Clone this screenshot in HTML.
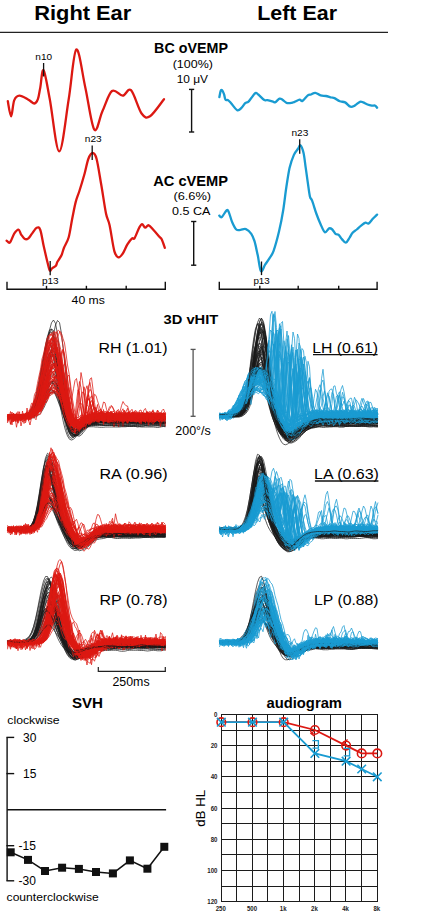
<!DOCTYPE html>
<html><head><meta charset="utf-8"><style>
html,body{margin:0;padding:0;background:#fff;}
body{width:422px;height:913px;overflow:hidden;}
svg{display:block;font-family:"Liberation Sans", sans-serif;}
</style></head><body>
<svg width="422" height="913" viewBox="0 0 422 913">
<rect width="422" height="913" fill="#fff"/>
<text transform="translate(34.2 20.3) scale(1.056 1)" font-size="20.7" font-weight="bold">Right Ear</text>
<text transform="translate(257.2 19.9) scale(1.046 1)" font-size="20.5" font-weight="bold">Left Ear</text>
<line x1="0" y1="32.3" x2="388" y2="32.3" stroke="#222" stroke-width="1.3"/>
<path d="M7.8 101.1C8.3 103.6 10 116.4 11.1 116.3C12.2 116.2 12.8 103.8 14.2 100.4C15.6 97 17 95.8 19.4 95.7C21.8 95.6 25.9 98.4 28.4 99.7C30.9 101 32.8 103.6 34.4 103.5C36 103.4 36.9 101.9 37.9 99.2C38.9 96.5 39.3 92.2 40.3 87.4C41.2 82.6 42 68.3 43.6 70.3C45.2 72.3 47.2 85.7 49.8 99.2C52.4 112.7 56.1 151.4 59.2 151.4C62.4 151.4 65.9 116.2 68.7 99.2C71.5 82.2 73.5 51.5 76.3 49.5C79.1 47.5 82.3 74.1 85.3 87.4C88.3 100.8 91.4 125.7 94.3 129.6C97.2 133.5 99.5 117.4 102.5 111C105.5 104.6 108.6 93.5 112 91C115.4 88.5 119.5 95.8 122.7 95.7C125.9 95.6 127.8 87.2 131 90.2C134.2 93.2 138.4 109.2 141.6 113.5C144.8 117.8 146.3 118.7 150 116.3C153.7 113.9 161.7 102 164 99.2" fill="none" stroke="#dc1812" stroke-width="2.3" stroke-linejoin="round" stroke-linecap="round"/>
<path d="M219.4 97.1C219.6 96.1 220.2 92.3 220.6 91.1C221 89.9 221.4 89.6 222 90.1C222.6 90.6 223.4 92.5 224 94.1C224.6 95.7 224.8 98.7 225.5 99.7C226.2 100.7 227.2 99.5 228.1 100.1C229 100.7 229.6 101.5 231.1 103.2C232.6 104.9 235.5 109.4 237.2 110.2C238.9 111 239.9 109.4 241.2 108.2C242.5 107 244 104.3 245.2 103.2C246.4 102.1 247.2 102.7 248.2 101.8C249.2 100.9 250.1 99.5 251.3 98.1C252.5 96.6 254.1 93.7 255.3 93.1C256.5 92.5 256.8 93.3 258.3 94.5C259.8 95.7 262.8 99.2 264.3 100.1C265.8 101 265.9 99.8 267.4 100.1C268.9 100.4 272.1 101.4 273.4 101.8C274.7 102.2 274.4 102.7 275.4 102.2C276.4 101.7 278.3 99.1 279.5 98.7C280.7 98.3 281.3 99 282.5 99.7C283.7 100.4 285 102.3 286.5 102.8C288 103.3 290.1 103 291.5 102.8C292.9 102.6 293.2 102.3 294.6 101.8C296 101.3 298.3 99.8 299.6 99.7C300.9 99.6 301.1 101.6 302.5 100.9C303.9 100.2 306.4 96.5 307.8 95.4C309.2 94.3 309.8 94.9 311 94.5C312.2 94.1 313.7 92.6 315.3 92.8C316.9 93 318.8 94.9 320.6 95.4C322.4 95.9 324.1 95.7 325.9 96C327.7 96.3 329.9 97.2 331.3 97.5C332.7 97.8 333.1 97.5 334.5 98.1C335.9 98.7 338 100.6 339.8 101.3C341.6 102 343.3 101.5 345.1 102.4C346.9 103.3 348.8 106.2 350.4 106.7C352 107.2 353.1 106.4 354.7 105.6C356.3 104.8 358.6 102.3 360 101.8C361.4 101.3 361.9 102 363.2 102.4C364.4 102.9 366.1 104 367.5 104.5C368.9 105 370.6 105.4 371.8 105.6C373.1 105.8 374.1 105.2 375 105.6C375.9 105.9 376.8 107.3 377.1 107.7" fill="none" stroke="#199bd1" stroke-width="2.3" stroke-linejoin="round" stroke-linecap="round"/>
<path d="M6.6 240.7C7.2 241 8.7 243.6 10 242.4C11.3 241.2 12.8 235.7 14.2 233.6C15.6 231.5 17.3 229.4 18.5 229.6C19.7 229.8 20.2 233.2 21.3 234.8C22.4 236.4 23.7 238.4 24.9 239C26.1 239.6 27.2 239.2 28.4 238.3C29.6 237.4 30.6 235.4 32 233.6C33.4 231.8 35.3 228.3 36.7 227.7C38.1 227.1 39.1 226.8 40.3 230C41.5 233.2 42.6 241.3 43.8 246.6C45 251.9 46.4 258 47.4 262C48.4 266 49 269.5 49.8 270.5C50.6 271.5 51.3 268.9 52.3 268.1C53.3 267.3 55.1 266.7 55.9 265.7C56.7 264.7 56.7 263.3 57.3 262.1C57.9 260.9 58.8 259.8 59.5 258.6C60.2 257.4 60.9 256.8 61.6 255C62.4 253.2 62.8 250.8 64 247.8C65.2 244.8 67.3 242.1 68.7 237.2C70.1 232.3 71.1 224.1 72.3 218.2C73.5 212.3 74.6 206.1 75.8 201.6C77 197.1 77.9 195.7 79.4 191C80.9 186.3 83.2 178.5 84.7 173.2C86.2 167.9 87 162.4 88.3 159C89.6 155.6 91.3 153 92.7 153C94.1 153 95.2 153.7 96.6 159C98 164.3 99.7 175.9 101.3 185C102.9 194.1 104.6 206.8 106 213.5C107.4 220.2 108.2 219 109.6 225.3C111 231.6 112.9 246.1 114.4 251.4C115.9 256.7 117 256.9 118.4 257.3C119.8 257.7 121.2 255.9 122.7 253.7C124.2 251.5 125.8 246.9 127.4 244.3C129 241.7 130.9 239.3 132.1 238.3C133.3 237.3 133.3 240.1 134.5 238.3C135.7 236.5 137.9 230.1 139.2 227.7C140.5 225.3 141.1 224.1 142.1 224.1C143.1 224.1 144.1 227.5 145.2 227.7C146.3 227.9 147.3 224.9 148.7 225.3C150.1 225.7 151.7 228.1 153.5 230C155.3 231.9 158 235.1 159.4 236.7C160.8 238.3 160.9 237.7 161.8 239.5C162.7 241.3 164.3 246.4 164.8 247.8" fill="none" stroke="#dc1812" stroke-width="2.3" stroke-linejoin="round" stroke-linecap="round"/>
<path d="M219.3 215.6C219.7 215.8 220.6 218 221.8 217.1C223 216.2 225.5 211.1 226.7 210.3C227.9 209.5 228 210.5 228.9 212.4C229.8 214.3 230.9 219.2 232.1 222C233.3 224.8 234.9 228.2 236.3 229.5C237.7 230.8 239 230 240.6 229.9C242.2 229.8 244.1 228.4 245.9 229.1C247.7 229.8 249.9 231.8 251.3 233.8C252.7 235.8 253.4 237.6 254.5 241.2C255.6 244.8 256.6 250.1 257.7 255.1C258.8 260.1 259.7 269.5 260.9 271.1C262.1 272.7 263.7 266.8 265.1 264.7C266.5 262.6 268 260.6 269.4 258.3C270.8 256 272 255.2 273.6 250.8C275.2 246.4 277.4 238.3 279 231.6C280.6 224.8 282 217.8 283.2 210.3C284.4 202.8 285.3 193.9 286.4 186.8C287.5 179.7 288.4 173 289.6 167.7C290.9 162.4 292.5 158.1 293.9 154.9C295.3 151.7 297.1 150.1 298.2 148.5C299.3 146.9 299.6 144.6 300.5 145.3C301.4 146 302.6 149 303.5 152.7C304.4 156.4 305 162.7 305.7 167.7C306.4 172.7 307.1 177.8 307.8 182.6C308.5 187.4 309.2 193.4 309.9 196.4C310.6 199.4 311 197.8 312.1 200.7C313.2 203.5 314.9 209.6 316.3 213.5C317.7 217.4 319.2 221.1 320.6 224.2C322 227.3 323.5 231.6 324.9 232.3C326.3 233 327.9 228.9 329.1 228.4C330.3 227.9 331.2 228.6 332.3 229.5C333.4 230.4 334.4 232.9 335.5 233.8C336.6 234.7 337.6 233.9 338.7 234.8C339.8 235.7 340.7 237.8 341.9 239.1C343.1 240.4 344.6 242.9 345.8 242.7C347.1 242.5 348.3 239.7 349.4 238C350.5 236.3 351.4 234.1 352.6 232.7C353.8 231.3 355.4 230.7 356.8 229.5C358.2 228.3 359.7 226.8 361.1 225.7C362.5 224.6 364.1 223.1 365.4 222.7C366.6 222.3 367.4 224.2 368.6 223.5C369.8 222.8 371.4 220.3 372.8 218.8C374.2 217.3 376.4 215.3 377.1 214.6" fill="none" stroke="#199bd1" stroke-width="2.3" stroke-linejoin="round" stroke-linecap="round"/>
<text transform="translate(154.1 53) scale(1.036 1)" font-size="13.8" font-weight="bold">BC oVEMP</text>
<text transform="translate(172.7 67.6) scale(1.075 1)" font-size="11.6">(100%)</text>
<text transform="translate(176.7 82.6) scale(1.027 1)" font-size="11.6">10 μV</text>
<text transform="translate(153.2 185.7) scale(1.061 1)" font-size="13.8" font-weight="bold">AC cVEMP</text>
<text transform="translate(173.4 199.9) scale(1.105 1)" font-size="11.6">(6.6%)</text>
<text transform="translate(172.1 215.3) scale(1.080 1)" font-size="11.6">0.5 CA</text>
<line x1="191.6" y1="89.4" x2="191.6" y2="132" stroke="#111" stroke-width="1.4"/>
<line x1="189" y1="89.4" x2="194.2" y2="89.4" stroke="#111" stroke-width="1.4"/>
<line x1="189" y1="132" x2="194.2" y2="132" stroke="#111" stroke-width="1.4"/>
<line x1="193.7" y1="221.5" x2="193.7" y2="265.2" stroke="#111" stroke-width="1.4"/>
<line x1="191.1" y1="221.5" x2="196.3" y2="221.5" stroke="#111" stroke-width="1.4"/>
<line x1="191.1" y1="265.2" x2="196.3" y2="265.2" stroke="#111" stroke-width="1.4"/>
<text transform="translate(35.3 59.5) scale(1.047 1)" font-size="9.6">n10</text>
<line x1="43.6" y1="63" x2="43.6" y2="76.5" stroke="#111" stroke-width="1.3"/>
<text transform="translate(84.8 141.5) scale(1.057 1)" font-size="9.6">n23</text>
<line x1="92.2" y1="145.4" x2="92.2" y2="160" stroke="#111" stroke-width="1.3"/>
<text transform="translate(291.4 135.9) scale(1.057 1)" font-size="9.6">n23</text>
<line x1="299.7" y1="139.2" x2="299.7" y2="153.8" stroke="#111" stroke-width="1.3"/>
<text transform="translate(41.9 284.1) scale(1.047 1)" font-size="9.6">p13</text>
<line x1="50.2" y1="261" x2="50.2" y2="275.3" stroke="#111" stroke-width="1.3"/>
<text transform="translate(253.4 284.3) scale(1.020 1)" font-size="9.6">p13</text>
<line x1="261.5" y1="261.5" x2="261.5" y2="275.1" stroke="#111" stroke-width="1.3"/>
<line x1="7" y1="289.2" x2="165.3" y2="289.2" stroke="#111" stroke-width="1.4"/>
<line x1="7" y1="281.8" x2="7" y2="289.9" stroke="#111" stroke-width="1.4"/>
<line x1="165.3" y1="281.8" x2="165.3" y2="289.9" stroke="#111" stroke-width="1.4"/>
<line x1="46.5" y1="285.8" x2="46.5" y2="289.9" stroke="#111" stroke-width="1.4"/>
<line x1="86.4" y1="285.8" x2="86.4" y2="289.9" stroke="#111" stroke-width="1.4"/>
<line x1="126.2" y1="285.8" x2="126.2" y2="289.9" stroke="#111" stroke-width="1.4"/>
<line x1="219.3" y1="289.2" x2="377.1" y2="289.2" stroke="#111" stroke-width="1.4"/>
<line x1="219.3" y1="281.8" x2="219.3" y2="289.9" stroke="#111" stroke-width="1.4"/>
<line x1="377.1" y1="281.8" x2="377.1" y2="289.9" stroke="#111" stroke-width="1.4"/>
<line x1="259.8" y1="285.8" x2="259.8" y2="289.9" stroke="#111" stroke-width="1.4"/>
<line x1="298.2" y1="285.8" x2="298.2" y2="289.9" stroke="#111" stroke-width="1.4"/>
<line x1="338.7" y1="285.8" x2="338.7" y2="289.9" stroke="#111" stroke-width="1.4"/>
<text transform="translate(71.6 304) scale(1.053 1)" font-size="11.6">40 ms</text>
<text transform="translate(163.6 324.1) scale(1.130 1)" font-size="13" font-weight="bold">3D vHIT</text>
<line x1="193.1" y1="349.4" x2="193.1" y2="416.3" stroke="#555" stroke-width="1.3"/>
<line x1="190.6" y1="349.4" x2="195.6" y2="349.4" stroke="#555" stroke-width="1.3"/>
<line x1="190.6" y1="416.3" x2="195.6" y2="416.3" stroke="#555" stroke-width="1.3"/>
<text transform="translate(175.3 434.7) scale(1.039 1)" font-size="12">200°/s</text>
<g transform="scale(.25)" fill="none" stroke-linejoin="round">
<g stroke="#1a1a1a" stroke-width="2.8">
<path d="M30 1665l8 0 8 0 8-1 8 0 8-1 8 0 8-1 8-2 8 0 8-1 8-1 8-5 8-7 8-12 8-16 8-22 8-28 8-34 8-36 8-36 8-32 8-23 8-13 8 2 8 20 8 35 8 46 8 52 8 54 8 49 8 42 8 30 8 16 8 4 8-2 8-8 8-11 8-12 8-9 8-7 8-6 8-4 8-2 8-1 8 1 8 0 8 0 8 0 8-1 8-1 8 0 8 0 8 2 8 1 8 1 8-1 8-1 8-2 8 0 8 2 8 1 8 0 8-1 8-1 8 0 8 0 8 1 8-1 8 0 8-1 8 0 8 1 8 1 8 1 8-1 8 0 8 0 8 1 8 1"/>
<path d="M30 1666l8 1 8-1 8-1 8 0 8-1 8-1 8 0 8-1 8 0 8-1 8-1 8-3 8-4 8-5 8-8 8-10 8-12 8-13 8-15 8-16 8-13 8-8 8-3 8 4 8 10 8 15 8 19 8 21 8 24 8 24 8 23 8 19 8 14 8 4 8-2 8-4 8-6 8-5 8-4 8-4 8-3 8-3 8-2 8-2 8-1 8-1 8 1 8 0 8 1 8-1 8 0 8 1 8 0 8 1 8-1 8 0 8 0 8 0 8 1 8 1 8 1 8 0 8 1 8 0 8 0 8 0 8-1 8-2 8-1 8-1 8 0 8 0 8 1 8 2 8 0 8 0 8-1 8 0 8-1"/>
<path d="M30 1662l8 0 8 0 8 1 8 0 8-1 8-1 8-1 8 1 8 0 8 0 8-1 8-2 8-3 8-5 8-8 8-12 8-15 8-20 8-24 8-27 8-23 8-17 8-8 8 5 8 19 8 29 8 35 8 34 8 32 8 26 8 22 8 14 8 6 8 0 8-3 8-4 8-6 8-5 8-5 8-3 8-2 8-2 8-2 8-1 8 0 8 1 8 2 8 1 8 1 8-1 8-2 8-2 8-1 8 2 8 2 8 2 8 0 8-1 8-1 8-1 8 0 8 0 8-1 8 0 8 1 8 0 8 1 8-1 8 0 8 0 8 0 8 0 8 1 8 1 8 0 8 0 8 0 8-1 8-1"/>
<path d="M30 1666l8-1 8 0 8 0 8 0 8 1 8 1 8 0 8 1 8-1 8-2 8-4 8-5 8-9 8-14 8-18 8-25 8-28 8-31 8-31 8-27 8-19 8-7 8 6 8 21 8 32 8 39 8 42 8 42 8 40 8 34 8 26 8 15 8 4 8-4 8-8 8-12 8-10 8-8 8-7 8-4 8-3 8-2 8-1 8 0 8 0 8 0 8 0 8-1 8-1 8 0 8 1 8 0 8 0 8-1 8-1 8 1 8 0 8 1 8 0 8 0 8 0 8-1 8 0 8-1 8 0 8 1 8 1 8 0 8 0 8-1 8 0 8 0 8 1 8 0 8-1 8 0 8 1 8 1 8 2"/>
<path d="M30 1670l8 0 8 0 8 0 8-1 8-2 8-1 8 0 8 2 8 2 8 1 8 1 8 0 8-1 8-3 8-5 8-6 8-10 8-13 8-17 8-22 8-25 8-25 8-21 8-16 8-9 8 2 8 16 8 27 8 34 8 35 8 35 8 31 8 25 8 16 8 8 8 0 8-5 8-8 8-8 8-7 8-6 8-4 8-3 8-1 8 0 8 0 8 0 8 0 8 0 8 0 8 1 8 1 8 1 8 0 8 1 8 1 8 1 8 0 8-1 8 0 8-1 8-1 8 0 8-1 8-1 8-1 8 0 8 1 8 0 8 1 8 0 8 0 8 0 8 0 8 0 8-1 8 0 8 0 8 0"/>
<path d="M30 1667l8-2 8-2 8-1 8 0 8-1 8 0 8 0 8 0 8 0 8 1 8-1 8-2 8-6 8-9 8-12 8-16 8-19 8-21 8-20 8-16 8-11 8-3 8 7 8 17 8 25 8 28 8 30 8 28 8 26 8 23 8 19 8 10 8 1 8-4 8-7 8-10 8-9 8-7 8-5 8-3 8-1 8-1 8-1 8-1 8-1 8-1 8-1 8 0 8 0 8 0 8 1 8 2 8 0 8 0 8-1 8 0 8-1 8-2 8 0 8 1 8 0 8 1 8 0 8 0 8 0 8 0 8 0 8 1 8 0 8 1 8 1 8 1 8 0 8 0 8-1 8-2 8-1 8 0 8 0"/>
<path d="M30 1667l8 0 8 1 8-1 8 0 8-2 8-1 8 0 8 0 8 0 8-1 8-4 8-8 8-11 8-16 8-22 8-28 8-35 8-39 8-39 8-31 8-18 8-2 8 17 8 35 8 48 8 53 8 52 8 47 8 40 8 30 8 17 8 4 8-4 8-10 8-13 8-12 8-10 8-7 8-6 8-4 8-3 8 0 8 1 8 2 8 0 8-1 8 0 8 0 8 0 8 0 8-1 8 0 8 0 8 0 8 0 8 0 8 0 8 1 8 0 8 1 8 0 8-1 8-1 8 0 8 0 8 0 8 0 8 1 8 0 8 1 8-1 8 0 8 0 8-1 8-1 8-1 8-1 8 0 8 0"/>
<path d="M30 1664l8 0 8-1 8-1 8-1 8 0 8 1 8 1 8 0 8-1 8-3 8-5 8-8 8-13 8-19 8-26 8-35 8-44 8-49 8-49 8-45 8-34 8-16 8 6 8 31 8 52 8 63 8 66 8 62 8 52 8 41 8 30 8 18 8 7 8-1 8-6 8-7 8-8 8-5 8-4 8-5 8-4 8-4 8-2 8-1 8 0 8 1 8 2 8 1 8 0 8 0 8 0 8 1 8 0 8 0 8 1 8 0 8 0 8 0 8 1 8 1 8 0 8 0 8-1 8-1 8-1 8 0 8-1 8 0 8 1 8 1 8 1 8 0 8-1 8 0 8 0 8 0 8 0 8 1 8 1"/>
<path d="M30 1669l8-1 8-2 8-1 8 1 8 0 8 1 8 0 8 0 8-1 8-1 8-2 8-5 8-8 8-12 8-18 8-24 8-32 8-37 8-38 8-34 8-24 8-12 8 3 8 20 8 35 8 45 8 51 8 50 8 47 8 38 8 26 8 13 8 2 8-5 8-9 8-12 8-10 8-9 8-5 8-4 8-2 8-1 8 0 8-1 8 0 8-1 8 0 8-2 8-2 8 0 8 1 8 1 8 0 8 0 8 1 8 0 8 0 8 0 8 1 8 0 8-1 8-1 8 0 8 0 8 0 8 1 8 0 8-1 8-2 8 0 8 0 8 0 8 0 8 0 8 1 8 1 8 1 8 0 8 1"/>
<path d="M30 1663l8 0 8 1 8 0 8 0 8 0 8 1 8 0 8-1 8-1 8-1 8-2 8-4 8-5 8-8 8-9 8-13 8-17 8-19 8-20 8-18 8-13 8-9 8-1 8 11 8 22 8 30 8 30 8 29 8 25 8 22 8 18 8 13 8 6 8-1 8-4 8-9 8-10 8-10 8-8 8-6 8-4 8-1 8-1 8 0 8-1 8-1 8 0 8 1 8 0 8 1 8 0 8 0 8 0 8 0 8 0 8-1 8 0 8-1 8-1 8-1 8 0 8 2 8 1 8 1 8-1 8-2 8 0 8 0 8 1 8 1 8 1 8 0 8-1 8-2 8 0 8 0 8 0 8 0 8 0"/>
<path d="M30 1662l8 1 8 1 8 1 8 1 8 1 8 1 8 0 8-1 8-1 8-1 8-4 8-5 8-7 8-11 8-16 8-19 8-24 8-27 8-26 8-22 8-15 8-3 8 11 8 27 8 34 8 37 8 34 8 30 8 24 8 19 8 14 8 7 8 0 8-4 8-7 8-7 8-7 8-7 8-6 8-5 8-4 8-2 8-1 8-1 8 1 8 1 8 1 8-2 8-2 8-1 8 0 8 1 8 1 8 1 8 1 8 0 8 0 8 1 8 1 8 0 8-1 8-1 8 0 8 0 8 0 8 0 8 0 8-1 8 0 8 0 8 0 8 0 8-1 8 1 8 0 8 2 8 1 8 0 8-1"/>
<path d="M30 1667l8 1 8-1 8-1 8 0 8-1 8 0 8-1 8-1 8 0 8 1 8 0 8-1 8-5 8-8 8-14 8-19 8-23 8-26 8-30 8-30 8-26 8-20 8-10 8 3 8 19 8 31 8 40 8 45 8 45 8 40 8 33 8 22 8 9 8 0 8-7 8-11 8-11 8-11 8-9 8-6 8-3 8-2 8-1 8 0 8-1 8-2 8 0 8 1 8 1 8 2 8 1 8 0 8-1 8 0 8 0 8 1 8 0 8 1 8 1 8 0 8 1 8 0 8 0 8-1 8-1 8 0 8-1 8 1 8 0 8-1 8-1 8 0 8 0 8 0 8-1 8 0 8-1 8 1 8 0"/>
<path d="M30 1667l8 0 8-1 8-1 8 0 8 1 8 1 8 0 8 0 8-1 8-1 8-2 8-3 8-3 8-5 8-7 8-10 8-12 8-12 8-11 8-11 8-10 8-7 8-4 8 4 8 13 8 19 8 23 8 22 8 22 8 19 8 13 8 7 8 1 8-4 8-6 8-7 8-6 8-6 8-5 8-2 8-2 8 0 8-1 8 0 8 1 8 1 8 1 8 0 8-1 8 0 8 0 8-1 8 0 8 0 8 1 8 0 8 0 8 0 8 0 8 1 8 0 8 1 8 0 8 0 8-1 8 0 8-1 8 0 8-1 8 0 8 1 8 2 8 0 8-1 8-1 8-1 8 0 8 0 8 0"/>
<path d="M30 1670l8 1 8-1 8 0 8-1 8 0 8 0 8 0 8-1 8-1 8-2 8-2 8-2 8-3 8-4 8-7 8-8 8-11 8-14 8-15 8-13 8-11 8-7 8-3 8 3 8 10 8 16 8 20 8 23 8 24 8 24 8 23 8 16 8 7 8 0 8-4 8-7 8-7 8-6 8-5 8-4 8-3 8-2 8-2 8-1 8 0 8 0 8 0 8-1 8-1 8-1 8 0 8 1 8 2 8 1 8 0 8 0 8 0 8-1 8 0 8 1 8 0 8-1 8 0 8 0 8-1 8 0 8 1 8 0 8 0 8 1 8 0 8 0 8 0 8 0 8 0 8 0 8-1 8 0 8 0"/>
<path d="M30 1666l8-1 8 1 8 1 8 1 8 0 8 0 8-1 8-2 8-2 8-4 8-7 8-11 8-18 8-25 8-33 8-42 8-48 8-49 8-44 8-34 8-19 8 0 8 28 8 51 8 63 8 64 8 59 8 49 8 39 8 28 8 18 8 6 8-1 8-7 8-8 8-8 8-7 8-4 8-2 8-1 8-1 8-2 8-2 8-2 8-1 8 0 8 0 8-1 8 1 8 1 8 1 8 0 8-2 8-1 8-1 8-1 8 1 8 1 8 1 8 1 8 1 8 0 8 0 8 0 8-1 8 1 8 0 8 0 8 0 8 1 8 0 8 0 8 0 8 0 8 0 8-1 8 0 8 0 8-1"/>
<path d="M30 1662l8 0 8 0 8 1 8 0 8 1 8-1 8 0 8-1 8-1 8-2 8-4 8-8 8-11 8-15 8-21 8-24 8-29 8-34 8-34 8-33 8-28 8-21 8-10 8 5 8 26 8 44 8 53 8 55 8 51 8 42 8 31 8 18 8 8 8 0 8-5 8-8 8-8 8-7 8-5 8-3 8-3 8-3 8-2 8-2 8 0 8 2 8 2 8 2 8 1 8 0 8 0 8 0 8 0 8-1 8-3 8-2 8-1 8 2 8 2 8 2 8-1 8 0 8 0 8 0 8 0 8-1 8-1 8-1 8-1 8 0 8 0 8 1 8 1 8 0 8-1 8-1 8 0 8 0 8 1"/>
<path d="M30 1668l8 0 8 1 8 0 8-1 8 0 8 0 8 0 8-1 8-1 8-1 8-1 8-2 8-5 8-9 8-12 8-15 8-16 8-18 8-18 8-16 8-12 8-7 8 0 8 10 8 19 8 24 8 28 8 27 8 25 8 22 8 16 8 10 8 4 8-1 8-4 8-5 8-5 8-4 8-3 8-2 8-2 8 0 8 0 8 0 8-2 8-1 8-1 8 0 8 0 8 0 8 0 8 1 8 1 8 0 8 0 8 1 8 0 8 0 8 0 8 0 8-1 8-1 8 0 8 0 8 2 8 2 8 2 8-1 8-2 8-2 8-1 8 0 8 0 8 0 8 0 8 1 8 1 8 0 8 0"/>
<path d="M30 1663l8 0 8 1 8 1 8 0 8 0 8 0 8 0 8 0 8 0 8 0 8-1 8-2 8-4 8-6 8-9 8-14 8-20 8-25 8-30 8-31 8-30 8-21 8-10 8 5 8 19 8 31 8 38 8 42 8 41 8 37 8 28 8 17 8 7 8 0 8-6 8-9 8-10 8-8 8-7 8-4 8-3 8-1 8-1 8 0 8 0 8 0 8-1 8 0 8-1 8 0 8-1 8-1 8 0 8-1 8 0 8 1 8 1 8 1 8 0 8-1 8-1 8 0 8 0 8 1 8 1 8 1 8 0 8 0 8 0 8 0 8 0 8 0 8 1 8 1 8 0 8-1 8-1 8 0 8 0"/>
<path d="M30 1666l8 0 8 1 8 0 8 0 8 0 8-1 8-1 8-1 8-1 8 0 8-2 8-4 8-5 8-10 8-14 8-19 8-23 8-25 8-26 8-25 8-21 8-13 8-2 8 12 8 24 8 30 8 34 8 34 8 32 8 28 8 22 8 16 8 8 8 2 8-1 8-3 8-3 8-4 8-3 8-1 8-2 8-1 8 0 8-1 8 0 8-1 8 0 8 0 8 0 8 0 8 0 8 0 8 1 8 0 8 0 8 1 8 1 8 2 8 0 8-1 8-2 8-2 8 0 8 0 8 0 8 0 8 0 8 0 8 0 8 0 8 0 8 1 8 0 8 0 8 0 8 0 8 0 8-1 8-1"/>
<path d="M30 1669l8 0 8-1 8-1 8-2 8-2 8 1 8 1 8 1 8-1 8 0 8-2 8-2 8-3 8-7 8-8 8-11 8-13 8-15 8-15 8-13 8-10 8-5 8 2 8 12 8 18 8 22 8 21 8 19 8 18 8 16 8 16 8 11 8 4 8-1 8-5 8-7 8-7 8-6 8-6 8-5 8-3 8-1 8 0 8 1 8 0 8 0 8 1 8 0 8 1 8 0 8 0 8 0 8 0 8 0 8-1 8-1 8-1 8 1 8 0 8 0 8 1 8 0 8 0 8 0 8-1 8 1 8 0 8 0 8 0 8 0 8-1 8-1 8 0 8-1 8-1 8 1 8 2 8 2 8 1"/>
<path d="M30 1667l8-2 8-1 8 1 8 1 8 1 8 0 8-1 8-2 8-3 8-6 8-7 8-10 8-15 8-20 8-27 8-31 8-35 8-35 8-34 8-29 8-20 8-8 8 8 8 28 8 43 8 53 8 53 8 48 8 42 8 34 8 23 8 11 8 1 8-3 8-6 8-6 8-7 8-6 8-5 8-2 8-2 8-1 8 0 8 0 8-1 8 1 8 0 8 1 8 1 8 0 8 1 8 0 8 0 8-2 8-1 8-1 8-1 8 0 8 0 8 1 8 1 8 2 8 0 8 0 8 0 8 0 8 0 8-1 8 0 8-1 8-1 8 0 8-1 8 0 8 1 8 1 8 1 8 1 8-1"/>
<path d="M30 1667l8 0 8 0 8 0 8 1 8 1 8 0 8 0 8-1 8-2 8-3 8-5 8-8 8-11 8-15 8-20 8-23 8-27 8-30 8-31 8-30 8-24 8-14 8-4 8 13 8 32 8 45 8 52 8 52 8 47 8 37 8 25 8 11 8 2 8-5 8-7 8-7 8-7 8-5 8-3 8-2 8-2 8-1 8-1 8 1 8 0 8 0 8 0 8-1 8-1 8 0 8 1 8 1 8 0 8 0 8-1 8 0 8 0 8 0 8 0 8 1 8 1 8 1 8 0 8-1 8-2 8 0 8 0 8 1 8 0 8 0 8-1 8 0 8-1 8 1 8 0 8 1 8-1 8-1 8-1"/>
<path d="M30 1667l8 0 8 1 8-1 8-1 8-1 8 0 8 1 8-1 8-2 8-6 8-10 8-14 8-19 8-27 8-34 8-40 8-43 8-41 8-34 8-21 8-5 8 20 8 42 8 56 8 60 8 56 8 48 8 40 8 31 8 22 8 13 8 3 8-3 8-8 8-10 8-11 8-10 8-6 8-4 8-3 8-1 8-1 8-1 8-1 8-1 8 0 8 1 8 1 8 0 8-1 8-1 8 0 8 1 8 0 8 1 8 1 8 0 8 0 8 0 8-1 8 0 8 0 8 0 8 0 8 1 8 1 8 0 8 0 8-2 8-1 8-1 8-1 8 0 8 1 8 1 8 0 8 0 8 0 8-1"/>
<path d="M30 1669l8 1 8 1 8 0 8-1 8-1 8-1 8 0 8-1 8-2 8-1 8 0 8-1 8-2 8-4 8-7 8-12 8-19 8-30 8-40 8-49 8-55 8-56 8-51 8-38 8-18 8 8 8 45 8 71 8 81 8 77 8 64 8 49 8 35 8 22 8 10 8 0 8-5 8-10 8-10 8-9 8-8 8-5 8-2 8-1 8-1 8-1 8 0 8 0 8 0 8-1 8 0 8-1 8 1 8 0 8 0 8 0 8-1 8-1 8-1 8 1 8 2 8 1 8 0 8 0 8 0 8 0 8 0 8 0 8 1 8 0 8 0 8 0 8 0 8-1 8 0 8 0 8 1 8 0 8-1"/>
<path d="M30 1660l8-1 8-1 8 0 8 0 8 1 8 1 8 1 8 0 8-1 8-2 8-2 8-4 8-6 8-8 8-13 8-18 8-24 8-28 8-31 8-34 8-31 8-26 8-17 8-6 8 9 8 23 8 35 8 41 8 45 8 45 8 42 8 36 8 29 8 19 8 7 8-2 8-8 8-11 8-10 8-9 8-7 8-5 8-4 8-2 8-1 8 1 8 0 8-1 8-2 8 0 8 0 8 1 8 0 8 0 8 0 8 0 8-1 8 0 8 0 8 0 8 0 8 0 8 2 8 1 8 0 8-1 8-1 8 0 8-1 8 0 8 0 8 0 8-1 8 0 8 0 8-1 8 1 8 0 8-1"/>
<path d="M30 1665l8 1 8 1 8 0 8-1 8-2 8-1 8 0 8-1 8-1 8-1 8-4 8-6 8-12 8-19 8-25 8-30 8-33 8-35 8-35 8-29 8-21 8-10 8 4 8 21 8 35 8 45 8 49 8 49 8 45 8 38 8 28 8 18 8 6 8 0 8-6 8-10 8-10 8-8 8-6 8-4 8-4 8-2 8-1 8-1 8 1 8 0 8 0 8-1 8-1 8 0 8 1 8 1 8 1 8 1 8 0 8 0 8 0 8-1 8 0 8 0 8 0 8 1 8 1 8 0 8 0 8-1 8 0 8-1 8-2 8-1 8 0 8 1 8 1 8 0 8 1 8 2 8 1 8 0 8-1"/>
</g>
<g stroke="#dc1812" stroke-width="3">
<path d="M30 1668l6-10 6 39 6-18 6-25 6 31 6-2 6-26 6 19 6 8 6-23 6 4 6 9 6-13 6-1 6 8 6-7 6-6 6 2 6-6 6-10 6-3 6-10 6-21 6-17 6-17 6-28 6-24 6-14 6-17 6-16 6-4 6 0 6-1 6 11 6 15 6 11 6 22 6 28 6 18 6 17 6 21 6 3 6-25 6-35 6-33 6-8 6 37 6 56 6 35 6 19 6 11 6-1 6-7 6 0 6-3 6-7 6 1 6 1 6-6 6 1 6 5 6-5 6-3 6 7 6 0 6-5 6 1 6 1 6-3 6 5 6 6 6-7 6-5 6 4 6-2 6-3 6 7 6 2 6-6 6 3 6 4 6-6 6-2 6 5 6-2 6-2 6 5 6-1 6-5 6 5 6 4 6-6 6 1 6 3 6-5 6-1 6 5 6-2 6-1 6 6 6 0 6-5 6 1 6 3 8-8"/>
<path d="M30 1666l6 0 6-3 6 1 6 3 6-2 6-1 6 2 6 1 6-3 6-1 6 1 6-2 6-3 6 0 6-3 6-10 6-7 6-7 6-12 6-16 6-16 6-24 6-34 6-32 6-31 6-35 6-32 6-23 6-17 6-14 6 0 6 10 6 16 6 22 6 32 6 35 6 34 6 36 6 38 6 32 6 27 6 27 6 23 6 13 6 8 6-1 6-22 6-42 6-42 6-24 6 4 6 30 6 38 6 23 6 8 6 2 6-2 6-5 6 2 6 4 6-7 6-5 6 14 6 7 6-18 6-7 6 21 6 1 6-27 6 0 6 28 6 1 6-25 6 4 6 22 6-5 6-19 6 5 6 12 6-4 6-7 6 4 6 6 6 0 6-1 6-1 6 0 6 1 6 0 6-2 6 0 6 3 6-1 6-3 6 1 6 2 6-2 6-1 6 2 6-1 6-2 6 2 6 1 6-4 8 1"/>
</g>
<g stroke="#1a1a1a" stroke-width="2.8">
<path d="M30 1667l8 0 8 0 8 0 8 0 8 0 8 0 8 0 8 1 8 0 8-2 8-3 8-6 8-11 8-17 8-25 8-34 8-44 8-52 8-55 8-53 8-45 8-30 8-11 8 14 8 42 8 63 8 72 8 71 8 64 8 51 8 37 8 23 8 10 8 3 8-2 8-5 8-5 8-4 8-4 8-2 8-1 8 0 8 0 8 1 8 0 8 1 8 0 8 0 8-1 8 0 8 0 8 0 8 0 8 0 8 0 8 0 8-1 8 0 8 0 8-1 8 0 8 0 8-1 8 1 8 1 8 0 8 1 8 0 8 0 8 0 8 0 8 0 8 0 8 1 8 1 8-1 8-2 8-1 8 1"/>
</g>
<g stroke="#dc1812" stroke-width="3">
<path d="M30 1665l6 4 6-2 6-3 6 3 6 1 6 0 6 5 6-1 6-5 6 0 6-2 6-1 6 2 6-5 6-10 6-3 6-9 6-17 6-17 6-27 6-35 6-34 6-37 6-38 6-27 6-23 6-20 6-2 6 9 6 15 6 28 6 33 6 37 6 44 6 40 6 33 6 35 6 28 6 19 6 17 6 10 6 3 6 2 6-2 6-9 6-4 6-4 6-7 6-3 6-2 6-7 6-1 6-1 6-4 6 2 6 1 6-5 6 1 6 4 6-2 6 1 6 2 6-4 6-1 6 4 6 0 6 2 6 1 6-2 6 1 6 1 6-4 6-2 6 2 6-3 6-2 6 9 6-9 6-1 6 13 6-18 6 11 6 8 6-20 6 22 6 0 6-14 6 11 6-7 6-4 6 5 6-1 6-1 6 2 6 5 6-2 6-2 6 2 6-1 6-1 6 1 6-2 6 1 6 1 8-6"/>
<path d="M30 1667l6 2 6-3 6-1 6 4 6 2 6-2 6-2 6 1 6-1 6-2 6 0 6-2 6-5 6-2 6 0 6-4 6-7 6-10 6-10 6-14 6-19 6-20 6-22 6-28 6-27 6-25 6-24 6-21 6-16 6-10 6-8 6 1 6 9 6 15 6 21 6 27 6 33 6 32 6 29 6 29 6 30 6 24 6 20 6 16 6 10 6 5 6 3 6 1 6-4 6-5 6-4 6-3 6-3 6-2 6 1 6 1 6-1 6 0 6 0 6-3 6-1 6 3 6 1 6-1 6-1 6 1 6 0 6-2 6 0 6 2 6-1 6-2 6 1 6 2 6 0 6-4 6 1 6 8 6-5 6-9 6 14 6-3 6-20 6 25 6 7 6-33 6 22 6 17 6-35 6 6 6 21 6-15 6 0 6 9 6-6 6-1 6 3 6-1 6 0 6-1 6-3 6 0 6 1 6-1 8 0"/>
<path d="M30 1661l6 8 6-8 6 4 6 2 6-9 6 9 6-4 6-2 6 7 6-8 6 7 6 2 6-8 6 3 6-7 6-4 6 4 6-7 6-8 6-5 6-13 6-21 6-13 6-29 6-32 6-10 6-43 6-26 6-4 6-43 6 7 6 4 6-25 6 48 6 6 6 4 6 65 6-7 6 34 6 58 6-9 6 53 6 26 6-9 6 48 6-9 6-5 6 26 6-29 6 5 6 4 6-26 6 10 6-12 6-14 6 9 6-14 6 6 6 4 6-9 6 10 6-5 6 0 6 5 6-10 6 5 6-2 6-4 6 9 6-8 6 3 6 3 6-8 6 7 6-4 6 1 6 6 6-9 6 7 6-1 6-7 6 7 6-6 6 4 6 5 6-8 6 9 6-3 6-4 6 6 6-7 6 6 6 0 6-8 6 9 6-6 6 0 6 5 6-7 6 9 6-3 6-8 6 7 6-6 8 8"/>
<path d="M30 1675l6-2 6-7 6 5 6 5 6-5 6-1 6 8 6 0 6-7 6 1 6 5 6-6 6-4 6 4 6-5 6-9 6-2 6-5 6-21 6-24 6-19 6-30 6-39 6-32 6-31 6-39 6-30 6-15 6-11 6-5 6 15 6 23 6 19 6 30 6 43 6 35 6 29 6 39 6 37 6 26 6 27 6 29 6 15 6 4 6 8 6 3 6-9 6-8 6-6 6-25 6-39 6-36 6-26 6-7 6 25 6 43 6 23 6 5 6 8 6 1 6-8 6 5 6 1 6-8 6 10 6-1 6-5 6 15 6-19 6 4 6 29 6-37 6 5 6 32 6-42 6 9 6 31 6-31 6 5 6 16 6-14 6 2 6 3 6-3 6-2 6-4 6 5 6 4 6-7 6 0 6 6 6-4 6-3 6 7 6 1 6-7 6 2 6 7 6-5 6-6 6 5 6 0 6-6 6 3 8 4"/>
<path d="M30 1667l6 0 6-4 6 3 6 3 6-7 6 4 6 18 6-5 6-19 6 13 6 21 6-17 6-21 6 24 6 20 6-29 6-22 6 23 6 7 6-32 6-15 6 14 6-5 6-29 6-17 6-3 6-17 6-29 6-15 6-6 6-12 6-11 6 3 6 8 6 2 6 9 6 25 6 21 6 11 6 20 6 28 6 17 6 7 6 14 6 16 6 2 6 0 6 6 6 0 6-11 6-5 6 3 6-5 6-12 6-10 6-17 6-32 6-25 6 5 6 21 6 19 6 18 6 15 6 2 6-5 6 4 6 8 6-2 6-4 6 4 6 2 6-7 6-2 6 8 6 1 6-4 6 2 6 6 6-5 6-5 6 5 6 3 6-6 6-2 6 5 6 0 6-6 6 4 6 7 6-4 6-5 6 3 6 3 6-7 6-3 6 8 6 3 6-5 6 0 6 4 6-4 6-6 6 5 6 4 8-9"/>
<path d="M30 1665l6-2 6 1 6 0 6-3 6 1 6 3 6 0 6-4 6 2 6 0 6 1 6 4 6-4 6-5 6 9 6-5 6-16 6 8 6 1 6-30 6-9 6-1 6-39 6-39 6-17 6-33 6-44 6-24 6-19 6-21 6-7 6 6 6 13 6 15 6 24 6 33 6 28 6 32 6 40 6 28 6 21 6 35 6 20 6 3 6 24 6 16 6-17 6 10 6 15 6-29 6-4 6 23 6-23 6-20 6 22 6-11 6-23 6 20 6 6 6-19 6 9 6 9 6-14 6 0 6 8 6-7 6-3 6 9 6-1 6-5 6 3 6 3 6-7 6 0 6 9 6-2 6-6 6 10 6 1 6-17 6 6 6 11 6-14 6-2 6 13 6-8 6-7 6 16 6-3 6-12 6 11 6 5 6-11 6 4 6 5 6-7 6 0 6 5 6-6 6-3 6 5 6 2 6-2 6 3 8 3"/>
<path d="M30 1659l6 22 6-7 6-16 6 29 6-18 6-3 6 24 6-26 6 4 6 12 6-17 6 10 6 1 6-9 6 3 6-7 6-3 6-2 6-9 6-8 6-7 6-13 6-13 6-12 6-11 6-11 6-8 6-7 6-7 6-3 6 4 6 7 6 8 6 12 6 14 6 16 6 19 6 18 6 15 6 12 6 12 6 8 6 3 6 1 6 0 6-4 6-3 6-3 6-4 6-3 6-2 6-3 6-3 6 1 6 0 6-3 6-3 6 2 6 2 6 1 6 1 6 1 6-1 6-3 6 0 6 0 6 0 6 0 6-1 6-2 6 1 6 3 6 2 6 0 6-1 6 1 6-2 6-1 6 2 6-6 6 3 6 3 6-4 6 3 6-4 6 8 6-6 6-4 6 24 6-32 6 8 6 29 6-46 6 22 6 18 6-32 6 14 6 3 6-3 6-2 6 5 6 10 6-12 6 2 8-3"/>
<path d="M30 1663l6-1 6 6 6-1 6 1 6 2 6-6 6 0 6 4 6-4 6 0 6 5 6-5 6-2 6 6 6-1 6-6 6 2 6-5 6-7 6 1 6-6 6-13 6-7 6-8 6-14 6-7 6-8 6-14 6-4 6-2 6-9 6-5 6-5 6-28 6-48 6-49 6-24 6 34 6 78 6 71 6 50 6 32 6 11 6 7 6 12 6 1 6-6 6 1 6-2 6-6 6-2 6-3 6-9 6-2 6 0 6-4 6 2 6-1 6-7 6 2 6 4 6-5 6 0 6 5 6-4 6 0 6 4 6-4 6-1 6 8 6-4 6-6 6 5 6-1 6-2 6 4 6 0 6-4 6 2 6-1 6-4 6 5 6 1 6-7 6 2 6 4 6-3 6 3 6 6 6-4 6-2 6 0 6-5 6 1 6 5 6-2 6 1 6 6 6-2 6-2 6 5 6-2 6-4 6 4 8-4"/>
<path d="M30 1662l6 0 6-5 6 6 6 3 6-6 6 2 6 5 6-3 6-1 6 5 6-6 6-7 6 3 6-2 6-6 6 3 6 0 6-10 6-8 6-9 6-19 6-22 6-22 6-28 6-36 6-36 6-28 6-34 6-37 6-16 6-5 6-15 6 1 6 32 6 26 6 22 6 52 6 50 6 21 6 33 6 49 6 20 6 9 6 29 6 13 6-11 6 7 6 11 6-11 6-8 6 7 6-6 6-12 6 3 6 0 6-8 6 3 6 5 6-6 6 2 6 5 6-6 6-2 6 6 6-3 6-4 6 3 6-2 6-4 6 4 6 1 6-5 6 3 6 2 6-5 6 3 6 7 6-6 6-1 6 7 6-4 6-3 6 5 6-3 6-3 6 7 6-1 6-8 6 2 6 3 6-5 6 2 6 2 6-4 6 3 6 5 6-5 6-3 6 6 6-2 6-4 6 4 6-1 6-5 8 7"/>
<path d="M30 1660l6 2 6 2 6-1 6 1 6 4 6-1 6-3 6 1 6 1 6-4 6-1 6 4 6 1 6-6 6-1 6 1 6-2 6-6 6-4 6-4 6-8 6-11 6-10 6-10 6-13 6-11 6-8 6-12 6-14 6-7 6-2 6-3 6 3 6 13 6 14 6 12 6 17 6 21 6 17 6 9 6 12 6 14 6 11 6 8 6 12 6 8 6 0 6 0 6 0 6-3 6-8 6-6 6-3 6-6 6-6 6 0 6 3 6-1 6-3 6 1 6 0 6-3 6-1 6 1 6-2 6-1 6 2 6 6 6 0 6-9 6 9 6 1 6-17 6 14 6 5 6-15 6 8 6 2 6-5 6 2 6 0 6 2 6 2 6-1 6 0 6 2 6-2 6-1 6 3 6 1 6-5 6-2 6 4 6 0 6-4 6-1 6 4 6-2 6-3 6 1 6 3 6 1 6-2 6 1 8 1"/>
<path d="M30 1663l6-1 6-1 6 0 6 7 6 3 6-2 6 2 6 2 6-2 6-6 6 6 6 9 6-16 6-6 6 20 6-5 6-16 6 7 6 0 6-19 6-15 6-10 6-20 6-30 6-27 6-29 6-41 6-37 6-32 6-27 6-17 6-8 6 5 6 21 6 26 6 34 6 40 6 40 6 42 6 34 6 28 6 25 6 16 6 15 6 12 6 2 6 1 6-3 6-3 6 0 6-3 6-3 6-2 6-5 6 1 6 0 6-2 6 0 6-2 6-2 6 2 6-2 6 2 6 1 6-2 6 2 6-1 6 1 6 4 6-2 6-2 6 0 6-2 6 0 6 1 6-1 6 0 6-1 6 1 6 3 6-4 6 0 6 2 6-1 6 2 6-2 6-1 6 3 6 0 6 1 6-1 6-4 6 3 6 0 6-1 6 0 6-2 6 2 6 1 6-3 6 4 6 0 6-3 6 2 8 0"/>
</g>
<g stroke="#1a1a1a" stroke-width="2.8">
<path d="M30 1666l8 1 8 0 8 1 8 0 8 0 8 0 8 0 8-2 8-2 8-3 8-4 8-7 8-14 8-21 8-31 8-41 8-50 8-54 8-52 8-42 8-25 8-3 8 22 8 46 8 62 8 67 8 66 8 57 8 47 8 32 8 20 8 6 8 0 8-3 8-7 8-7 8-8 8-6 8-4 8-3 8-1 8-1 8 0 8 0 8 0 8 0 8-1 8 0 8 0 8 1 8 0 8 0 8 1 8 0 8 0 8 1 8 0 8 0 8 0 8 0 8 0 8 1 8 0 8 1 8 1 8-1 8-1 8-1 8-1 8 0 8 0 8 0 8 0 8 0 8 0 8 1 8 0 8 0 8-1"/>
</g>
<g stroke="#dc1812" stroke-width="3">
<path d="M30 1671l6-3 6-3 6 4 6 2 6-3 6 0 6 2 6-2 6-2 6 3 6 1 6-5 6 0 6 7 6 0 6-5 6-2 6-2 6-8 6-6 6-1 6-6 6-14 6-12 6-9 6-16 6-18 6-10 6-9 6-11 6-8 6-1 6 1 6 3 6 12 6 16 6 12 6 15 6 25 6 19 6 14 6 17 6 16 6 6 6 1 6 3 6 1 6-3 6-5 6-4 6-5 6-4 6 2 6 0 6-8 6-5 6 4 6 3 6-3 6-1 6 5 6 1 6-10 6 5 6 7 6-16 6 5 6 8 6-17 6 15 6 8 6-23 6 21 6-3 6-25 6 35 6-11 6-28 6 37 6-12 6-22 6 33 6-13 6-14 6 23 6-11 6-4 6 12 6-10 6 4 6 6 6-7 6 5 6 4 6-8 6-2 6 6 6-1 6-3 6 1 6 1 6-2 6 0 6 3 8-1"/>
<path d="M30 1677l6-10 6 2 6 9 6-8 6 5 6 4 6-12 6 6 6 6 6-8 6 9 6 0 6-14 6 12 6 1 6-18 6 9 6-3 6-23 6 4 6-10 6-32 6 2 6-11 6-40 6 1 6-16 6-42 6 15 6-5 6-27 6 32 6 11 6-12 6 42 6 23 6-4 6 43 6 33 6-10 6 30 6 33 6-16 6 23 6 21 6-31 6 14 6 11 6-32 6 11 6 2 6-31 6 16 6 1 6-22 6 22 6-18 6-23 6-5 6-29 6 37 6 17 6-3 6 25 6-20 6 11 6 3 6-16 6 17 6-11 6 0 6 7 6-12 6 10 6 1 6-5 6 12 6-7 6-1 6 6 6-10 6 5 6-1 6-6 6 9 6-6 6 0 6 3 6-10 6 7 6 1 6-5 6 10 6-6 6 2 6 8 6-9 6 6 6-2 6-8 6 8 6-7 6 1 6 4 8-9"/>
<path d="M30 1672l6 5 6-1 6-7 6-2 6 3 6 0 6-3 6 1 6 7 6 0 6-5 6 2 6 5 6-1 6-5 6-2 6-2 6-6 6-10 6-4 6-5 6-16 6-22 6-18 6-18 6-28 6-28 6-18 6-14 6-15 6-10 6 3 6 9 6 7 6 3 6 0 6-10 6-13 6 13 6 50 6 60 6 47 6 35 6 24 6 9 6-3 6 0 6 5 6-2 6-9 6-3 6 1 6-5 6-6 6 1 6 5 6-3 6-7 6-1 6 4 6 0 6-4 6 2 6 4 6-2 6-4 6 3 6 4 6-2 6-1 6 3 6 3 6-4 6-4 6 1 6 3 6-1 6-2 6 1 6 0 6-4 6 0 6 5 6 2 6-4 6-3 6 4 6 6 6-2 6-6 6 5 6 8 6-11 6-9 6 17 6 4 6-26 6 2 6 28 6-11 6-25 6 23 6 17 6-26 8 3"/>
</g>
<g stroke="#1a1a1a" stroke-width="2.8">
<path d="M30 1663l8 1 8 1 8 1 8-1 8-1 8-2 8-1 8-1 8-1 8-2 8-1 8-4 8-6 8-9 8-12 8-13 8-14 8-16 8-13 8-9 8-3 8 1 8 7 8 15 8 19 8 22 8 22 8 23 8 20 8 17 8 10 8 4 8-2 8-5 8-7 8-7 8-6 8-5 8-3 8-2 8-3 8-2 8-2 8-1 8 0 8 1 8 1 8 1 8-1 8-2 8-2 8 0 8 1 8 3 8 1 8-1 8-1 8 0 8 0 8 1 8 0 8 0 8-1 8 0 8 0 8 0 8-1 8 0 8 0 8 1 8 0 8-1 8 0 8-1 8 1 8 1 8 1 8 0 8 0"/>
</g>
<g stroke="#dc1812" stroke-width="3">
<path d="M30 1667l6-4 6 1 6 4 6-1 6-2 6 4 6 4 6-4 6-6 6-1 6 3 6-2 6-6 6 0 6 3 6-6 6-11 6-7 6-7 6-16 6-21 6-16 6-21 6-28 6-25 6-18 6-19 6-24 6-14 6-3 6 0 6-2 6 5 6 11 6-2 6-23 6-17 6 20 6 53 6 67 6 65 6 49 6 24 6 7 6 7 6 7 6-4 6-7 6-1 6 1 6-5 6-7 6 3 6 1 6-5 6-6 6 6 6 6 6-7 6 0 6 0 6 4 6-3 6-10 6 13 6-9 6-11 6-1 6-8 6 23 6-8 6 3 6 17 6-16 6 12 6-10 6 4 6 10 6-20 6 13 6-3 6-3 6 5 6-6 6 10 6-7 6-7 6 5 6 3 6 1 6-5 6 2 6 6 6-4 6-2 6 2 6 0 6-4 6-3 6 7 6 3 6-4 6-3 6 5 8 2"/>
</g>
<g stroke="#1a1a1a" stroke-width="2.8">
<path d="M30 1668l8-1 8-1 8 0 8 1 8 1 8 0 8-1 8 0 8 0 8 1 8 0 8-1 8-4 8-5 8-9 8-13 8-16 8-19 8-21 8-20 8-18 8-13 8-6 8 5 8 16 8 24 8 29 8 29 8 29 8 28 8 25 8 20 8 12 8 3 8-2 8-6 8-8 8-8 8-7 8-7 8-5 8-3 8-2 8 0 8-1 8-2 8-1 8-1 8 1 8 1 8 1 8 0 8 0 8 0 8 1 8 1 8 1 8 0 8 0 8-1 8-1 8 0 8-1 8 0 8 1 8 1 8 0 8 0 8 0 8 0 8 0 8 0 8 0 8 1 8 0 8 0 8 0 8 0 8 0"/>
</g>
<g stroke="#dc1812" stroke-width="3">
<path d="M30 1666l6 5 6 2 6-4 6 6 6-6 6 2 6 3 6-3 6 7 6-7 6-2 6 0 6-10 6 5 6-7 6-7 6-4 6-17 6-7 6-18 6-23 6-20 6-34 6-25 6-32 6-37 6-26 6-32 6-13 6-18 6-19 6 13 6 19 6 23 6 28 6 49 6 64 6 24 6 31 6 55 6 31 6 13 6 6 6 28 6 17 6-16 6 3 6 4 6-7 6-6 6-9 6 6 6-5 6-7 6 6 6-8 6 1 6-1 6-5 6 7 6-9 6-1 6 3 6-4 6 9 6-5 6 0 6 4 6-6 6 7 6-3 6 0 6 6 6-8 6 3 6-3 6-3 6 6 6-5 6 5 6-3 6-5 6 8 6-6 6 6 6 4 6-5 6 5 6-8 6 2 6 3 6-7 6 6 6-3 6 2 6 4 6-7 6 5 6-5 6 0 6 7 6-6 6 4 6-5 8-1"/>
<path d="M30 1667l6 5 6-6 6 2 6 6 6-6 6 3 6 6 6-12 6 0 6 23 6-7 6-28 6 9 6 19 6-17 6-14 6 6 6-9 6-15 6-7 6-17 6-21 6-14 6-23 6-32 6-16 6-12 6-22 6-10 6 0 6-6 6 5 6 25 6 18 6 19 6 32 6 26 6 22 6 34 6 26 6 11 6 20 6 16 6-3 6 1 6 7 6-8 6-12 6-1 6-8 6-14 6 0 6-1 6-11 6 1 6 4 6-9 6-2 6 10 6-3 6-2 6 9 6-3 6-8 6 5 6 1 6-10 6 3 6 9 6-4 6 1 6 4 6-8 6-5 6 10 6 0 6-6 6 5 6 1 6-9 6 3 6 4 6-7 6 1 6 7 6-5 6 0 6 10 6-3 6-9 6 5 6 1 6-8 6 4 6 4 6-10 6-1 6 11 6-3 6-1 6 9 6-3 6-7 6 7 8-4"/>
<path d="M30 1666l6 4 6-1 6-2 6 3 6-3 6 0 6 6 6-1 6-1 6 3 6-4 6-3 6 4 6-3 6-7 6 0 6-4 6-6 6-1 6-11 6-17 6-12 6-18 6-24 6-22 6-30 6-34 6-25 6-25 6-24 6-11 6-7 6-2 6 12 6 14 6 18 6 32 6 33 6 29 6 36 6 32 6 25 6 30 6 23 6 12 6 15 6 10 6 0 6 3 6-4 6-12 6-3 6-4 6-8 6-2 6-5 6-10 6 0 6 1 6-6 6 1 6 3 6-2 6 1 6 0 6-5 6 1 6 4 6-4 6 0 6 4 6-2 6 1 6 2 6-5 6 1 6 4 6-2 6 1 6 4 6-5 6-1 6 4 6-3 6-1 6 5 6-1 6-1 6 1 6-6 6-4 6 3 6 0 6 1 6 4 6-3 6-1 6 6 6-3 6-1 6 5 6-3 6-2 6 5 8-5"/>
<path d="M30 1665l6-6 6 7 6 7 6-7 6-7 6 6 6-1 6-5 6 6 6 6 6-6 6-2 6 2 6-8 6-6 6 4 6-2 6-13 6-4 6-2 6-14 6-12 6-3 6-11 6-16 6-6 6-4 6-11 6 0 6 6 6 0 6 3 6 16 6 12 6 4 6 13 6 17 6 7 6 11 6 18 6 8 6 0 6 7 6 5 6-6 6-2 6 4 6-6 6-6 6 3 6 0 6-7 6 2 6 4 6-5 6-1 6 7 6-1 6-8 6 4 6 6 6-4 6 1 6 4 6-6 6-3 6 6 6-1 6-7 6 3 6 5 6-6 6 0 6 10 6-2 6-7 6 3 6 2 6-6 6 0 6 4 6-3 6-2 6 7 6 1 6-9 6 2 6 6 6-6 6-1 6 7 6 0 6-5 6 5 6 2 6-7 6 1 6 8 6-4 6-6 6 5 6 0 6-6 6 1 8 2"/>
<path d="M30 1667l6-5 6 0 6 1 6-3 6 2 6 2 6-1 6 2 6 0 6-1 6 2 6-2 6-4 6 3 6 0 6-2 6 0 6-3 6-2 6-1 6-9 6-11 6-10 6-19 6-26 6-29 6-36 6-36 6-34 6-39 6-36 6-25 6-19 6-5 6 8 6 20 6 35 6 41 6 42 6 46 6 42 6 35 6 34 6 25 6 15 6 19 6 11 6 2 6 4 6-4 6-24 6-36 6-32 6-11 6 16 6 27 6 21 6 2 6-8 6 8 6 4 6-17 6 4 6 22 6-10 6-15 6 16 6 7 6-19 6 1 6 14 6-8 6-16 6 4 6 1 6-24 6-17 6 10 6 7 6 1 6 20 6 14 6-5 6 0 6 4 6-1 6 2 6 1 6-1 6 0 6-3 6-2 6 2 6-2 6-1 6 5 6 0 6-1 6 1 6-3 6 0 6 3 6-3 6-1 8 4"/>
<path d="M30 1685l6-25 6 10 6 18 6-30 6 25 6-16 6-1 6 5 6-11 6 4 6 0 6 3 6-3 6-6 6-4 6-5 6-4 6-10 6-11 6-15 6-22 6-21 6-29 6-28 6-26 6-26 6-21 6-15 6-4 6 3 6 5 6 17 6 22 6 26 6 32 6 29 6 30 6 28 6 22 6 24 6 15 6 13 6 13 6-7 6 12 6-29 6-42 6-68 6-72 6 33 6 51 6 63 6 22 6-1 6 4 6-7 6 2 6 1 6-2 6 1 6-3 6 0 6 5 6-2 6 0 6 0 6 1 6 2 6-3 6 1 6-1 6-1 6 1 6-3 6 3 6 2 6-1 6 0 6-4 6 2 6 3 6-1 6 1 6-3 6 1 6 1 6-1 6 2 6-1 6-1 6 1 6-3 6 0 6-3 6 1 6 3 6-1 6 3 6-2 6-1 6 2 6-4 6 1 6 3 8 3"/>
<path d="M30 1670l6-1 6 2 6-2 6 5 6-1 6-5 6 5 6-2 6-2 6 1 6-6 6-2 6-2 6-11 6-7 6-11 6-15 6-15 6-25 6-25 6-25 6-36 6-30 6-30 6-34 6-23 6-19 6-15 6-6 6-2 6 16 6 28 6 30 6 41 6 43 6 42 6 47 6 35 6 33 6 33 6 19 6 18 6 12 6-1 6 0 6-3 6-8 6-4 6-7 6-4 6-3 6-11 6-16 6-33 6-43 6-12 6 24 6 37 6 27 6 3 6 0 6 3 6-3 6 5 6 2 6-5 6 1 6-2 6-1 6 6 6-3 6-1 6 2 6-5 6 4 6 2 6-3 6 6 6-3 6-4 6 7 6-8 6 0 6 2 6-9 6 19 6-7 6-15 6 25 6-6 6-5 6-4 6-8 6 35 6-28 6-24 6 48 6-11 6-21 6-1 6 11 6 31 6-42 6-12 8 53"/>
<path d="M30 1660l6 8 6-4 6-1 6 7 6-5 6-7 6 5 6 3 6-5 6 4 6 1 6-12 6-2 6 3 6-8 6-8 6-3 6-16 6-22 6-16 6-25 6-35 6-28 6-32 6-40 6-29 6-20 6-24 6-12 6 4 6 4 6 16 6 37 6 39 6 37 6 45 6 43 6 28 6 30 6 29 6 16 6 14 6 16 6-2 6-13 6-30 6-67 6-57 6 23 6 64 6 38 6 16 6 8 6-6 6-2 6 7 6-1 6-6 6 2 6-1 6-6 6 6 6 5 6-6 6 2 6 5 6-8 6-3 6 8 6-2 6-4 6 6 6-2 6-7 6 6 6 2 6-8 6 1 6 7 6-5 6-1 6 6 6-4 6-3 6 8 6 0 6-8 6 7 6 8 6-7 6-1 6 5 6-7 6-3 6 7 6-1 6-5 6 6 6 1 6-5 6 3 6 0 6-6 6 5 8 7"/>
<path d="M30 1682l6-24 6 39 6-16 6-20 6 24 6-14 6-8 6 13 6-8 6 0 6 2 6-7 6 5 6 2 6-8 6 1 6 3 6-9 6-10 6-7 6-15 6-21 6-17 6-20 6-28 6-26 6-16 6-16 6-13 6 0 6 8 6 7 6 17 6 28 6 25 6 21 6 27 6 28 6 19 6 17 6 19 6 8 6-1 6 6 6 7 6-3 6-3 6-1 6-8 6-10 6-2 6 0 6-7 6-3 6 3 6-2 6-5 6 4 6 4 6-4 6-5 6-7 6-22 6-25 6 3 6 26 6 18 6 8 6 6 6-2 6-6 6 4 6 7 6-2 6-4 6 2 6-1 6-3 6 3 6 1 6-5 6-2 6 6 6 0 6-5 6 0 6 2 6-2 6 3 6 7 6-1 6-4 6 1 6 2 6-4 6-4 6 5 6 1 6-4 6 2 6 4 6-2 6-1 6 2 8-3"/>
<path d="M30 1662l6 7 6-8 6 0 6 8 6-7 6-5 6 9 6-4 6-4 6 10 6-1 6-7 6 6 6 1 6-11 6 3 6 5 6-12 6-4 6 4 6-11 6-5 6 1 6-14 6-13 6 0 6-12 6-16 6-1 6-7 6-12 6 4 6 7 6-3 6 14 6 20 6-3 6-18 6-33 6-45 6-4 6 55 6 61 6 44 6 33 6 7 6-10 6 1 6 0 6-11 6 1 6 3 6-9 6 1 6 4 6-11 6-4 6 10 6-3 6-3 6 9 6-6 6-2 6 6 6-9 6 5 6 3 6-11 6 13 6-3 6-10 6 10 6 0 6-4 6-1 6 6 6-4 6-9 6 14 6 2 6-16 6 10 6 6 6-18 6 8 6 13 6-19 6 0 6 18 6-12 6-9 6 16 6-1 6-11 6 8 6 5 6-7 6 1 6 8 6-4 6-7 6 8 6 2 6-10 8 5"/>
<path d="M30 1692l6-25 6 10 6 23 6-36 6 5 6 40 6-34 6-8 6 37 6-26 6-12 6 25 6-19 6-7 6 13 6-16 6-7 6-1 6-27 6-19 6-14 6-36 6-37 6-25 6-34 6-36 6-22 6-13 6-16 6-5 6 14 6 18 6 14 6 27 6 41 6 37 6 29 6 35 6 37 6 22 6 14 6 21 6 14 6 0 6 2 6 6 6-4 6-10 6 0 6 2 6-8 6-9 6-7 6-21 6-31 6-11 6 18 6 21 6 16 6 16 6 10 6-2 6-3 6 5 6 1 6-5 6 0 6 7 6-3 6-6 6 4 6 3 6-8 6-4 6 7 6 2 6-6 6 3 6 6 6-4 6-4 6 6 6 3 6-7 6-3 6 9 6 1 6-8 6 1 6 5 6-5 6-1 6 9 6 3 6-9 6-2 6 7 6-1 6-7 6 5 6 5 6-6 6-4 6 7 8-1"/>
<path d="M30 1689l6-15 6-28 6 21 6 20 6-19 6-12 6 13 6 8 6-9 6-11 6 1 6 9 6-6 6-11 6 5 6-4 6-20 6-13 6-13 6-28 6-26 6-27 6-39 6-36 6-28 6-32 6-18 6-4 6-13 6 6 6 32 6 14 6 18 6 54 6 30 6 15 6 60 6 36 6-4 6 40 6 36 6-19 6 11 6 25 6-23 6-11 6 14 6-13 6-11 6 8 6-6 6-6 6 7 6-5 6-6 6 4 6-1 6 0 6 7 6 0 6-3 6 3 6-2 6-5 6 3 6-1 6-3 6 7 6 0 6-5 6 5 6 1 6-9 6 2 6 3 6-7 6 2 6 4 6-4 6 0 6 4 6-3 6 1 6 7 6-2 6-3 6 4 6-4 6-3 6 5 6-2 6-4 6 6 6-1 6-5 6 6 6 1 6-6 6 4 6 3 6-7 6 2 6 4 6-2 8 5"/>
<path d="M30 1656l6 8 6-1 6-6 6 3 6 4 6-5 6-1 6 6 6 0 6-8 6 0 6 2 6-8 6-7 6-3 6-10 6-18 6-11 6-10 6-22 6-21 6-16 6-21 6-21 6-10 6-6 6-12 6-4 6 15 6 17 6 15 6 23 6 20 6-4 6-22 6-26 6-15 6 18 6 57 6 63 6 36 6 16 6 11 6-2 6-9 6-2 6 2 6-6 6-5 6 3 6-3 6-10 6-1 6 5 6-4 6-4 6 6 6 0 6-8 6 2 6 5 6-4 6-1 6 2 6-2 6 1 6 0 6 3 6 5 6-9 6 0 6 14 6-17 6-5 6 23 6-16 6-10 6 27 6-15 6-14 6 25 6-14 6-7 6 22 6-17 6 2 6 23 6-25 6-2 6 22 6-23 6-5 6 21 6-7 6-2 6 5 6-8 6 7 6 4 6-14 6 9 6 11 6-18 6-6 8 21"/>
<path d="M30 1674l6-1 6-4 6 5 6 5 6-6 6-5 6 4 6 2 6-4 6 0 6 6 6-1 6-9 6-3 6 7 6-1 6-10 6-2 6 1 6-8 6-11 6-3 6-2 6-14 6-16 6-5 6-6 6-14 6-11 6 3 6 0 6-6 6 1 6 11 6 10 6 5 6 15 6 21 6 13 6 7 6 17 6 17 6 4 6-2 6 6 6 5 6-6 6-6 6 4 6 3 6-8 6-4 6 4 6-1 6-8 6 1 6 8 6 0 6-6 6 0 6 5 6-4 6-5 6 7 6 4 6-11 6 3 6 10 6-8 6-5 6 10 6-1 6-4 6 2 6-1 6 2 6 1 6-7 6-2 6 6 6-3 6-5 6 4 6 5 6-6 6-5 6 8 6 6 6-5 6-5 6 7 6 4 6-9 6-4 6 7 6 3 6-5 6 2 6 7 6-4 6-9 6 1 6 9 6-1 8-6"/>
<path d="M30 1665l6-1 6 4 6-2 6-5 6 1 6 3 6 0 6 2 6 5 6-2 6-5 6 0 6-2 6-5 6-4 6-5 6-12 6-12 6-10 6-18 6-26 6-22 6-24 6-31 6-27 6-19 6-19 6-14 6 1 6 7 6 12 6 23 6 30 6 28 6 29 6 33 6 29 6 24 6 24 6 20 6 10 6 8 6 7 6-3 6-5 6-1 6-4 6-7 6-2 6-2 6-6 6-4 6 2 6-3 6-4 6 4 6 4 6-5 6-2 6 3 6-1 6-2 6 3 6 0 6-1 6 3 6 3 6-3 6-3 6 1 6-1 6-2 6 2 6 0 6-6 6 1 6 3 6-2 6-1 6 4 6-1 6-3 6 1 6 0 6-2 6 3 6 4 6-1 6-2 6 4 6 1 6-4 6-1 6 1 6-4 6-1 6 8 6 1 6-3 6 0 6 1 6-3 6 1 6 5 8-4"/>
<path d="M30 1668l6 2 6 0 6-2 6 0 6 0 6-4 6-3 6 1 6 1 6 0 6 2 6 4 6 1 6-2 6-3 6-3 6-4 6 0 6 1 6-4 6-8 6-6 6-8 6-11 6-14 6-11 6-9 6-13 6-8 6-6 6-1 6 5 6-3 6 12 6 8 6 0 6 17 6-7 6-3 6-13 6-26 6 38 6 17 6 43 6 48 6-13 6 32 6-18 6-10 6 21 6-40 6 26 6-17 6-15 6 36 6-51 6 25 6 15 6-47 6 21 6-14 6-12 6 16 6 2 6 13 6-2 6 0 6 4 6-4 6 2 6 0 6 0 6 0 6-2 6 1 6 0 6-1 6 1 6 3 6 1 6-4 6-1 6 5 6 1 6-3 6-1 6 2 6-1 6-2 6 2 6 2 6-1 6-1 6 2 6 1 6-2 6-3 6 1 6 2 6-1 6-1 6 0 6-1 6-1 8 1"/>
<path d="M30 1664l6-5 6 17 6-28 6 34 6-18 6-13 6 42 6-46 6 36 6-19 6-10 6 28 6-50 6 31 6-27 6-23 6 5 6-40 6-11 6-34 6-29 6-27 6-41 6-20 6-28 6-28 6-15 6-6 6-1 6 8 6 21 6 22 6 26 6 35 6 33 6 29 6 34 6 36 6 28 6 24 6 25 6 13 6 3 6 6 6 5 6-3 6-2 6-1 6-6 6-6 6 3 6 1 6-5 6 0 6 1 6-13 6-20 6-6 6 7 6 12 6 14 6 7 6-3 6-1 6 1 6-5 6-3 6 2 6 7 6-6 6 1 6 4 6-5 6 5 6-5 6 5 6-3 6-5 6 18 6-20 6 7 6 2 6-9 6 16 6-18 6 19 6-9 6-9 6 22 6-23 6 14 6-4 6-4 6 9 6-13 6 16 6-10 6-4 6 11 6-7 6 2 6-2 6 2 6-3 8 0"/>
<path d="M30 1670l6 2 6 4 6-8 6-3 6 10 6 1 6-7 6 3 6 5 6-8 6-3 6 6 6-2 6-10 6 1 6 1 6-12 6-9 6-1 6-12 6-18 6-7 6-8 6-19 6-12 6-5 6-13 6-11 6 4 6 4 6 0 6 10 6 17 6 9 6 10 6 24 6 20 6 11 6 18 6 20 6 5 6 2 6 7 6-3 6-10 6 0 6 1 6-11 6-4 6 5 6-5 6-11 6 4 6 6 6-6 6-1 6 6 6-5 6-5 6 8 6 2 6-8 6 3 6 8 6-6 6-7 6 7 6 3 6-7 6 3 6 7 6-5 6-4 6 7 6-1 6-10 6 2 6 7 6-5 6-4 6 9 6 5 6-11 6-3 6 17 6 0 6-19 6 7 6 18 6-16 6-14 6 21 6 5 6-20 6 3 6 9 6-8 6-1 6 5 6-7 6-3 6 7 6-2 6-3 8 10"/>
<path d="M30 1675l6-3 6-3 6 9 6-8 6 4 6 4 6-10 6 9 6-5 6-7 6 8 6-7 6 4 6 5 6-11 6 6 6-6 6-8 6 6 6-15 6-5 6-1 6-17 6-3 6-15 6-19 6-4 6-18 6-7 6 0 6-13 6 7 6 4 6 1 6 22 6 8 6 17 6 25 6 7 6 22 6 15 6 7 6 20 6-1 6 2 6 8 6-11 6 5 6-3 6-13 6 4 6-10 6-6 6 6 6-12 6 2 6-2 6-10 6 10 6-6 6-3 6 10 6-7 6 4 6 1 6-10 6 8 6-5 6-2 6 9 6-9 6 4 6 3 6-11 6 9 6-2 6-4 6 7 6-10 6 5 6 6 6-11 6 8 6 0 6-3 6 10 6-9 6 1 6 5 6-9 6 8 6-1 6-4 6 9 6-9 6 2 6 6 6-11 6 8 6 0 6-6 6 10 6-6 6 1 8 2"/>
<path d="M30 1664l6-3 6 6 6 4 6-5 6-2 6 6 6 3 6-7 6-2 6 5 6 0 6-7 6 1 6 5 6-2 6-6 6 3 6 3 6-6 6-10 6-1 6-3 6-13 6-16 6-9 6-13 6-21 6-17 6-9 6-11 6-16 6-11 6 2 6 5 6 0 6 11 6 24 6 20 6 12 6 20 6 26 6 17 6 12 6 19 6 16 6 3 6-2 6 5 6 2 6-9 6-9 6 1 6-1 6-8 6-4 6 3 6-1 6-8 6-3 6 5 6 2 6-6 6-2 6 5 6 0 6-6 6 2 6 7 6-2 6-7 6 4 6 7 6-3 6-5 6 4 6 0 6-5 6 0 6 3 6-2 6 1 6 3 6 0 6 3 6 0 6-13 6 2 6 19 6-12 6-18 6 26 6 8 6-38 6 11 6 34 6-31 6-20 6 40 6-4 6-33 6 22 6 18 6-25 6 1 8 20"/>
<path d="M30 1671l6-2 6-6 6 5 6-9 6 3 6 3 6-5 6 9 6-4 6-6 6 13 6-12 6 1 6 16 6-21 6 1 6 16 6-23 6-1 6 14 6-20 6-14 6-3 6-14 6-16 6-5 6-4 6-14 6-2 6 6 6-7 6 7 6 5 6-2 6 17 6 7 6 7 6 19 6 3 6 14 6 18 6 6 6 18 6 2 6-10 6-12 6-35 6-21 6 0 6 8 6 29 6 16 6 3 6 10 6-7 6 0 6 6 6-8 6 6 6-1 6-11 6 10 6-1 6-1 6 5 6-9 6 5 6 3 6-9 6 7 6-1 6-1 6 9 6-9 6 0 6 2 6-8 6 9 6-6 6-1 6 16 6-22 6 15 6 9 6-41 6 41 6-11 6-27 6 49 6-33 6-4 6 26 6-29 6 12 6 6 6-11 6 11 6-7 6-1 6 8 6-7 6 4 6 3 6-6 8 9"/>
<path d="M30 1666l6 1 6 3 6-4 6 1 6-2 6-2 6 4 6-2 6-2 6 3 6-2 6 1 6 2 6-3 6 0 6-3 6-10 6-3 6-7 6-9 6-8 6-18 6-17 6-14 6-21 6-19 6-20 6-22 6-13 6-12 6-11 6 2 6 5 6 14 6 22 6 21 6 26 6 31 6 24 6 26 6 21 6 14 6 17 6 9 6 5 6 6 6-3 6-5 6-1 6-9 6-8 6-16 6-42 6-54 6-46 6-5 6 46 6 53 6 35 6 21 6 2 6 0 6 3 6-1 6 3 6 0 6-4 6 4 6 2 6-3 6 0 6-5 6-2 6 6 6-2 6 2 6 2 6-6 6 2 6 2 6-3 6 2 6-1 6-1 6 4 6-2 6 0 6 2 6-3 6 1 6 2 6-7 6 2 6 2 6-1 6 4 6 0 6-3 6 3 6-3 6 0 6 4 6-3 6 2 8 0"/>
<path d="M30 1674l6-10 6 7 6 15 6-16 6-3 6 19 6-8 6-7 6 4 6-3 6 1 6-1 6-4 6-5 6-11 6-6 6-11 6-15 6-15 6-25 6-27 6-31 6-36 6-27 6-31 6-27 6-21 6-19 6-7 6 1 6 13 6 26 6 30 6 39 6 39 6 35 6 41 6 31 6 29 6 25 6 16 6 16 6 6 6 1 6 4 6-5 6-3 6-6 6-8 6-1 6-11 6-21 6-45 6-61 6-15 6 38 6 53 6 34 6 6 6 3 6 1 6-2 6 3 6-4 6 1 6 2 6-1 6 5 6 0 6 0 6 2 6-5 6 0 6 0 6 0 6 4 6-2 6 1 6-1 6-6 6 3 6 0 6-2 6 2 6-1 6 4 6 1 6-4 6-2 6-4 6 5 6 3 6-5 6 1 6-1 6 0 6 3 6-2 6 2 6 0 6-2 6 3 6-2 6 2 8 2"/>
<path d="M30 1674l6-8 6 4 6 3 6-7 6 4 6-3 6-5 6 12 6-3 6-7 6 8 6-5 6-2 6 7 6-7 6-1 6 3 6-13 6-4 6-6 6-18 6-10 6-20 6-34 6-25 6-38 6-39 6-25 6-33 6-22 6-2 6-6 6 16 6 33 6 29 6 43 6 41 6 28 6 40 6 30 6 15 6 25 6 10 6 2 6 13 6 0 6-2 6 5 6-11 6-6 6 1 6-10 6-2 6 1 6-7 6 5 6 1 6-9 6 4 6-3 6-5 6 9 6-2 6 0 6 7 6-8 6 0 6 8 6-10 6 6 6 4 6-16 6 13 6 7 6-21 6 16 6 5 6-24 6 23 6 2 6-31 6 28 6 5 6-33 6 30 6 5 6-35 6 27 6 6 6-29 6 23 6 5 6-23 6 19 6 4 6-19 6 9 6 3 6-9 6 4 6 3 6-3 6-3 6 4 8 0"/>
<path d="M30 1666l6 0 6 1 6-1 6 1 6 2 6 2 6 0 6-2 6 0 6 1 6-1 6 0 6-1 6-3 6-1 6 1 6-2 6-7 6-6 6-5 6-10 6-16 6-20 6-22 6-23 6-23 6-23 6-20 6-17 6-9 6-2 6 4 6 13 6 24 6 28 6 26 6 27 6 28 6 26 6 19 6 16 6 14 6 12 6 7 6 5 6 1 6-2 6-5 6-11 6-28 6-51 6-53 6-17 6 31 6 49 6 32 6 13 6 4 6 1 6 2 6-1 6-2 6 1 6 2 6-1 6-2 6 2 6 0 6-1 6 0 6 1 6 0 6 2 6 0 6-1 6-2 6 2 6 1 6-1 6-1 6 0 6 0 6-2 6-1 6 2 6 1 6-1 6 1 6 3 6 1 6-2 6 0 6 0 6-2 6-1 6 2 6 1 6-1 6-1 6-2 6-1 6 0 6 0 6 2 8 0"/>
<path d="M30 1664l6 4 6 2 6-3 6 2 6 1 6-2 6 2 6-2 6-6 6 0 6 2 6-7 6-1 6 0 6-9 6-10 6-7 6-17 6-18 6-17 6-25 6-28 6-27 6-32 6-29 6-21 6-21 6-18 6-4 6 2 6 6 6 18 6 24 6 27 6 37 6 37 6 32 6 37 6 32 6 25 6 24 6 18 6 4 6-4 6-25 6-60 6-48 6 14 6 54 6 44 6 19 6-1 6-5 6 1 6-2 6-3 6 4 6 0 6-3 6 3 6 0 6-4 6 3 6 2 6-4 6 3 6 2 6-2 6 1 6 1 6-4 6-2 6 1 6-1 6 3 6 3 6-4 6-1 6 3 6-4 6-3 6 4 6-1 6-2 6 4 6 2 6-1 6 2 6-2 6-3 6 5 6-1 6-6 6 2 6 4 6 0 6 3 6-1 6-5 6 1 6 4 6-3 6-1 6 1 8-6"/>
<path d="M30 1661l6-5 6 5 6 7 6-15 6 24 6 3 6-34 6 37 6-1 6-38 6 40 6-9 6-28 6 36 6-19 6-18 6 16 6-26 6-5 6 1 6-33 6-8 6-8 6-34 6-16 6-10 6-24 6-16 6-4 6-6 6-9 6 7 6 23 6 18 6 17 6 31 6 29 6 19 6 22 6 28 6 18 6 9 6 15 6 12 6-2 6 1 6 4 6-6 6-11 6 0 6-1 6-12 6-7 6 3 6-2 6-9 6 0 6 4 6-3 6-2 6 6 6 0 6-7 6 2 6 5 6-5 6-3 6 6 6 0 6-10 6 0 6 9 6 0 6-4 6 4 6 2 6-8 6-2 6 7 6 2 6-3 6 4 6 2 6-5 6-1 6 5 6-4 6-8 6 5 6 5 6-4 6 1 6 6 6-5 6-7 6 5 6 8 6-4 6-4 6 5 6 0 6-9 6 1 6 7 8-6"/>
<path d="M30 1666l6 1 6 4 6-1 6 0 6 1 6-4 6-4 6 2 6 6 6-1 6-2 6 2 6-1 6-6 6 0 6 2 6-5 6-3 6 1 6-6 6-12 6-8 6-11 6-23 6-25 6-23 6-26 6-31 6-28 6-23 6-23 6-13 6 0 6 6 6 13 6 24 6 33 6 31 6 32 6 36 6 34 6 23 6 20 6 26 6 11 6-6 6 15 6 4 6-28 6 12 6 16 6-38 6 9 6 20 6-30 6 2 6 5 6 0 6-7 6-14 6 36 6-22 6-22 6 51 6-30 6-15 6 39 6-26 6-6 6 15 6-10 6 5 6 3 6-6 6 2 6-3 6-3 6 3 6 0 6-3 6 3 6 5 6-1 6-3 6 4 6 2 6-2 6 1 6 2 6-3 6-3 6 3 6 1 6-2 6 2 6 3 6-2 6-4 6 2 6 0 6-3 6 2 6 5 6-1 8-4"/>
<path d="M30 1662l6-6 6 16 6 2 6-20 6 4 6 16 6-5 6-10 6 0 6 9 6-2 6-14 6-1 6 2 6-10 6-8 6-10 6-15 6-15 6-21 6-21 6-19 6-25 6-17 6-15 6-17 6-7 6-7 6-5 6 9 6 10 6 16 6 22 6 19 6 26 6 27 6 22 6 28 6 24 6 18 6 17 6 10 6 9 6 5 6-2 6 0 6-4 6-9 6-1 6-6 6-8 6-2 6-7 6-5 6-1 6-3 6 3 6 2 6-3 6 1 6-4 6-2 6 3 6-4 6 2 6 4 6-2 6 2 6-1 6-3 6 5 6-2 6 1 6 3 6-6 6-2 6 0 6-3 6 5 6 0 6-2 6 3 6-3 6 0 6 3 6-3 6 0 6 2 6-2 6 5 6-1 6-2 6 3 6-3 6-1 6 3 6-3 6 2 6 0 6-3 6 4 6-2 6-2 6 4 8-3"/>
<path d="M30 1671l6-3 6 4 6 1 6-2 6 4 6-2 6-6 6 2 6-2 6-2 6 5 6-1 6-1 6 0 6-6 6-1 6 3 6-6 6-5 6-7 6-14 6-9 6-11 6-18 6-14 6-17 6-20 6-10 6-10 6-6 6 3 6 1 6 5 6 16 6 10 6 15 6 26 6 20 6 18 6 17 6 10 6 12 6 12 6 3 6 1 6 0 6-3 6-5 6-7 6 1 6-2 6-9 6 5 6 0 6-16 6 10 6 10 6-20 6 9 6 15 6-24 6 3 6 19 6-20 6 1 6 22 6-16 6-8 6 17 6-7 6-7 6 11 6-5 6-6 6 7 6-2 6-2 6 2 6 0 6 1 6-3 6 1 6 5 6-2 6-1 6 4 6-2 6 0 6 0 6-4 6 1 6 3 6-2 6 4 6 0 6-6 6 2 6 0 6-2 6 6 6-2 6-3 6 5 6-3 8-1"/>
<path d="M30 1659l6 2 6 1 6 0 6 1 6-1 6-2 6 0 6 0 6-2 6-1 6 1 6 1 6 0 6-1 6-2 6-3 6-4 6-3 6-5 6-6 6-6 6-8 6-10 6-11 6-11 6-11 6-10 6-7 6-4 6-2 6-3 6 0 6 3 6 5 6 9 6 12 6 15 6 15 6 15 6 16 6 16 6 13 6 11 6 9 6 8 6 5 6 3 6 1 6-5 6-13 6-23 6-30 6-29 6-12 6 10 6 24 6 23 6 12 6 3 6 1 6 5 6 3 6 0 6-1 6-4 6 0 6 0 6-3 6 8 6-9 6 1 6 14 6-27 6 22 6 0 6-28 6 39 6-23 6-2 6 27 6-26 6 11 6 0 6-11 6 8 6-2 6 2 6 2 6-2 6 0 6-2 6-1 6 0 6-1 6-1 6 1 6 0 6-1 6 1 6 2 6 1 6-3 6-1 6 1 8 2"/>
<path d="M30 1664l6 5 6 0 6 0 6 9 6-7 6 1 6 0 6-6 6 5 6-6 6 1 6 3 6-7 6 6 6-5 6-4 6-5 6-17 6-5 6-14 6-17 6-11 6-25 6-17 6-22 6-28 6-16 6-22 6-10 6-7 6-5 6 4 6-2 6 22 6 19 6 10 6 45 6 17 6 9 6 52 6 18 6 3 6 36 6 18 6-12 6 10 6 22 6-20 6-7 6 21 6-18 6-10 6 12 6-7 6-13 6-1 6 20 6-9 6-20 6 28 6 0 6-25 6 17 6 10 6-12 6-6 6 8 6 4 6-12 6 7 6 3 6-8 6 8 6-4 6-1 6 4 6-5 6 5 6-4 6-1 6 5 6-8 6 5 6-1 6-3 6 7 6-4 6 3 6-1 6-8 6 5 6-4 6 5 6 3 6-6 6 7 6-5 6 0 6 5 6-6 6 4 6-3 6-3 6 7 8-3"/>
<path d="M30 1681l6-19 6 12 6 5 6-15 6 9 6 4 6-17 6 6 6 11 6-9 6 0 6 9 6-5 6-6 6 6 6-1 6-13 6-5 6 2 6-5 6-14 6-11 6-10 6-20 6-25 6-18 6-16 6-24 6-19 6-5 6-2 6-4 6 6 6 19 6 19 6 15 6 24 6 30 6 20 6 16 6 22 6 21 6 6 6 3 6 9 6 7 6-3 6-4 6 0 6-6 6-11 6-3 6 5 6-6 6-10 6 2 6 7 6-4 6-7 6 4 6 5 6-6 6-6 6 4 6 3 6-4 6 2 6 10 6 0 6-9 6-1 6 7 6-2 6-7 6 3 6 4 6-4 6-3 6 7 6 3 6-8 6-3 6 7 6 3 6-7 6-1 6 5 6 0 6-6 6 3 6 5 6-5 6-4 6 4 6 3 6-5 6 0 6 8 6-2 6-9 6-1 6 8 6 0 6-5 8 6"/>
<path d="M30 1660l6 9 6 3 6-8 6 1 6 7 6-4 6-3 6 6 6 0 6-7 6 3 6 1 6-9 6 0 6 9 6-3 6-8 6 4 6-6 6-17 6-9 6-8 6-22 6-23 6-17 6-27 6-30 6-15 6-9 6-15 6-1 6 14 6 13 6 18 6 33 6 28 6 20 6 31 6 29 6 14 6 15 6 20 6 7 6-1 6 7 6 1 6-13 6-5 6 2 6-8 6-8 6 2 6-2 6-8 6 2 6 4 6-9 6 0 6 9 6-2 6-4 6 7 6 0 6-9 6 3 6 8 6-7 6-4 6 6 6-2 6-7 6 7 6 5 6-11 6-7 6 0 6-12 6-8 6 15 6 11 6-2 6 7 6 7 6-6 6-4 6 6 6 0 6-7 6 4 6 3 6-7 6 0 6 7 6-4 6-3 6 9 6 1 6-8 6 3 6 7 6-6 6-2 6 6 6-4 8-5"/>
<path d="M30 1660l6 3 6 0 6-4 6 1 6 4 6-2 6 2 6 4 6-5 6-3 6 5 6 0 6-5 6 4 6 3 6-6 6-3 6-1 6-10 6-7 6-4 6-12 6-15 6-12 6-17 6-23 6-15 6-13 6-15 6-6 6 2 6-3 6 3 6 13 6 12 6 11 6 21 6 21 6 14 6 18 6 20 6 12 6 12 6 13 6 3 6 0 6 2 6-2 6-5 6 2 6-1 6-9 6-4 6-1 6-4 6-2 6 5 6-2 6-4 6 4 6 1 6-6 6 1 6 3 6-3 6 0 6-3 6-14 6-12 6 3 6 10 6 10 6 8 6 0 6-3 6 4 6 2 6-6 6-1 6 5 6-2 6-3 6 2 6-1 6-4 6 4 6 2 6-1 6 2 6 2 6-6 6 0 6 7 6-2 6-4 6 1 6 0 6-3 6 2 6 3 6-4 6 1 6 3 6-4 8 1"/>
<path d="M30 1667l6-8 6 5 6 5 6-7 6-1 6 7 6-2 6-5 6 6 6 3 6-10 6-4 6 8 6-5 6-14 6-5 6-6 6-22 6-21 6-15 6-25 6-35 6-28 6-26 6-30 6-27 6-17 6-8 6 2 6 11 6 18 6 29 6 34 6 27 6 30 6 41 6 30 6 14 6 25 6 31 6 12 6 1 6 12 6 11 6-6 6-8 6 2 6-1 6-10 6-5 6 3 6-6 6-12 6 2 6 9 6-3 6-6 6 5 6 3 6-9 6-1 6 8 6-2 6-7 6 5 6 4 6-7 6 1 6 8 6-4 6-6 6 7 6 6 6-8 6-2 6 8 6-2 6-7 6 3 6 2 6-7 6 3 6 8 6-4 6-7 6 5 6 4 6-6 6 1 6 10 6-5 6-9 6 5 6 7 6-6 6-1 6 7 6-3 6-7 6 6 6 5 6-8 6-2 6 6 8-6"/>
<path d="M30 1667l6 2 6-1 6-3 6 4 6 0 6-3 6 3 6-1 6-1 6 4 6-3 6-2 6 4 6-2 6-1 6 3 6-7 6-6 6-2 6-10 6-10 6-8 6-17 6-19 6-18 6-23 6-18 6-16 6-19 6-9 6-3 6-5 6 4 6 9 6 8 6 21 6 24 6 19 6 24 6 22 6 18 6 21 6 15 6 6 6 10 6 5 6-1 6 1 6-5 6-5 6 2 6-3 6-3 6 0 6-5 6-2 6 4 6 0 6 0 6 5 6-2 6-2 6 2 6-3 6-1 6-6 6-19 6-15 6-6 6 4 6 19 6 16 6 4 6 6 6 2 6-6 6 1 6 2 6-2 6 4 6 2 6-3 6 1 6-1 6-3 6 5 6-1 6-2 6 3 6 0 6-2 6 1 6-5 6-3 6 3 6-1 6 1 6 5 6-3 6-2 6 2 6-3 6 0 6 4 8-4"/>
<path d="M30 1661l6-3 6 11 6-7 6-1 6 7 6-8 6 3 6 5 6-9 6 7 6 2 6-9 6 8 6-3 6-11 6 7 6-7 6-11 6 2 6-14 6-12 6-7 6-28 6-17 6-13 6-25 6-9 6-8 6-15 6 9 6 8 6-1 6 2 6-25 6-14 6 48 6 56 6 43 6 39 6 11 6 11 6 15 6-4 6 3 6 6 6-11 6-1 6-4 6-13 6 8 6-2 6-11 6 7 6-5 6-4 6 10 6-9 6-5 6 9 6-8 6 0 6 8 6-6 6 2 6-2 6-6 6 13 6-5 6-10 6 21 6-3 6-20 6 14 6 11 6-16 6-10 6 12 6 18 6-17 6-18 6 30 6 8 6-37 6 9 6 25 6-17 6-12 6 8 6 6 6-1 6-9 6 8 6 13 6-14 6-1 6 11 6-12 6-1 6 6 6-8 6 4 6 3 6-9 6 9 8-4"/>
<path d="M30 1669l6 0 6-6 6 8 6 1 6-6 6 9 6 1 6-10 6 5 6 0 6-6 6 9 6 2 6-10 6 4 6 1 6-11 6 4 6 0 6-9 6 4 6-2 6-18 6-10 6-17 6-31 6-22 6-27 6-44 6-35 6-36 6-42 6-23 6-13 6-14 6 9 6 20 6 18 6 41 6 47 6 32 6 44 6 51 6 33 6 32 6 31 6 17 6 13 6 0 6-6 6 12 6-5 6-32 6 0 6 15 6-21 6-17 6 13 6 2 6-13 6-5 6 6 6 11 6-7 6-15 6 12 6 9 6-13 6 2 6 15 6-8 6-5 6 7 6-6 6-2 6 6 6-5 6 1 6 6 6-9 6-2 6 7 6-5 6-1 6 8 6-5 6 0 6 6 6-8 6-1 6 8 6-6 6-2 6 9 6-4 6-1 6 7 6-7 6-3 6 9 6-3 6-3 6 7 6-8 8-2"/>
<path d="M30 1665l6-2 6 4 6 2 6-2 6-2 6 1 6 1 6-3 6-1 6 4 6 1 6-5 6-4 6-1 6-4 6-10 6-5 6-5 6-10 6-12 6-10 6-10 6-17 6-19 6-13 6-9 6-10 6-8 6-1 6 4 6 6 6 13 6 20 6 21 6 19 6 23 6 26 6 19 6 12 6 13 6 12 6 1 6-5 6-1 6-1 6-7 6-11 6-1 6-1 6-8 6-3 6-9 6 6 6-18 6-13 6-2 6-23 6 33 6-11 6 34 6 4 6-20 6 36 6-45 6 37 6-27 6 7 6 23 6-34 6 32 6-24 6 16 6-6 6-12 6 16 6-10 6 6 6-4 6 2 6 2 6-5 6 3 6 0 6-2 6-2 6 6 6 4 6-4 6-5 6 1 6 2 6-3 6-2 6 5 6 2 6-4 6-1 6 5 6 1 6-4 6 0 6 2 6-3 6-5 8 3"/>
<path d="M30 1659l6 3 6 0 6-2 6 1 6 4 6 1 6-2 6 0 6 2 6-2 6-1 6 3 6 1 6-5 6-5 6-3 6-2 6-4 6-3 6-5 6-12 6-16 6-12 6-10 6-13 6-15 6-13 6-9 6-10 6-7 6-1 6 2 6 6 6 11 6 16 6 20 6 19 6 18 6 18 6 13 6 10 6 11 6 12 6 8 6 3 6 5 6 5 6-3 6-12 6-2 6 12 6-7 6-28 6 4 6 22 6-12 6-18 6 10 6 8 6-9 6-5 6 4 6 2 6-2 6 1 6 3 6 0 6-3 6-2 6 3 6-2 6-3 6 3 6-1 6-1 6 4 6-2 6 6 6 2 6-9 6 10 6-3 6-10 6 13 6-9 6-1 6 8 6-14 6 8 6 4 6-12 6 9 6 1 6-5 6 4 6 1 6 1 6 0 6-1 6 4 6-1 6-5 6 0 6 3 8 1"/>
<path d="M30 1671l6-1 6 2 6 0 6-3 6 1 6 0 6-1 6 0 6-1 6-2 6 4 6 3 6-3 6-2 6-1 6-4 6 1 6 1 6-5 6-5 6-5 6-12 6-14 6-13 6-18 6-18 6-16 6-17 6-14 6-10 6-10 6-2 6 8 6 7 6 10 6 16 6 16 6 17 6 24 6 22 6 19 6 18 6 14 6 9 6 8 6 5 6 1 6 2 6-3 6-12 6-13 6-23 6-38 6-38 6-18 6 10 6 33 6 32 6 13 6 1 6-4 6-4 6 6 6 13 6 7 6 3 6 4 6-1 6-1 6 2 6 0 6-2 6 1 6 0 6 1 6 3 6-1 6-4 6 1 6 1 6 0 6 1 6 2 6 0 6 1 6 0 6-2 6 2 6 0 6-4 6 2 6 2 6-2 6 0 6 0 6-2 6 1 6 1 6-2 6 1 6 1 6-2 6 0 6 1 8-3"/>
<path d="M30 1671l6-4 6 4 6 3 6-2 6 0 6 2 6-2 6-7 6 1 6 5 6 0 6-4 6 3 6 5 6-5 6-7 6-1 6-4 6-16 6-15 6-11 6-23 6-35 6-32 6-30 6-36 6-37 6-29 6-20 6-16 6-3 6 15 6 26 6 29 6 36 6 45 6 40 6 34 6 35 6 32 6 21 6 10 6 10 6 14 6 9 6-13 6-15 6 8 6-9 6-73 6-62 6 26 6 45 6 10 6 26 6 34 6-14 6-22 6 17 6 12 6-14 6-2 6 11 6-1 6-6 6 3 6 2 6-6 6 1 6 8 6-1 6-6 6 0 6 3 6-4 6-3 6 7 6 2 6-7 6-2 6 7 6 2 6-6 6-1 6 5 6 0 6-4 6 1 6 4 6-5 6-4 6 4 6 4 6-5 6-3 6 6 6 3 6-3 6 0 6 6 6-2 6-9 6-1 6 5 8-4"/>
</g></g>
<g transform="scale(.25)" fill="none" stroke-linejoin="round">
<g stroke="#1a1a1a" stroke-width="2.8">
<path d="M30 2115l8 0 8 0 8-1 8 0 8 1 8 1 8 1 8 0 8 1 8-1 8-3 8-4 8-7 8-11 8-18 8-25 8-32 8-34 8-30 8-19 8-4 8 8 8 18 8 26 8 30 8 29 8 27 8 23 8 21 8 19 8 16 8 12 8 7 8 2 8-1 8-2 8-3 8-4 8-4 8-2 8-2 8-1 8-2 8-3 8-4 8-2 8-1 8 1 8 1 8 2 8 1 8 0 8-1 8-1 8-1 8 0 8-1 8-1 8 0 8 0 8 1 8 1 8 1 8 0 8 1 8-1 8 0 8-1 8 0 8 0 8 1 8 1 8-1 8 0 8 0 8 0 8 0 8 0 8-2"/>
<path d="M30 2115l8-1 8-1 8 0 8 0 8 0 8 1 8 1 8 1 8 0 8 1 8 0 8-1 8-2 8-3 8-9 8-17 8-27 8-36 8-41 8-38 8-25 8-4 8 13 8 26 8 34 8 34 8 32 8 26 8 22 8 18 8 15 8 13 8 11 8 7 8 4 8 0 8-1 8-3 8-2 8-2 8-3 8-4 8-5 8-3 8-2 8-1 8-1 8-2 8-1 8 0 8 0 8 1 8 1 8 1 8 0 8-1 8 0 8 0 8 1 8 1 8 0 8-1 8-1 8 0 8 1 8 0 8 0 8 0 8 0 8-1 8 0 8 0 8 0 8-1 8-1 8 0 8 0 8 1 8 1"/>
<path d="M30 2115l8 0 8 1 8 2 8 0 8-1 8 0 8-1 8 1 8 1 8 0 8-2 8-2 8-4 8-10 8-20 8-31 8-44 8-49 8-46 8-31 8-6 8 11 8 25 8 32 8 38 8 37 8 33 8 29 8 25 8 22 8 19 8 16 8 12 8 7 8 2 8-1 8-2 8-3 8-4 8-5 8-5 8-5 8-4 8-3 8-2 8-1 8-1 8-1 8-1 8-1 8 1 8 1 8 1 8 1 8-1 8 0 8 1 8 0 8 0 8 0 8 0 8-1 8-1 8 0 8-1 8-1 8 0 8 0 8 0 8 1 8 0 8 0 8 0 8 0 8 1 8 2 8 0 8 0 8-1"/>
<path d="M30 2118l8-1 8 0 8 1 8 2 8 0 8 1 8 1 8-1 8-1 8-3 8-4 8-9 8-16 8-24 8-34 8-42 8-47 8-43 8-33 8-15 8 5 8 21 8 32 8 39 8 40 8 37 8 34 8 29 8 26 8 23 8 20 8 16 8 13 8 7 8 2 8-1 8-3 8-4 8-7 8-7 8-8 8-7 8-6 8-4 8-1 8-2 8-2 8-2 8-1 8-1 8 1 8 0 8 0 8-1 8-1 8 0 8-1 8 1 8 1 8 1 8 1 8 0 8 1 8 0 8 0 8-1 8-2 8-2 8-1 8-1 8 1 8 2 8 1 8 0 8-1 8-1 8 0 8 1 8-1"/>
<path d="M30 2118l8-1 8 0 8-1 8 1 8 1 8 2 8 0 8 0 8-2 8-1 8 0 8-2 8-5 8-11 8-17 8-26 8-36 8-42 8-42 8-31 8-13 8 8 8 24 8 35 8 40 8 38 8 32 8 25 8 18 8 15 8 13 8 13 8 13 8 11 8 10 8 6 8 1 8-2 8-4 8-5 8-6 8-5 8-6 8-5 8-3 8-2 8-1 8-1 8-2 8-3 8 0 8 1 8 2 8 2 8 0 8 0 8-1 8 0 8 0 8 0 8 1 8-1 8 0 8-1 8 0 8 0 8-1 8-1 8-1 8 0 8-1 8-1 8-1 8 0 8 0 8 1 8 1 8 0 8 0"/>
<path d="M30 2115l8 1 8 0 8-1 8 0 8 1 8 2 8 0 8 0 8 0 8-1 8-2 8-3 8-7 8-13 8-23 8-36 8-47 8-53 8-48 8-32 8-7 8 15 8 33 8 43 8 47 8 43 8 35 8 29 8 23 8 21 8 18 8 16 8 11 8 7 8 1 8-3 8-6 8-6 8-5 8-5 8-5 8-6 8-7 8-5 8-3 8-3 8-1 8-2 8-1 8 0 8 1 8 0 8-1 8 0 8 0 8 0 8 0 8 1 8 0 8 0 8-1 8 0 8 1 8 0 8 0 8 0 8-1 8 0 8 0 8 0 8-1 8 0 8 0 8 0 8 0 8 0 8 0 8 0 8 1"/>
<path d="M30 2120l8 0 8-1 8-1 8 0 8 0 8 0 8 0 8-1 8 0 8 0 8-1 8-2 8-3 8-6 8-10 8-17 8-25 8-28 8-25 8-14 8 1 8 11 8 18 8 23 8 24 8 24 8 21 8 20 8 17 8 14 8 12 8 8 8 5 8-1 8-2 8-4 8-5 8-5 8-5 8-4 8-3 8-4 8-2 8-2 8-1 8-1 8-1 8 0 8-1 8 0 8 0 8 1 8 0 8 0 8 1 8 1 8 0 8-1 8-1 8-1 8 1 8 1 8 0 8 0 8-1 8 0 8 0 8 1 8-1 8-1 8-1 8 0 8 0 8-1 8 0 8 0 8 1 8 1 8 0"/>
<path d="M30 2109l8 0 8 1 8 0 8 0 8 0 8 0 8 1 8-1 8 0 8-2 8-2 8-4 8-8 8-13 8-23 8-31 8-38 8-40 8-33 8-21 8-3 8 13 8 26 8 35 8 37 8 36 8 32 8 25 8 20 8 17 8 16 8 13 8 8 8 3 8-2 8-3 8-5 8-5 8-6 8-6 8-5 8-6 8-5 8-3 8-3 8-1 8-2 8-3 8-1 8-1 8-1 8 1 8 2 8 1 8 1 8 0 8-1 8-1 8-1 8 0 8 0 8 1 8 1 8 0 8 0 8 0 8-1 8 1 8 0 8 1 8 1 8 0 8-1 8-1 8 0 8 0 8-1 8 0 8-1"/>
<path d="M30 2112l8 0 8 2 8 2 8 1 8 1 8 0 8-1 8 0 8-1 8 0 8-1 8-4 8-9 8-14 8-22 8-29 8-37 8-38 8-34 8-23 8-6 8 13 8 28 8 38 8 39 8 35 8 29 8 22 8 16 8 14 8 14 8 13 8 12 8 9 8 3 8-2 8-3 8-4 8-6 8-6 8-6 8-5 8-5 8-4 8-4 8-3 8-2 8-1 8-2 8-1 8-1 8 0 8 0 8 1 8 0 8 0 8-1 8-1 8-1 8 0 8 1 8 1 8 1 8 1 8 1 8-1 8-1 8-1 8-1 8-1 8-1 8 0 8 1 8 0 8 0 8 1 8 1 8 1 8 0"/>
<path d="M30 2120l8 0 8 0 8 1 8 0 8-1 8-1 8 0 8 1 8 1 8-1 8-2 8-3 8-4 8-8 8-12 8-17 8-21 8-19 8-13 8-5 8 5 8 12 8 15 8 17 8 17 8 16 8 15 8 14 8 13 8 11 8 8 8 5 8 1 8-1 8-2 8-2 8-4 8-3 8-4 8-5 8-3 8-3 8-1 8-1 8 0 8-1 8 0 8-1 8-1 8-1 8 0 8 1 8 0 8 1 8-1 8-1 8 0 8 1 8 1 8 0 8-1 8-1 8 0 8 1 8 2 8 1 8 0 8-1 8-2 8-1 8-2 8 0 8 1 8 1 8 0 8 1 8 1 8 1 8 1"/>
<path d="M30 2118l8 0 8 0 8 0 8 0 8 0 8-1 8-2 8-1 8-1 8 0 8 0 8-2 8-4 8-9 8-14 8-19 8-24 8-22 8-16 8-5 8 3 8 9 8 15 8 18 8 19 8 19 8 20 8 19 8 18 8 16 8 14 8 10 8 4 8 0 8-3 8-4 8-6 8-7 8-8 8-8 8-7 8-5 8-5 8-3 8-1 8-2 8-1 8 0 8 1 8 1 8 1 8 0 8 0 8 0 8 0 8 0 8 0 8 0 8-1 8-1 8-1 8-1 8 0 8 0 8 0 8 0 8 0 8 0 8 1 8 0 8 0 8 1 8 0 8 0 8 0 8 0 8 0 8 0 8-1"/>
<path d="M30 2113l8 0 8 0 8 1 8-1 8 0 8 0 8 1 8 1 8 2 8 0 8-1 8-3 8-4 8-7 8-13 8-21 8-31 8-38 8-38 8-30 8-12 8 7 8 23 8 34 8 37 8 34 8 28 8 20 8 15 8 13 8 12 8 11 8 11 8 7 8 2 8-1 8-3 8-5 8-7 8-6 8-5 8-4 8-2 8-3 8-3 8-3 8-2 8 0 8 0 8 0 8-1 8 0 8 0 8 0 8-1 8 0 8 0 8-1 8 0 8-1 8 0 8 0 8 1 8 1 8-1 8 0 8 0 8-1 8-1 8-1 8 0 8 1 8 1 8 2 8 1 8 0 8-1 8-2 8-1"/>
<path d="M30 2110l8 1 8 0 8 1 8 1 8 0 8-1 8 1 8 0 8 1 8-1 8-3 8-3 8-6 8-9 8-17 8-28 8-39 8-48 8-47 8-37 8-17 8 7 8 24 8 38 8 45 8 44 8 38 8 31 8 24 8 20 8 16 8 12 8 7 8 3 8-1 8-2 8-3 8-3 8-2 8-2 8-2 8-1 8-1 8 0 8-1 8-1 8 0 8-1 8 0 8 0 8 0 8 1 8 0 8 0 8-1 8 0 8 0 8 0 8 0 8 0 8 0 8-1 8 0 8 1 8 1 8 0 8-1 8 0 8-1 8 0 8 0 8 1 8 0 8 0 8 0 8 0 8 0 8 0 8-1"/>
<path d="M30 2118l8-2 8-1 8 0 8 0 8 0 8 0 8 0 8 0 8 1 8-1 8-1 8-2 8-4 8-8 8-13 8-18 8-21 8-20 8-15 8-7 8 3 8 12 8 18 8 21 8 20 8 17 8 14 8 13 8 12 8 10 8 11 8 9 8 7 8 2 8-1 8-3 8-4 8-4 8-5 8-5 8-5 8-5 8-4 8-4 8-4 8-3 8-1 8-1 8 1 8 0 8 0 8-1 8 0 8 0 8 0 8-1 8 0 8 0 8 0 8-1 8-1 8 0 8 1 8 2 8 2 8 1 8 1 8 0 8-1 8-1 8-1 8-1 8 0 8 1 8 0 8 0 8-1 8 0 8 0"/>
<path d="M30 2118l8-1 8 0 8-1 8 1 8 0 8 0 8 0 8 0 8-1 8-2 8-4 8-8 8-14 8-20 8-26 8-29 8-30 8-26 8-16 8-4 8 9 8 17 8 25 8 27 8 27 8 24 8 20 8 18 8 15 8 14 8 13 8 13 8 11 8 8 8 3 8-1 8-3 8-5 8-5 8-6 8-6 8-5 8-3 8-4 8-3 8-3 8-2 8-1 8 0 8 0 8 1 8 0 8 1 8-1 8-1 8-1 8 0 8 0 8-1 8 0 8 1 8 0 8 1 8 0 8 1 8-1 8 0 8 0 8 1 8 0 8-1 8-1 8-1 8-1 8 1 8 0 8 1 8 0 8 0"/>
</g>
<g stroke="#dc1812" stroke-width="3">
<path d="M30 2110l6 3 6 1 6-2 6 3 6 2 6-3 6-6 6 7 6 5 6-16 6 12 6 6 6-22 6 14 6 4 6-17 6 11 6-5 6-14 6 0 6-15 6-20 6-23 6-39 6-35 6-32 6-37 6-24 6-9 6-6 6 9 6 20 6 19 6 29 6 34 6 26 6 28 6 30 6 18 6 13 6 17 6 12 6 6 6 12 6 14 6 5 6 8 6 18 6 1 6 1 6 17 6-13 6-12 6 19 6-17 6-22 6 17 6-24 6-30 6 21 6-10 6-16 6 29 6-6 6-16 6 21 6-7 6-11 6 15 6-7 6-10 6 10 6-5 6-5 6 6 6-5 6 1 6 4 6-6 6 3 6 2 6-5 6 6 6 3 6-8 6 2 6 2 6-5 6 3 6 1 6-6 6 5 6 3 6-7 6 2 6 6 6-3 6 2 6 3 6-6 6 2 6 5 6-5 6 2 8 2"/>
<path d="M30 2120l6-1 6 1 6 0 6 1 6 2 6-4 6-2 6 1 6-3 6-1 6 0 6 0 6 1 6 0 6-3 6-2 6-3 6-8 6-9 6-11 6-14 6-14 6-17 6-19 6-15 6-11 6-6 6 5 6 5 6 6 6 11 6 10 6 11 6 16 6 14 6 15 6 16 6 13 6 11 6 13 6 13 6 13 6 13 6 7 6 6 6 7 6-1 6-3 6-2 6-6 6-5 6-3 6-7 6-6 6-5 6-6 6-2 6-3 6-5 6-1 6-1 6-4 6 1 6-1 6-5 6 2 6 3 6-3 6 0 6 0 6 0 6 4 6-1 6-2 6 0 6-1 6-1 6 1 6-2 6-1 6 2 6-1 6 0 6 3 6 0 6 1 6 0 6-3 6 0 6 2 6-3 6 2 6 2 6-3 6-1 6 1 6-1 6 1 6 2 6 0 6 2 6-2 6-3 6 1 8 0"/>
<path d="M30 2113l6 10 6-13 6 14 6-8 6-8 6 25 6-30 6 21 6-12 6-6 6 29 6-41 6 39 6-19 6-9 6 31 6-45 6 36 6-32 6-8 6 19 6-52 6 19 6-33 6-14 6 1 6-32 6 20 6-17 6 4 6 17 6 2 6 23 6 8 6 19 6 14 6 8 6 19 6 7 6 7 6 9 6 11 6 11 6 8 6 11 6 8 6 1 6 0 6 1 6-4 6-7 6-5 6-3 6-5 6-3 6-3 6-4 6-7 6-4 6-1 6-3 6-4 6-2 6-2 6-4 6 0 6 1 6 0 6-1 6 2 6-1 6-3 6 0 6 5 6 1 6-3 6 1 6 4 6-1 6-3 6 1 6 1 6-1 6 0 6 2 6-1 6-1 6 2 6-1 6-5 6 0 6 4 6 1 6 0 6 2 6-1 6-2 6 0 6 3 6-2 6-4 6 0 6 1 6-1 8 0"/>
<path d="M30 2109l6 8 6 9 6-10 6-2 6 12 6-2 6-13 6 6 6 8 6-12 6 1 6 14 6-11 6-7 6 13 6-4 6-9 6 4 6-8 6-16 6-13 6-19 6-24 6-29 6-31 6-23 6-21 6-13 6 4 6 4 6 8 6 17 6 16 6 21 6 26 6 20 6 21 6 21 6 13 6 18 6 17 6 7 6 10 6 7 6 1 6 7 6 4 6 1 6 3 6-5 6-5 6 0 6-5 6-2 6-1 6-8 6-10 6-14 6-16 6 1 6 9 6 6 6 9 6 3 6-2 6 2 6-3 6-2 6 5 6-3 6-1 6 4 6-4 6-1 6 4 6-2 6 3 6 3 6-4 6 1 6-1 6-4 6 2 6 0 6-2 6 4 6-3 6-1 6 2 6-3 6 1 6 6 6-3 6 1 6 1 6-7 6 2 6 3 6-5 6 1 6 0 6-2 6 6 6 0 8-2"/>
</g>
<g stroke="#1a1a1a" stroke-width="2.8">
<path d="M30 2116l8 0 8 0 8-1 8-1 8 1 8 1 8 2 8 2 8 0 8-2 8-6 8-10 8-16 8-25 8-35 8-46 8-51 8-51 8-38 8-18 8 6 8 26 8 41 8 49 8 49 8 44 8 35 8 28 8 23 8 19 8 17 8 14 8 10 8 6 8 0 8-2 8-5 8-7 8-6 8-6 8-4 8-5 8-5 8-3 8-4 8-2 8-1 8-1 8-1 8-1 8-1 8 0 8 0 8 1 8 1 8 0 8 1 8 2 8 0 8-1 8-1 8-2 8 0 8-1 8 0 8 0 8-1 8 0 8 0 8 1 8 1 8 1 8 1 8 0 8 1 8 0 8-1 8-1 8-1"/>
</g>
<g stroke="#dc1812" stroke-width="3">
<path d="M30 2121l6-1 6-1 6-2 6 0 6 2 6 0 6-1 6 0 6 2 6 1 6-1 6 0 6 2 6 0 6 0 6-1 6-3 6-2 6-2 6-4 6-5 6-5 6-6 6-10 6-12 6-13 6-9 6-7 6-8 6-6 6 1 6 5 6 5 6 6 6 8 6 8 6 8 6 9 6 11 6 9 6 8 6 5 6 2 6-3 6-1 6 10 6 16 6 10 6 3 6 2 6 1 6-2 6-3 6-1 6 0 6-3 6-5 6-4 6-5 6-2 6-2 6-3 6-3 6-5 6-2 6-2 6-1 6 0 6 2 6 1 6 1 6 0 6-2 6-1 6-1 6-1 6-2 6 1 6 2 6 1 6 0 6-1 6 0 6 1 6 1 6 1 6-1 6-1 6 0 6 2 6 3 6 1 6-3 6-3 6 0 6 1 6 0 6-1 6 0 6-1 6 1 6-1 6-2 6 1 8 1"/>
</g>
<g stroke="#1a1a1a" stroke-width="2.8">
<path d="M30 2121l8 0 8-1 8-1 8-1 8 0 8 1 8 1 8 0 8 0 8-3 8-6 8-10 8-15 8-22 8-30 8-36 8-38 8-32 8-20 8-4 8 9 8 20 8 28 8 32 8 33 8 29 8 26 8 23 8 21 8 20 8 18 8 15 8 12 8 6 8 0 8-3 8-4 8-4 8-4 8-5 8-5 8-6 8-5 8-5 8-3 8-3 8-1 8 0 8 1 8 0 8 0 8-1 8-1 8 0 8 0 8 1 8 1 8 0 8 0 8 0 8 0 8 1 8-2 8-1 8-1 8-1 8 1 8 1 8 1 8 1 8 1 8 1 8 0 8-1 8-1 8-1 8-1 8 1 8 0"/>
</g>
<g stroke="#dc1812" stroke-width="3">
<path d="M30 2119l6-11 6 7 6 11 6-11 6-10 6 12 6 8 6-12 6-11 6 17 6 16 6-23 6-16 6 28 6 9 6-34 6-5 6 31 6-7 6-32 6 3 6 12 6-27 6-26 6-3 6-15 6-28 6-5 6 5 6-8 6 1 6 17 6 6 6 8 6 20 6 11 6 8 6 16 6 6 6 7 6 15 6 4 6 6 6 14 6 4 6 6 6 10 6 1 6 2 6 8 6-4 6 0 6 4 6-7 6-2 6 2 6-12 6-4 6 2 6-8 6-3 6 1 6-10 6 0 6 5 6-7 6-1 6 3 6-7 6 4 6 4 6-5 6 2 6 2 6-7 6 3 6 3 6-5 6 4 6 1 6-5 6 6 6 3 6-5 6 4 6-1 6-6 6 4 6 0 6-7 6 6 6 2 6-5 6 6 6 1 6-6 6 5 6 0 6-5 6 6 6-1 6-5 6 5 6-2 8-1"/>
<path d="M30 2116l6 8 6-3 6 1 6 5 6-7 6 3 6-1 6-7 6 5 6-4 6-1 6 6 6-3 6 4 6-1 6-7 6 5 6-9 6-7 6-2 6-20 6-16 6-24 6-35 6-26 6-36 6-32 6-20 6-23 6 1 6 10 6 6 6 24 6 21 6 24 6 31 6 20 6 28 6 25 6 13 6 24 6 12 6 10 6 18 6 6 6 13 6 11 6 0 6 12 6 1 6-1 6 5 6-8 6-2 6-5 6-10 6 8 6-10 6-12 6 5 6-13 6-3 6 9 6-19 6 1 6 11 6-15 6 2 6 14 6-14 6-6 6 16 6-11 6-11 6 22 6-6 6-15 6 28 6-8 6-21 6 26 6-7 6-15 6 23 6-12 6-11 6 17 6-7 6-3 6 6 6-5 6 3 6 0 6-1 6 2 6-4 6 6 6-2 6-5 6 7 6-3 6 1 6 6 6-6 8 4"/>
<path d="M30 2114l6-1 6-2 6 4 6-2 6-2 6 2 6-2 6-1 6 2 6 4 6-7 6 5 6-1 6-7 6 15 6-15 6 12 6-4 6-1 6 1 6-18 6 11 6-27 6-7 6-16 6-29 6-10 6-15 6-8 6 1 6 9 6 9 6 13 6 16 6 10 6 13 6 15 6 6 6 6 6 9 6 4 6 5 6 11 6 5 6 2 6 8 6 3 6 1 6 4 6-3 6-5 6 4 6-1 6-8 6 0 6-3 6-7 6-1 6-1 6-7 6-2 6-1 6-6 6-1 6 2 6-3 6-1 6 1 6-4 6 1 6 3 6-2 6 2 6 4 6-2 6 2 6 2 6-6 6-2 6 3 6-4 6-1 6 3 6-2 6-4 6 3 6 0 6-1 6 2 6-1 6 3 6 1 6-7 6 6 6 6 6-13 6 3 6 14 6-16 6-6 6 21 6-5 6-17 6 19 8-4"/>
</g>
<g stroke="#1a1a1a" stroke-width="2.8">
<path d="M30 2115l8 1 8 1 8 1 8 0 8-1 8-2 8-1 8 0 8-1 8-1 8-2 8-3 8-7 8-14 8-23 8-32 8-41 8-46 8-43 8-30 8-10 8 9 8 23 8 34 8 39 8 39 8 36 8 32 8 28 8 24 8 19 8 17 8 12 8 7 8 3 8-2 8-3 8-6 8-5 8-4 8-5 8-5 8-5 8-4 8-2 8 0 8 0 8 0 8 0 8-1 8 1 8 0 8 0 8-1 8-1 8-2 8 0 8 0 8 2 8 0 8 0 8 0 8 0 8 0 8 0 8 0 8 0 8-1 8 1 8 0 8-1 8 1 8 0 8-1 8 0 8 0 8 1 8 1 8 0"/>
</g>
<g stroke="#dc1812" stroke-width="3">
<path d="M30 2121l6-4 6 10 6-7 6 6 6-1 6-9 6 10 6-9 6 3 6 4 6-6 6 11 6-8 6 2 6 3 6-12 6 8 6-8 6-2 6 0 6-19 6-3 6-19 6-17 6-10 6-27 6-6 6-11 6-3 6 12 6-3 6 14 6 7 6 8 6 24 6 4 6 19 6 9 6 3 6 20 6 4 6 15 6 7 6 2 6 19 6 0 6 11 6 8 6-5 6 12 6-5 6 1 6 0 6-14 6 4 6-10 6-5 6-1 6-17 6 3 6-9 6-4 6 4 6-12 6 4 6-5 6-4 6 9 6-10 6 6 6-1 6-4 6 9 6-10 6 6 6 1 6-6 6 11 6-7 6 4 6-1 6-7 6 12 6-6 6 3 6 2 6-8 6 7 6-8 6 0 6 6 6-8 6 8 6-7 6-3 6 6 6-7 6 10 6-2 6-3 6 7 6-10 6 8 6-2 8 1"/>
</g>
<g stroke="#1a1a1a" stroke-width="2.8">
<path d="M30 2114l8 0 8 0 8 0 8 1 8 0 8-1 8 0 8-1 8 0 8-1 8-5 8-9 8-16 8-27 8-39 8-49 8-51 8-44 8-28 8-7 8 12 8 26 8 36 8 41 8 43 8 38 8 31 8 27 8 23 8 20 8 18 8 16 8 12 8 8 8 2 8-1 8-5 8-6 8-8 8-8 8-7 8-7 8-5 8-3 8-3 8-1 8-2 8-1 8 0 8 0 8 0 8 0 8 0 8-1 8 0 8 0 8 0 8 0 8-2 8-1 8 0 8-1 8 1 8 1 8 1 8 2 8 1 8 1 8-1 8-1 8 0 8 1 8-1 8-2 8-1 8 0 8 0 8 0 8-1"/>
</g>
<g stroke="#dc1812" stroke-width="3">
<path d="M30 2120l6 3 6 5 6-6 6-3 6 4 6-2 6-2 6 4 6 0 6-4 6 4 6 3 6-5 6 0 6 1 6-6 6-3 6-1 6-9 6-13 6-10 6-16 6-24 6-20 6-22 6-25 6-15 6-3 6-2 6 4 6 13 6 13 6 14 6 20 6 18 6 18 6 23 6 20 6 9 6 11 6 16 6 10 6 10 6 13 6 5 6-3 6 2 6 0 6-3 6 1 6-1 6-9 6-5 6 1 6-7 6-7 6-1 6-4 6-5 6 0 6-2 6-7 6 1 6 3 6-5 6-3 6 2 6-2 6-2 6 4 6 0 6-3 6 3 6 1 6-3 6 3 6 3 6-5 6-3 6 4 6-2 6-1 6 5 6-1 6-6 6 3 6 2 6-4 6 1 6 4 6-2 6-1 6 4 6-2 6-3 6 3 6-3 6-4 6 4 6 5 6-3 6 0 6 4 6-4 8-2"/>
</g>
<g stroke="#1a1a1a" stroke-width="2.8">
<path d="M30 2117l8 0 8 1 8 1 8 1 8 0 8 0 8-1 8-1 8-1 8-1 8-2 8-5 8-10 8-16 8-22 8-29 8-30 8-24 8-12 8 2 8 12 8 19 8 22 8 23 8 23 8 22 8 21 8 20 8 17 8 13 8 11 8 6 8 2 8-1 8-3 8-3 8-4 8-3 8-2 8-4 8-4 8-5 8-4 8-2 8 0 8 0 8 0 8 0 8 0 8-1 8 0 8-1 8 1 8 1 8 0 8 0 8-1 8 0 8-1 8 1 8-1 8-1 8-1 8 0 8 0 8 0 8 1 8-1 8-1 8-1 8 0 8 2 8 3 8 1 8 1 8 0 8-1 8 1 8-1"/>
<path d="M30 2121l8-1 8-2 8-1 8-2 8-1 8-1 8 1 8 2 8 0 8 0 8 0 8-2 8-3 8-4 8-7 8-10 8-14 8-17 8-17 8-12 8-4 8 2 8 8 8 12 8 14 8 16 8 15 8 14 8 14 8 14 8 13 8 12 8 10 8 5 8 0 8-2 8-5 8-5 8-6 8-4 8-4 8-2 8-2 8-2 8-2 8-1 8-2 8 0 8-1 8 1 8 0 8 1 8 0 8-1 8-1 8-1 8 0 8 0 8 0 8 0 8 1 8 0 8 1 8 0 8 0 8-1 8-1 8-1 8-1 8-1 8 0 8 0 8 1 8 1 8 0 8 1 8 0 8 1 8 1"/>
</g>
<g stroke="#dc1812" stroke-width="3">
<path d="M30 2112l6 4 6 3 6-8 6 4 6-1 6-5 6 10 6-1 6-4 6 7 6-5 6-3 6 6 6-5 6 2 6 4 6-10 6 0 6 2 6-13 6-4 6-12 6-25 6-16 6-32 6-41 6-29 6-38 6-35 6-14 6-15 6 1 6 12 6 7 6 23 6 31 6 22 6 31 6 26 6 17 6 30 6 20 6 15 6 25 6 12 6 10 6 19 6 4 6 7 6 12 6-5 6 1 6 1 6-10 6 1 6 0 6-9 6 3 6-7 6-12 6 3 6-4 6-2 6 8 6-7 6-4 6 4 6-9 6 0 6 7 6-7 6 2 6 7 6-9 6 2 6 8 6-10 6-2 6 10 6-10 6 0 6 13 6-14 6-3 6 17 6-15 6 0 6 17 6-17 6 3 6 16 6-17 6 1 6 13 6-11 6 0 6 6 6-6 6-1 6 3 6-4 6-2 6 5 6 1 8-4"/>
<path d="M30 2110l6 2 6 0 6 0 6-1 6-1 6 2 6 2 6 0 6-2 6 1 6 0 6-2 6-3 6-1 6 0 6-5 6-11 6-14 6-19 6-24 6-32 6-34 6-36 6-32 6-24 6-13 6-1 6 6 6 9 6 14 6 21 6 25 6 26 6 25 6 24 6 24 6 23 6 21 6 19 6 17 6 14 6 12 6 7 6 3 6 1 6 0 6-3 6-3 6-1 6-6 6-3 6-3 6-4 6-2 6-10 6 1 6-7 6 0 6 8 6-14 6 16 6-19 6 7 6 9 6-24 6 32 6-30 6 17 6-3 6-26 6 14 6-44 6 29 6 14 6 5 6 16 6-18 6 12 6-6 6 0 6 6 6-6 6 1 6-4 6 0 6 3 6 2 6 1 6 0 6 0 6 1 6 0 6-1 6 0 6 0 6-1 6 0 6 2 6 2 6 0 6-3 6 0 6 2 6 0 8-2"/>
<path d="M30 2116l6 7 6 3 6-8 6 4 6 0 6-6 6 6 6-2 6-3 6 9 6-4 6-5 6 9 6-4 6-4 6 6 6-5 6-1 6 3 6-12 6-6 6-5 6-24 6-19 6-18 6-31 6-16 6-7 6-10 6 6 6 9 6 5 6 23 6 21 6 12 6 24 6 14 6 8 6 20 6 8 6 6 6 21 6 8 6 3 6 13 6 0 6 0 6 6 6-8 6-5 6 0 6-13 6-4 6-2 6-13 6-3 6-2 6-12 6 3 6 2 6-11 6 0 6-2 6-7 6 8 6 1 6-6 6 4 6-5 6-5 6 6 6-4 6 3 6 4 6-13 6 13 6 9 6-26 6 16 6 20 6-41 6 6 6 40 6-36 6-9 6 41 6-19 6-19 6 25 6-6 6-13 6 9 6 0 6-2 6 3 6 0 6 5 6-2 6-5 6 6 6-3 6-2 6 7 6-6 8 0"/>
</g>
<g stroke="#1a1a1a" stroke-width="2.8">
<path d="M30 2116l8-1 8 0 8-1 8 1 8 0 8 1 8 0 8 0 8 0 8-2 8-3 8-7 8-12 8-20 8-28 8-38 8-44 8-39 8-26 8-5 8 10 8 21 8 30 8 33 8 34 8 32 8 29 8 27 8 24 8 22 8 19 8 13 8 7 8 1 8-3 8-4 8-4 8-6 8-6 8-7 8-6 8-6 8-4 8-3 8 0 8 0 8 0 8-1 8-1 8-2 8-1 8 0 8 0 8 0 8 0 8 0 8 0 8 0 8 1 8 1 8 0 8 1 8 1 8 0 8 0 8-1 8-2 8-1 8-1 8 0 8 0 8 1 8 0 8-1 8-1 8 0 8 1 8 1 8 1"/>
<path d="M30 2117l8 0 8 0 8-1 8 1 8 0 8 0 8 0 8 0 8-1 8-1 8-1 8-4 8-7 8-14 8-23 8-33 8-44 8-49 8-48 8-34 8-12 8 9 8 25 8 37 8 43 8 43 8 37 8 31 8 25 8 21 8 19 8 16 8 14 8 10 8 5 8 1 8-1 8-1 8-3 8-4 8-4 8-6 8-6 8-6 8-4 8-3 8 0 8 0 8-1 8 0 8 0 8 0 8-1 8 0 8-1 8 1 8-1 8-1 8-1 8-1 8 0 8 1 8 1 8 0 8 0 8 0 8 1 8 1 8 0 8 0 8 0 8 0 8 0 8 1 8 0 8 0 8-1 8-1 8 0"/>
</g>
<g stroke="#dc1812" stroke-width="3">
<path d="M30 2123l6-1 6 1 6 0 6 2 6 3 6-6 6-2 6 4 6-10 6 1 6 13 6-13 6 3 6 15 6-23 6 8 6 16 6-35 6 18 6 12 6-49 6 12 6-7 6-60 6 11 6-17 6-49 6 26 6-1 6-21 6 32 6 0 6-2 6 32 6 5 6 7 6 27 6 9 6 13 6 19 6 7 6 11 6 13 6 8 6 7 6 6 6 3 6 0 6 0 6 0 6-4 6-4 6-5 6-5 6-4 6-4 6-2 6-1 6-4 6-4 6-2 6-1 6-2 6-2 6-2 6 0 6-2 6 0 6 3 6 1 6 0 6-1 6 0 6 1 6-1 6 1 6 2 6-1 6-2 6-4 6-3 6 1 6 3 6 2 6 1 6-2 6-1 6 0 6-1 6 1 6 0 6-1 6-2 6 0 6 3 6 1 6-1 6 0 6 0 6-1 6 2 6 2 6 1 6 0 8-1"/>
<path d="M30 2101l6 22 6-17 6-1 6 14 6-11 6-2 6 0 6-2 6 3 6-1 6-6 6 3 6 5 6-2 6 1 6-10 6 12 6-4 6-28 6 2 6-21 6-19 6-57 6-31 6-10 6-83 6-21 6-16 6-4 6-4 6-4 6 56 6 8 6 25 6 46 6 28 6 30 6 22 6 36 6 18 6 12 6 23 6 14 6 8 6 11 6 11 6 3 6 1 6 8 6-1 6-10 6-3 6 3 6-7 6-10 6-3 6-5 6-23 6-32 6-20 6 2 6 17 6 22 6 16 6 0 6-8 6 0 6 7 6-2 6-4 6 5 6 2 6-6 6-1 6 8 6-2 6-7 6 3 6 4 6-5 6-7 6 7 6 6 6-7 6-5 6 5 6 2 6-5 6 2 6 6 6-3 6-6 6 3 6 6 6-3 6-5 6 5 6 1 6-6 6 1 6 9 6-1 6-7 6 2 8 5"/>
</g>
<g stroke="#1a1a1a" stroke-width="2.8">
<path d="M30 2115l8 1 8-1 8-1 8-2 8 0 8 0 8 0 8 0 8 0 8-1 8-4 8-8 8-16 8-25 8-37 8-47 8-53 8-51 8-39 8-18 8 7 8 29 8 46 8 52 8 51 8 44 8 35 8 26 8 21 8 17 8 14 8 11 8 7 8 3 8 0 8-3 8-4 8-7 8-6 8-7 8-5 8-5 8-5 8-4 8-2 8-2 8-1 8 0 8 1 8 2 8 1 8 1 8 1 8 0 8-1 8 0 8 1 8 1 8-1 8-2 8-1 8-1 8 0 8 0 8 1 8 1 8 1 8-1 8-2 8-1 8 0 8 1 8 1 8 1 8 1 8-1 8 0 8 0 8 0"/>
</g>
<g stroke="#dc1812" stroke-width="3">
<path d="M30 2111l6 1 6 3 6-4 6-4 6 6 6 3 6-4 6-1 6 3 6 1 6-3 6-3 6 3 6-3 6-6 6 8 6 2 6-11 6 7 6 3 6-20 6-5 6-1 6-34 6-29 6-15 6-43 6-36 6-4 6-14 6-12 6 20 6 15 6 4 6 26 6 31 6 14 6 24 6 30 6 14 6 16 6 27 6 16 6 9 6 16 6 11 6 0 6 1 6 3 6-5 6-6 6-1 6-7 6-11 6-3 6-4 6-11 6-6 6 0 6-8 6-6 6 3 6 0 6-4 6 2 6 2 6-6 6-2 6 3 6-3 6-2 6 5 6-2 6-5 6 2 6 3 6-5 6-1 6 4 6-2 6-2 6 5 6 0 6-3 6 2 6 2 6-4 6 2 6 5 6-4 6-4 6 4 6 2 6-4 6 3 6 4 6-4 6-1 6 5 6-2 6-4 6 3 6 1 6-4 8 3"/>
<path d="M30 2113l6 12 6-14 6-6 6 14 6-1 6-12 6 5 6 8 6-5 6-5 6 2 6 0 6-2 6-1 6 2 6 2 6-4 6-4 6-3 6-12 6-17 6-13 6-19 6-30 6-30 6-27 6-27 6-15 6-4 6-2 6 10 6 24 6 24 6 23 6 26 6 22 6 19 6 20 6 18 6 9 6 5 6-2 6-13 6-6 6 15 6 26 6 27 6 23 6 7 6-3 6 1 6 0 6-5 6-3 6-5 6-11 6-7 6-5 6-8 6-4 6-3 6-7 6-4 6 1 6-2 6-5 6-2 6-3 6-2 6 3 6 1 6-4 6 2 6 4 6-2 6 0 6 3 6-1 6-2 6 3 6-1 6-2 6 2 6 1 6-2 6 1 6-1 6-5 6 1 6 4 6-4 6 0 6 5 6-2 6-1 6 4 6 0 6-3 6 3 6 0 6-5 6 1 6 1 6-2 8 4"/>
<path d="M30 2121l6-5 6-4 6 4 6 2 6-4 6-1 6 8 6-6 6-4 6 6 6-5 6 7 6-7 6 12 6 6 6-25 6 16 6-11 6-14 6-11 6-25 6-15 6-41 6-33 6-24 6-38 6-30 6-13 6-1 6-3 6 8 6 19 6 18 6 15 6 26 6 29 6 20 6 22 6 32 6 24 6 10 6 7 6 15 6 21 6 21 6 19 6 10 6-2 6 0 6 4 6-6 6-9 6-1 6-2 6-11 6-7 6 1 6-6 6-14 6-3 6 4 6-5 6-7 6 4 6 3 6-6 6 0 6 9 6-1 6-9 6 1 6 4 6-5 6-4 6 5 6 0 6-6 6 4 6 8 6-4 6-5 6 5 6 2 6-6 6 1 6 7 6-4 6-8 6 2 6 4 6-6 6-1 6 8 6 3 6-7 6 1 6 6 6-4 6-6 6 5 6 4 6-6 6-1 6 4 8-5"/>
</g>
<g stroke="#1a1a1a" stroke-width="2.8">
<path d="M30 2116l8 0 8 1 8 1 8 1 8 0 8 1 8 0 8-1 8-2 8-2 8-4 8-5 8-11 8-15 8-20 8-23 8-22 8-18 8-11 8 0 8 8 8 15 8 21 8 22 8 23 8 21 8 18 8 17 8 15 8 14 8 11 8 8 8 2 8-1 8-3 8-4 8-5 8-4 8-4 8-4 8-4 8-4 8-3 8-2 8-2 8-2 8-1 8 0 8 1 8 0 8 0 8 0 8 0 8-1 8 0 8 1 8 0 8 1 8 1 8 0 8 1 8-1 8 0 8 0 8 0 8 0 8 1 8-1 8 0 8 0 8 0 8 1 8 0 8 0 8-1 8 0 8-1 8-1 8 0"/>
</g>
<g stroke="#dc1812" stroke-width="3">
<path d="M30 2117l6-2 6-2 6-1 6 0 6 0 6 2 6 2 6-6 6 0 6 11 6 0 6-12 6 3 6 17 6-5 6-20 6 5 6 16 6-12 6-24 6 1 6 4 6-27 6-40 6-24 6-24 6-39 6-32 6-10 6-1 6-2 6 5 6 13 6 18 6 20 6 24 6 23 6 23 6 23 6 23 6 24 6 22 6 18 6 12 6-1 6-14 6-17 6-3 6 17 6 25 6 16 6 5 6-1 6-2 6-5 6-6 6-7 6-5 6-4 6-6 6-4 6-1 6-2 6-1 6 1 6 1 6-1 6-1 6 0 6 0 6 0 6 1 6 2 6-1 6-1 6 0 6 1 6 0 6-2 6-1 6-1 6-2 6 1 6 1 6 0 6 1 6 1 6 1 6 0 6-1 6-1 6-1 6 0 6 1 6-1 6 1 6 1 6 0 6 0 6-2 6-1 6 2 6 2 6-2 8-4"/>
<path d="M30 2121l6-4 6-1 6 4 6-1 6-6 6 3 6 6 6-2 6-3 6 2 6 0 6-5 6-1 6 4 6-1 6-4 6 0 6-6 6-14 6-14 6-17 6-33 6-40 6-37 6-38 6-43 6-29 6-11 6-2 6 4 6 18 6 22 6 19 6 25 6 32 6 27 6 23 6 27 6 28 6 20 6 21 6 25 6 18 6 10 6 14 6 13 6 3 6 1 6 6 6 2 6-7 6-6 6-2 6-7 6-8 6-1 6-2 6-9 6-4 6 2 6-5 6-10 6 0 6 4 6-4 6-3 6 3 6-1 6-3 6 2 6 2 6-5 6-2 6 6 6 4 6-4 6 0 6 3 6-3 6-3 6 5 6 4 6-4 6-2 6 4 6-1 6-3 6 3 6 1 6-4 6 0 6 6 6-4 6-6 6 3 6 4 6-5 6-2 6 6 6 0 6-5 6 3 6 4 6-3 8-1"/>
</g>
<g stroke="#1a1a1a" stroke-width="2.8">
<path d="M30 2117l8-1 8-1 8 0 8 0 8-1 8 0 8 1 8 0 8-1 8-1 8-5 8-8 8-12 8-18 8-22 8-25 8-24 8-19 8-9 8 4 8 14 8 22 8 27 8 27 8 23 8 19 8 17 8 16 8 15 8 13 8 11 8 7 8 1 8-3 8-4 8-4 8-5 8-4 8-5 8-4 8-4 8-5 8-4 8-2 8-1 8 1 8 1 8 1 8 0 8 1 8 1 8-1 8-1 8-1 8-1 8 0 8 1 8 1 8 0 8-1 8-1 8 1 8 0 8 0 8 1 8 1 8 1 8 1 8 0 8-1 8-1 8-2 8-1 8 1 8 1 8 1 8 0 8 0 8 0"/>
<path d="M30 2116l8 0 8 0 8 1 8 0 8-1 8 0 8-1 8 1 8 1 8 0 8-1 8-3 8-6 8-13 8-22 8-35 8-50 8-60 8-58 8-40 8-9 8 17 8 36 8 49 8 51 8 47 8 37 8 29 8 22 8 19 8 16 8 17 8 16 8 14 8 9 8 4 8-2 8-3 8-4 8-5 8-7 8-9 8-9 8-7 8-5 8-3 8-1 8-1 8 0 8 0 8 0 8 0 8-1 8-1 8 1 8 1 8 0 8-1 8-1 8 0 8 1 8 2 8 0 8 0 8 0 8 0 8 0 8 0 8 0 8 0 8 0 8 0 8-1 8 0 8 1 8 0 8 0 8 0 8 0"/>
</g>
<g stroke="#dc1812" stroke-width="3">
<path d="M30 2112l6 5 6 2 6-6 6 0 6 6 6-4 6-4 6 6 6 2 6-4 6 2 6 2 6-7 6-3 6 7 6-1 6-8 6-1 6-5 6-20 6-20 6-16 6-26 6-31 6-17 6-10 6-10 6 3 6 14 6 6 6 8 6 23 6 18 6 10 6 19 6 22 6 13 6 13 6 19 6 13 6 4 6 11 6 12 6-1 6-1 6 6 6-3 6-5 6 3 6 0 6-12 6-5 6 4 6-4 6-6 6 2 6-2 6-8 6-1 6 6 6-2 6-11 6 10 6-2 6-21 6 17 6-13 6-24 6 3 6-16 6 42 6 11 6-31 6 38 6 8 6-20 6-4 6 2 6 20 6-6 6-21 6 8 6 16 6-5 6-15 6 4 6 15 6-4 6-12 6 6 6 10 6-7 6-7 6 4 6 2 6-5 6 3 6 4 6-4 6-1 6 7 6-2 6-7 6 5 8 3"/>
<path d="M30 2118l6 6 6-9 6 9 6-4 6 0 6 4 6-9 6 10 6-6 6-5 6 4 6-7 6 12 6-4 6-6 6 4 6-16 6 0 6-14 6-21 6-15 6-37 6-25 6-34 6-38 6-18 6-27 6-5 6 1 6 0 6 24 6 15 6 31 6 31 6 20 6 40 6 18 6 19 6 28 6 22 6 24 6 0 6 22 6 26 6-18 6-1 6 10 6 3 6-11 6-13 6 16 6-13 6-19 6 5 6-9 6-1 6-7 6-4 6 7 6-13 6 6 6 1 6-6 6 7 6-9 6 5 6 2 6-7 6 8 6-10 6 3 6 4 6-7 6 9 6-9 6 0 6 6 6-6 6 9 6-8 6 0 6 7 6-7 6 9 6-7 6-3 6 6 6-9 6 11 6-1 6-5 6 8 6-7 6 8 6-3 6-7 6 7 6-9 6 7 6 2 6-6 6 9 6-9 6 3 8-3"/>
<path d="M30 2121l6-3 6 2 6 1 6-2 6 3 6 2 6-5 6 0 6 2 6-2 6 0 6 4 6-2 6-4 6 3 6 0 6-3 6 0 6-6 6-10 6-9 6-14 6-21 6-17 6-14 6-16 6-5 6 2 6 1 6 7 6 14 6 12 6 13 6 15 6 12 6 14 6 18 6 10 6 6 6 10 6 7 6 3 6 6 6 5 6-1 6 0 6 0 6-6 6-3 6 0 6-5 6-7 6-2 6-2 6-4 6-1 6-6 6-5 6 1 6 2 6-3 6-2 6-1 6 0 6 4 6 1 6-3 6 2 6 3 6-3 6-1 6 1 6-5 6-2 6 3 6 0 6 2 6 3 6-2 6-2 6 2 6-1 6-4 6-1 6 1 6 0 6 2 6 0 6-3 6 2 6 2 6-2 6 2 6 3 6-3 6 0 6 3 6-3 6-4 6 1 6 0 6-1 6 3 6-1 8-3"/>
<path d="M30 2114l6 2 6 4 6-4 6-6 6 6 6 5 6-8 6-3 6 9 6 3 6-7 6 0 6 4 6-3 6-5 6 2 6 1 6-11 6-10 6-3 6-12 6-26 6-20 6-14 6-25 6-26 6-10 6-2 6-4 6 3 6 18 6 15 6 7 6 15 6 24 6 15 6 8 6 18 6 22 6 11 6 8 6 18 6 15 6 3 6 7 6 14 6 2 6-7 6 1 6 4 6-8 6-8 6 4 6 0 6-11 6-7 6 3 6-2 6-7 6-2 6 2 6-8 6-8 6 6 6 6 6-4 6-3 6 2 6-2 6-7 6 5 6 8 6-2 6-8 6 4 6 5 6-5 6-4 6 5 6 1 6-6 6 1 6 8 6-2 6-8 6 4 6 7 6-5 6-4 6 6 6 2 6-7 6-1 6 6 6-1 6-6 6 2 6 5 6-5 6-5 6 8 6 4 6-8 6-1 8 10"/>
<path d="M30 2118l6-3 6 2 6 6 6-2 6 1 6 3 6-5 6 0 6 2 6-3 6 1 6 1 6-2 6 4 6 0 6-4 6 0 6-5 6-9 6-6 6-17 6-24 6-25 6-38 6-42 6-38 6-41 6-36 6-20 6-10 6 6 6 18 6 19 6 27 6 32 6 29 6 32 6 31 6 24 6 30 6 24 6 14 6 18 6 15 6 12 6 14 6 5 6 1 6 9 6 3 6-1 6 1 6-4 6-6 6-2 6-9 6-6 6-1 6-5 6-3 6-1 6-6 6-5 6-3 6-5 6 0 6 2 6-5 6 0 6 2 6-2 6 4 6 2 6-3 6 2 6-2 6-4 6 2 6-1 6 0 6 4 6-3 6-3 6 3 6-2 6-2 6 5 6-5 6 0 6 4 6-9 6 11 6-1 6-10 6 18 6-12 6 2 6 13 6-22 6 13 6 1 6-11 6 14 6-4 8 0"/>
<path d="M30 2122l6-6 6 24 6-21 6-10 6 31 6-17 6-11 6 29 6-14 6-11 6 15 6-6 6-3 6 3 6-5 6 2 6-7 6-3 6 0 6-12 6-2 6-13 6-28 6-19 6-36 6-43 6-31 6-44 6-33 6-16 6-19 6 8 6 12 6 7 6 28 6 22 6 22 6 36 6 19 6 24 6 31 6 19 6 31 6 24 6 8 6 22 6 9 6 6 6 16 6-1 6 3 6 6 6-9 6 5 6-1 6-13 6 3 6-5 6-6 6 6 6-11 6-3 6 1 6-12 6 4 6-1 6-6 6 3 6-10 6 9 6 4 6-31 6 25 6 22 6-42 6 11 6 23 6-21 6 2 6 6 6-4 6 5 6-5 6 4 6 4 6-9 6 7 6 0 6-5 6 8 6-8 6-3 6 8 6-7 6 3 6 4 6-9 6 5 6-2 6-5 6 10 6-4 6-3 6 5 8-9"/>
<path d="M30 2121l6-6 6 5 6 2 6-10 6 7 6 1 6-11 6 7 6 0 6-5 6 11 6-2 6-7 6 7 6-7 6-4 6 6 6-10 6-5 6 0 6-20 6-16 6-14 6-32 6-21 6-20 6-28 6-11 6-10 6-8 6 14 6 11 6 11 6 28 6 18 6 18 6 31 6 14 6 11 6 22 6 8 6 12 6 16 6 1 6 13 6 17 6 0 6 10 6 8 6-8 6 5 6 1 6-10 6 1 6-8 6-15 6 2 6-10 6-13 6 3 6-9 6-6 6 6 6-11 6-5 6 6 6-8 6 3 6 6 6-11 6 3 6 6 6-7 6 7 6 2 6-8 6 8 6-2 6-11 6 6 6-1 6-4 6 9 6-5 6-5 6 8 6-6 6-1 6 8 6-7 6-1 6 7 6-8 6 3 6 3 6-10 6 8 6 6 6-6 6 9 6 0 6-9 6 8 6-4 8-5"/>
<path d="M30 2120l6-4 6-6 6 3 6 2 6-2 6 4 6 3 6-5 6-2 6 6 6-1 6-6 6 4 6 2 6-6 6 2 6 3 6-13 6-3 6 0 6-27 6-10 6 1 6-46 6-26 6 3 6-47 6-31 6 12 6-15 6-9 6 20 6 18 6 23 6 27 6 21 6 28 6 24 6 11 6 15 6 17 6 9 6 8 6 14 6 5 6-1 6 8 6 6 6-6 6-3 6 3 6-5 6-8 6 2 6-1 6-11 6-4 6 3 6-7 6-6 6 5 6 1 6-5 6 0 6 1 6-9 6-7 6-2 6-9 6-2 6 13 6 9 6-3 6 1 6 5 6-4 6-3 6 8 6 0 6-7 6 3 6 4 6-4 6-3 6 4 6-3 6-5 6 4 6 3 6-5 6 2 6 8 6-4 6-6 6 5 6 0 6-7 6 3 6 5 6-4 6-3 6 6 6 0 6-5 8 8"/>
<path d="M30 2120l6 3 6-6 6-1 6 7 6-1 6-6 6 4 6 1 6-3 6-1 6-3 6 3 6 3 6-10 6 4 6 12 6-21 6-7 6 17 6-31 6-28 6 1 6-47 6-49 6-19 6-56 6-38 6 2 6-33 6 2 6 47 6-2 6 22 6 68 6 13 6 19 6 59 6 13 6 5 6 35 6 10 6 1 6 16 6 5 6 7 6 12 6 0 6 7 6 10 6-7 6-3 6 6 6-7 6-17 6-12 6-15 6-17 6-2 6 16 6 13 6-2 6-3 6 5 6-2 6-8 6 0 6 4 6-4 6-5 6 5 6 3 6-6 6-3 6 7 6 3 6-4 6 1 6 5 6-5 6-6 6 5 6 6 6-5 6-5 6 4 6 0 6-7 6 1 6 6 6-3 6-4 6 7 6 4 6-5 6-4 6 5 6 1 6-7 6 0 6 8 6 0 6-5 6 2 6 2 8-10"/>
<path d="M30 2113l6-1 6 0 6-1 6 0 6 4 6-1 6-1 6-1 6-1 6 2 6-2 6-1 6 2 6 1 6 1 6-2 6-2 6 1 6-5 6-6 6-10 6-16 6-20 6-28 6-31 6-31 6-28 6-20 6-9 6 1 6 10 6 13 6 20 6 25 6 24 6 24 6 22 6 24 6 24 6 16 6 12 6 4 6-9 6-11 6 0 6 22 6 31 6 18 6 7 6 1 6-4 6-4 6-5 6-4 6-4 6-8 6-3 6-4 6-6 6-2 6-4 6-2 6-2 6-3 6-1 6-1 6-1 6 0 6-1 6 0 6 0 6-1 6 2 6 0 6 2 6 3 6-2 6 0 6 1 6-2 6 1 6-2 6-2 6 0 6 1 6 4 6 3 6-1 6-1 6-3 6 0 6 2 6-1 6 1 6 0 6 0 6 1 6-3 6 1 6 0 6-1 6 1 6-4 6 0 8 3"/>
<path d="M30 2110l6 23 6-9 6-16 6 15 6 7 6-19 6 0 6 15 6-5 6-7 6 6 6 2 6-6 6-1 6 2 6 1 6-2 6-3 6-4 6-1 6-7 6-18 6-18 6-14 6-25 6-33 6-25 6-17 6-20 6-14 6 4 6 10 6 8 6 16 6 28 6 24 6 17 6 23 6 27 6 20 6 14 6 16 6 17 6 10 6 6 6 10 6 6 6-3 6 1 6 6 6-2 6-8 6-6 6-2 6-8 6-11 6 0 6 1 6-5 6-4 6 3 6 1 6-4 6-4 6 0 6 2 6-4 6-3 6 7 6 2 6-12 6 4 6 9 6-11 6-1 6 13 6-7 6-5 6 5 6-2 6 4 6 1 6-9 6 11 6 0 6-18 6 15 6 6 6-26 6 14 6 16 6-28 6 5 6 24 6-22 6-7 6 26 6-7 6-15 6 18 6 0 6-21 6 8 6 15 8-17"/>
<path d="M30 2115l6 0 6 3 6-2 6 2 6 2 6-6 6-1 6 4 6-1 6 0 6 1 6-4 6 2 6 5 6-3 6 1 6 1 6-6 6-2 6 1 6-3 6 0 6-3 6-13 6-11 6-7 6-14 6-10 6-8 6-11 6-3 6 4 6 3 6 10 6 12 6 8 6 11 6 12 6 6 6 9 6 10 6 1 6 7 6 9 6 4 6 7 6 6 6 1 6 3 6 3 6-3 6 2 6 3 6-7 6-2 6 1 6-6 6-2 6 0 6-6 6-1 6-1 6-9 6-3 6 1 6-1 6 2 6 2 6-4 6 2 6 1 6-6 6 0 6 4 6-4 6 0 6 3 6-4 6 0 6 2 6-2 6 2 6 3 6-5 6 2 6 4 6-2 6 0 6 1 6-4 6 1 6 3 6-2 6 1 6 2 6-5 6 2 6 2 6-4 6 1 6 3 6-4 6 1 6 3 8-3"/>
<path d="M30 2123l6-8 6-5 6 7 6 1 6-9 6 3 6 9 6-4 6-5 6 7 6 2 6-7 6 2 6 7 6-6 6-7 6 3 6-4 6-15 6-6 6-3 6-21 6-31 6-21 6-27 6-42 6-31 6-15 6-18 6-13 6 7 6 10 6 4 6 14 6 29 6 22 6 17 6 30 6 30 6 15 6 17 6 30 6 17 6 8 6 19 6 20 6 6 6 5 6 10 6-1 6-10 6-1 6 3 6-11 6-11 6 1 6-2 6-11 6-4 6 3 6-9 6-9 6 7 6 4 6-8 6-2 6 6 6-4 6-8 6 4 6 2 6-8 6 0 6 9 6-3 6-8 6 6 6 5 6-6 6-1 6 7 6-2 6-8 6 3 6 3 6-5 6 0 6 8 6-1 6-7 6 2 6 6 6-5 6-3 6 7 6-1 6-8 6 6 6 8 6-8 6-7 6 8 6 1 6-8 8 6"/>
<path d="M30 2121l6-9 6 8 6-2 6-5 6 16 6-17 6 9 6 12 6-29 6 28 6-6 6-22 6 33 6-25 6 6 6 16 6-38 6 27 6-21 6-26 6 21 6-66 6-14 6-20 6-85 6-1 6-56 6-45 6 23 6-35 6 30 6 22 6-2 6 60 6 3 6 33 6 52 6 3 6 48 6 23 6 6 6 35 6 10 6 16 6 19 6 8 6 15 6 5 6 6 6 1 6-6 6 5 6-1 6-13 6-6 6-4 6-7 6-4 6-2 6-8 6-6 6 0 6-5 6-4 6 2 6-1 6-4 6 3 6 0 6-6 6-1 6 4 6-1 6-2 6 4 6-1 6-2 6 2 6-2 6-5 6 3 6 4 6-1 6 4 6 3 6-3 6-2 6-1 6-4 6 0 6 6 6 0 6-4 6 3 6 1 6-3 6 4 6 3 6-3 6 2 6 3 6-6 6-2 6 3 8-4"/>
<path d="M30 2110l6 6 6 0 6-3 6 2 6-7 6 2 6 3 6-3 6 6 6-3 6-4 6 4 6-5 6 1 6 1 6-8 6 0 6-8 6-14 6-6 6-22 6-18 6-19 6-32 6-20 6-20 6-17 6 0 6-3 6 8 6 18 6 13 6 25 6 22 6 17 6 26 6 17 6 18 6 20 6 7 6 8 6-3 6-8 6 15 6 19 6 24 6 22 6-1 6 0 6-4 6-10 6 2 6-8 6-8 6 1 6-9 6-3 6-3 6-11 6 2 6-4 6-4 6 3 6-8 6 0 6 3 6-5 6 6 6-2 6-5 6 5 6-3 6 2 6 4 6-5 6 4 6-4 6-3 6 6 6-5 6-1 6 4 6-6 6 2 6-1 6-3 6 8 6-4 6 0 6 4 6-4 6 4 6 0 6-4 6 8 6-4 6-1 6 3 6-7 6 5 6 2 6-6 6 6 6-1 8 3"/>
<path d="M30 2112l6 5 6 2 6-9 6 3 6 9 6-5 6-8 6 7 6 3 6-8 6 1 6 8 6-3 6-7 6 4 6 1 6-12 6-6 6-2 6-15 6-25 6-17 6-24 6-41 6-39 6-30 6-38 6-33 6-8 6 8 6 3 6 10 6 24 6 19 6 15 6 31 6 32 6 20 6 20 6 23 6 5 6-5 6 11 6 26 6 27 6 32 6 39 6 20 6 4 6 9 6 7 6-7 6-5 6 3 6-5 6-15 6-5 6 1 6-12 6-12 6 1 6-2 6-12 6-2 6 4 6-6 6-6 6 6 6 2 6-7 6 3 6 7 6-6 6-6 6 5 6 2 6-8 6 0 6 8 6-3 6-5 6 6 6 2 6-10 6-1 6 8 6-2 6-5 6 7 6 6 6-8 6-2 6 8 6-1 6-7 6 6 6 3 6-9 6-1 6 8 6-2 6-9 6 6 6 4 8-11"/>
<path d="M30 2129l6-24 6 15 6 17 6-32 6 11 6 23 6-29 6 5 6 22 6-24 6 0 6 19 6-17 6-7 6 15 6-8 6-8 6 5 6-6 6-18 6-16 6-17 6-20 6-26 6-30 6-24 6-18 6-16 6-4 6 7 6 10 6 16 6 23 6 22 6 18 6 19 6 25 6 18 6 12 6 15 6 20 6 15 6 11 6 13 6 12 6 7 6 4 6 4 6 2 6-6 6-5 6 1 6-3 6-11 6-8 6-4 6-6 6-6 6 2 6-1 6-8 6-6 6 2 6-3 6-6 6 0 6 4 6 1 6-8 6 5 6 3 6-1 6 2 6-8 6 11 6-13 6 2 6 14 6-16 6 18 6-20 6 13 6 3 6-20 6 27 6-21 6 9 6-4 6-6 6 18 6-19 6 12 6 0 6-4 6 4 6-4 6 7 6-4 6-1 6 4 6-2 6-3 6-2 6 4 8-3"/>
<path d="M30 2116l6-1 6 3 6 1 6-3 6-2 6 2 6 1 6-2 6-2 6 3 6 3 6 0 6-1 6-1 6-2 6-2 6 0 6-2 6-6 6-7 6-9 6-15 6-22 6-23 6-24 6-28 6-25 6-19 6-16 6-8 6 4 6 12 6 15 6 20 6 26 6 26 6 24 6 21 6 18 6 15 6 12 6 11 6 11 6 6 6 4 6 5 6-1 6-5 6-1 6 9 6 10 6 10 6 6 6 1 6-4 6-2 6-3 6-3 6-3 6-4 6-3 6-4 6-4 6 0 6 2 6-2 6 0 6 1 6-4 6-2 6 2 6 0 6-2 6 1 6 2 6-2 6-3 6-1 6 1 6 0 6 2 6 4 6-1 6-4 6 0 6 2 6 0 6-2 6 2 6 1 6-1 6 2 6 2 6-2 6-2 6-1 6 0 6-2 6-1 6 2 6 0 6 0 6 1 6 2 8-1"/>
<path d="M30 2111l6-4 6 3 6 2 6-4 6 3 6 3 6-4 6-4 6 4 6 0 6-5 6 3 6 3 6-5 6-1 6 5 6-4 6-9 6-4 6-5 6-15 6-15 6-11 6-17 6-19 6-10 6-7 6-7 6 1 6 9 6 5 6 8 6 17 6 13 6 6 6 12 6 19 6 11 6 8 6 15 6 12 6 4 6 6 6 10 6 0 6-1 6 4 6 0 6-7 6-3 6 2 6-8 6-9 6 0 6-2 6-7 6 2 6 2 6-8 6-4 6 4 6-2 6-7 6 2 6 4 6-2 6-1 6 3 6-1 6-3 6 6 6 3 6-7 6-3 6 5 6 0 6-3 6 4 6 4 6-7 6-1 6 4 6-1 6-3 6 4 6 1 6-6 6-1 6 4 6-2 6-5 6 4 6 4 6-4 6 0 6 4 6-3 6-4 6 3 6 2 6-3 6 3 6 6 6-3 8-2"/>
<path d="M30 2132l6-11 6-3 6 15 6-14 6 8 6 2 6-6 6 8 6-10 6 5 6 4 6-12 6 0 6 1 6-2 6-1 6-5 6-12 6-10 6-13 6-31 6-37 6-28 6-29 6-33 6-26 6-19 6-8 6 6 6 10 6 8 6 15 6 23 6 22 6 17 6 23 6 28 6 21 6 16 6 20 6 20 6 13 6 12 6 18 6 14 6 4 6 0 6 5 6 4 6-6 6-7 6 0 6-1 6-8 6-6 6 0 6-5 6-10 6 0 6 3 6-3 6-2 6 0 6-4 6 0 6-3 6-5 6 10 6 0 6-16 6 12 6 10 6-21 6 8 6 18 6-22 6 4 6 15 6-22 6 5 6 17 6-20 6 5 6 18 6-19 6 1 6 17 6-15 6-5 6 17 6-6 6-9 6 4 6 1 6 0 6-1 6-2 6 3 6 2 6-6 6 1 6 6 6 0 6-4 8 3"/>
<path d="M30 2115l6-4 6 3 6 3 6-9 6 6 6 14 6-18 6-3 6 24 6-21 6-11 6 33 6-15 6-20 6 28 6-4 6-22 6 13 6 1 6-15 6 0 6-5 6-18 6-15 6-21 6-34 6-27 6-23 6-28 6-17 6-5 6-2 6 5 6 14 6 9 6 15 6 23 6 17 6 17 6 25 6 22 6 18 6 23 6 16 6 11 6 19 6 13 6 4 6 7 6 4 6 0 6 2 6 4 6-8 6-6 6 6 6-15 6 4 6-2 6-14 6 9 6-16 6 11 6-6 6-12 6 25 6-33 6 23 6 1 6-22 6 35 6-32 6 8 6 2 6-14 6 23 6-16 6 12 6-3 6-9 6 16 6-10 6 2 6 5 6-6 6 1 6 1 6-1 6-2 6 3 6 0 6-4 6 3 6-1 6-5 6 4 6 5 6-2 6 1 6 0 6-6 6 0 6 4 6-3 8 2"/>
<path d="M30 2119l6-6 6 4 6 4 6-5 6-2 6 6 6 1 6-7 6 1 6 8 6-1 6-10 6 1 6 8 6-3 6-8 6 3 6 3 6-7 6-6 6 3 6-2 6-18 6-19 6-12 6-20 6-35 6-29 6-11 6-10 6-8 6 6 6 19 6 14 6 8 6 20 6 26 6 15 6 13 6 22 6 20 6 4 6 4 6 14 6 11 6 2 6 7 6 16 6 8 6-6 6 1 6 8 6-2 6-9 6 1 6 6 6-7 6-13 6-4 6-1 6-9 6-7 6 5 6 1 6-10 6-5 6 5 6-1 6-9 6 0 6 11 6 2 6-8 6-1 6 9 6 1 6-9 6-1 6 5 6-1 6-10 6-3 6 12 6 5 6-14 6-5 6 17 6 5 6-18 6-3 6 18 6 1 6-18 6 0 6 13 6-2 6-9 6 5 6 6 6-4 6-3 6 4 6-3 6-5 8 10"/>
<path d="M30 2114l6-1 6 0 6 2 6 3 6 1 6 0 6-2 6-2 6-1 6-1 6 0 6 0 6 1 6 0 6 0 6 1 6 0 6-1 6-4 6-5 6-6 6-10 6-14 6-21 6-28 6-32 6-32 6-30 6-21 6-7 6 3 6 5 6 10 6 14 6 16 6 16 6 20 6 22 6 20 6 17 6 17 6 16 6 14 6 13 6 12 6 5 6-6 6-14 6-13 6 3 6 23 6 26 6 16 6 7 6-3 6-1 6-7 6-4 6 0 6-11 6 7 6-7 6-3 6 3 6-18 6 14 6-11 6-2 6 12 6-20 6 16 6-11 6-1 6 17 6-17 6 16 6-7 6-3 6 8 6-15 6 9 6-4 6-3 6 6 6-3 6 6 6-3 6 0 6 4 6-1 6 1 6-1 6-2 6 0 6 0 6 0 6 0 6 1 6-1 6-1 6 1 6 2 6-1 6-2 8-1"/>
</g>
<g stroke="#1a1a1a" stroke-width="2.8">
<path d="M30 2116l8 1 8 0 8 0 8 0 8-1 8 0 8-1 8 0 8 0 8 0 8-2 8-5 8-10 8-18 8-29 8-41 8-51 8-50 8-37 8-11 8 13 8 30 8 41 8 44 8 42 8 35 8 29 8 24 8 21 8 20 8 17 8 14 8 9 8 2 8-2 8-4 8-6 8-9 8-9 8-8 8-6 8-4 8-5 8-5 8-5 8-4 8-2 8-1 8 0 8 1 8 2 8 1 8-1 8-1 8-1 8 1 8 0 8 1 8-1 8-1 8 0 8 2 8 1 8 1 8 0 8 0 8-1 8-1 8 0 8 1 8-1 8-1 8-1 8-1 8 1 8 1 8 1 8 1 8-1"/>
</g>
<g stroke="#dc1812" stroke-width="3">
<path d="M30 2116l6 2 6-1 6 0 6 2 6-2 6-2 6 1 6-2 6-2 6 4 6 2 6-3 6 1 6 1 6-1 6-1 6-1 6-4 6-3 6-2 6-9 6-14 6-17 6-27 6-36 6-38 6-40 6-37 6-21 6-8 6 1 6 9 6 17 6 18 6 27 6 31 6 27 6 24 6 23 6 18 6 16 6 21 6 20 6 15 6 15 6 12 6 10 6 9 6 8 6 3 6 4 6 2 6-5 6-4 6-3 6-8 6-8 6-3 6-6 6-8 6-4 6-7 6-8 6-1 6 0 6-3 6-1 6 1 6-3 6-2 6 1 6-3 6-1 6 4 6-1 6-3 6 1 6 0 6-1 6 2 6 0 6-2 6 1 6 2 6 1 6 1 6-1 6-3 6-1 6 0 6-2 6 0 6 4 6 0 6-1 6 1 6 1 6-2 6 1 6-1 6-5 6 1 6 4 6-1 8 1"/>
<path d="M30 2111l6 3 6-1 6-4 6 0 6 2 6 2 6-2 6 4 6 4 6-8 6 5 6 4 6-6 6-4 6-2 6 0 6-4 6-3 6-4 6-17 6-17 6-15 6-25 6-26 6-23 6-30 6-18 6-7 6-5 6 7 6 17 6 14 6 24 6 25 6 17 6 24 6 23 6 12 6 16 6 15 6 7 6 13 6 12 6 6 6 11 6 8 6 1 6 7 6 0 6-9 6 0 6-4 6-8 6 1 6-5 6-11 6-3 6-6 6-7 6 1 6-4 6-6 6 3 6-3 6-3 6 3 6-5 6-3 6 6 6-4 6-2 6 5 6-3 6 0 6 4 6-4 6 0 6 7 6-3 6-1 6 3 6-5 6 0 6 1 6-6 6 1 6 5 6-4 6 0 6 2 6-4 6 5 6 4 6-4 6 3 6 3 6-4 6 3 6 1 6-6 6 4 6 1 6-6 6 2 8-2"/>
<path d="M30 2114l6-3 6-2 6 4 6-3 6 1 6 3 6-6 6 3 6 3 6-3 6 4 6-1 6-5 6 2 6-2 6-3 6 6 6-3 6-5 6-5 6-17 6-17 6-23 6-37 6-35 6-38 6-43 6-27 6-17 6-6 6 12 6 14 6 19 6 28 6 24 6 28 6 32 6 26 6 28 6 25 6 16 6 20 6 19 6 15 6 22 6 12 6 6 6 9 6 0 6-2 6 1 6-9 6-6 6-4 6-13 6-7 6-4 6-9 6-2 6-5 6-7 6 1 6-6 6-5 6 2 6-2 6 0 6 1 6-7 6 1 6 4 6-5 6 1 6 1 6-4 6 3 6 2 6 1 6 5 6-5 6-2 6 6 6-6 6-4 6 7 6 0 6-4 6-2 6 6 6 7 6-13 6-4 6 21 6-3 6-22 6 9 6 16 6-12 6-16 6 13 6 16 6-16 6-17 6 24 8 0"/>
<path d="M30 2120l6-1 6 6 6 1 6-7 6 5 6 6 6-12 6 1 6 11 6-10 6-4 6 10 6-5 6-4 6 8 6 0 6-4 6-2 6-7 6-10 6-9 6-11 6-18 6-23 6-24 6-25 6-25 6-22 6-14 6-7 6-1 6 6 6 12 6 15 6 18 6 25 6 26 6 21 6 18 6 19 6 22 6 19 6 17 6 18 6 16 6 11 6 6 6 3 6 2 6-4 6-6 6-6 6-5 6-8 6-8 6-4 6-3 6-5 6-7 6-2 6-2 6-6 6-4 6 1 6 1 6-3 6-2 6 1 6-1 6-3 6 0 6 6 6 3 6-4 6-2 6 2 6 0 6-2 6 1 6 2 6 1 6-4 6-2 6-1 6 0 6-1 6 0 6 1 6 0 6 0 6 4 6 1 6-3 6 0 6 2 6-1 6-2 6-1 6 3 6 1 6 0 6-1 6 1 6 2 8-2"/>
</g>
<g stroke="#1a1a1a" stroke-width="2.8">
<path d="M30 2113l8 1 8 2 8 2 8 1 8 0 8 0 8-1 8 0 8 0 8-1 8-1 8-2 8-5 8-6 8-11 8-15 8-19 8-20 8-17 8-9 8 1 8 6 8 12 8 14 8 17 8 19 8 19 8 19 8 18 8 17 8 14 8 10 8 5 8 1 8-3 8-5 8-5 8-5 8-6 8-5 8-4 8-2 8-3 8-2 8-1 8-2 8-1 8-2 8-2 8-1 8 0 8 1 8 0 8-1 8-1 8 0 8 1 8 0 8 1 8 1 8 0 8 0 8-1 8 0 8-1 8 0 8 0 8 1 8 0 8-1 8 0 8-1 8-1 8 0 8 1 8 1 8 1 8 0 8-1"/>
</g>
<g stroke="#dc1812" stroke-width="3">
<path d="M30 2117l6-2 6 4 6 4 6-3 6-6 6 1 6 3 6-1 6-2 6 3 6 1 6-4 6-5 6 2 6 1 6-3 6 1 6 4 6-1 6-5 6-3 6-1 6-8 6-14 6-13 6-14 6-17 6-15 6-5 6 2 6 1 6 2 6 9 6 9 6 7 6 10 6 13 6 11 6 11 6 11 6 10 6 6 6 7 6 13 6 11 6 4 6 2 6 2 6 1 6-6 6-7 6 5 6-6 6-3 6-2 6-13 6 17 6-26 6 4 6 13 6-34 6 38 6-33 6 5 6 16 6-35 6 41 6-30 6 4 6 25 6-24 6 4 6-2 6 18 6-8 6-22 6 20 6 13 6-21 6-11 6 24 6 11 6-24 6-7 6 19 6 2 6-15 6 0 6 10 6 0 6-7 6 1 6 5 6 0 6-3 6-2 6 1 6 1 6-1 6-2 6 4 6 4 6-3 6-4 8 3"/>
</g>
<g stroke="#1a1a1a" stroke-width="2.8">
<path d="M30 2118l8 1 8 0 8 1 8 0 8 0 8 1 8-1 8-2 8-1 8-1 8-4 8-7 8-13 8-23 8-36 8-47 8-51 8-45 8-25 8 0 8 21 8 38 8 47 8 47 8 41 8 34 8 27 8 21 8 18 8 16 8 12 8 7 8 0 8-2 8-4 8-5 8-6 8-8 8-7 8-5 8-3 8-2 8-1 8 0 8-1 8-2 8-1 8-1 8 0 8 1 8 0 8-1 8-1 8-1 8 0 8 0 8 1 8 0 8-1 8-1 8 0 8 1 8 1 8 0 8-1 8 0 8 1 8 1 8 1 8-1 8-1 8-1 8 0 8 1 8 1 8 0 8 0 8-1 8 0"/>
</g>
<g stroke="#dc1812" stroke-width="3">
<path d="M30 2116l6 1 6 0 6-1 6 4 6 1 6 0 6-1 6-4 6-3 6-1 6 2 6 3 6 2 6-1 6-1 6-2 6-5 6-9 6-13 6-15 6-19 6-26 6-29 6-34 6-48 6-35 6-25 6-34 6 2 6 7 6-3 6 28 6 24 6 19 6 32 6 27 6 25 6 27 6 23 6 21 6 21 6 16 6 9 6-2 6-14 6-8 6 18 6 35 6 25 6 10 6 0 6-2 6-3 6-6 6-6 6-5 6-3 6-6 6-5 6-5 6-6 6-7 6-1 6 0 6 0 6-2 6 0 6-2 6-1 6-2 6-2 6-1 6 3 6 2 6-2 6-3 6 1 6 0 6-1 6-2 6 1 6 2 6 2 6 0 6-2 6-2 6 2 6 2 6 1 6 1 6 1 6 0 6-1 6 1 6 0 6-1 6-2 6-1 6 1 6 0 6-1 6-1 6-1 6 0 8 2"/>
<path d="M30 2120l6 0 6 0 6-1 6 0 6-1 6 0 6 0 6-1 6-1 6 0 6 4 6 0 6-7 6 6 6 5 6-16 6 12 6 11 6-29 6 6 6 12 6-31 6-10 6-7 6-32 6-27 6-25 6-28 6-19 6-6 6 1 6 5 6 9 6 13 6 17 6 18 6 20 6 21 6 19 6 16 6 12 6 10 6 12 6 13 6 9 6 9 6 8 6 7 6 6 6 5 6 4 6 2 6 1 6-2 6-5 6-7 6-5 6-5 6-6 6-3 6-3 6-5 6-6 6-2 6 0 6 0 6 0 6-2 6-1 6-1 6-3 6-4 6-2 6 2 6 2 6 1 6 1 6 0 6-1 6 2 6 1 6-1 6-2 6-1 6 0 6 0 6 2 6 1 6-1 6-1 6-1 6-1 6 0 6-1 6-1 6 1 6 3 6-1 6-2 6 0 6 1 6 1 6 0 6 0 8 1"/>
<path d="M30 2116l6 2 6-5 6-1 6 6 6 2 6-7 6-2 6 7 6 2 6-6 6 1 6 6 6-3 6-8 6 1 6 1 6-4 6-7 6-11 6-6 6-11 6-41 6-34 6-18 6-57 6-57 6-13 6-31 6-31 6 22 6 10 6 4 6 51 6 31 6 13 6 57 6 34 6 4 6 47 6 36 6-6 6 22 6 32 6 6 6 7 6 10 6 2 6 4 6-2 6-7 6 2 6-2 6-13 6-8 6 0 6-6 6-13 6-4 6 3 6-2 6-9 6-4 6 0 6-4 6-6 6 3 6 5 6-2 6-6 6 2 6 6 6-2 6-5 6 1 6 5 6 0 6-4 6 1 6 3 6-6 6-5 6 7 6 8 6-4 6-5 6 4 6 2 6-6 6-3 6 4 6 2 6-7 6-2 6 9 6 3 6-7 6-1 6 6 6 1 6-7 6-1 6 4 6 0 6-4 8 4"/>
<path d="M30 2115l6-11 6 26 6-1 6-27 6 18 6 17 6-28 6 0 6 28 6-18 6-18 6 27 6 0 6-26 6 14 6 14 6-23 6-5 6 10 6-16 6-17 6-4 6-21 6-26 6-13 6-19 6-21 6-3 6 2 6-2 6 10 6 13 6 4 6 10 6 22 6 13 6 6 6 18 6 15 6 5 6 9 6 17 6 7 6 2 6 12 6 12 6-5 6-15 6-14 6-15 6 0 6 23 6 25 6 4 6-3 6 3 6-2 6-10 6-2 6 3 6-8 6-9 6 4 6 4 6-7 6-2 6 5 6-4 6-7 6 6 6 6 6-7 6-4 6 7 6 1 6-9 6 2 6 7 6-4 6-6 6 4 6 2 6-7 6 1 6 7 6-3 6-5 6 7 6 4 6-7 6-2 6 10 6 1 6-9 6 1 6 3 6-7 6-1 6 9 6 1 6-7 6 1 6 8 6-2 8-5"/>
<path d="M30 2119l6-3 6-2 6 2 6 0 6-4 6-1 6 6 6 3 6-3 6-1 6 4 6 2 6-4 6-1 6 4 6 0 6-8 6-6 6-2 6-9 6-19 6-24 6-25 6-32 6-40 6-39 6-32 6-28 6-18 6 2 6 13 6 16 6 18 6 25 6 31 6 27 6 25 6 28 6 28 6 23 6 16 6 16 6 19 6 17 6 9 6 9 6 11 6 6 6 0 6 2 6 2 6-2 6-5 6-5 6-6 6-7 6-7 6-3 6-2 6-7 6-8 6-3 6 0 6-5 6-5 6 0 6 2 6-4 6-4 6 2 6 4 6-1 6-4 6 1 6 2 6-3 6-2 6 5 6 4 6-3 6-3 6 2 6 4 6-1 6-5 6 2 6 3 6-2 6-2 6 4 6 4 6-5 6-6 6 2 6 4 6-1 6-2 6 0 6 0 6-1 6-2 6 1 6 3 6 0 8-1"/>
<path d="M30 2118l6-1 6 1 6 3 6-5 6 2 6 10 6-8 6-11 6 9 6 6 6-7 6-3 6 1 6 1 6 1 6-2 6-1 6-2 6-9 6-10 6-13 6-22 6-24 6-28 6-39 6-40 6-36 6-36 6-22 6-7 6 0 6 8 6 14 6 15 6 24 6 26 6 25 6 29 6 26 6 21 6 24 6 21 6 17 6 21 6 16 6 12 6 15 6 14 6 10 6 9 6 2 6 0 6 4 6-2 6-4 6-2 6-6 6-6 6-4 6-7 6-7 6-2 6-5 6-3 6-3 6-7 6-1 6 5 6-2 6 0 6 2 6-6 6 4 6-5 6-4 6 13 6-9 6 5 6 10 6-24 6 16 6-3 6-25 6 36 6-18 6-11 6 37 6-36 6 11 6 20 6-36 6 26 6 1 6-21 6 24 6-12 6-4 6 14 6-12 6 5 6 4 6-9 6 4 6-1 8-2"/>
<path d="M30 2123l6 1 6-4 6 4 6 0 6-4 6 5 6-1 6-4 6 6 6-1 6-2 6 4 6-4 6-2 6 5 6-4 6 1 6 3 6-8 6-1 6-3 6-13 6-8 6-14 6-20 6-7 6-10 6-12 6 3 6 2 6 3 6 13 6 7 6 6 6 14 6 8 6 9 6 14 6 4 6 10 6 12 6 2 6 9 6 8 6 0 6 10 6 8 6-2 6 4 6 1 6-3 6 3 6-6 6-6 6 0 6-8 6-5 6 1 6-9 6-5 6 2 6-7 6-1 6 1 6-6 6 2 6 2 6-5 6 2 6 0 6-4 6 4 6-1 6-3 6 2 6-5 6-2 6 5 6-3 6 0 6 1 6-4 6 7 6 5 6-14 6 3 6 15 6-7 6-12 6 11 6 15 6-12 6-22 6 17 6 21 6-30 6-14 6 36 6 3 6-30 6 5 6 21 6-4 6-14 8 5"/>
<path d="M30 2116l6-1 6-1 6-2 6 1 6 5 6 0 6-5 6-1 6 2 6-1 6-2 6-2 6 1 6 3 6 1 6-1 6-3 6-3 6-9 6-15 6-19 6-23 6-28 6-35 6-36 6-35 6-30 6-19 6-8 6 1 6 10 6 16 6 21 6 24 6 26 6 26 6 27 6 29 6 26 6 22 6 18 6 17 6 13 6 13 6 14 6 11 6 5 6 3 6 3 6-2 6-3 6-3 6-5 6-5 6-3 6-5 6-5 6-5 6-6 6-11 6-13 6-6 6 2 6 9 6 9 6 2 6-2 6 2 6 0 6-1 6-1 6 0 6-1 6-1 6 1 6-1 6-4 6-2 6 1 6 1 6 4 6 2 6-3 6-2 6 2 6 2 6-1 6 1 6 1 6-1 6-1 6 3 6 1 6 0 6-1 6-2 6-2 6 1 6 2 6 1 6 0 6-2 6-3 6 0 8 2"/>
<path d="M30 2121l6 0 6 10 6-6 6-12 6 10 6 10 6-14 6-7 6 20 6 2 6-22 6 2 6 17 6-9 6-14 6 12 6 7 6-20 6-10 6 5 6-12 6-24 6-17 6-15 6-24 6-20 6-6 6-2 6-2 6 5 6 11 6 8 6 8 6 12 6 16 6 16 6 11 6 12 6 14 6 10 6 9 6 13 6 11 6 6 6 5 6 6 6 5 6 0 6-2 6 0 6-2 6-6 6-4 6-1 6-4 6-5 6-2 6-2 6-3 6-1 6 1 6-4 6-2 6 3 6 1 6-5 6-4 6 0 6 1 6-2 6 2 6 4 6 0 6-2 6 0 6 2 6-2 6-1 6 1 6 2 6-1 6 0 6 2 6 1 6-1 6 0 6 0 6-3 6-3 6 2 6 3 6-1 6-1 6 4 6 2 6-4 6-4 6 2 6 1 6-1 6 2 6 2 6-2 6-3 8 2"/>
<path d="M30 2120l6-2 6 1 6 3 6-1 6-2 6 3 6 0 6-4 6 2 6 3 6-3 6-1 6 4 6-2 6-4 6 2 6 0 6-4 6 0 6-2 6-10 6-9 6-7 6-17 6-17 6-12 6-20 6 1 6-15 6 8 6 15 6-26 6 45 6-6 6 3 6 37 6-10 6 23 6 10 6 7 6 10 6 7 6 15 6 6 6 4 6 8 6 3 6-4 6 0 6 0 6-6 6-4 6-1 6-7 6-7 6-1 6-2 6-7 6-3 6 0 6-4 6-2 6-1 6-4 6-1 6 4 6 1 6-3 6 2 6 3 6-3 6-1 6 2 6-2 6-2 6 4 6 1 6-4 6 0 6 0 6-4 6 0 6 5 6-2 6-2 6 4 6 1 6-1 6 3 6 0 6-5 6 3 6 7 6-1 6-4 6 1 6-2 6-3 6 2 6 2 6-1 6 0 6 2 6-2 8 0"/>
<path d="M30 2113l6 1 6-7 6 2 6 5 6-6 6-5 6 8 6 5 6-6 6-2 6 8 6-2 6-8 6 2 6 5 6-6 6-5 6 3 6-8 6-21 6-17 6-17 6-34 6-39 6-29 6-28 6-32 6-19 6 1 6 6 6 5 6 20 6 28 6 19 6 22 6 34 6 27 6 15 6 17 6 25 6 13 6 6 6 17 6 18 6 6 6 7 6 14 6 6 6-6 6-1 6 4 6-8 6-13 6 1 6 0 6-12 6-6 6 4 6-6 6-13 6-3 6 4 6-7 6-7 6 4 6 2 6-6 6 0 6 6 6-1 6-6 6 2 6 6 6-6 6-5 6 8 6 2 6-9 6-1 6 7 6 0 6-4 6 6 6 6 6-8 6-4 6 5 6-1 6-8 6 5 6 7 6-5 6-7 6 5 6 3 6-6 6 1 6 9 6-2 6-11 6 2 6 6 6-5 6-5 8 8"/>
<path d="M30 2119l6-2 6-2 6 10 6-7 6-9 6 16 6-8 6-7 6 22 6-15 6-6 6 26 6-24 6-4 6 29 6-29 6-11 6 19 6-36 6-25 6-3 6-50 6-47 6-27 6-47 6-34 6-4 6-7 6 7 6 33 6 25 6 26 6 42 6 29 6 21 6 34 6 25 6 13 6 14 6 11 6 7 6 10 6 10 6 10 6 11 6 7 6 4 6 4 6 0 6-2 6-1 6-2 6-8 6-9 6-4 6-4 6-8 6-9 6-3 6-2 6-6 6-4 6 0 6-1 6-4 6-2 6-1 6-3 6 1 6 3 6 1 6-4 6-5 6 0 6 2 6 1 6 0 6 3 6 1 6-2 6 0 6 0 6-1 6-2 6-1 6 1 6 0 6 0 6 1 6 1 6 0 6 1 6 1 6-1 6-3 6-1 6 3 6 0 6-2 6-1 6 2 6 0 6 1 6 0 8 0"/>
</g></g>
<g transform="scale(.25)" fill="none" stroke-linejoin="round">
<g stroke="#1a1a1a" stroke-width="2.8">
<path d="M30 2568l8 0 8 1 8 0 8 0 8 0 8 0 8-1 8-1 8 0 8-1 8-2 8-4 8-7 8-13 8-19 8-27 8-31 8-33 8-28 8-19 8-5 8 9 8 21 8 30 8 34 8 33 8 29 8 24 8 20 8 15 8 12 8 8 8 4 8 1 8-2 8-4 8-5 8-5 8-6 8-6 8-6 8-4 8-2 8 0 8 1 8 1 8 0 8-1 8 0 8 1 8-1 8 0 8-1 8 0 8 1 8 1 8 0 8 0 8 0 8 0 8-1 8 1 8 0 8 0 8-1 8 0 8-1 8 1 8-1 8 1 8 0 8 1 8-1 8 0 8 0 8 0 8-1 8-1 8 0"/>
<path d="M30 2567l8 1 8 0 8-1 8 0 8 0 8-1 8 0 8 1 8-1 8-1 8-2 8-2 8-3 8-6 8-9 8-12 8-15 8-18 8-18 8-15 8-9 8-1 8 7 8 13 8 16 8 18 8 18 8 17 8 15 8 13 8 13 8 13 8 11 8 8 8 5 8 0 8-1 8-3 8-5 8-5 8-6 8-5 8-4 8-4 8-3 8-4 8-2 8-2 8-1 8-1 8-1 8 0 8 0 8 2 8 2 8 0 8 0 8 0 8 0 8 0 8 1 8 0 8 0 8-1 8-1 8 0 8 0 8 1 8-1 8-1 8 0 8 1 8 1 8 0 8 0 8 0 8 0 8 0 8-1"/>
<path d="M30 2564l8 0 8 1 8 0 8 0 8-1 8 0 8-1 8-2 8-4 8-5 8-9 8-14 8-23 8-31 8-38 8-42 8-40 8-31 8-18 8 0 8 17 8 30 8 39 8 41 8 40 8 35 8 30 8 25 8 22 8 19 8 16 8 11 8 7 8 1 8-2 8-4 8-6 8-6 8-7 8-7 8-7 8-6 8-4 8-2 8-1 8 0 8-1 8 0 8-1 8-1 8-2 8-1 8 0 8 1 8 1 8 1 8-1 8-1 8 0 8 0 8 0 8 0 8 1 8 1 8 1 8 1 8-1 8-1 8 0 8 0 8-1 8-1 8-1 8-1 8 0 8 0 8-1 8 0 8 1"/>
<path d="M30 2570l8 2 8 0 8-1 8-1 8 0 8 0 8-1 8-1 8-1 8-2 8-4 8-7 8-11 8-16 8-21 8-23 8-22 8-17 8-7 8 4 8 16 8 23 8 26 8 24 8 21 8 16 8 14 8 10 8 8 8 6 8 3 8 0 8 0 8-2 8-3 8-3 8-4 8-4 8-3 8-4 8-3 8-3 8-2 8 0 8 0 8 0 8-1 8-1 8-1 8 0 8 1 8 1 8 1 8 0 8 0 8-1 8-1 8-1 8 0 8-1 8 0 8 1 8 0 8 1 8 0 8 0 8 0 8 1 8 0 8 1 8 1 8 0 8-1 8-1 8-1 8-1 8 0 8 0 8 0"/>
<path d="M30 2565l8-1 8-1 8 0 8 1 8 2 8 1 8 1 8-1 8-1 8-1 8-4 8-7 8-13 8-20 8-27 8-34 8-38 8-36 8-28 8-12 8 4 8 19 8 31 8 36 8 37 8 35 8 30 8 26 8 22 8 19 8 14 8 9 8 4 8 0 8-1 8-3 8-5 8-7 8-7 8-5 8-5 8-3 8-3 8-2 8-1 8-1 8-1 8-1 8-2 8-1 8 0 8 0 8 1 8 1 8 2 8 1 8 1 8 1 8-1 8-2 8-1 8 0 8 0 8 0 8-1 8 0 8 1 8 0 8-1 8-1 8-2 8-1 8 1 8 2 8 2 8 0 8 0 8 0 8 0"/>
<path d="M30 2568l8 0 8-2 8-1 8 0 8 0 8 1 8-1 8 0 8 0 8-1 8-4 8-7 8-13 8-18 8-27 8-33 8-37 8-37 8-32 8-20 8-5 8 16 8 34 8 44 8 47 8 42 8 34 8 27 8 21 8 16 8 13 8 7 8 2 8-2 8-4 8-7 8-7 8-6 8-7 8-6 8-5 8-5 8-2 8-2 8-1 8-2 8-1 8-1 8 1 8 0 8 0 8 1 8 0 8-1 8 0 8 0 8 1 8-1 8 0 8-1 8 0 8-1 8 0 8-1 8 0 8 0 8 0 8 0 8 1 8 2 8 1 8 0 8-1 8 0 8 1 8-1 8 0 8-1 8 0"/>
<path d="M30 2570l8 0 8 0 8 0 8 0 8 0 8-2 8-2 8-1 8-2 8-1 8-4 8-8 8-14 8-21 8-30 8-38 8-43 8-40 8-31 8-17 8 2 8 23 8 39 8 49 8 50 8 44 8 36 8 27 8 20 8 15 8 10 8 5 8 0 8-2 8-2 8-4 8-6 8-7 8-6 8-6 8-4 8-3 8-3 8-2 8-2 8-1 8 0 8 0 8 0 8 0 8-2 8-1 8 0 8 0 8 0 8 1 8-1 8 0 8 0 8 0 8 1 8 0 8 0 8 1 8 1 8 1 8 1 8-1 8-2 8-1 8 0 8-1 8-1 8 1 8 1 8 1 8 1 8 0 8-1"/>
<path d="M30 2567l8 1 8 1 8 0 8 1 8 0 8 1 8-1 8-2 8-2 8-3 8-4 8-6 8-13 8-20 8-29 8-37 8-39 8-34 8-23 8-7 8 10 8 24 8 35 8 38 8 37 8 31 8 25 8 19 8 16 8 13 8 10 8 6 8 1 8-2 8-3 8-4 8-3 8-4 8-3 8-3 8-2 8-1 8-1 8-2 8-2 8-1 8 0 8 0 8-1 8-1 8 0 8 0 8 1 8 0 8 1 8 1 8 1 8 0 8 0 8 0 8 0 8 0 8 0 8 0 8-1 8-1 8-1 8-1 8 0 8 0 8 2 8 1 8 0 8-1 8-1 8 0 8 1 8 1 8 1"/>
<path d="M30 2567l8 0 8 0 8 0 8 0 8 1 8 1 8 0 8 0 8-1 8-2 8-2 8-5 8-5 8-7 8-9 8-14 8-18 8-25 8-26 8-25 8-17 8-6 8 7 8 16 8 23 8 26 8 26 8 24 8 21 8 19 8 16 8 14 8 11 8 9 8 5 8 1 8-1 8-3 8-4 8-5 8-5 8-3 8-3 8-1 8-1 8 0 8-1 8-1 8-2 8-1 8-1 8 0 8-1 8-1 8-1 8 1 8 0 8-1 8 0 8 1 8 1 8 1 8-1 8-1 8-1 8 0 8 0 8 0 8 1 8 0 8 0 8-1 8 0 8 0 8 0 8 1 8 1 8 0 8-1"/>
<path d="M30 2568l8 0 8 0 8 0 8 0 8-2 8-1 8 0 8 0 8 1 8-1 8-4 8-5 8-9 8-13 8-19 8-26 8-33 8-35 8-32 8-25 8-14 8 1 8 19 8 34 8 42 8 41 8 37 8 31 8 26 8 21 8 16 8 12 8 6 8 1 8-3 8-4 8-5 8-5 8-6 8-7 8-6 8-5 8-3 8-2 8-1 8-1 8-2 8-1 8-1 8-1 8 1 8 0 8-1 8-1 8 0 8 0 8 0 8 1 8 0 8 2 8 1 8 0 8-1 8 0 8 0 8 1 8 1 8 0 8-2 8-2 8-1 8 0 8 0 8 0 8 0 8 1 8 0 8 0 8 0"/>
<path d="M30 2574l8-1 8-1 8-1 8-1 8-1 8 0 8 0 8-1 8 0 8-1 8-1 8-4 8-6 8-11 8-15 8-19 8-20 8-15 8-8 8 0 8 6 8 9 8 13 8 17 8 20 8 19 8 17 8 15 8 14 8 12 8 9 8 5 8 1 8-2 8-3 8-3 8-4 8-3 8-4 8-4 8-4 8-4 8-3 8-1 8-1 8 0 8-1 8 0 8 0 8 1 8 1 8-1 8-1 8-2 8-1 8 0 8-1 8-1 8 0 8 1 8 2 8 2 8 1 8 1 8 0 8-1 8 0 8 0 8 0 8 0 8-1 8-1 8-1 8 0 8 1 8 0 8-1 8 1 8 0"/>
<path d="M30 2566l8 0 8 1 8 0 8 0 8 0 8 0 8 0 8 0 8 0 8-1 8-2 8-5 8-7 8-13 8-19 8-28 8-36 8-40 8-39 8-30 8-14 8 3 8 20 8 31 8 38 8 38 8 36 8 32 8 28 8 23 8 19 8 15 8 11 8 6 8 0 8-4 8-5 8-7 8-7 8-8 8-7 8-6 8-3 8-3 8-3 8-1 8-1 8-1 8 0 8 0 8-2 8-2 8-1 8 0 8 1 8 1 8 0 8-1 8-2 8-1 8 1 8 1 8 1 8 0 8 0 8 0 8 1 8 0 8 0 8-1 8-2 8-2 8 0 8 1 8 2 8 2 8 1 8 1 8-1"/>
<path d="M30 2572l8 0 8 0 8 0 8-1 8 0 8 0 8 1 8 0 8-2 8-3 8-5 8-7 8-12 8-18 8-26 8-33 8-39 8-41 8-35 8-23 8-5 8 12 8 27 8 37 8 40 8 39 8 35 8 28 8 23 8 18 8 14 8 11 8 8 8 3 8 0 8 0 8-2 8-4 8-4 8-4 8-5 8-4 8-2 8-1 8-1 8-1 8-2 8-2 8-1 8 1 8 1 8 1 8 0 8 1 8 0 8-2 8-1 8-1 8 0 8 0 8 1 8 1 8 1 8 0 8-1 8-1 8-1 8-1 8 1 8 0 8 0 8 1 8 0 8 0 8 1 8 1 8 0 8 1 8-1"/>
<path d="M30 2570l8 0 8 0 8-1 8 1 8 0 8 1 8 0 8 0 8 0 8-1 8-2 8-6 8-8 8-12 8-16 8-20 8-22 8-23 8-18 8-11 8-1 8 8 8 15 8 20 8 23 8 23 8 24 8 21 8 19 8 16 8 12 8 8 8 2 8-1 8-3 8-5 8-5 8-5 8-5 8-5 8-4 8-3 8-1 8-1 8 0 8-2 8-2 8-1 8-1 8 0 8 1 8 0 8 0 8 0 8 0 8 0 8-1 8 0 8-1 8 0 8 1 8 0 8 0 8-1 8 0 8 0 8 0 8-1 8-1 8-1 8 0 8 1 8 1 8 1 8 1 8 0 8 0 8 1 8 1"/>
<path d="M30 2567l8 0 8 2 8 1 8 1 8-1 8-1 8 0 8 0 8 0 8 0 8-2 8-4 8-7 8-9 8-11 8-16 8-19 8-19 8-17 8-11 8-4 8 4 8 12 8 17 8 21 8 22 8 22 8 19 8 16 8 14 8 13 8 10 8 6 8 1 8-2 8-3 8-5 8-6 8-5 8-5 8-4 8-2 8-3 8-3 8-3 8-2 8-1 8 0 8 0 8-1 8-1 8 0 8 0 8 1 8 0 8 0 8 0 8 0 8 1 8 0 8-1 8 1 8 0 8 1 8-1 8-1 8-2 8 0 8 0 8 1 8 1 8 1 8 0 8 0 8 0 8 0 8-1 8 0 8 0"/>
<path d="M30 2572l8 1 8 0 8 0 8-1 8-1 8-2 8-1 8 1 8 1 8 0 8-3 8-4 8-8 8-11 8-15 8-21 8-25 8-26 8-20 8-10 8-1 8 12 8 20 8 26 8 25 8 23 8 17 8 14 8 11 8 10 8 9 8 8 8 8 8 5 8 2 8 0 8-1 8-1 8-3 8-3 8-4 8-3 8-3 8-1 8 1 8 0 8-1 8-1 8-1 8 0 8 0 8 0 8-1 8 0 8 1 8 0 8 1 8 0 8-2 8-1 8-1 8 0 8 0 8 0 8 0 8 1 8 1 8 0 8 0 8 1 8 2 8 0 8 0 8 0 8 0 8 0 8 0 8-1 8-1"/>
<path d="M30 2569l8 0 8 0 8 0 8-2 8-1 8-1 8-1 8-1 8-3 8-5 8-9 8-15 8-22 8-29 8-35 8-37 8-38 8-31 8-21 8-6 8 16 8 36 8 48 8 49 8 42 8 31 8 23 8 18 8 15 8 15 8 14 8 12 8 8 8 1 8-3 8-3 8-5 8-6 8-7 8-7 8-4 8-3 8-3 8-3 8-2 8-2 8 0 8-1 8-1 8 0 8-2 8 0 8 1 8 1 8 1 8-1 8 0 8 0 8-1 8 1 8 1 8 0 8 1 8-1 8-1 8 0 8-1 8 0 8 0 8 1 8-1 8 0 8 0 8 1 8 1 8 0 8 0 8-1 8 0"/>
<path d="M30 2569l8 1 8 0 8 0 8 0 8 0 8 0 8 0 8-1 8-1 8-1 8-2 8-1 8-3 8-4 8-8 8-12 8-15 8-18 8-18 8-14 8-8 8 2 8 10 8 17 8 20 8 18 8 17 8 14 8 11 8 10 8 9 8 8 8 7 8 6 8 3 8-1 8-1 8-3 8-3 8-4 8-3 8-4 8-3 8-2 8-2 8-2 8-1 8 0 8 0 8 0 8 0 8 1 8 0 8 0 8-1 8 0 8 0 8-1 8 1 8 0 8 0 8-1 8 0 8-1 8 1 8 0 8 1 8-1 8 0 8 0 8 0 8 1 8 1 8 0 8 0 8 0 8 1 8 1 8 1"/>
<path d="M30 2564l8 0 8 1 8 0 8 0 8 1 8 0 8-1 8-1 8-1 8-1 8 0 8-2 8-5 8-11 8-16 8-22 8-29 8-31 8-31 8-25 8-15 8-2 8 13 8 25 8 33 8 34 8 34 8 29 8 25 8 21 8 17 8 12 8 9 8 3 8 1 8-2 8-3 8-5 8-4 8-4 8-5 8-4 8-4 8-2 8-1 8-1 8 0 8 0 8 0 8 1 8 2 8 0 8-2 8-2 8-2 8-1 8-1 8 0 8 1 8 1 8 0 8 0 8-1 8 0 8 1 8 1 8 0 8-1 8-1 8 0 8 1 8 2 8 0 8-1 8-1 8 0 8-1 8 0 8 0"/>
<path d="M30 2567l8 0 8 1 8 0 8 1 8 0 8 0 8-2 8-2 8-3 8-5 8-8 8-12 8-18 8-24 8-31 8-36 8-37 8-33 8-24 8-8 8 7 8 22 8 33 8 38 8 38 8 33 8 29 8 23 8 19 8 16 8 13 8 12 8 8 8 5 8 0 8-2 8-2 8-3 8-2 8-2 8-3 8-2 8-2 8-2 8-2 8-2 8-1 8 0 8 0 8 0 8 0 8 0 8-1 8 1 8 0 8 0 8 1 8 0 8 0 8 0 8 0 8-1 8-2 8 0 8 1 8 1 8 0 8-1 8 0 8-1 8 0 8 0 8 0 8 1 8 1 8 1 8 0 8-1 8-2"/>
<path d="M30 2563l8 1 8 0 8 1 8-1 8 0 8-1 8 1 8 0 8 0 8-1 8-4 8-7 8-12 8-18 8-23 8-28 8-32 8-30 8-24 8-13 8 0 8 18 8 31 8 38 8 38 8 32 8 27 8 22 8 17 8 13 8 10 8 8 8 5 8 0 8-2 8-5 8-7 8-8 8-8 8-7 8-6 8-4 8-4 8-4 8-2 8-1 8 1 8 0 8 1 8 0 8 1 8 0 8 0 8-1 8 0 8 0 8 0 8 0 8-1 8 1 8 1 8 0 8-1 8-1 8-1 8-2 8-2 8 0 8 1 8 2 8 2 8 1 8 0 8-1 8-1 8 0 8 0 8-1 8 0"/>
</g>
<g stroke="#dc1812" stroke-width="3">
<path d="M30 2567l6 1 6 0 6-3 6 3 6 2 6-1 6 3 6-1 6-3 6 3 6-2 6-1 6 4 6-3 6-1 6 2 6-4 6 0 6 0 6-4 6 1 6-2 6-6 6-5 6-14 6-21 6-21 6-31 6-31 6-28 6-28 6-14 6-1 6 7 6 23 6 30 6 29 6 34 6 25 6 20 6 20 6 12 6 10 6 10 6 3 6 3 6 2 6-7 6-6 6-7 6-4 6 10 6 10 6 4 6 5 6-4 6-7 6 0 6-4 6-2 6 1 6-5 6 2 6 0 6-7 6 0 6 0 6-3 6 3 6-1 6-4 6 2 6 0 6-6 6 10 6-3 6-11 6 21 6-17 6 0 6 22 6-25 6 11 6 4 6-14 6 11 6-3 6-3 6 5 6-3 6 1 6 3 6-3 6 0 6 1 6-4 6 2 6 1 6-3 6 3 6-1 6-1 6 4 6-2 8 1"/>
<path d="M30 2569l6-3 6 4 6 4 6-4 6 2 6 3 6-6 6-5 6 12 6 8 6-18 6-3 6 26 6-9 6-28 6 19 6 25 6-21 6-15 6 23 6 7 6-27 6-5 6 12 6-19 6-31 6-16 6-29 6-47 6-44 6-36 6-29 6-19 6 1 6 24 6 34 6 40 6 41 6 33 6 30 6 27 6 17 6 16 6 10 6 6 6 7 6 7 6 7 6 8 6 7 6 7 6 4 6 0 6 0 6-1 6-4 6-2 6-4 6-5 6-3 6-6 6-3 6-4 6-6 6-2 6-2 6-3 6 0 6-2 6-1 6 0 6-2 6-1 6 0 6 0 6 0 6 1 6 2 6-4 6 3 6 0 6-6 6 12 6-6 6-4 6 13 6-19 6 8 6 9 6-26 6 27 6-5 6-19 6 32 6-26 6-1 6 26 6-30 6 18 6 5 6-24 6 22 6-8 6-6 8 12"/>
<path d="M30 2566l6 1 6 4 6-4 6-2 6 5 6-1 6-3 6 4 6 0 6-3 6 3 6 2 6-3 6-1 6 2 6-3 6 0 6 5 6-3 6-5 6 2 6-2 6-7 6-2 6-5 6-13 6-11 6-10 6-17 6-16 6-11 6-13 6-10 6 3 6 5 6 3 6 14 6 22 6 13 6 8 6 17 6 23 6 8 6-3 6 8 6 24 6 2 6-21 6 19 6 15 6-3 6-9 6-15 6 38 6-42 6-37 6 25 6-45 6 16 6 6 6-2 6 33 6-9 6 12 6 1 6-7 6 8 6-5 6-1 6 4 6-5 6-2 6 6 6 1 6-4 6 2 6 2 6-5 6-1 6 4 6-3 6-2 6 3 6 0 6-2 6 3 6 0 6-5 6 2 6 2 6-3 6 1 6 5 6-3 6-2 6 4 6-1 6-2 6 3 6 1 6-3 6 3 6 3 6-4 8 0"/>
<path d="M30 2570l6 2 6-1 6-3 6 0 6 2 6 0 6-2 6 0 6 3 6 0 6-1 6 0 6 2 6-2 6-2 6 0 6 2 6 0 6 1 6 0 6 1 6-1 6-1 6-1 6-5 6-7 6-6 6-7 6-11 6-11 6-9 6-9 6-6 6 0 6 7 6 6 6 8 6 12 6 11 6 8 6 8 6 9 6 8 6 5 6 4 6 7 6 9 6 5 6 4 6 6 6 4 6-3 6-7 6-11 6-11 6-4 6 5 6 6 6 0 6-3 6-1 6-2 6-5 6-5 6 0 6 0 6-2 6 0 6 1 6 0 6-1 6-1 6 0 6-3 6 0 6 1 6 2 6-1 6-1 6 1 6-1 6-2 6 1 6 2 6 0 6-2 6 1 6 3 6 0 6-1 6 0 6 0 6-1 6-1 6 2 6 0 6-2 6-1 6 3 6 1 6-2 6-2 6 1 6 2 8-1"/>
<path d="M30 2575l6 0 6 0 6 3 6-2 6-1 6 0 6-2 6 3 6-1 6-1 6 4 6-1 6-1 6 2 6-1 6 2 6 0 6-2 6 1 6-2 6-3 6 1 6-3 6-2 6-5 6-12 6-11 6-12 6-16 6-15 6-16 6-13 6-4 6-3 6 4 6 9 6 10 6 16 6 15 6 14 6 15 6 5 6-2 6 8 6 17 6 23 6 18 6 8 6 7 6 3 6-2 6-2 6-6 6-3 6-1 6-5 6-3 6-3 6-8 6-4 6-5 6-3 6-1 6-4 6-3 6 1 6-3 6 1 6 0 6-2 6 2 6-1 6-1 6 2 6-2 6-1 6 3 6 0 6 0 6-2 6-2 6 2 6-2 6-1 6 2 6 0 6 1 6 0 6-5 6 2 6 1 6 1 6 3 6 0 6-1 6 2 6-3 6 1 6 2 6-3 6 0 6 0 6 0 6 3 8-4"/>
<path d="M30 2572l6-6 6 2 6 1 6-7 6 5 6 4 6-6 6 3 6 4 6-6 6 4 6 4 6-9 6 0 6 8 6-5 6-2 6 3 6-6 6-4 6 0 6-14 6-17 6-10 6-25 6-34 6-28 6-37 6-40 6-24 6-21 6-16 6 10 6 21 6 25 6 44 6 42 6 32 6 38 6 27 6 11 6 15 6 15 6 3 6 11 6 13 6 4 6 11 6 13 6 1 6 4 6 6 6-7 6-4 6 1 6-15 6-18 6-15 6-26 6-17 6 6 6 9 6 10 6 17 6 3 6-4 6 5 6-3 6-9 6 4 6 3 6-5 6 5 6 2 6-7 6 3 6 3 6-7 6 2 6 5 6-7 6 1 6 5 6-5 6 1 6 5 6-6 6-2 6 6 6-2 6-2 6 6 6-4 6-3 6 7 6-1 6-4 6 6 6-3 6-5 6 6 6 0 6-6 6 4 8-2"/>
<path d="M30 2590l6-17 6-12 6 26 6 2 6-30 6 17 6 27 6-28 6-14 6 29 6-3 6-24 6 7 6 12 6-10 6-6 6 4 6 3 6 0 6-4 6-4 6-3 6-7 6-12 6-15 6-17 6-26 6-32 6-27 6-23 6-19 6-10 6 6 6 18 6 19 6 24 6 31 6 30 6 17 6-1 6-19 6-17 6 21 6 51 6 40 6 16 6 7 6 8 6 7 6-2 6-4 6-2 6-3 6-8 6-6 6-2 6-5 6-8 6-3 6-1 6-6 6-7 6-1 6 3 6-3 6-5 6 0 6 0 6-3 6 0 6 4 6 2 6-4 6-1 6 4 6 1 6-2 6 1 6 3 6-1 6-4 6-1 6 0 6-3 6 0 6 4 6 1 6-4 6 0 6 5 6-1 6-3 6 1 6 3 6-1 6-2 6 2 6 2 6-4 6-2 6 3 6 2 6-3 6-2 8 4"/>
<path d="M30 2568l6 2 6 6 6-4 6-4 6 7 6 4 6-8 6-2 6 7 6 2 6-7 6 0 6 6 6-3 6-9 6 3 6 7 6-3 6-5 6 6 6 5 6-10 6-7 6 3 6-1 6-16 6-15 6-11 6-24 6-33 6-21 6-14 6-18 6-11 6 10 6 19 6 14 6 20 6 31 6 26 6 12 6 15 6 21 6 10 6 2 6 3 6 21 6 0 6 1 6 19 6-7 6 22 6-31 6 16 6 8 6-32 6 25 6-30 6 20 6-24 6-29 6-6 6-35 6 17 6 18 6 21 6 2 6-11 6 6 6 3 6-4 6-3 6 7 6 3 6-9 6-2 6 7 6 0 6-7 6 2 6 7 6-4 6-8 6 4 6 8 6-5 6-4 6 6 6 4 6-7 6-3 6 8 6 1 6-8 6 1 6 10 6-2 6-9 6 2 6 7 6-5 6-7 6 6 6 7 8-10"/>
<path d="M30 2597l6-35 6 24 6-1 6-27 6 32 6-21 6 4 6 2 6-7 6 7 6-7 6 0 6 3 6-1 6 0 6 2 6 1 6-5 6 0 6 2 6-1 6-6 6-5 6-5 6-13 6-17 6-20 6-24 6-29 6-28 6-18 6-13 6-8 6 4 6 17 6 24 6 26 6 29 6 29 6 23 6 15 6 15 6 15 6 8 6 6 6 10 6 10 6 3 6 1 6 5 6 0 6-3 6-2 6-3 6-5 6-7 6-6 6-6 6-13 6-26 6-17 6-1 6 1 6 19 6 23 6-8 6 4 6 11 6-21 6 7 6 16 6-30 6 17 6 23 6-44 6 20 6 29 6-52 6 18 6 29 6-50 6 20 6 29 6-40 6 20 6 17 6-38 6 17 6 16 6-27 6 13 6 10 6-20 6 7 6 11 6-9 6 0 6 2 6-3 6 0 6 1 6 2 6 4 6-3 8-3"/>
<path d="M30 2572l6-3 6 0 6 7 6-5 6 6 6 5 6-15 6 11 6 11 6-25 6 10 6 26 6-32 6-2 6 36 6-26 6-18 6 40 6-7 6-30 6 20 6 8 6-21 6-2 6-1 6-19 6-26 6-23 6-24 6-43 6-45 6-31 6-36 6-24 6 9 6 9 6 19 6 42 6 35 6 31 6 43 6 25 6 19 6 28 6 12 6 12 6 21 6 8 6 8 6 14 6 6 6 6 6 2 6 5 6 6 6-15 6-3 6 9 6-21 6-8 6 10 6-16 6-14 6 9 6-9 6-15 6 9 6 2 6-10 6 6 6-1 6-10 6 6 6 0 6-8 6 8 6 0 6-6 6 7 6-4 6-4 6 11 6-3 6-6 6 9 6-2 6-4 6 9 6-5 6-5 6 7 6-6 6-2 6 7 6-7 6 1 6 9 6-9 6 0 6 8 6-7 6 1 6 5 6-10 8 6"/>
</g>
<g stroke="#1a1a1a" stroke-width="2.8">
<path d="M30 2566l8 1 8-1 8-1 8 0 8 2 8 1 8 0 8-1 8-3 8-3 8-5 8-7 8-11 8-16 8-20 8-22 8-21 8-16 8-9 8 0 8 9 8 16 8 22 8 25 8 24 8 21 8 19 8 17 8 17 8 13 8 9 8 4 8 0 8-2 8-4 8-5 8-5 8-5 8-6 8-4 8-4 8-3 8-3 8-2 8-2 8 0 8 1 8 1 8 1 8 0 8 0 8-2 8-2 8-1 8-1 8 1 8 1 8 0 8 0 8 0 8 0 8 0 8 0 8 0 8 0 8 1 8-1 8 0 8 0 8 1 8 1 8 1 8 0 8-1 8-1 8 0 8 1 8 0 8-1"/>
</g>
<g stroke="#dc1812" stroke-width="3">
<path d="M30 2567l6 2 6 3 6 0 6-6 6 8 6 5 6-18 6 14 6 9 6-25 6 13 6 13 6-22 6 2 6 18 6-10 6-11 6 17 6-5 6-16 6 14 6-6 6-16 6 1 6-15 6-19 6-21 6-23 6-20 6-21 6-8 6-6 6 1 6 18 6 14 6 23 6 25 6 19 6 22 6 12 6 13 6 11 6 8 6 14 6 4 6 8 6 3 6-2 6 5 6-11 6 4 6 3 6-15 6 12 6-15 6-8 6 17 6-28 6 9 6 5 6-29 6 30 6-15 6-13 6 33 6-32 6 11 6 17 6-34 6 28 6-5 6-20 6 29 6-19 6 0 6 16 6-20 6 9 6 6 6-12 6 10 6-2 6-7 6 8 6-5 6-3 6 7 6-5 6 0 6 4 6-6 6 6 6-1 6-5 6 4 6-4 6 3 6 4 6-3 6 4 6-6 6-1 6 3 6-5 8 3"/>
<path d="M30 2576l6-4 6-1 6 5 6-1 6-5 6 2 6 6 6-2 6-5 6 3 6 1 6-6 6-1 6 6 6 1 6-5 6 2 6 3 6-4 6-4 6 5 6 1 6-6 6-2 6 0 6-11 6-20 6-15 6-19 6-31 6-28 6-15 6-12 6-6 6 13 6 27 6 21 6 20 6 39 6 14 6-4 6 45 6 5 6-29 6 46 6 8 6-29 6 31 6 12 6-10 6 11 6-2 6-6 6 5 6-3 6-10 6-6 6-11 6-25 6-19 6 0 6 9 6 5 6 7 6 5 6-4 6-5 6 4 6 2 6-6 6 0 6 6 6-1 6-7 6 1 6 5 6-3 6-3 6 5 6 1 6-5 6 1 6 6 6-2 6-6 6 2 6 3 6-4 6 0 6 4 6 0 6-5 6 2 6 6 6-4 6-4 6 4 6 2 6-6 6-2 6 7 6 0 6-6 6 1 8 5"/>
</g>
<g stroke="#1a1a1a" stroke-width="2.8">
<path d="M30 2571l8 0 8-1 8 1 8 1 8 0 8 0 8-2 8-1 8-2 8-2 8-4 8-5 8-9 8-14 8-20 8-29 8-36 8-40 8-40 8-34 8-20 8-6 8 12 8 27 8 40 8 46 8 45 8 40 8 34 8 27 8 20 8 14 8 9 8 3 8 0 8-2 8-2 8-4 8-3 8-3 8-2 8-3 8-3 8-1 8-1 8 0 8 0 8 1 8 0 8 0 8 0 8-1 8 0 8 0 8 1 8 2 8 1 8 0 8-1 8-2 8-1 8 0 8 0 8 0 8 0 8 1 8 0 8 0 8 1 8 1 8-1 8-1 8-1 8 1 8 1 8 0 8 0 8-2 8-1"/>
</g>
<g stroke="#dc1812" stroke-width="3">
<path d="M30 2564l6 9 6-1 6-7 6 4 6 3 6-5 6 2 6 6 6-7 6-4 6 8 6-1 6-6 6 7 6 4 6-8 6 1 6 4 6-9 6-2 6 5 6-9 6-12 6-2 6-14 6-26 6-14 6-15 6-25 6-10 6 2 6-2 6 6 6 17 6 5 6-1 6 19 6 27 6 21 6 23 6 16 6 1 6 8 6 13 6 3 6 3 6 14 6 4 6-2 6 9 6 3 6-11 6-2 6 0 6-10 6-8 6 0 6-5 6-14 6 3 6 2 6-20 6 6 6 9 6-25 6 12 6 7 6-24 6 19 6-2 6-15 6 23 6-17 6-2 6 21 6-25 6 13 6 9 6-27 6 23 6 2 6-22 6 23 6-4 6-16 6 13 6-3 6-10 6 8 6 5 6-3 6-2 6 5 6 0 6-7 6 5 6 3 6-7 6 3 6 6 6-8 6-1 6 7 6-5 8-4"/>
<path d="M30 2580l6-5 6-18 6 20 6 1 6-21 6 15 6 9 6-19 6 5 6 8 6-13 6 1 6 8 6-2 6-1 6 3 6-1 6-5 6-2 6 2 6-6 6-13 6-8 6-15 6-33 6-31 6-28 6-43 6-40 6-21 6-18 6-11 6 15 6 27 6 23 6 34 6 41 6 29 6 26 6 31 6 20 6 11 6 17 6 14 6 4 6 9 6 13 6 3 6 4 6 11 6-2 6-8 6-1 6 0 6-6 6-15 6 17 6-21 6-9 6 24 6-33 6 15 6-12 6-4 6 6 6-17 6 15 6-7 6-4 6 8 6-2 6-7 6 3 6 3 6-5 6 1 6 6 6-6 6-4 6 8 6-1 6-6 6 5 6 4 6-7 6 0 6 5 6-5 6-3 6 7 6 1 6-6 6 3 6 3 6-5 6 2 6 8 6-4 6-3 6 7 6-2 6-8 6 3 6 2 8-9"/>
<path d="M30 2572l6-4 6 15 6 1 6-21 6 10 6 23 6-19 6-17 6 28 6 6 6-30 6 5 6 22 6-13 6-17 6 13 6 9 6-12 6-7 6 4 6 0 6-7 6-10 6-11 6-10 6-17 6-25 6-21 6-15 6-17 6-16 6-4 6 11 6 17 6 17 6 23 6 29 6 24 6 11 6 10 6 17 6 14 6 0 6-1 6 17 6 17 6-7 6-10 6 20 6 15 6-25 6-20 6 24 6 12 6-37 6-20 6 32 6 9 6-41 6-11 6 35 6 3 6-39 6-6 6 28 6 0 6-25 6 1 6 20 6-3 6-13 6 4 6 9 6-4 6-8 6 3 6 7 6-2 6-5 6 1 6 4 6-2 6-6 6 1 6 5 6-1 6-4 6 1 6 4 6-1 6-3 6 2 6 4 6-2 6-4 6 1 6 5 6 0 6-5 6 0 6 4 6-1 6-4 6 1 8 6"/>
<path d="M30 2572l6 0 6 1 6-1 6 0 6 0 6-1 6 0 6 1 6-1 6-1 6-1 6-1 6-1 6 0 6 2 6 1 6 1 6 1 6-1 6-1 6-1 6-2 6-7 6-13 6-18 6-26 6-34 6-43 6-48 6-44 6-36 6-21 6-3 6 12 6 25 6 31 6 34 6 38 6 38 6 34 6 30 6 26 6 23 6 18 6 14 6 9 6 7 6 4 6 2 6 1 6-2 6-2 6-3 6-5 6-4 6-3 6-3 6-4 6-4 6-4 6-4 6-3 6-2 6-2 6 0 6-1 6-2 6 0 6 1 6 2 6-1 6-1 6-1 6 0 6 0 6 0 6 0 6 0 6 1 6-1 6-2 6 1 6 0 6 1 6 1 6-1 6 4 6-5 6 0 6 4 6-10 6 13 6-5 6-11 6 24 6-25 6 16 6 8 6-37 6 45 6-28 6-2 6 41 6-57 8 55"/>
</g>
<g stroke="#1a1a1a" stroke-width="2.8">
<path d="M30 2563l8 2 8 1 8-1 8 0 8-1 8 0 8 0 8-1 8-1 8-2 8-2 8-5 8-8 8-13 8-18 8-25 8-31 8-37 8-39 8-32 8-20 8-3 8 14 8 28 8 37 8 40 8 39 8 33 8 29 8 23 8 20 8 17 8 13 8 9 8 4 8 0 8-2 8-4 8-6 8-8 8-8 8-7 8-5 8-4 8-2 8-3 8-1 8-1 8-1 8 0 8 0 8 0 8 0 8-1 8-1 8 0 8 0 8 0 8 0 8 1 8 0 8 0 8-1 8 0 8 0 8 0 8 0 8 0 8-1 8 0 8 1 8 1 8 1 8 0 8 1 8 1 8 1 8 0 8-2"/>
</g>
<g stroke="#dc1812" stroke-width="3">
<path d="M30 2567l6 6 6 0 6-6 6 1 6 3 6-1 6-1 6 4 6-1 6-4 6 2 6 3 6-2 6-2 6 2 6-1 6-4 6 1 6 3 6-2 6-1 6 2 6-4 6-10 6-8 6-9 6-18 6-22 6-21 6-27 6-28 6-19 6-11 6-5 6 6 6 20 6 24 6 24 6 30 6 28 6 18 6 13 6 15 6 9 6 3 6 5 6 7 6 2 6-2 6-8 6-15 6-9 6 11 6 19 6 7 6 2 6 1 6-3 6-6 6-2 6-1 6-6 6-4 6 1 6-2 6-6 6 0 6 2 6-3 6 0 6 2 6-1 6-2 6 3 6 2 6-5 6-2 6 3 6 0 6-4 6 5 6 4 6-4 6-1 6 3 6-1 6-3 6 2 6 3 6-4 6-1 6 3 6-3 6-3 6 4 6 3 6-4 6 0 6 5 6-2 6-3 6 2 6 2 6-3 8 1"/>
<path d="M30 2571l6 0 6 0 6 2 6-1 6-3 6 0 6 2 6 0 6 1 6 1 6 0 6-1 6 1 6-2 6-1 6 0 6 0 6-3 6 1 6 0 6-3 6-2 6-4 6-7 6-8 6-10 6-15 6-18 6-15 6-15 6-17 6-6 6 9 6 2 6-6 6 14 6 34 6 11 6-9 6 23 6 47 6-1 6-28 6 23 6 45 6-13 6-28 6 25 6 32 6-20 6-22 6 19 6 16 6-14 6-12 6 5 6 0 6-8 6-4 6 3 6 1 6-4 6-3 6-1 6-1 6-2 6 2 6 2 6-2 6-2 6 0 6-2 6-2 6 0 6 0 6 1 6 2 6 1 6-2 6 0 6 3 6 0 6-1 6 2 6 0 6-2 6 0 6 1 6 0 6 0 6-3 6-3 6-1 6 2 6 1 6 1 6 2 6-1 6 1 6 1 6-2 6-2 6 0 6 1 8-2"/>
</g>
<g stroke="#1a1a1a" stroke-width="2.8">
<path d="M30 2572l8-1 8-1 8 0 8 0 8 1 8 0 8 1 8 0 8 0 8-1 8-2 8-4 8-7 8-13 8-18 8-25 8-29 8-30 8-26 8-17 8-2 8 10 8 20 8 26 8 28 8 28 8 25 8 22 8 19 8 17 8 14 8 11 8 8 8 2 8-1 8-3 8-4 8-3 8-4 8-4 8-5 8-4 8-5 8-2 8-1 8-1 8-2 8-1 8-1 8 0 8 1 8 1 8 1 8 0 8 0 8 0 8 1 8 1 8 0 8-1 8 0 8-1 8 0 8-2 8 0 8 0 8 1 8 1 8 1 8 0 8-1 8-1 8-1 8-1 8 1 8 1 8 1 8 0 8-1"/>
</g>
<g stroke="#dc1812" stroke-width="3">
<path d="M30 2573l6-5 6 5 6 2 6-5 6 3 6 2 6-6 6 0 6 6 6-3 6-4 6 7 6 0 6-5 6 4 6 4 6-7 6 0 6 2 6-8 6-4 6 4 6-10 6-18 6-15 6-29 6-44 6-40 6-42 6-48 6-32 6-10 6-5 6 4 6 21 6 26 6 34 6 50 6 44 6 29 6 30 6 30 6 16 6 16 6 22 6 10 6 4 6 13 6 4 6-6 6 1 6 2 6-9 6-4 6 3 6-7 6-9 6 0 6-6 6-9 6 3 6-1 6-9 6-1 6 4 6-8 6-4 6 7 6-3 6-4 6 5 6 0 6-7 6 5 6 5 6-7 6-2 6 5 6-5 6-4 6 7 6 1 6-4 6 6 6 3 6-6 6 1 6 6 6-4 6-3 6 6 6-2 6-6 6 4 6 3 6-8 6-1 6 11 6-8 6-13 6 21 6 4 6-23 6 16 8 4"/>
<path d="M30 2567l6-5 6 6 6 3 6-6 6-2 6 7 6 2 6-7 6 0 6 8 6 2 6-9 6-3 6 7 6 2 6-6 6-2 6 7 6 2 6-9 6-1 6 6 6-3 6-13 6-9 6-2 6-15 6-28 6-25 6-17 6-24 6-30 6-17 6-3 6 0 6 0 6 12 6 29 6 33 6 11 6 16 6 52 6 20 6-24 6 26 6 49 6-13 6-20 6 37 6 15 6-32 6 1 6-18 6-15 6 9 6-19 6 39 6 12 6-14 6 18 6-28 6 16 6 1 6-28 6 16 6-5 6-5 6-2 6-5 6 10 6-1 6-6 6 4 6 3 6-4 6-8 6 2 6 7 6-1 6-8 6 3 6 8 6-2 6-7 6 4 6 6 6-4 6-7 6 4 6 7 6-3 6-8 6 3 6 8 6-2 6-7 6 3 6 6 6-4 6-6 6 3 6 5 6-5 6-5 8 7"/>
<path d="M30 2569l6-3 6-1 6-1 6-1 6 3 6 3 6 0 6 2 6-1 6-5 6 1 6 2 6-2 6 1 6 2 6-1 6-1 6 0 6-5 6-5 6-3 6-6 6-14 6-17 6-22 6-30 6-32 6-34 6-37 6-34 6-23 6-17 6-5 6 14 6 29 6 38 6 44 6 38 6 31 6 30 6 29 6 18 6 13 6 11 6 7 6 7 6 8 6 4 6 2 6 5 6 4 6 0 6 2 6-1 6-6 6-3 6 0 6-5 6-4 6-4 6-5 6-3 6 0 6-3 6-4 6 0 6-2 6-4 6 2 6 1 6-3 6 0 6 2 6-2 6 1 6 3 6-1 6-2 6 0 6-3 6-1 6 3 6-2 6-1 6 8 6-1 6-11 6 4 6 11 6-11 6-6 6 16 6-3 6-17 6 13 6 15 6-22 6-6 6 24 6-2 6-21 6 9 6 14 6-13 8-4"/>
<path d="M30 2566l6-2 6 1 6 0 6 2 6-2 6-1 6 2 6 1 6 0 6 1 6 1 6-1 6-2 6-1 6-1 6 1 6 1 6-2 6-1 6-1 6-3 6-4 6-4 6-10 6-18 6-24 6-30 6-34 6-38 6-35 6-29 6-18 6-7 6 7 6 21 6 30 6 38 6 43 6 39 6 30 6 26 6 21 6 17 6 13 6 10 6 8 6 7 6 6 6 1 6 0 6-1 6-5 6-4 6-3 6-4 6-4 6-7 6-8 6-7 6-3 6-4 6-3 6-1 6-1 6-1 6 0 6 1 6 0 6-1 6-2 6-2 6 0 6 1 6 0 6-1 6 2 6-1 6-3 6 3 6 1 6-4 6 5 6-2 6-6 6 13 6-5 6-7 6 16 6-16 6-1 6 21 6-24 6 4 6 18 6-28 6 18 6 12 6-30 6 24 6 1 6-22 6 25 6-8 6-13 8 20"/>
<path d="M30 2565l6 2 6 1 6-1 6 0 6 0 6 0 6 0 6 0 6-1 6 0 6 0 6 0 6 2 6 0 6-1 6 1 6 1 6 0 6 1 6-3 6-5 6-2 6-2 6-6 6-9 6-13 6-17 6-17 6-20 6-22 6-19 6-15 6-10 6 1 6 12 6 18 6 24 6 23 6 20 6 21 6 21 6 16 6 14 6 11 6 9 6 8 6 7 6 5 6 3 6 0 6-3 6-2 6-5 6-5 6-2 6-3 6-7 6-6 6-5 6-5 6-2 6-2 6-5 6-3 6-2 6-1 6 2 6-1 6-2 6 2 6 0 6-2 6 2 6 0 6-2 6 0 6 0 6-1 6 1 6 1 6-1 6 0 6-2 6 0 6 3 6 1 6-3 6 0 6-1 6 1 6 1 6 0 6 0 6 2 6 1 6-1 6 0 6-2 6-2 6 0 6 0 6-2 6 2 6 0 8-2"/>
<path d="M30 2567l6-1 6-1 6 1 6 1 6-1 6 1 6 2 6-1 6-2 6 0 6 4 6 1 6-2 6-2 6-2 6-1 6 0 6-1 6-1 6-2 6-6 6-11 6-14 6-18 6-21 6-29 6-34 6-34 6-33 6-30 6-22 6-9 6 7 6 18 6 28 6 35 6 38 6 35 6 30 6 25 6 19 6 16 6 12 6 9 6 7 6 5 6 5 6 6 6 5 6 2 6 1 6 1 6 0 6-2 6-3 6-3 6-5 6-6 6-4 6-2 6-3 6-3 6-4 6-1 6-1 6-2 6-1 6-2 6-2 6-2 6-1 6 1 6 3 6 0 6-2 6-1 6 1 6 1 6 0 6 0 6-2 6 0 6 0 6 1 6 1 6 1 6 0 6-2 6-2 6 1 6 1 6 0 6-1 6 0 6-1 6 2 6 1 6 0 6 0 6 1 6 0 6-2 6-2 6 0 8 1"/>
<path d="M30 2568l6 1 6 5 6-1 6-3 6 3 6 2 6-6 6-4 6 3 6 2 6-4 6 0 6 5 6 1 6-6 6 0 6 7 6 0 6-5 6-1 6 2 6-4 6-9 6-5 6-7 6-16 6-18 6-11 6-14 6-20 6-13 6 0 6 1 6 0 6 11 6 22 6 18 6 16 6 18 6 18 6 6 6 2 6 6 6 3 6-11 6-17 6-9 6-3 6 2 6 16 6 24 6 16 6 2 6-1 6 3 6-3 6-12 6 0 6 11 6-10 6-18 6 15 6 13 6-28 6-7 6 35 6-8 6-37 6 21 6 27 6-31 6-14 6 31 6 2 6-24 6 4 6 13 6-7 6-6 6 5 6 5 6-3 6-4 6 0 6 5 6-1 6-6 6-1 6 6 6 1 6-3 6 3 6 3 6-3 6-4 6 3 6 3 6-4 6-2 6 6 6 2 6-5 6-2 6 3 8-1"/>
<path d="M30 2574l6-1 6-5 6 1 6 2 6-1 6-2 6 4 6 1 6-5 6-3 6 5 6 2 6-3 6 1 6 3 6-3 6-3 6 3 6 3 6-4 6-3 6 0 6-4 6-9 6-4 6-5 6-17 6-21 6-17 6-18 6-19 6-7 6 6 6 7 6 10 6 20 6 25 6 14 6 11 6 19 6 10 6-3 6 11 6 10 6-7 6 7 6 18 6-5 6 3 6 16 6-9 6-5 6 17 6-12 6-13 6 18 6-11 6-20 6 16 6-4 6-26 6 11 6 7 6-21 6 3 6 10 6-13 6-5 6 10 6-3 6-6 6 4 6 4 6-2 6-2 6 2 6 0 6-3 6 0 6 4 6 0 6-5 6 1 6 4 6-5 6-5 6 4 6 4 6-2 6 0 6 3 6-2 6-3 6 4 6 5 6-5 6-4 6 3 6 3 6-4 6-1 6 2 6-2 6-3 8 6"/>
<path d="M30 2573l6-3 6-2 6 1 6-1 6-1 6 3 6 2 6-2 6-2 6 3 6 0 6-2 6 1 6 0 6-3 6 0 6 2 6-2 6-1 6 2 6 0 6-2 6-1 6-3 6-12 6-19 6-21 6-31 6-42 6-45 6-45 6-46 6-37 6-20 6-6 6 8 6 25 6 35 6 36 6 39 6 41 6 30 6 17 6 12 6 8 6 6 6 18 6 32 6 29 6 21 6 15 6 8 6 0 6 0 6 1 6-2 6-6 6-3 6-6 6-10 6-7 6-2 6-4 6-5 6-1 6-3 6-6 6 0 6 1 6-1 6-1 6 1 6 0 6-2 6 0 6-2 6 1 6 4 6-5 6-2 6 8 6-4 6-9 6 12 6 2 6-17 6 9 6 16 6-16 6-6 6 20 6-5 6-17 6 13 6 7 6-16 6 2 6 10 6-8 6-3 6 9 6-2 6-6 6 5 8-1"/>
</g>
<g stroke="#1a1a1a" stroke-width="2.8">
<path d="M30 2565l8 0 8 0 8 0 8 0 8 1 8 0 8 1 8-1 8 0 8-2 8-2 8-6 8-10 8-14 8-21 8-27 8-33 8-33 8-29 8-18 8-3 8 10 8 24 8 32 8 34 8 33 8 28 8 24 8 21 8 18 8 15 8 13 8 9 8 5 8-1 8-2 8-4 8-4 8-5 8-5 8-5 8-5 8-4 8-3 8-3 8-3 8-3 8-1 8 0 8 2 8 2 8 3 8 1 8-1 8-2 8-1 8 0 8 0 8 0 8-1 8-1 8 0 8 1 8 0 8 0 8-1 8-2 8-1 8-1 8 0 8 1 8 2 8 2 8 1 8 0 8-1 8-1 8-1 8 0"/>
</g>
<g stroke="#dc1812" stroke-width="3">
<path d="M30 2576l6-7 6-2 6 9 6-7 6-4 6 8 6-4 6-4 6 9 6-4 6-5 6 8 6-3 6-5 6 8 6-2 6-8 6 6 6-1 6-8 6 8 6-1 6-14 6-4 6-14 6-32 6-26 6-34 6-49 6-35 6-25 6-27 6 2 6 17 6 14 6 31 6 40 6 24 6 31 6 37 6 22 6 21 6 25 6 7 6 9 6 18 6 2 6 3 6 14 6-3 6-5 6 8 6-3 6-10 6 3 6-5 6-12 6 1 6-7 6-11 6 1 6-2 6-9 6 5 6 0 6-11 6 5 6 3 6-9 6 3 6 4 6-10 6 3 6 8 6-8 6 2 6 7 6-8 6 1 6 9 6-8 6-2 6 8 6-6 6-4 6 7 6-6 6-3 6 9 6-3 6-4 6 8 6-4 6-5 6 8 6-3 6-7 6 7 6 0 6-7 6 8 6 1 6-8 6 7 8-1"/>
<path d="M30 2571l6-2 6-3 6 5 6 5 6-4 6-4 6 3 6 2 6-5 6-2 6 5 6-1 6-6 6 0 6 6 6-1 6-5 6 2 6 6 6-2 6-4 6 4 6 1 6-8 6-4 6 0 6-10 6-25 6-25 6-26 6-45 6-49 6-32 6-35 6-20 6 17 6 12 6 38 6 67 6 16 6 42 6 69 6-12 6 13 6 56 6-20 6-2 6 38 6-8 6-3 6 13 6-6 6-1 6-1 6-10 6 1 6-2 6-11 6-10 6-12 6-26 6-25 6 4 6 22 6 10 6 0 6 6 6 3 6-6 6-4 6 6 6 3 6-6 6-1 6 6 6-1 6-6 6 1 6 6 6-2 6-4 6 4 6 3 6-5 6-2 6 4 6 1 6-4 6 0 6 4 6-2 6-4 6 4 6 6 6-3 6-5 6 5 6 5 6-7 6-5 6 6 6 2 6-7 6 0 8 7"/>
<path d="M30 2575l6-7 6 2 6 6 6-5 6 8 6-4 6-6 6 7 6-7 6 5 6 3 6-9 6 6 6-4 6-2 6 6 6-9 6 3 6-3 6-12 6 0 6-20 6-19 6-17 6-35 6-24 6-31 6-32 6-11 6-16 6 3 6 16 6 10 6 30 6 26 6 23 6 34 6 16 6 23 6 22 6 6 6 18 6 8 6 5 6 15 6-3 6 4 6 3 6-7 6 9 6-3 6-4 6 3 6-11 6 4 6-1 6-11 6 5 6-8 6-4 6 4 6-11 6 5 6 1 6-6 6 6 6-8 6 1 6 6 6-9 6 6 6-1 6-3 6 9 6-6 6 2 6 4 6-10 6 5 6-3 6-2 6 9 6-7 6 4 6 3 6-9 6 8 6-4 6-5 6 8 6-5 6 5 6 2 6-8 6 7 6-6 6-3 6 9 6-6 6 5 6 0 6-7 6 7 6-7 8 3"/>
<path d="M30 2581l6-9 6-9 6 22 6-9 6-22 6 34 6 3 6-34 6 27 6 13 6-34 6 8 6 16 6-22 6-2 6 18 6-7 6-11 6 10 6-2 6-9 6 5 6-3 6-10 6-9 6-16 6-16 6-20 6-26 6-23 6-29 6-18 6-10 6-7 6 10 6 18 6 23 6 32 6 25 6 24 6 19 6 13 6 18 6 11 6 8 6 8 6 0 6 5 6 3 6-1 6 4 6-3 6-4 6-11 6-29 6-18 6-8 6 5 6 36 6-4 6-1 6 25 6-31 6 15 6 7 6-23 6 19 6-6 6-7 6 5 6 2 6 5 6-11 6 1 6 18 6-9 6-15 6 12 6 15 6-17 6-18 6 26 6 9 6-31 6 2 6 24 6-7 6-17 6 8 6 14 6-11 6-9 6 13 6 0 6-8 6 2 6 2 6 3 6-2 6-2 6 4 6-2 6 0 6 0 8-3"/>
<path d="M30 2568l6 0 6 2 6-1 6-2 6 0 6 2 6-1 6-3 6-1 6 3 6 0 6-1 6 3 6 1 6-3 6-3 6 2 6 1 6-1 6 1 6 2 6-4 6-8 6-8 6-10 6-18 6-26 6-29 6-34 6-37 6-34 6-25 6-16 6-2 6 12 6 23 6 27 6 30 6 35 6 32 6 27 6 24 6 24 6 16 6 14 6 15 6 15 6 9 6 7 6 8 6 5 6-2 6-2 6-1 6-3 6-6 6-4 6-5 6-8 6-7 6-4 6-5 6-8 6-4 6-1 6-5 6-5 6 0 6 3 6 0 6-1 6 1 6 1 6-1 6-1 6 0 6-2 6-3 6 0 6 4 6 1 6 0 6 2 6 3 6-2 6-4 6 1 6 1 6-2 6-1 6 0 6-1 6-1 6 5 6 3 6-3 6-2 6 2 6 0 6-2 6 0 6 2 6-1 6-3 8 2"/>
<path d="M30 2563l6 14 6 20 6-20 6-16 6 24 6 9 6-24 6-4 6 15 6-1 6-10 6-1 6 2 6 0 6 0 6 0 6 0 6 1 6 1 6-1 6-2 6-3 6-3 6-2 6-2 6-7 6-9 6-12 6-15 6-14 6-14 6-14 6-10 6-5 6-3 6 4 6 9 6 11 6 14 6 16 6 14 6 12 6 12 6 8 6 6 6 11 6 10 6 7 6 7 6 7 6 7 6 7 6 7 6 3 6 0 6 0 6-2 6-5 6-5 6-5 6-2 6-4 6-5 6-1 6-1 6-9 6-1 6 5 6-14 6-6 6 15 6-7 6-16 6 23 6 7 6-30 6 10 6 23 6-25 6-8 6 27 6-9 6-21 6 16 6 8 6-14 6 5 6 10 6-8 6-3 6 6 6-2 6-5 6 1 6 1 6-2 6 2 6 2 6 0 6-1 6-1 6-1 6 1 6 3 8 0"/>
<path d="M30 2571l6 7 6 12 6-21 6-4 6 28 6-4 6-22 6 8 6 24 6-9 6-29 6 16 6 19 6-21 6-4 6 8 6-5 6-2 6-4 6 5 6 6 6-7 6 2 6-3 6-9 6-2 6-13 6-15 6-12 6-24 6-13 6-13 6-14 6 3 6 0 6 9 6 17 6 7 6 17 6 16 6 10 6 19 6 9 6 9 6 13 6 2 6 11 6 9 6 4 6 13 6 1 6-1 6 4 6-7 6-1 6-1 6-8 6-2 6-9 6-1 6-2 6-22 6 9 6 9 6-27 6 10 6 16 6-26 6-4 6 20 6-8 6-13 6 10 6 8 6-14 6 0 6 10 6-8 6 3 6 4 6-6 6 4 6-1 6-3 6 6 6-6 6 0 6 4 6-4 6 6 6 0 6-4 6 3 6-6 6 1 6 6 6-6 6 3 6-2 6-3 6 7 6-3 6-1 6 3 8-7"/>
<path d="M30 2568l6-4 6 0 6 3 6 0 6-3 6-1 6 3 6 0 6-3 6 1 6 3 6-2 6-2 6 2 6 3 6 0 6-3 6 1 6 2 6-2 6-2 6 0 6-1 6-9 6-8 6-5 6-8 6-16 6-15 6-8 6-7 6-6 6 2 6 10 6 11 6 9 6 12 6 14 6 10 6 8 6 11 6 10 6 4 6 0 6 4 6 5 6-2 6-7 6-3 6 0 6 0 6 4 6 9 6 5 6-1 6-4 6-4 6-3 6-3 6-9 6-3 6 5 6-7 6-7 6 12 6-5 6-13 6 16 6-1 6-19 6 19 6 0 6-25 6 24 6 3 6-33 6 29 6 14 6-39 6 21 6 21 6-40 6 11 6 25 6-29 6 3 6 18 6-20 6 3 6 16 6-15 6 0 6 15 6-10 6-4 6 10 6-1 6-3 6 2 6-1 6-2 6-1 6 0 6 3 8-1"/>
</g>
<g stroke="#1a1a1a" stroke-width="2.8">
<path d="M30 2569l8 0 8 1 8 0 8-1 8-1 8 0 8-1 8-1 8-1 8-2 8-4 8-10 8-15 8-24 8-30 8-34 8-31 8-23 8-11 8 4 8 15 8 25 8 29 8 31 8 28 8 25 8 19 8 17 8 14 8 11 8 9 8 4 8 0 8-1 8-2 8-3 8-3 8-4 8-3 8-2 8-2 8-2 8-1 8-1 8 0 8 1 8 1 8-1 8-1 8-1 8-1 8 0 8 1 8 1 8-1 8-2 8-1 8 1 8 1 8 0 8 1 8 0 8 0 8 0 8 0 8 0 8 0 8 0 8 1 8-1 8 0 8 0 8 0 8 0 8 0 8 0 8 0 8 0 8 1"/>
</g>
<g stroke="#dc1812" stroke-width="3">
<path d="M30 2566l6-1 6 1 6 2 6 0 6-1 6 0 6 1 6 1 6 0 6 0 6-1 6-1 6 0 6 0 6 1 6 0 6-2 6 1 6 2 6-2 6-3 6 0 6-1 6-3 6-7 6-15 6-21 6-26 6-33 6-40 6-39 6-34 6-24 6-9 6 7 6 22 6 33 6 39 6 38 6 34 6 29 6 23 6 15 6 9 6 9 6 8 6 6 6 6 6 5 6 6 6 4 6 2 6-1 6-1 6-1 6-2 6-4 6-4 6-5 6-3 6-3 6-2 6-2 6-2 6-2 6-3 6-3 6-2 6-1 6 0 6 2 6 0 6-2 6-1 6 2 6 0 6 0 6 1 6-2 6 0 6 0 6 1 6 0 6 0 6 0 6-1 6 1 6 1 6 0 6-2 6-1 6 0 6 0 6 3 6 0 6-2 6-1 6 1 6 0 6 1 6 1 6-1 6-2 6 0 8 0"/>
<path d="M30 2571l6 13 6-18 6-1 6 22 6-10 6-16 6 16 6 2 6-18 6 5 6 12 6-9 6-5 6 9 6 0 6-8 6 1 6 6 6-2 6-7 6 0 6 4 6-5 6-12 6-10 6-12 6-24 6-31 6-28 6-23 6-27 6-19 6 1 6 2 6 13 6 19 6 23 6 38 6 11 6 24 6 37 6 1 6 31 6 11 6 1 6 33 6-19 6 15 6 20 6-25 6 19 6-7 6-8 6 10 6-24 6 7 6 3 6-19 6 4 6-2 6-3 6-4 6-7 6 5 6-1 6-7 6 0 6 3 6-3 6-1 6 1 6 4 6 1 6-13 6 9 6 8 6-24 6 19 6 2 6-17 6 23 6-18 6-2 6 22 6-21 6 4 6 12 6-10 6-4 6 2 6 5 6 0 6-5 6 0 6 3 6-4 6-3 6 5 6 3 6-3 6-1 6 5 6 3 6-5 8-1"/>
<path d="M30 2573l6-2 6-3 6 2 6 3 6 0 6-1 6 1 6 1 6-3 6-3 6 2 6 1 6-1 6-1 6 3 6 2 6-3 6-3 6 3 6 1 6-4 6-4 6-4 6-8 6-16 6-17 6-19 6-26 6-31 6-29 6-22 6-13 6-3 6 9 6 17 6 20 6 22 6 31 6 33 6 19 6 13 6 22 6 14 6-4 6-2 6 3 6-27 6-26 6 34 6 46 6-3 6 4 6 33 6-3 6-30 6 1 6 12 6-15 6-12 6 5 6 0 6-8 6-2 6-1 6-3 6-1 6-1 6-2 6-1 6 1 6 0 6-2 6 0 6 2 6-1 6-4 6 2 6 5 6-1 6-2 6 1 6 2 6-2 6-3 6 1 6 2 6-2 6-1 6 3 6 4 6-2 6-1 6 1 6 1 6-3 6-3 6 0 6 2 6-1 6 0 6 3 6 1 6-3 6-1 8 3"/>
<path d="M30 2566l6 1 6 1 6 0 6 1 6-1 6-2 6-1 6 2 6 2 6 2 6 0 6-3 6-2 6 1 6 0 6 0 6 0 6-1 6 1 6 0 6 1 6-1 6-4 6-7 6-9 6-14 6-19 6-26 6-29 6-32 6-34 6-28 6-16 6-3 6 10 6 24 6 34 6 39 6 35 6 30 6 24 6 18 6 12 6 8 6 8 6 8 6 6 6 4 6 1 6 1 6 0 6-2 6-2 6-2 6-2 6-3 6-3 6-3 6-1 6-2 6-4 6-4 6-3 6-2 6 2 6 0 6-2 6-1 6-1 6 1 6 0 6-1 6 0 6-1 6 1 6 0 6 1 6 1 6 0 6-1 6-1 6 0 6 1 6 0 6 0 6 0 6-1 6-2 6-1 6 0 6 0 6-1 6 0 6 1 6 1 6 1 6 0 6 2 6 0 6-1 6-1 6 1 6-1 6 0 8 0"/>
<path d="M30 2567l6-3 6-3 6 8 6-3 6-7 6 5 6-2 6-6 6 6 6 3 6-5 6 3 6 1 6-6 6 3 6 2 6-7 6 4 6 6 6-7 6-3 6 2 6-9 6-7 6-3 6-19 6-22 6-19 6-30 6-34 6-23 6-28 6-25 6-4 6 4 6 16 6 39 6 40 6 31 6 35 6 28 6 14 6 18 6 16 6 2 6 8 6 14 6 4 6 7 6 11 6-3 6-3 6 7 6-2 6-11 6-2 6-1 6-11 6-12 6-11 6-27 6-26 6 8 6 21 6 3 6 10 6 19 6-15 6-13 6 24 6-3 6-27 6 22 6 12 6-31 6 9 6 24 6-26 6-6 6 30 6-11 6-19 6 20 6 3 6-18 6 8 6 9 6-15 6 1 6 15 6-6 6-9 6 8 6 1 6-9 6 4 6 4 6-7 6 1 6 4 6-5 6 3 6 9 6-5 8-1"/>
</g>
<g stroke="#1a1a1a" stroke-width="2.8">
<path d="M30 2572l8 1 8-1 8-1 8 0 8-1 8-1 8 0 8 1 8 0 8 1 8 0 8-2 8-3 8-8 8-13 8-19 8-23 8-27 8-26 8-22 8-12 8 2 8 12 8 21 8 25 8 26 8 24 8 21 8 17 8 15 8 13 8 13 8 9 8 6 8 2 8-1 8-4 8-5 8-6 8-6 8-5 8-4 8-3 8-2 8-2 8-2 8-3 8-1 8-1 8-1 8 1 8 0 8 0 8 0 8-1 8 0 8 0 8 1 8 0 8-1 8 0 8 2 8 1 8 0 8-1 8-1 8 1 8 1 8 2 8 0 8-1 8-1 8-1 8 0 8 0 8-1 8-1 8 0 8 1"/>
</g>
<g stroke="#dc1812" stroke-width="3">
<path d="M30 2581l6-2 6-22 6 10 6 21 6-15 6-16 6 13 6 7 6-11 6-3 6 5 6 1 6-4 6-1 6 2 6 2 6-1 6-1 6 0 6-2 6-4 6-6 6-9 6-13 6-23 6-32 6-36 6-40 6-39 6-33 6-20 6-5 6 8 6 18 6 28 6 33 6 36 6 36 6 33 6 30 6 25 6 19 6 14 6 12 6 9 6 5 6 2 6-1 6-1 6-3 6-2 6-2 6-4 6-4 6-4 6-5 6-7 6 0 6-2 6-10 6 8 6-3 6-17 6 23 6-9 6-17 6 25 6-12 6-7 6 14 6-5 6-2 6 2 6-1 6 2 6-2 6-1 6 4 6-5 6 6 6-3 6-3 6 16 6-27 6 20 6-9 6-19 6 42 6-46 6 30 6 0 6-31 6 50 6-40 6 19 6 7 6-25 6 24 6-18 6 6 6 5 6-9 6 7 6-1 8 3"/>
<path d="M30 2568l6-2 6-2 6 4 6-5 6 1 6 5 6-5 6 1 6 4 6-4 6 3 6 0 6-5 6 3 6-3 6-3 6 7 6-1 6 0 6 2 6-7 6-4 6-6 6-17 6-12 6-18 6-31 6-28 6-34 6-35 6-21 6-19 6-7 6 12 6 20 6 34 6 44 6 34 6 36 6 32 6 16 6 17 6 13 6 6 6 14 6 8 6 5 6 9 6 0 6 1 6-5 6-3 6 8 6-21 6-6 6 20 6-36 6-1 6 30 6-46 6 1 6 31 6-40 6 3 6 23 6-27 6 3 6 13 6-14 6 5 6 6 6-9 6 2 6 1 6-4 6 5 6 1 6-3 6 4 6-4 6-2 6 5 6-3 6-1 6 3 6-5 6 3 6 3 6-4 6 5 6 0 6-6 6 4 6-1 6-3 6 5 6-2 6-1 6 5 6-4 6 0 6 4 6-5 6 2 8 0"/>
<path d="M30 2574l6-4 6 1 6-1 6-3 6 6 6-4 6-1 6 4 6-6 6 3 6-1 6-2 6 4 6-4 6 3 6 2 6-4 6 5 6-3 6-3 6 0 6-12 6-7 6-11 6-19 6-13 6-23 6-20 6-16 6-21 6-4 6-2 6 5 6 16 6 8 6 18 6 20 6 16 6 23 6 11 6 11 6 15 6 5 6 12 6 7 6 5 6 15 6 1 6-2 6 6 6 1 6-3 6-11 6 10 6 3 6-32 6 6 6 23 6-29 6-16 6 25 6 0 6-31 6 4 6 26 6-20 6-17 6 21 6-2 6-9 6 6 6 1 6 2 6-3 6-1 6 2 6-7 6 2 6 1 6-3 6 6 6-2 6-1 6 3 6-6 6 5 6 0 6-4 6 6 6-5 6 2 6 2 6-6 6 6 6 0 6-2 6 7 6-5 6 0 6 0 6-5 6 4 6-6 6-1 8 4"/>
<path d="M30 2573l6-10 6 3 6 7 6-7 6 0 6 8 6-6 6-4 6 10 6-1 6-9 6 4 6 2 6-8 6 5 6 6 6-11 6 0 6 11 6-3 6-7 6 7 6-3 6-10 6 0 6-12 6-28 6-15 6-18 6-37 6-30 6-16 6-21 6-10 6 11 6 6 6 8 6 29 6 26 6 22 6 33 6 20 6 10 6 29 6 15 6-12 6 26 6 31 6-24 6-5 6 39 6-7 6-31 6 18 6 12 6-27 6-6 6 11 6-13 6-10 6 7 6-6 6-11 6 5 6-1 6-8 6 3 6 0 6-12 6 2 6 7 6-6 6 0 6 8 6-6 6-5 6 9 6-1 6-9 6 7 6 3 6-8 6 4 6 5 6-10 6 0 6 9 6-6 6-3 6 10 6-2 6-7 6 7 6 1 6-11 6 5 6 8 6-8 6 1 6 8 6-7 6-3 6 7 6-5 8-5"/>
<path d="M30 2566l6 5 6 1 6-5 6 3 6-3 6-2 6 6 6-5 6 1 6 5 6-7 6 1 6 3 6-4 6 6 6 1 6-4 6 4 6-3 6-3 6 5 6-6 6-1 6 1 6-12 6-9 6-9 6-21 6-14 6-19 6-25 6-9 6-7 6-2 6 11 6 9 6 18 6 24 6 12 6 19 6 18 6 4 6 15 6 9 6-5 6 14 6 11 6-7 6 13 6 16 6-14 6-2 6 24 6-15 6-24 6 31 6-2 6-47 6 29 6 21 6-56 6 9 6 34 6-43 6-3 6 31 6-23 6-8 6 18 6-7 6-11 6 7 6 3 6-13 6 13 6 1 6-7 6 17 6-17 6 5 6 11 6-25 6 25 6-11 6-15 6 27 6-27 6 12 6 12 6-27 6 23 6-8 6-9 6 20 6-18 6 5 6 7 6-12 6 11 6 0 6-8 6 8 6-3 6-2 8 4"/>
<path d="M30 2568l6-3 6 5 6 2 6-4 6-1 6 5 6 0 6-5 6 3 6 4 6-5 6-3 6 5 6 1 6-5 6 0 6 4 6-1 6-4 6 3 6 3 6-6 6-6 6 0 6-5 6-15 6-16 6-18 6-26 6-32 6-30 6-28 6-31 6-21 6-3 6 6 6 7 6 19 6 31 6 29 6 27 6 32 6 31 6 20 6 12 6 19 6 13 6 8 6 9 6 6 6 8 6-7 6-2 6 13 6-18 6 4 6 2 6-11 6 16 6-30 6 10 6 7 6-39 6 40 6-26 6-2 6 22 6-46 6 46 6-26 6-16 6 44 6-47 6 29 6-2 6-21 6 35 6-33 6 17 6 9 6-24 6 20 6-8 6 3 6 3 6-9 6 14 6-5 6-8 6 6 6-1 6-3 6-1 6 4 6 3 6-6 6 0 6 4 6 0 6-4 6 1 6 2 6-2 6-2 8 5"/>
<path d="M30 2571l6-1 6-1 6 0 6 0 6 1 6 2 6 0 6-1 6-1 6 0 6 3 6-1 6 0 6 0 6 0 6-1 6 0 6 0 6 1 6-1 6-4 6-4 6-6 6-12 6-20 6-27 6-35 6-40 6-43 6-42 6-35 6-20 6-1 6 13 6 22 6 30 6 35 6 37 6 36 6 33 6 27 6 24 6 22 6 16 6 18 6 11 6-1 6 14 6 8 6-18 6 12 6 11 6-33 6 11 6 18 6-41 6 7 6 24 6-36 6-1 6 22 6-22 6-3 6 13 6-12 6-4 6 8 6-3 6-1 6 3 6-2 6-2 6 0 6-1 6 1 6 2 6 0 6 0 6-1 6 0 6 1 6 1 6 0 6-3 6-1 6 2 6 0 6 0 6-1 6 0 6 0 6 0 6-1 6-1 6 0 6 1 6 2 6 2 6-1 6-2 6-1 6 1 6 0 6 0 8-1"/>
<path d="M30 2574l6-11 6 18 6 5 6-27 6 18 6 18 6-34 6 6 6 24 6-20 6-7 6 16 6-8 6-8 6 6 6 1 6-6 6-1 6 2 6-5 6-10 6-6 6-9 6-19 6-19 6-14 6-19 6-23 6-11 6-3 6-5 6 1 6 13 6 16 6 13 6 21 6 26 6 18 6 13 6 16 6 17 6 10 6 12 6 13 6 6 6 0 6 6 6 8 6-3 6-7 6 1 6-2 6-9 6-4 6 1 6-7 6-10 6-2 6 1 6-7 6-4 6 1 6-2 6-5 6 2 6 3 6-6 6-3 6 3 6 1 6-5 6 3 6 7 6-2 6-4 6 2 6 2 6-4 6 0 6 4 6-2 6-5 6 3 6 5 6-3 6-4 6 3 6 1 6-4 6 0 6 4 6-2 6-4 6 6 6 4 6-4 6-2 6 5 6 0 6-5 6 0 6 4 6-2 6-1 8 6"/>
<path d="M30 2565l6 2 6 1 6 1 6 2 6 1 6-1 6-2 6-1 6 0 6-2 6 0 6 3 6 2 6-1 6-1 6 0 6-3 6-5 6-5 6-10 6-15 6-15 6-17 6-23 6-25 6-24 6-23 6-19 6-10 6 1 6 13 6 23 6 33 6 34 6 28 6 23 6 16 6 9 6 2 6 0 6 4 6 9 6 13 6 12 6 5 6 0 6 0 6 0 6-3 6-5 6-4 6-4 6-5 6-1 6-1 6-3 6-1 6 0 6-2 6-1 6 0 6-1 6-2 6 0 6 1 6 0 6-4 6-1 6 0 6 0 6-1 6 1 6 1 6-1 6-1 6 1 6 2 6 3 6 2 6-1 6-4 6-2 6 2 6 1 6 0 6 1 6 0 6 0 6 0 6 2 6-1 6-3 6 0 6 1 6 1 6-1 6 0 6 1 6 0 6-1 6 1 6 1 6-1 6 0 8 1"/>
<path d="M30 2567l6 4 6 2 6-7 6 12 6-2 6-14 6 15 6-4 6-10 6 9 6-1 6-6 6 5 6 2 6-3 6-2 6 1 6-2 6-3 6 2 6 2 6-8 6-8 6-8 6-22 6-32 6-32 6-37 6-43 6-37 6-23 6-13 6-2 6 14 6 29 6 41 6 39 6 32 6 34 6 37 6 20 6 1 6 18 6 31 6 2 6-13 6 19 6 26 6-9 6-15 6 16 6 16 6-18 6-16 6 15 6 9 6-28 6-11 6 23 6-11 6-32 6 18 6 14 6-35 6 4 6 30 6-26 6-18 6 29 6-3 6-20 6 16 6 9 6-16 6 1 6 9 6-6 6-5 6 4 6-1 6-4 6 5 6 4 6-5 6 0 6 3 6-1 6 0 6 3 6 0 6-5 6 0 6 3 6-3 6-1 6 3 6 0 6-4 6 1 6 2 6-2 6 0 6 3 6-1 8-2"/>
<path d="M30 2566l6 2 6 9 6-5 6-9 6 9 6 9 6-15 6-4 6 17 6 1 6-14 6 2 6 6 6-3 6-5 6 3 6 0 6-4 6-3 6-4 6-10 6-10 6-13 6-17 6-23 6-26 6-28 6-27 6-22 6-15 6-6 6 4 6 21 6 29 6 29 6 38 6 21 6 30 6 26 6 5 6 31 6 1 6 8 6 23 6-18 6 24 6 0 6-9 6 18 6-23 6 6 6-3 6-19 6 12 6-9 6-13 6-1 6-17 6-31 6-9 6 19 6 4 6 3 6 21 6-8 6-16 6 17 6 3 6-19 6 13 6 10 6-21 6 6 6 17 6-14 6-6 6 13 6-7 6-10 6 10 6 1 6-8 6 6 6 1 6-6 6 3 6 3 6-3 6 0 6 4 6 0 6-2 6 0 6 1 6 1 6 0 6-2 6 0 6-1 6-1 6 1 6 0 6 1 6-1 8 0"/>
<path d="M30 2568l6-1 6-4 6 4 6 4 6-3 6-4 6 1 6 4 6-1 6-3 6 4 6 1 6-3 6 0 6 3 6-2 6-5 6 3 6 5 6-2 6-4 6 1 6-1 6-9 6-9 6-9 6-20 6-30 6-29 6-30 6-37 6-40 6-29 6-19 6-11 6 9 6 34 6 43 6 41 6 42 6 43 6 30 6 14 6 15 6 17 6 8 6 4 6 14 6 9 6-7 6 0 6 12 6-5 6-17 6 8 6 10 6-24 6-11 6 23 6-8 6-31 6 14 6 20 6-31 6-16 6 32 6-1 6-34 6 13 6 29 6-23 6-17 6 25 6 3 6-21 6 4 6 16 6-9 6-8 6 10 6 3 6-6 6 0 6 3 6 0 6-1 6 0 6-3 6 1 6 4 6-2 6-3 6 1 6 0 6-3 6 1 6 5 6-1 6-5 6 1 6 3 6-1 6-2 6 1 8-1"/>
<path d="M30 2577l6-3 6-7 6 5 6 0 6-5 6 6 6 2 6-5 6 4 6 2 6-6 6 2 6 2 6-5 6 1 6 5 6-5 6 1 6 6 6-5 6-3 6 3 6-6 6-6 6-3 6-16 6-20 6-17 6-34 6-41 6-37 6-44 6-42 6-27 6-22 6-12 6 18 6 35 6 44 6 61 6 53 6 37 6 36 6 24 6 10 6 12 6 8 6 0 6 10 6 12 6 5 6 9 6 12 6-1 6 2 6 7 6-5 6-6 6 1 6-8 6-9 6-1 6-8 6-8 6-2 6-8 6-4 6 3 6-9 6-5 6 10 6-9 6-10 6 15 6-8 6-18 6 24 6 3 6-29 6 21 6 18 6-35 6 7 6 31 6-26 6-10 6 28 6-13 6-17 6 20 6-2 6-14 6 13 6 3 6-9 6 5 6 2 6-6 6 4 6 0 6-3 6 7 6 0 6-5 8 5"/>
<path d="M30 2563l6 10 6-4 6-11 6 15 6 12 6-22 6-7 6 28 6 4 6-28 6-2 6 25 6-6 6-20 6 8 6 10 6-10 6-3 6 2 6-1 6-2 6-9 6-11 6-13 6-24 6-30 6-35 6-43 6-38 6-33 6-25 6-5 6 10 6 24 6 39 6 39 6 39 6 38 6 25 6 19 6 16 6 9 6 7 6 7 6 4 6 8 6 5 6 2 6 6 6 2 6 0 6 3 6-4 6-5 6-1 6-5 6-1 6-1 6-8 6-4 6 0 6-7 6-8 6 7 6 6 6-23 6 2 6 30 6-23 6-21 6 30 6 0 6-21 6 11 6 5 6-11 6 0 6 3 6-1 6 2 6-1 6-1 6 3 6-2 6 1 6 5 6 0 6 1 6 0 6-4 6 0 6 0 6 0 6 3 6-2 6-2 6 3 6 0 6 1 6 1 6-6 6-1 6 0 6-1 8 4"/>
<path d="M30 2566l6 6 6 2 6-5 6-1 6 5 6-2 6-7 6 1 6 9 6-2 6-8 6 6 6 13 6-7 6-16 6 9 6 17 6-8 6-15 6 8 6 11 6-12 6-14 6 5 6 3 6-17 6-23 6-14 6-16 6-25 6-27 6-18 6-13 6-6 6-2 6 9 6 26 6 30 6 17 6 15 6 24 6 3 6-30 6-10 6 19 6 9 6 17 6 49 6 23 6-15 6 14 6 28 6-17 6-16 6 21 6-4 6-27 6 11 6 15 6-24 6-10 6 17 6-11 6-18 6 10 6 5 6-19 6-3 6 14 6-5 6-12 6 5 6 9 6-3 6-5 6 2 6 2 6-3 6-3 6 3 6 4 6-1 6-3 6 1 6 3 6-1 6-3 6 1 6 5 6-2 6-4 6 1 6 1 6-3 6-3 6 4 6 3 6-2 6-3 6 2 6 2 6-2 6-2 6 3 8 2"/>
<path d="M30 2569l6 0 6 2 6-2 6-1 6 1 6-1 6 2 6-2 6-1 6 0 6 0 6 3 6 0 6 0 6 2 6 0 6 2 6 0 6-3 6 0 6-4 6-2 6-5 6-7 6-5 6-12 6-16 6-19 6-21 6-15 6-18 6-12 6-1 6 3 6 11 6 13 6 16 6 20 6 17 6 19 6 15 6 11 6 12 6 13 6 13 6 6 6 7 6 6 6-6 6 5 6 10 6-13 6-9 6 11 6-6 6-24 6 7 6 15 6-27 6-8 6 27 6-18 6-27 6 26 6 9 6-31 6 7 6 22 6-15 6-13 6 15 6 13 6-23 6-1 6 27 6-31 6 3 6 28 6-34 6 20 6 2 6-23 6 34 6-24 6-1 6 26 6-35 6 18 6 8 6-21 6 22 6-7 6-5 6 12 6-11 6 2 6 2 6-6 6 5 6-2 6-1 6 3 6-4 6 1 8 0"/>
</g>
<g stroke="#1a1a1a" stroke-width="2.8">
<path d="M30 2564l8 0 8 1 8 0 8 1 8 1 8 0 8 0 8 0 8 0 8-2 8-3 8-6 8-10 8-13 8-18 8-20 8-21 8-18 8-11 8-1 8 7 8 15 8 19 8 21 8 20 8 17 8 15 8 13 8 10 8 8 8 6 8 4 8 2 8 0 8 0 8-1 8-1 8-1 8-3 8-3 8-2 8-1 8-1 8 0 8-1 8 0 8 0 8 0 8 1 8-1 8-1 8-2 8 0 8 1 8 1 8 1 8 0 8 1 8 0 8-1 8 0 8 0 8 0 8 1 8 1 8 1 8-1 8-1 8-2 8 0 8 0 8 1 8 0 8-1 8 0 8 0 8 1 8 1 8 1"/>
<path d="M30 2566l8 0 8 1 8 1 8 2 8 0 8 0 8-1 8 0 8-1 8-1 8-1 8-1 8-3 8-5 8-8 8-9 8-12 8-11 8-10 8-6 8-1 8 7 8 11 8 12 8 12 8 10 8 10 8 9 8 9 8 9 8 9 8 7 8 4 8 1 8-1 8-1 8-3 8-3 8-3 8-2 8-2 8-2 8-2 8-3 8-1 8 0 8-1 8-2 8-2 8 0 8 1 8 1 8 1 8 0 8 1 8 0 8 0 8 0 8 0 8 0 8 0 8 0 8 0 8-1 8-3 8-2 8-1 8 1 8 1 8 2 8 0 8 0 8 0 8 0 8 1 8 2 8 0 8-1 8-1"/>
</g>
<g stroke="#dc1812" stroke-width="3">
<path d="M30 2566l6 0 6 4 6-1 6-6 6 2 6 5 6-3 6-3 6 5 6 1 6-5 6 1 6 6 6-2 6-5 6 3 6 3 6-4 6-2 6 5 6 0 6-6 6-2 6-2 6-13 6-18 6-19 6-28 6-42 6-42 6-36 6-36 6-28 6-6 6 9 6 12 6 25 6 40 6 41 6 36 6 40 6 38 6 22 6 16 6 24 6 19 6 5 6 5 6 9 6 1 6-4 6 1 6-2 6-11 6-8 6-1 6-7 6-13 6-4 6 1 6-9 6-7 6 2 6 0 6-7 6-1 6 5 6-5 6-5 6 2 6 1 6 3 6-2 6-5 6 7 6-4 6-11 6 19 6 2 6-23 6 21 6 8 6-33 6 18 6 17 6-32 6 15 6 16 6-27 6 14 6 10 6-24 6 13 6 7 6-21 6 12 6 8 6-16 6 10 6 10 6-14 6 2 6 8 6-7 8-3"/>
<path d="M30 2579l6-14 6 1 6 15 6-13 6-8 6 21 6-4 6-17 6 14 6 5 6-15 6 4 6 8 6-7 6-1 6 4 6-3 6-2 6 1 6 1 6 1 6-5 6-6 6 1 6-6 6-17 6-18 6-22 6-38 6-42 6-35 6-35 6-30 6-8 6 11 6 23 6 37 6 49 6 40 6 30 6 31 6 25 6 11 6 9 6 12 6 4 6 0 6 9 6 6 6-6 6-4 6 4 6-3 6-6 6 0 6-2 6-10 6-4 6 1 6-6 6-8 6 2 6 0 6-7 6 0 6 5 6-3 6-6 6 3 6 1 6-5 6 0 6 5 6-3 6-3 6 5 6 1 6-5 6 0 6 5 6-1 6-2 6 5 6-1 6-6 6 2 6 6 6-5 6-3 6 6 6-1 6-8 6 4 6 5 6-5 6 1 6 15 6-11 6-22 6 29 6 13 6-48 6 8 6 47 8-40"/>
<path d="M30 2579l6-10 6 6 6 5 6-14 6 16 6-7 6-3 6 21 6-23 6 10 6 9 6-25 6 27 6-6 6-15 6 23 6-19 6 2 6 10 6-16 6 5 6-4 6-13 6-6 6-14 6-17 6-26 6-27 6-30 6-38 6-28 6-32 6-25 6-4 6-3 6 11 6 29 6 24 6 38 6 40 6 25 6 33 6 28 6 13 6 20 6 11 6 8 6 11 6 14 6 15 6-11 6 14 6 29 6-37 6 2 6 34 6-39 6-12 6 22 6-21 6-14 6 8 6-11 6-9 6 5 6-10 6-5 6 4 6-9 6 1 6 5 6-8 6 3 6 3 6-6 6 6 6-1 6-5 6 9 6-3 6-3 6 4 6-7 6 0 6 6 6-6 6 4 6 3 6-6 6 5 6 1 6-6 6 9 6-3 6-5 6 7 6-4 6-3 6 5 6-5 6 1 6 4 6-9 6 5 8-1"/>
<path d="M30 2565l6-5 6 2 6 2 6-4 6 2 6 4 6-3 6 0 6 5 6-4 6-3 6 4 6 1 6-3 6 2 6 0 6-5 6-1 6 3 6-5 6-6 6-4 6-12 6-17 6-15 6-22 6-29 6-25 6-22 6-24 6-14 6-2 6 3 6 14 6 27 6 31 6 30 6 33 6 27 6 17 6 17 6 15 6 6 6 7 6 12 6 5 6 2 6 8 6 4 6-3 6-1 6-3 6-7 6-3 6-2 6-11 6-15 6-13 6-16 6-9 6 9 6 12 6 2 6 2 6 3 6-5 6-3 6 3 6 0 6-3 6 2 6 1 6-4 6 1 6 3 6-2 6 0 6 4 6-2 6-3 6 3 6 1 6-4 6 2 6 0 6-4 6-1 6 4 6-2 6-2 6 5 6 1 6-4 6 1 6 2 6 0 6 3 6 1 6-4 6-2 6 2 6-3 6-2 6 4 8 1"/>
</g></g>
<g transform="scale(.25)" fill="none" stroke-linejoin="round">
<g stroke="#1a1a1a" stroke-width="2.8">
<path d="M878 1664l8 0 8-1 8 1 8 1 8 1 8 0 8-1 8 1 8-1 8-2 8-5 8-10 8-18 8-27 8-41 8-52 8-62 8-66 8-58 8-39 8-12 8 22 8 54 8 71 8 75 8 66 8 52 8 38 8 27 8 20 8 15 8 12 8 8 8 4 8 1 8-1 8-2 8-3 8-4 8-5 8-6 8-6 8-4 8-4 8-2 8-2 8-2 8-1 8-2 8-1 8 0 8 0 8 1 8 0 8 0 8 0 8 0 8-1 8 1 8 1 8 0 8 1 8 0 8 0 8 0 8 0 8 0 8-1 8 0 8 0 8 1 8 1 8 0 8-1 8 0 8-1 8-1 8 0 10 0"/>
<path d="M878 1662l8 0 8 0 8 0 8 2 8 1 8 0 8 0 8 0 8-1 8-2 8-3 8-4 8-8 8-13 8-18 8-24 8-29 8-30 8-27 8-19 8-8 8 8 8 24 8 35 8 37 8 34 8 25 8 18 8 14 8 12 8 14 8 15 8 15 8 14 8 10 8 5 8-1 8-5 8-7 8-8 8-8 8-7 8-8 8-8 8-8 8-6 8-6 8-4 8-2 8-2 8 0 8 0 8 0 8-2 8-1 8 0 8 1 8-1 8 0 8 0 8 1 8 0 8 0 8-1 8-1 8 0 8 1 8 0 8-1 8-1 8-1 8 0 8 0 8 0 8 2 8 1 8 1 8 1 10 0"/>
<path d="M878 1666l8 0 8 0 8 1 8 0 8 0 8 0 8 1 8 1 8 0 8-1 8-3 8-5 8-9 8-14 8-23 8-30 8-37 8-38 8-34 8-21 8-4 8 15 8 30 8 40 8 43 8 42 8 36 8 30 8 24 8 19 8 15 8 12 8 6 8 0 8-4 8-6 8-7 8-8 8-9 8-8 8-7 8-6 8-6 8-4 8-4 8-3 8-1 8-1 8-1 8-1 8 0 8-1 8 0 8 0 8-1 8 0 8-1 8-1 8 0 8 1 8 1 8 0 8 1 8-1 8-1 8 0 8 0 8 1 8 1 8 0 8 1 8 1 8-1 8-1 8-1 8-1 8 0 8 0 10-1"/>
<path d="M878 1666l8-2 8 0 8 1 8 1 8-1 8-2 8-1 8-1 8-2 8-4 8-6 8-10 8-13 8-18 8-22 8-26 8-28 8-27 8-22 8-13 8 0 8 14 8 27 8 34 8 35 8 31 8 26 8 19 8 15 8 13 8 11 8 11 8 9 8 7 8 4 8 1 8-1 8-3 8-4 8-6 8-6 8-5 8-5 8-4 8-1 8-2 8-1 8-2 8-2 8-2 8-1 8 0 8 0 8 0 8-1 8 0 8-1 8 0 8-1 8 1 8 0 8 2 8 1 8 1 8 0 8-1 8-2 8 0 8 0 8 0 8 0 8 1 8 1 8 0 8-1 8-1 8 0 8 0 10 2"/>
<path d="M878 1666l8-1 8 0 8-1 8-1 8 0 8 0 8-1 8-1 8-2 8-5 8-10 8-14 8-22 8-31 8-41 8-49 8-53 8-50 8-37 8-18 8 9 8 41 8 63 8 67 8 61 8 46 8 32 8 23 8 17 8 15 8 16 8 15 8 12 8 9 8 3 8 1 8-1 8-4 8-6 8-6 8-6 8-6 8-6 8-5 8-3 8-3 8-1 8-2 8-3 8-2 8-2 8 0 8 0 8 0 8 1 8 1 8 0 8-1 8-1 8 0 8 1 8 0 8-1 8 0 8-1 8 1 8 1 8 0 8-1 8-1 8 0 8 1 8 0 8 0 8 0 8 0 8 0 8 0 10 1"/>
<path d="M878 1661l8-1 8 0 8-1 8 0 8-1 8 0 8 1 8 1 8 1 8-2 8-4 8-8 8-12 8-18 8-24 8-30 8-35 8-37 8-35 8-29 8-19 8-4 8 14 8 31 8 42 8 45 8 42 8 36 8 29 8 22 8 18 8 15 8 14 8 11 8 8 8 3 8 0 8-3 8-3 8-5 8-5 8-5 8-7 8-6 8-6 8-4 8-3 8-2 8-2 8-2 8-1 8 0 8 1 8 0 8-1 8 0 8 0 8 0 8 0 8 1 8 0 8 0 8-1 8-2 8-1 8-1 8 0 8 1 8 2 8 1 8 1 8 0 8 0 8-1 8-1 8-1 8 0 8 0 10 1"/>
<path d="M878 1661l8 0 8 1 8 0 8 0 8 0 8 0 8 0 8 0 8-1 8-3 8-6 8-12 8-18 8-27 8-38 8-49 8-56 8-55 8-47 8-29 8-4 8 22 8 44 8 57 8 60 8 56 8 47 8 38 8 29 8 22 8 18 8 12 8 8 8 3 8 0 8-1 8-3 8-3 8-4 8-7 8-7 8-7 8-6 8-5 8-3 8-2 8-1 8-1 8-1 8-2 8-1 8-1 8 0 8 0 8 0 8 1 8 1 8 1 8 2 8 0 8 1 8 0 8 0 8-1 8-1 8-2 8 1 8 0 8 0 8-1 8-1 8 0 8 0 8 0 8 1 8 1 8 0 8 0 10 2"/>
<path d="M878 1665l8 1 8-1 8 1 8 0 8 0 8 1 8-1 8-1 8-1 8-1 8-2 8-5 8-9 8-14 8-20 8-29 8-37 8-41 8-37 8-28 8-12 8 9 8 30 8 45 8 50 8 47 8 39 8 29 8 22 8 19 8 16 8 13 8 7 8 2 8-2 8-3 8-5 8-7 8-9 8-9 8-10 8-9 8-7 8-6 8-5 8-4 8-3 8-2 8-1 8 0 8-1 8 1 8 1 8 0 8 0 8-2 8-1 8-1 8 0 8 0 8-1 8-2 8 0 8 1 8 1 8 1 8 0 8-1 8 0 8 0 8 1 8 1 8 0 8 1 8 0 8 1 8 0 8-1 10 0"/>
<path d="M878 1664l8 0 8-1 8-1 8 1 8 1 8 0 8-1 8 0 8 1 8-2 8-5 8-12 8-19 8-28 8-37 8-42 8-44 8-38 8-23 8-1 8 23 8 42 8 51 8 51 8 43 8 33 8 25 8 20 8 17 8 13 8 9 8 4 8 0 8-2 8-5 8-6 8-6 8-7 8-7 8-7 8-6 8-6 8-5 8-3 8-2 8 0 8-1 8-1 8-2 8-1 8 0 8 1 8 1 8 1 8 0 8 0 8-1 8-1 8 0 8 1 8 0 8 0 8 0 8-1 8 0 8 1 8 0 8 0 8-1 8 0 8-1 8 0 8 1 8 0 8 2 8 0 8-1 8-1 10-1"/>
<path d="M878 1663l8-1 8 0 8 1 8 0 8 1 8 0 8-2 8-2 8-3 8-5 8-8 8-13 8-17 8-21 8-26 8-27 8-26 8-23 8-17 8-5 8 9 8 23 8 31 8 35 8 34 8 31 8 28 8 24 8 21 8 18 8 13 8 9 8 2 8-1 8-4 8-5 8-6 8-7 8-8 8-9 8-8 8-8 8-6 8-4 8-2 8-3 8-2 8-2 8 0 8-1 8 0 8-1 8-1 8-1 8 1 8 1 8 0 8 1 8 1 8 0 8 1 8 0 8 0 8 0 8 0 8-2 8-1 8-1 8 0 8 1 8 1 8 0 8 0 8-1 8-1 8 0 8 1 8 1 10-1"/>
<path d="M878 1663l8-1 8 0 8 0 8-1 8 0 8 0 8-1 8 1 8-1 8-3 8-7 8-14 8-20 8-29 8-39 8-48 8-54 8-55 8-48 8-36 8-17 8 12 8 43 8 65 8 71 8 67 8 56 8 43 8 33 8 26 8 22 8 19 8 12 8 7 8-1 8-3 8-5 8-6 8-7 8-9 8-7 8-8 8-6 8-6 8-5 8-3 8-3 8-2 8-2 8-1 8-2 8-1 8-1 8 0 8 0 8 1 8 0 8 1 8 1 8 0 8 0 8-1 8 1 8 1 8 1 8 1 8 0 8-1 8-1 8 0 8-2 8-1 8-1 8-1 8 0 8 0 8 0 8 1 10 1"/>
<path d="M878 1665l8 2 8 1 8 0 8-1 8-1 8-2 8-1 8-1 8-2 8-4 8-8 8-13 8-20 8-29 8-40 8-48 8-53 8-52 8-45 8-30 8-9 8 23 8 51 8 67 8 71 8 63 8 52 8 39 8 28 8 20 8 14 8 9 8 5 8 1 8-1 8-5 8-6 8-8 8-7 8-8 8-7 8-8 8-5 8-3 8-2 8-2 8-3 8-2 8-2 8-2 8-1 8 0 8 0 8 1 8 0 8 0 8 0 8-1 8-1 8-1 8 1 8 1 8 1 8 1 8 0 8 1 8 1 8 0 8 0 8-1 8-2 8-2 8-1 8 0 8 1 8 0 8 1 8 1 10 1"/>
<path d="M878 1659l8 1 8 0 8 0 8 0 8-1 8 0 8-1 8-2 8-2 8-4 8-7 8-10 8-16 8-22 8-28 8-30 8-31 8-26 8-18 8-7 8 9 8 29 8 40 8 42 8 38 8 31 8 25 8 20 8 17 8 14 8 11 8 8 8 4 8-1 8-3 8-4 8-5 8-6 8-8 8-8 8-7 8-6 8-5 8-5 8-4 8-3 8-3 8-1 8 0 8-1 8-1 8 0 8 0 8 1 8 1 8-1 8 0 8 0 8 0 8 0 8-1 8-1 8 0 8-1 8 0 8 0 8 1 8 0 8 0 8 0 8 1 8-1 8 0 8 1 8 1 8 1 8-1 8-1 10 0"/>
<path d="M878 1665l8 0 8 0 8 1 8 2 8 0 8-1 8-2 8 0 8-1 8-1 8-3 8-7 8-12 8-16 8-23 8-28 8-33 8-31 8-25 8-13 8 2 8 17 8 29 8 33 8 32 8 28 8 24 8 20 8 17 8 13 8 12 8 11 8 9 8 6 8 2 8-1 8-3 8-2 8-3 8-3 8-2 8-4 8-3 8-3 8-2 8-2 8-2 8-2 8-1 8-2 8-1 8-1 8 0 8 1 8 1 8 1 8 1 8 0 8 0 8 1 8 2 8 1 8 0 8-1 8-2 8-2 8 0 8 1 8 1 8 0 8 0 8 0 8 0 8 0 8-1 8-1 8 0 8 0 10 1"/>
<path d="M878 1663l8 1 8 0 8 0 8 0 8 0 8 0 8-1 8-1 8-2 8-3 8-6 8-10 8-15 8-23 8-29 8-37 8-41 8-40 8-32 8-19 8-2 8 24 8 46 8 54 8 51 8 39 8 27 8 17 8 11 8 10 8 9 8 10 8 10 8 9 8 7 8 3 8-1 8-2 8-3 8-3 8-4 8-4 8-4 8-4 8-5 8-4 8-2 8-1 8-2 8-1 8-2 8-1 8 0 8 0 8 1 8 0 8 0 8-1 8-1 8-1 8 0 8 1 8 1 8 1 8 0 8 1 8 0 8-1 8 0 8-1 8-1 8 0 8 0 8 1 8 0 8 1 8 0 8 0 10-1"/>
<path d="M878 1663l8 0 8-1 8 0 8 0 8 0 8 0 8 0 8-1 8 0 8-1 8-3 8-6 8-13 8-21 8-33 8-44 8-53 8-58 8-54 8-38 8-15 8 15 8 45 8 64 8 66 8 59 8 46 8 34 8 25 8 21 8 18 8 17 8 15 8 11 8 7 8 1 8-2 8-4 8-6 8-7 8-7 8-7 8-8 8-6 8-5 8-4 8-5 8-3 8-2 8-1 8-1 8 0 8 0 8 0 8-1 8 1 8 1 8 0 8 0 8 0 8 0 8 1 8 0 8-1 8-2 8-1 8-1 8 1 8 0 8-1 8 0 8 0 8 0 8 0 8 1 8 0 8 0 8 0 10-1"/>
<path d="M878 1662l8 1 8 0 8 0 8 0 8 0 8 0 8-2 8-3 8-6 8-9 8-13 8-21 8-28 8-35 8-41 8-44 8-43 8-36 8-24 8-8 8 17 8 44 8 59 8 60 8 52 8 40 8 27 8 19 8 16 8 15 8 13 8 13 8 11 8 9 8 3 8-1 8-2 8-4 8-5 8-6 8-5 8-6 8-6 8-5 8-5 8-2 8-2 8-1 8-2 8-1 8-1 8 0 8 0 8 0 8 1 8 0 8 0 8 1 8 1 8 0 8-1 8-1 8-1 8 0 8 0 8 1 8 0 8 1 8 1 8 1 8 0 8-1 8-2 8 0 8 1 8 0 8 0 8-1 10 0"/>
<path d="M878 1663l8-1 8-1 8 0 8 0 8 0 8-1 8-2 8-1 8 0 8-1 8-2 8-6 8-13 8-23 8-34 8-46 8-56 8-61 8-58 8-45 8-24 8 6 8 43 8 67 8 75 8 67 8 52 8 35 8 24 8 17 8 15 8 13 8 13 8 12 8 10 8 6 8 1 8-2 8-3 8-4 8-5 8-6 8-8 8-7 8-5 8-3 8-2 8-2 8-3 8-1 8-2 8-1 8-2 8-1 8 0 8 0 8 0 8 0 8 0 8 1 8 0 8 0 8-1 8-1 8 1 8 0 8 1 8-1 8 0 8 0 8 0 8 0 8 0 8-1 8-1 8 0 8 0 8 1 10 0"/>
<path d="M878 1660l8 1 8 1 8 0 8 0 8 0 8 0 8-1 8-1 8-3 8-6 8-10 8-15 8-19 8-26 8-31 8-37 8-37 8-31 8-20 8-5 8 13 8 28 8 38 8 41 8 38 8 33 8 29 8 23 8 21 8 17 8 16 8 14 8 10 8 5 8 1 8-2 8-3 8-5 8-7 8-8 8-7 8-8 8-7 8-5 8-4 8-4 8-2 8-1 8-1 8 0 8-1 8-1 8 0 8 0 8 0 8 0 8 0 8 0 8 0 8 1 8 1 8 1 8 1 8 0 8 0 8-2 8-1 8-1 8 0 8 0 8 0 8-1 8 0 8-1 8-1 8 0 8 2 8 1 10 2"/>
<path d="M878 1665l8 0 8-1 8 0 8-1 8-1 8 0 8-1 8 0 8-3 8-5 8-10 8-16 8-21 8-26 8-29 8-31 8-27 8-19 8-9 8 5 8 22 8 35 8 38 8 37 8 31 8 27 8 22 8 17 8 16 8 14 8 11 8 7 8 4 8 1 8-2 8-4 8-6 8-7 8-9 8-7 8-7 8-4 8-5 8-3 8-4 8-2 8-2 8-2 8-2 8 0 8 1 8 0 8 0 8 0 8 1 8 1 8 2 8 1 8 0 8 0 8-2 8-1 8-1 8-1 8 0 8 0 8-1 8 0 8-1 8 0 8 1 8 2 8 2 8 0 8-1 8-1 8-1 8 0 10 0"/>
<path d="M878 1664l8-1 8 0 8-1 8 0 8 0 8 0 8 1 8 0 8 0 8 0 8-2 8-6 8-11 8-18 8-26 8-37 8-44 8-47 8-41 8-27 8-6 8 17 8 38 8 48 8 50 8 44 8 36 8 28 8 21 8 16 8 13 8 10 8 6 8 2 8-1 8-2 8-2 8-4 8-5 8-6 8-4 8-5 8-5 8-4 8-4 8-4 8-2 8-1 8 0 8 0 8 0 8-1 8 0 8 0 8 0 8-1 8 0 8-1 8-1 8 0 8 0 8 1 8 0 8 0 8 0 8 1 8 0 8 0 8 0 8 0 8 0 8 0 8 0 8 1 8 0 8 0 8 0 8 0 10 0"/>
<path d="M878 1667l8-1 8 0 8 0 8 0 8-1 8 0 8-1 8-1 8 0 8-1 8-3 8-7 8-12 8-18 8-23 8-29 8-31 8-31 8-28 8-18 8-5 8 11 8 24 8 33 8 35 8 35 8 31 8 25 8 21 8 17 8 16 8 16 8 15 8 12 8 8 8 1 8-2 8-5 8-6 8-7 8-7 8-6 8-5 8-7 8-6 8-5 8-4 8-3 8-2 8-1 8-1 8-1 8-1 8 0 8 1 8 1 8 1 8-1 8 0 8-1 8 0 8 0 8 0 8 0 8 0 8 2 8 1 8-1 8-2 8-3 8-1 8 0 8 1 8 1 8 2 8 0 8 0 8 0 10 0"/>
<path d="M878 1669l8-1 8-1 8-1 8-1 8-1 8 0 8 0 8 1 8 1 8 0 8-1 8-4 8-6 8-10 8-16 8-25 8-36 8-47 8-53 8-53 8-42 8-21 8 4 8 32 8 52 8 59 8 56 8 46 8 34 8 24 8 18 8 14 8 12 8 11 8 9 8 7 8 2 8 0 8 0 8-2 8-3 8-2 8-3 8-3 8-4 8-4 8-2 8-1 8 0 8-2 8-2 8-1 8 0 8 0 8 0 8 0 8 0 8 1 8-1 8 0 8 0 8 1 8 0 8 0 8-1 8 0 8 0 8 1 8 1 8 0 8-1 8 0 8 0 8 0 8-1 8-1 8 0 8 1 10 1"/>
<path d="M878 1662l8 0 8 0 8 0 8 1 8 0 8-1 8 0 8-2 8-4 8-6 8-10 8-15 8-21 8-27 8-34 8-39 8-39 8-33 8-22 8-7 8 12 8 30 8 42 8 47 8 44 8 38 8 31 8 25 8 21 8 19 8 18 8 16 8 11 8 5 8 0 8-3 8-5 8-7 8-8 8-8 8-8 8-7 8-5 8-5 8-4 8-4 8-2 8-2 8 0 8-1 8-1 8 0 8 0 8 0 8 0 8 0 8 0 8-2 8-1 8-1 8 1 8 1 8 1 8 1 8 0 8 0 8-1 8-1 8 0 8 0 8 0 8 1 8 0 8 1 8-1 8-1 8-1 8-1 10 0"/>
<path d="M878 1664l8 1 8 0 8 0 8-1 8 0 8 0 8 0 8 0 8-2 8-6 8-12 8-21 8-33 8-46 8-59 8-65 8-61 8-45 8-19 8 12 8 41 8 59 8 67 8 63 8 53 8 42 8 32 8 24 8 20 8 15 8 10 8 5 8 0 8 0 8-1 8-2 8-3 8-5 8-4 8-3 8-2 8-2 8 0 8-1 8-2 8-3 8-2 8-1 8 0 8 1 8 1 8 1 8-1 8-1 8-1 8 0 8 0 8 0 8 0 8 1 8 0 8 0 8-2 8 0 8-1 8 0 8 0 8 1 8 0 8 0 8-1 8 0 8 1 8 1 8 0 8 0 8-1 8 0 10 0"/>
<path d="M878 1660l8-1 8 1 8 1 8 2 8 0 8 0 8-1 8-1 8-1 8-2 8-4 8-6 8-11 8-19 8-29 8-38 8-45 8-46 8-40 8-26 8-8 8 19 8 40 8 53 8 53 8 44 8 34 8 25 8 19 8 15 8 13 8 11 8 8 8 6 8 2 8-2 8-2 8-4 8-5 8-6 8-6 8-6 8-4 8-3 8-2 8-2 8-2 8-4 8-2 8-1 8 0 8 1 8-1 8-2 8-2 8-1 8-1 8-1 8 0 8 0 8 1 8 2 8 0 8 0 8 0 8 1 8 1 8 0 8 1 8 1 8 0 8 0 8 0 8 0 8-1 8 1 8 0 8 1 10-1"/>
<path d="M878 1663l8 0 8 0 8-1 8 0 8 0 8 0 8 0 8 0 8-2 8-4 8-8 8-12 8-19 8-26 8-38 8-46 8-52 8-51 8-42 8-27 8-8 8 23 8 52 8 67 8 67 8 57 8 42 8 31 8 24 8 21 8 18 8 17 8 14 8 8 8 2 8-1 8-4 8-6 8-9 8-9 8-9 8-9 8-9 8-6 8-6 8-4 8-4 8-4 8-3 8-2 8-1 8-1 8-1 8 0 8-1 8 0 8 0 8 1 8 2 8 1 8 2 8 1 8 0 8-1 8-1 8 0 8 0 8-1 8 1 8 0 8 0 8 0 8-1 8-1 8 0 8 0 8 1 8 0 10 0"/>
<path d="M878 1661l8 0 8 1 8 1 8 2 8 0 8 0 8-1 8 0 8-2 8-5 8-8 8-10 8-15 8-18 8-23 8-26 8-28 8-26 8-18 8-9 8 4 8 21 8 33 8 39 8 36 8 30 8 24 8 19 8 16 8 13 8 13 8 11 8 8 8 2 8-2 8-3 8-4 8-5 8-6 8-6 8-7 8-5 8-4 8-3 8-3 8-3 8-2 8-2 8-1 8 0 8-1 8 0 8 0 8 0 8 0 8 0 8-1 8 0 8 0 8-1 8 0 8 1 8 0 8 0 8 0 8 1 8-1 8-2 8-2 8-1 8 1 8 1 8 0 8 1 8 1 8 0 8 0 8 1 10 1"/>
<path d="M878 1665l8 0 8 0 8 0 8 0 8 1 8 0 8 0 8 0 8-1 8-2 8-4 8-10 8-17 8-25 8-35 8-43 8-49 8-45 8-34 8-16 8 7 8 28 8 42 8 49 8 48 8 43 8 34 8 29 8 24 8 20 8 17 8 13 8 7 8 3 8-2 8-2 8-3 8-3 8-4 8-4 8-4 8-6 8-4 8-3 8-2 8-1 8-1 8-2 8-2 8-2 8 0 8 0 8 1 8 2 8 0 8 0 8-1 8-1 8 1 8 1 8 0 8 0 8-1 8 0 8-1 8 0 8-1 8 0 8 1 8 0 8 0 8 0 8 0 8 1 8 1 8 0 8 0 8 1 10 0"/>
<path d="M878 1664l8 1 8 0 8 0 8-1 8 0 8 1 8 1 8-1 8-2 8-4 8-6 8-8 8-12 8-18 8-25 8-33 8-37 8-38 8-32 8-24 8-10 8 7 8 29 8 45 8 49 8 44 8 33 8 25 8 17 8 14 8 12 8 12 8 12 8 11 8 7 8 4 8-1 8-2 8-3 8-5 8-6 8-8 8-7 8-8 8-6 8-6 8-5 8-3 8-2 8 0 8-1 8-1 8-1 8 1 8-1 8 0 8-1 8-1 8 1 8 1 8 1 8-1 8 0 8-1 8-1 8 0 8 1 8 1 8 0 8 0 8 1 8 0 8 0 8 0 8 0 8-1 8-1 8-1 10 1"/>
<path d="M878 1667l8 0 8 0 8-1 8-1 8-1 8-1 8-1 8-2 8-4 8-10 8-15 8-24 8-32 8-40 8-46 8-45 8-37 8-23 8-5 8 18 8 38 8 49 8 52 8 48 8 40 8 31 8 24 8 21 8 18 8 14 8 11 8 5 8 2 8 0 8-1 8-3 8-6 8-6 8-8 8-6 8-6 8-5 8-4 8-4 8-2 8-2 8-1 8-2 8-1 8-1 8-1 8 1 8 1 8 1 8 0 8 0 8 1 8 0 8 0 8-1 8 0 8 0 8-1 8-2 8-1 8-1 8 0 8-1 8 0 8 1 8 1 8 1 8 0 8 0 8 1 8 0 8-1 8-1 10 0"/>
<path d="M878 1668l8 0 8-1 8 0 8 1 8 0 8 0 8-1 8-2 8-1 8-3 8-5 8-7 8-11 8-16 8-22 8-27 8-29 8-27 8-22 8-12 8 0 8 15 8 26 8 34 8 35 8 32 8 27 8 23 8 18 8 17 8 15 8 11 8 6 8 2 8 0 8-1 8-4 8-5 8-6 8-6 8-4 8-4 8-4 8-3 8-2 8-2 8-2 8-1 8 0 8 0 8 0 8 0 8 1 8 1 8 1 8 0 8 0 8-1 8 0 8 0 8 0 8 0 8 1 8-1 8 0 8 0 8 1 8 1 8 0 8-1 8-1 8-1 8 0 8 0 8 0 8 0 8 0 8 0 10 0"/>
<path d="M878 1665l8 0 8-1 8 0 8 0 8 2 8 0 8-1 8-1 8-1 8-2 8-4 8-8 8-12 8-18 8-25 8-30 8-34 8-33 8-27 8-17 8-5 8 9 8 24 8 34 8 38 8 36 8 32 8 26 8 23 8 20 8 16 8 13 8 10 8 5 8 3 8-1 8-2 8-4 8-6 8-6 8-7 8-6 8-6 8-6 8-4 8-4 8-3 8-2 8-1 8 0 8 0 8 0 8-1 8-1 8 0 8 0 8-1 8 0 8 0 8-1 8 0 8 1 8 2 8 2 8 0 8 0 8-1 8-1 8-1 8-2 8-1 8 1 8 2 8 1 8 1 8-2 8-1 8-1 10 0"/>
<path d="M878 1662l8 0 8 1 8 1 8 0 8-1 8 0 8 1 8 0 8 0 8-2 8-5 8-8 8-14 8-21 8-28 8-38 8-46 8-50 8-47 8-41 8-28 8-12 8 16 8 50 8 68 8 70 8 58 8 42 8 28 8 19 8 14 8 14 8 15 8 13 8 11 8 8 8 3 8-1 8-3 8-5 8-6 8-7 8-7 8-6 8-5 8-3 8-4 8-5 8-4 8-3 8-1 8-1 8 0 8 1 8 1 8 1 8-1 8 0 8 0 8 1 8 0 8 0 8 0 8-1 8-1 8-2 8-1 8 0 8 0 8 0 8 0 8-1 8 0 8 0 8 1 8 1 8 1 8 1 10 0"/>
</g>
<g stroke="#199bd1" stroke-width="3">
<path d="M878 1670l6-1 6-11 6 10 6-12 6-4 6 12 6-12 6 3 6 1 6-15 6 2 6-1 6-14 6-8 6-9 6-9 6-12 6-25 6-4 6-3 6-33 6-12 6 8 6-9 6-18 6-1 6 22 6-4 6-21 6 24 6 23 6-10 6 2 6 18 6 16 6 2 6 4 6 27 6 12 6 6 6 22 6 12 6 10 6 9 6 4 6 11 6 0 6-9 6-29 6-94 6-127 6-87 6 18 6 118 6 110 6 61 6 28 6 1 6 2 6 1 6-6 6 1 6-5 6-2 6 6 6-5 6 4 6 1 6-6 6 6 6-2 6-3 6 3 6-3 6 5 6 1 6-6 6 6 6-2 6-2 6 3 6-8 6 3 6 3 6-1 6 4 6-4 6-1 6 4 6-7 6 2 6 2 6-2 6 7 6-3 6-2 6 3 6-5 6 4 6-1 6-3 6 7 6-5 6-2 10 1"/>
<path d="M878 1661l6 6 6 5 6-13 6 12 6 0 6-9 6 17 6-16 6 1 6 4 6-15 6 6 6-8 6-6 6-4 6-6 6-7 6-16 6-6 6-15 6-16 6-4 6-17 6-12 6-4 6-14 6-4 6 3 6-4 6 6 6 8 6-5 6 8 6 16 6 2 6 4 6-3 6-38 6-65 6-47 6 17 6 75 6 73 6 64 6 59 6 14 6-13 6 14 6 10 6-16 6-6 6 1 6-5 6-2 6-9 6-8 6 1 6-9 6-8 6 5 6-5 6-5 6 4 6-6 6-4 6 4 6-6 6 0 6 4 6-7 6 2 6 6 6-6 6 1 6 5 6-6 6 1 6-1 6-25 6-30 6-31 6-15 6 25 6 37 6 21 6 17 6 3 6-6 6 6 6 2 6-4 6 6 6-2 6-9 6 5 6 0 6-5 6 6 6-1 6-4 6 5 6-3 6 0 6 7 10-9"/>
<path d="M878 1680l6 0 6-26 6 1 6 21 6-12 6-24 6 5 6 9 6-19 6-17 6-1 6-12 6-24 6-12 6-9 6-20 6-16 6-6 6-12 6-15 6-4 6-3 6-10 6-1 6 8 6 0 6-3 6 10 6 12 6 3 6 8 6 18 6 12 6 8 6 13 6-1 6-52 6-92 6-80 6-11 6 81 6 131 6 102 6 42 6 13 6 13 6 4 6-9 6-3 6 2 6-10 6-12 6 0 6-3 6-12 6-3 6 4 6-3 6-6 6 4 6 2 6-9 6 2 6 8 6-4 6-9 6 3 6 5 6-7 6-2 6 9 6-4 6-6 6 7 6-4 6 5 6-3 6-6 6 11 6-29 6-19 6 11 6-18 6 14 6 28 6 2 6 0 6 4 6 4 6-4 6-3 6 10 6 3 6-6 6 2 6 6 6-7 6-7 6 5 6 2 6-8 6 0 6 7 6-2 10-2"/>
<path d="M878 1674l6-8 6 8 6-2 6-8 6 9 6-2 6-7 6 6 6-8 6-9 6 5 6-10 6-8 6 3 6-14 6-9 6-1 6-17 6-6 6 0 6-16 6-4 6 3 6-10 6 2 6 4 6-8 6 7 6 8 6-1 6 15 6 7 6-3 6 6 6-24 6-67 6-69 6-35 6 46 6 108 6 82 6 41 6 26 6-1 6-2 6 11 6-8 6-5 6 5 6-11 6-3 6 4 6-12 6-2 6 4 6-11 6-1 6 3 6-9 6 7 6 4 6-10 6 6 6 1 6-9 6 6 6-2 6-6 6 9 6-2 6-5 6 10 6-5 6-6 6 9 6-6 6-3 6 11 6-5 6-2 6 6 6-9 6 0 6 9 6-9 6-2 6 9 6-7 6 4 6 5 6-10 6 5 6 4 6-6 6 8 6 1 6-10 6 13 6-1 6-23 6 5 6-7 6-33 6 2 10 26"/>
<path d="M878 1663l6-1 6 1 6-2 6-1 6 0 6-2 6-3 6 3 6-8 6-19 6 9 6-4 6-36 6-1 6-1 6-36 6-9 6-2 6-20 6-13 6-7 6-10 6-9 6-4 6 0 6 2 6 3 6 4 6 7 6 8 6 9 6 13 6 16 6 16 6 15 6 17 6 19 6 15 6 8 6-13 6-63 6-116 6-85 6 39 6 129 6 109 6 49 6 10 6-1 6-5 6-5 6-4 6-2 6-3 6-5 6-7 6-16 6-33 6-37 6-27 6-3 6 36 6 44 6 9 6 10 6 18 6-11 6-3 6 19 6-8 6-9 6 14 6-6 6-10 6 9 6 0 6-8 6 4 6 3 6-1 6 3 6-1 6-4 6-1 6 0 6-1 6 0 6 0 6 1 6 0 6 1 6 2 6 3 6 0 6-3 6-2 6-1 6-1 6 0 6 0 6-1 6 0 6 1 6 1 10 0"/>
<path d="M878 1655l6 2 6 4 6-11 6 3 6 6 6-10 6 0 6 1 6-15 6-3 6-4 6-18 6-5 6-7 6-22 6-9 6-9 6-23 6-8 6-7 6-20 6-6 6-6 6-17 6 2 6 2 6-8 6 10 6 7 6-5 6 13 6 13 6 3 6 19 6 17 6 7 6 25 6 21 6 6 6 22 6 17 6 0 6-5 6-46 6-87 6-67 6-19 6 41 6 92 6 70 6 27 6 19 6 1 6-10 6 5 6-3 6-19 6-26 6-58 6-43 6 41 6 56 6 23 6 19 6 1 6-10 6 5 6-2 6-6 6 10 6 0 6-5 6 10 6-3 6-10 6 8 6-1 6-4 6 10 6-6 6-10 6 9 6 0 6-4 6 11 6-2 6-6 6 7 6-6 6-6 6 12 6-2 6-6 6 10 6-3 6-6 6 8 6-7 6-6 6 10 6-5 6-7 6 9 6-3 10 3"/>
</g>
<g stroke="#1a1a1a" stroke-width="2.8">
<path d="M878 1662l8 1 8 1 8 2 8 1 8 1 8-1 8-2 8-2 8-3 8-3 8-7 8-11 8-16 8-21 8-26 8-28 8-28 8-24 8-17 8-5 8 11 8 29 8 38 8 39 8 33 8 25 8 17 8 13 8 11 8 10 8 11 8 9 8 8 8 5 8 1 8-3 8-4 8-6 8-5 8-5 8-5 8-4 8-4 8-3 8-3 8-3 8-3 8-1 8-1 8-1 8 0 8-1 8-1 8-1 8 0 8-1 8 1 8 1 8 0 8 1 8 0 8 0 8 1 8 1 8 0 8-1 8 0 8 0 8 0 8 0 8 0 8 0 8 0 8 0 8 0 8 0 8 0 8 0 10-1"/>
</g>
<g stroke="#199bd1" stroke-width="3">
<path d="M878 1668l6 2 6-3 6 1 6-1 6-4 6 3 6-2 6-1 6 2 6-5 6-3 6-7 6-12 6-7 6-12 6-11 6-12 6-21 6-15 6-16 6-18 6-9 6-12 6-8 6-1 6-3 6 4 6 5 6 3 6 11 6 8 6 10 6 15 6 7 6 14 6 16 6 14 6 18 6 15 6 15 6 16 6 9 6 12 6 7 6 0 6 4 6-2 6-4 6-2 6-16 6-31 6-63 6-89 6-61 6 2 6 62 6 82 6 53 6 27 6 11 6-2 6 0 6-4 6-2 6 4 6-2 6 0 6 1 6-7 6-12 6-36 6-34 6 16 6 38 6 27 6 8 6-2 6 5 6 1 6-3 6 2 6-4 6 2 6 4 6-3 6 2 6-3 6-3 6 4 6-4 6-2 6 3 6 0 6 4 6-2 6-2 6 3 6-4 6 0 6 4 6-4 6 3 6 0 6-3 10 4"/>
<path d="M878 1667l6 1 6-3 6 4 6-2 6-4 6 9 6-9 6-12 6 22 6-5 6-27 6 18 6 2 6-24 6 3 6-13 6 1 6 12 6-63 6 3 6 38 6-62 6-10 6 8 6-7 6 1 6-40 6 26 6 25 6-36 6 18 6 12 6-6 6 17 6-7 6 9 6 27 6-4 6 10 6 24 6 6 6 15 6 21 6 4 6-15 6-68 6-128 6-79 6 62 6 124 6 87 6 38 6 3 6-6 6 1 6-7 6-7 6 2 6-6 6-11 6 1 6-5 6-9 6 3 6-1 6-6 6 5 6 1 6-3 6 5 6 0 6-5 6 3 6 1 6-5 6 3 6 3 6-6 6 2 6 5 6-6 6 1 6 5 6-5 6 1 6 4 6-6 6 0 6 5 6-3 6 1 6 6 6-5 6-1 6 3 6-5 6 0 6 8 6-5 6-4 6 4 6-6 6-5 6 5 10-6"/>
<path d="M878 1668l6 0 6-2 6-1 6-1 6-1 6-1 6-3 6-3 6-2 6 0 6-3 6-5 6-6 6-7 6-7 6-10 6-8 6-8 6-9 6-8 6-9 6-9 6-4 6 1 6 2 6 2 6 1 6 1 6 3 6 3 6 7 6 12 6 10 6 8 6 15 6 15 6 6 6 15 6 18 6-11 6-49 6-89 6-99 6-5 6 113 6 103 6 28 6 8 6 7 6-10 6-8 6 1 6-6 6-9 6 1 6-1 6-7 6-1 6 3 6 0 6 0 6-2 6-7 6-17 6-33 6-36 6-15 6 18 6 36 6 30 6 16 6 6 6 3 6 0 6 0 6 2 6 0 6-2 6-1 6 0 6 1 6 0 6-2 6-1 6 1 6 2 6 0 6-3 6 0 6 4 6 2 6-1 6-1 6-1 6-1 6-1 6 1 6 0 6-1 6 0 6-1 6 0 6-1 6-1 10 0"/>
<path d="M878 1664l6 2 6-7 6-5 6 4 6 2 6-5 6-1 6 6 6 0 6-10 6-5 6 4 6-1 6-12 6-13 6-3 6-6 6-14 6-10 6-4 6-8 6-16 6-10 6 1 6-1 6-9 6-4 6 6 6 4 6-4 6 2 6 13 6 11 6 3 6 8 6 16 6 12 6 6 6 12 6 22 6 11 6-8 6-38 6-89 6-124 6-60 6 73 6 135 6 92 6 29 6 5 6 5 6-1 6-8 6-5 6 4 6-2 6-11 6-4 6 6 6 1 6-8 6-2 6 7 6 0 6-6 6 1 6 8 6 0 6-9 6-1 6 8 6 1 6-7 6-1 6 7 6-1 6-7 6 1 6 8 6-1 6-8 6 1 6 8 6-1 6-9 6-2 6 4 6-10 6-26 6-17 6 7 6 13 6 10 6 13 6 14 6 1 6-8 6 1 6 9 6 1 6-6 6 0 6 6 10-7"/>
<path d="M878 1652l6 1 6 8 6-9 6-3 6 6 6-11 6-8 6 4 6-11 6-11 6-1 6-17 6-18 6-2 6-15 6-23 6-6 6-13 6-21 6-4 6-8 6-15 6 2 6 5 6-6 6 9 6 13 6 0 6 9 6 17 6 5 6 16 6 27 6 11 6 12 6 26 6 16 6 16 6 26 6 9 6 7 6 20 6 5 6-9 6-10 6-52 6-112 6-102 6-22 6 71 6 111 6 66 6-4 6-34 6-65 6-89 6-44 6 28 6 63 6 71 6 52 6 12 6 1 6 9 6-5 6-2 6 10 6-3 6-8 6 8 6-2 6-9 6 5 6 0 6-8 6 9 6 5 6-9 6 4 6 5 6-8 6 3 6 6 6-10 6 2 6 7 6-7 6 0 6 8 6-7 6-4 6 8 6-4 6-2 6 12 6-2 6-9 6 8 6-1 6-8 6 8 6 2 6-11 6 5 10-5"/>
<path d="M878 1662l6 7 6-1 6-8 6 0 6 4 6-6 6-4 6 5 6 0 6-12 6-3 6 4 6-9 6-14 6-3 6-3 6-13 6-12 6-3 6-9 6-13 6 0 6 4 6-9 6-6 6 7 6 5 6-2 6 6 6 11 6 1 6 2 6 16 6 14 6 5 6 11 6 20 6 12 6 3 6 13 6 15 6 2 6-1 6 8 6 3 6-7 6-8 6-25 6-79 6-113 6-77 6 8 6 77 6 95 6 69 6 23 6 0 6 5 6 5 6-7 6-4 6 4 6 0 6-3 6 0 6-2 6 0 6 1 6-5 6 4 6 10 6-15 6-15 6 4 6-40 6-68 6-3 6 32 6 12 6 43 6 53 6-11 6-16 6 24 6-1 6-21 6 13 6 13 6-14 6-5 6 11 6-1 6-7 6 5 6 5 6-8 6-5 6 7 6 3 6-5 6 2 6 7 6-5 6-8 10 10"/>
<path d="M878 1666l6-3 6 3 6-3 6 0 6 5 6-6 6-5 6 3 6-8 6-3 6 4 6-14 6-9 6-2 6-18 6-5 6-3 6-25 6-6 6-8 6-24 6 3 6-5 6-17 6 8 6-6 6-7 6 15 6-2 6 2 6 14 6 0 6 8 6 14 6 5 6 14 6 14 6 9 6 19 6 13 6 5 6-19 6-72 6-115 6-84 6 26 6 124 6 121 6 69 6 28 6 4 6-4 6-3 6-8 6-4 6-2 6-8 6-2 6-4 6-6 6-2 6-2 6-2 6 2 6-4 6-3 6 0 6-3 6 0 6 3 6-5 6 0 6 4 6-1 6 3 6-2 6-4 6 4 6 1 6-2 6 3 6-2 6-2 6 3 6-4 6-1 6 3 6-2 6 1 6 2 6-1 6 3 6-2 6-4 6 2 6-1 6-4 6-11 6-25 6-22 6 1 6 19 6 25 6 16 10 2"/>
<path d="M878 1667l6 4 6-14 6-2 6 16 6-3 6-21 6 6 6 19 6-14 6-17 6 12 6 5 6-23 6-16 6 9 6-5 6-27 6-12 6-4 6-14 6-15 6-8 6-3 6-6 6-7 6 0 6 0 6 3 6 4 6 6 6 10 6 8 6 8 6 11 6 9 6 14 6 13 6 12 6 16 6 13 6 12 6 10 6 5 6 8 6 6 6 3 6 0 6-3 6-3 6-9 6-24 6-46 6-79 6-87 6-53 6 8 6 67 6 83 6 63 6 33 6 9 6 4 6-1 6-1 6 2 6-2 6-1 6 0 6-1 6 1 6-1 6-1 6 1 6-2 6 3 6 2 6 1 6-1 6-3 6 1 6 0 6-3 6 2 6 0 6 1 6 0 6-2 6 1 6-1 6-1 6 1 6 0 6 3 6-1 6-3 6 1 6 0 6 1 6 2 6-1 6 0 6-2 6-2 6 2 10-1"/>
<path d="M878 1659l6 5 6-1 6-8 6 4 6 6 6-5 6-7 6-2 6-3 6-7 6-9 6-8 6-8 6-13 6-13 6-12 6-16 6-17 6-12 6-11 6-13 6-10 6-6 6-6 6 0 6 5 6 2 6 1 6 4 6 6 6 7 6 11 6 12 6 9 6 11 6 5 6-28 6-86 6-108 6-27 6 104 6 150 6 99 6 40 6 16 6 7 6 0 6 1 6 2 6-3 6-5 6-3 6-4 6-8 6-6 6-3 6-6 6-3 6-3 6-5 6-2 6 0 6-6 6-2 6 2 6 0 6-1 6 2 6 0 6-2 6 2 6 1 6-4 6-3 6 4 6 1 6-6 6 2 6 4 6-10 6 5 6 10 6-25 6-16 6 4 6-21 6 0 6 33 6 9 6-1 6 11 6 0 6-5 6 3 6 2 6-3 6 2 6 4 6-2 6-2 6 2 6 1 6-2 6 0 10 1"/>
<path d="M878 1675l6-9 6 5 6 0 6-6 6 6 6-8 6-1 6 13 6-16 6-12 6 16 6-3 6-23 6-10 6 3 6-1 6-33 6-22 6 11 6-15 6-35 6-4 6-7 6-12 6 2 6-5 6 2 6 9 6-6 6 6 6 13 6-4 6-9 6-55 6-120 6-85 6 30 6 130 6 141 6 71 6 29 6 26 6 2 6 3 6 9 6-8 6 1 6 3 6-11 6 1 6-1 6-12 6 4 6-5 6-12 6 2 6-8 6-4 6 8 6-10 6-4 6 6 6-8 6-1 6 5 6-8 6 6 6 3 6-7 6 9 6 1 6-9 6 7 6-4 6-4 6 9 6-6 6-1 6 8 6-8 6 1 6 5 6-8 6 5 6 2 6-10 6 5 6 1 6-6 6 10 6-2 6-7 6 6 6-6 6-1 6 9 6-6 6 3 6 6 6-10 6 5 6 3 6-8 6 7 10-5"/>
<path d="M878 1663l6 7 6-8 6 3 6 2 6-8 6 4 6-5 6-7 6 3 6-12 6-7 6-1 6-17 6-7 6-10 6-19 6-5 6-17 6-21 6-9 6-18 6-11 6-4 6-16 6-3 6-1 6-5 6 12 6 3 6 3 6 17 6 6 6 14 6 21 6 5 6 16 6 5 6-35 6-71 6-104 6-47 6 79 6 129 6 111 6 62 6 12 6 10 6 2 6-10 6 5 6-5 6-7 6 3 6-11 6-4 6 1 6-13 6 2 6 1 6-10 6 5 6-4 6-6 6 6 6-8 6 0 6 8 6-7 6 2 6-1 6-8 6 8 6 0 6-2 6 8 6-6 6-1 6 4 6-8 6 3 6 1 6-4 6 9 6-1 6-3 6 5 6-9 6 1 6 7 6-6 6 4 6-1 6-8 6 9 6-1 6-2 6 9 6-7 6 0 6 4 6-8 6 5 6 2 6-8 10 8"/>
<path d="M878 1665l6 2 6-7 6 1 6 3 6-6 6-4 6 6 6-5 6-12 6 0 6-1 6-11 6-7 6-6 6-15 6-15 6-7 6-14 6-18 6-6 6-3 6-10 6-5 6 1 6-4 6-3 6 7 6 9 6 4 6 10 6 10 6 6 6 11 6 20 6 13 6 11 6 22 6 21 6 12 6 16 6 17 6 5 6 3 6 8 6 1 6-4 6 0 6-3 6-13 6-17 6-36 6-73 6-77 6-21 6 39 6 49 6 5 6-62 6-67 6 22 6 94 6 69 6 23 6 9 6 2 6-4 6 1 6 2 6-5 6-3 6 7 6 0 6-7 6 2 6 3 6-5 6-2 6 6 6-1 6-2 6 4 6 4 6-4 6-3 6 9 6-4 6-13 6 18 6 0 6-23 6 20 6 8 6-20 6 13 6 6 6-16 6 2 6 4 6-5 6 1 6 6 6 2 6-5 6-1 10 2"/>
<path d="M878 1665l6-4 6 1 6 4 6-4 6 1 6 4 6-2 6-1 6 0 6-7 6-3 6-6 6-11 6-5 6-8 6-15 6-12 6-12 6-19 6-14 6-17 6-14 6-5 6-7 6-10 6-2 6 0 6 1 6 7 6 3 6 2 6 5 6-12 6-43 6-80 6-96 6-38 6 64 6 120 6 112 6 75 6 35 6 19 6 13 6 4 6 6 6 7 6-1 6 0 6 0 6-6 6 0 6 0 6-9 6-4 6-3 6-8 6-1 6 1 6-3 6-1 6-2 6-4 6 2 6 1 6-5 6 1 6 0 6-2 6 4 6 2 6-3 6-10 6-37 6-43 6 7 6 43 6 29 6 12 6-2 6-3 6 3 6-1 6 0 6 4 6-1 6-1 6 3 6-4 6 0 6 3 6-4 6-2 6 2 6-2 6 3 6 3 6-4 6 0 6 0 6-2 6 4 6 1 6-5 10 6"/>
<path d="M878 1662l6 7 6-7 6-7 6 11 6-3 6-19 6 7 6 4 6-26 6-5 6 16 6-22 6-23 6 11 6-14 6-34 6 0 6-3 6-28 6-8 6 4 6-17 6-9 6 12 6-1 6-7 6 11 6 9 6-2 6 7 6 16 6 7 6 10 6 23 6 18 6 9 6 20 6 21 6 9 6 12 6 19 6 8 6 1 6 6 6 6 6-2 6-4 6-8 6-32 6-55 6-60 6-53 6-18 6 38 6 64 6 45 6 25 6 17 6 3 6-6 6-2 6-20 6-49 6-37 6 14 6 42 6 33 6 21 6 4 6-6 6 3 6 4 6-5 6-2 6 3 6-3 6-4 6 7 6 3 6-7 6 2 6 6 6-4 6-5 6 5 6 2 6-5 6 1 6 5 6-4 6-1 6 6 6-4 6-4 6 7 6 4 6-8 6 0 6 7 6-4 6-4 6 5 6 1 6-6 10 6"/>
</g>
<g stroke="#1a1a1a" stroke-width="2.8">
<path d="M878 1663l8 0 8 0 8-1 8-1 8-1 8 0 8-1 8-1 8-2 8-4 8-7 8-12 8-19 8-28 8-38 8-46 8-52 8-53 8-47 8-36 8-17 8 7 8 38 8 59 8 68 8 65 8 54 8 40 8 30 8 23 8 19 8 16 8 15 8 11 8 8 8 2 8-1 8-4 8-5 8-7 8-8 8-7 8-8 8-7 8-8 8-6 8-5 8-4 8-2 8-1 8 0 8 0 8 0 8-1 8-1 8-1 8-1 8 0 8 1 8 0 8 1 8 1 8 2 8 1 8 0 8-1 8-1 8-2 8-1 8-1 8 0 8 1 8 0 8 0 8 0 8 0 8 1 8 0 10-2"/>
</g>
<g stroke="#199bd1" stroke-width="3">
<path d="M878 1652l6 4 6 21 6-5 6-21 6 9 6 18 6-10 6-16 6 7 6 1 6-21 6 1 6 7 6-28 6-13 6 5 6-25 6-21 6-2 6-18 6-19 6-7 6-8 6-7 6-4 6 1 6 1 6 1 6 7 6 8 6 4 6 10 6 13 6 11 6 15 6 18 6 17 6 21 6 20 6 17 6 20 6 17 6 13 6 11 6 4 6 3 6 6 6-1 6-12 6-31 6-65 6-80 6-39 6 31 6 70 6 57 6 21 6 5 6 1 6-6 6-5 6-2 6-6 6-11 6-31 6-51 6-24 6 28 6 44 6 31 6 14 6 2 6 1 6 1 6-2 6 2 6 1 6-2 6 1 6 0 6-2 6 3 6 0 6-1 6 3 6-1 6-2 6 2 6-2 6-3 6 2 6 0 6 0 6 5 6-2 6-2 6 3 6-2 6-1 6 2 6-2 6-1 6 1 6-3 10 2"/>
<path d="M878 1668l6 3 6-5 6-1 6-1 6-5 6 2 6-3 6 0 6 0 6-9 6-5 6-12 6-11 6-7 6-14 6-7 6-14 6-17 6-14 6-20 6-9 6-13 6-11 6-2 6-6 6 1 6 1 6 3 6 9 6 2 6 8 6 10 6 9 6 16 6 8 6 14 6 15 6 10 6 18 6 15 6 16 6 13 6 1 6-7 6-46 6-86 6-89 6-33 6 61 6 96 6 74 6 37 6 2 6 0 6-3 6-2 6 2 6-6 6-1 6-1 6-4 6 4 6-2 6 2 6 0 6-2 6 4 6-4 6 0 6 2 6-3 6 3 6-1 6 1 6 3 6-1 6 4 6-3 6-3 6 3 6-3 6 3 6-2 6-3 6 2 6-5 6 3 6-1 6 0 6 4 6-4 6 1 6 0 6-2 6 0 6-11 6-16 6-17 6-2 6 24 6 17 6 9 6 3 6-4 10 1"/>
</g>
<g stroke="#1a1a1a" stroke-width="2.8">
<path d="M878 1665l8 0 8 0 8 0 8 0 8 0 8-1 8-1 8-1 8-1 8-1 8-3 8-7 8-12 8-19 8-31 8-44 8-57 8-63 8-57 8-39 8-14 8 16 8 42 8 57 8 61 8 56 8 47 8 36 8 28 8 22 8 18 8 16 8 14 8 12 8 8 8 2 8-1 8-4 8-4 8-7 8-9 8-9 8-9 8-8 8-7 8-5 8-4 8-2 8-2 8-1 8 0 8-1 8-1 8-1 8 0 8-1 8-1 8 0 8 0 8 1 8 1 8 1 8-1 8-1 8-1 8-1 8 0 8 0 8 1 8 2 8 1 8 0 8 0 8 0 8 0 8-1 8-1 8-1 10-2"/>
<path d="M878 1662l8 0 8 0 8 0 8 0 8-1 8 0 8-1 8-1 8-1 8-3 8-6 8-10 8-16 8-25 8-34 8-43 8-49 8-46 8-36 8-18 8 6 8 37 8 57 8 62 8 54 8 41 8 29 8 21 8 15 8 12 8 10 8 8 8 4 8 2 8-1 8-3 8-5 8-6 8-8 8-6 8-6 8-5 8-5 8-4 8-4 8-3 8-1 8-1 8 0 8 0 8-1 8-2 8-1 8 0 8 1 8 1 8 0 8 0 8-1 8 0 8-1 8-1 8 1 8 2 8 1 8 0 8 0 8 0 8 1 8 1 8-1 8-2 8-2 8 0 8 1 8 2 8 1 8 1 10-1"/>
</g>
<g stroke="#199bd1" stroke-width="3">
<path d="M878 1653l6 8 6-1 6-8 6 9 6 9 6-12 6-6 6 15 6-3 6-25 6-4 6 17 6-9 6-28 6-6 6 5 6-21 6-32 6-9 6-2 6-19 6-23 6-8 6 2 6-4 6-8 6 0 6 12 6 4 6-5 6 7 6 18 6-4 6-31 6-44 6-48 6-24 6 44 6 95 6 84 6 54 6 39 6 23 6 4 6 6 6 7 6-7 6-9 6 2 6-2 6-13 6-3 6-3 6-24 6-53 6-79 6-54 6 32 6 82 6 49 6 5 6 1 6 6 6-5 6-6 6 6 6 3 6-8 6-1 6 6 6-4 6-4 6 8 6 1 6-10 6 5 6 6 6-12 6 6 6 6 6-11 6 7 6-2 6-5 6 10 6-5 6 2 6 1 6-9 6 4 6 6 6-5 6 0 6 7 6-6 6-6 6 7 6 3 6-7 6 3 6 8 6-3 6-4 6 6 10-6"/>
<path d="M878 1667l6-8 6 0 6 8 6-8 6 7 6-2 6-10 6 7 6-9 6-6 6 2 6-15 6 1 6-7 6-17 6-1 6-17 6-14 6-3 6-20 6-7 6-9 6-17 6 3 6-11 6-7 6 6 6-9 6 7 6 9 6-2 6 16 6 4 6 1 6-4 6-57 6-83 6-73 6 0 6 112 6 121 6 82 6 54 6 16 6 15 6 11 6-6 6 8 6-3 6-7 6 4 6-15 6-5 6-1 6-14 6 4 6-8 6-9 6 7 6-9 6-2 6 0 6-15 6 7 6 0 6-8 6 7 6-6 6 1 6 6 6-7 6 6 6-6 6-5 6 14 6-10 6 0 6 15 6-13 6 0 6 9 6-9 6-1 6 2 6 4 6-4 6-6 6 16 6-9 6-12 6 22 6-13 6-24 6-1 6-27 6-16 6 16 6 18 6 18 6 5 6 11 6 7 6-12 6 10 10-8"/>
<path d="M878 1663l6-6 6-4 6 4 6 0 6-4 6 2 6 4 6-5 6-8 6 2 6 2 6-10 6-11 6-4 6-9 6-16 6-11 6-6 6-15 6-18 6-9 6-5 6-12 6-10 6 1 6 3 6-2 6 0 6 4 6-7 6-33 6-52 6-61 6-47 6 9 6 76 6 97 6 68 6 42 6 32 6 22 6 9 6 11 6 16 6 9 6-1 6 6 6 9 6-4 6-7 6 2 6 0 6-10 6-9 6 0 6-1 6-8 6-2 6 4 6-4 6-8 6 0 6 1 6-6 6-2 6 6 6 1 6-6 6-2 6 6 6-1 6-8 6 0 6 7 6-4 6-11 6-12 6-22 6-33 6-13 6 24 6 32 6 16 6 12 6 11 6 0 6-8 6 2 6 7 6-4 6-7 6 6 6 6 6-6 6-3 6 6 6 1 6-8 6 2 6 9 6-1 6-9 6 2 6 5 10-9"/>
<path d="M878 1661l6-7 6 9 6-8 6-2 6 3 6-13 6 2 6-8 6-15 6 2 6-15 6-8 6-8 6-26 6-9 6-14 6-17 6-7 6-23 6-9 6-3 6-16 6 5 6-2 6 0 6 13 6-3 6 7 6 8 6-1 6 21 6 9 6 9 6 20 6 5 6 22 6 19 6 10 6 29 6 13 6 17 6 23 6-3 6 2 6-21 6-64 6-83 6-96 6-40 6 42 6 77 6 92 6 55 6 17 6 15 6-9 6-2 6 3 6-14 6 6 6-2 6-7 6 8 6-9 6 2 6 7 6-10 6 8 6-2 6-7 6 7 6-7 6 7 6 5 6-9 6 7 6-5 6-3 6 9 6-10 6 3 6 2 6-9 6 1 6-25 6-29 6-9 6 0 6 31 6 26 6 5 6 11 6-7 6-1 6 6 6-7 6 8 6-1 6-8 6 10 6-7 6-3 6 6 6-6 10 12"/>
</g>
<g stroke="#1a1a1a" stroke-width="2.8">
<path d="M878 1671l8 0 8 0 8-1 8-1 8 0 8 1 8-1 8-2 8-5 8-7 8-11 8-19 8-30 8-43 8-55 8-63 8-61 8-50 8-28 8 1 8 32 8 55 8 68 8 69 8 62 8 52 8 41 8 32 8 26 8 20 8 15 8 9 8 2 8-3 8-6 8-8 8-10 8-11 8-11 8-11 8-11 8-8 8-6 8-5 8-4 8-3 8-3 8-2 8 0 8 0 8 1 8-1 8-1 8-1 8 0 8 0 8 0 8-1 8 0 8 0 8 0 8 1 8 1 8 0 8 0 8 0 8-2 8-1 8-1 8 0 8 0 8 1 8 1 8 1 8 0 8 0 8 1 8 0 10 0"/>
</g>
<g stroke="#199bd1" stroke-width="3">
<path d="M878 1663l6 0 6 6 6-5 6-1 6 6 6-14 6-4 6 11 6-17 6-4 6 12 6-28 6-6 6 12 6-35 6-5 6 11 6-34 6-6 6 6 6-35 6-2 6 10 6-20 6 8 6 12 6-11 6 7 6 9 6-4 6 11 6 11 6 6 6 19 6 19 6 10 6 14 6 16 6 9 6 12 6 11 6 2 6 2 6 2 6-2 6 0 6 0 6-10 6-17 6-38 6-82 6-102 6-63 6 15 6 83 6 92 6 53 6 21 6 9 6 1 6-3 6 1 6 1 6 0 6 2 6-3 6-9 6-14 6-35 6-23 6 26 6 38 6 12 6 3 6 1 6-2 6 0 6 3 6-3 6 0 6 2 6-3 6 0 6 3 6-3 6-1 6 3 6-1 6 0 6 3 6 0 6-1 6 3 6-1 6-2 6 2 6-1 6-3 6 1 6-1 6-2 6 3 6 2 6-2 10 3"/>
<path d="M878 1665l6-1 6-3 6 3 6-1 6-4 6 1 6 3 6-6 6-7 6-1 6-3 6-10 6-6 6-3 6-8 6-11 6-7 6-7 6-13 6-7 6 0 6-7 6-8 6 0 6 2 6-2 6 5 6 7 6 0 6-1 6 7 6-7 6-48 6-89 6-70 6 22 6 106 6 107 6 57 6 14 6 10 6 19 6-3 6-14 6 11 6 16 6-18 6-15 6 17 6 5 6-17 6-4 6 8 6-5 6-5 6 3 6-2 6-7 6 1 6 1 6-4 6 0 6 5 6 1 6 0 6 2 6-1 6-5 6 0 6 5 6 1 6-4 6 1 6 1 6-5 6-1 6-2 6-31 6-54 6-12 6 46 6 38 6 11 6 5 6-1 6-3 6 3 6 4 6-3 6-1 6 4 6 0 6-2 6 2 6 2 6-3 6 0 6 5 6 1 6-4 6 1 6 1 6-5 6 1 10 4"/>
</g>
<g stroke="#1a1a1a" stroke-width="2.8">
<path d="M878 1664l8-1 8-1 8-1 8-1 8 0 8 0 8 0 8-1 8-4 8-7 8-12 8-18 8-25 8-31 8-38 8-43 8-43 8-35 8-23 8-7 8 16 8 38 8 52 8 56 8 51 8 40 8 30 8 22 8 19 8 17 8 14 8 11 8 5 8 1 8-1 8-3 8-4 8-4 8-5 8-5 8-5 8-5 8-3 8-2 8-1 8 0 8-1 8-2 8-2 8-2 8 0 8 1 8 1 8 1 8-1 8-1 8 0 8 0 8 0 8 1 8 0 8 0 8 1 8 1 8 0 8 0 8-1 8-1 8 0 8-1 8-2 8-1 8 0 8 1 8 1 8 1 8 1 8 0 10 0"/>
</g>
<g stroke="#199bd1" stroke-width="3">
<path d="M878 1664l6-3 6 1 6 1 6-5 6 2 6 4 6-8 6-2 6 6 6-8 6-14 6 7 6 9 6-20 6-19 6 3 6-5 6-21 6-14 6-8 6-13 6-19 6-16 6-9 6-4 6-10 6-9 6 1 6 1 6-4 6 3 6 5 6 0 6 4 6 11 6 5 6 2 6-8 6-47 6-88 6-82 6-7 6 92 6 135 6 104 6 53 6 25 6 12 6 2 6 4 6 5 6-1 6-2 6 0 6-6 6-7 6-2 6-5 6-5 6-1 6-3 6-8 6-1 6 1 6-6 6-17 6-53 6-87 6-38 6 59 6 82 6 42 6 15 6-1 6-3 6 4 6 4 6-2 6-1 6 1 6-3 6-1 6 3 6-4 6-1 6 4 6-1 6-1 6 3 6-2 6-4 6 4 6 3 6-2 6 1 6 1 6-2 6-1 6 3 6-1 6-2 6 2 6-2 6-2 10 5"/>
</g>
<g stroke="#1a1a1a" stroke-width="2.8">
<path d="M878 1661l8 0 8 0 8 1 8 1 8 1 8 1 8 0 8-1 8-2 8-3 8-5 8-9 8-16 8-25 8-38 8-50 8-60 8-65 8-59 8-42 8-17 8 13 8 42 8 62 8 71 8 67 8 57 8 45 8 34 8 27 8 24 8 21 8 18 8 12 8 6 8 0 8-3 8-4 8-6 8-8 8-10 8-9 8-8 8-7 8-6 8-4 8-4 8-3 8-2 8-3 8-2 8-1 8 0 8 0 8 0 8 0 8 0 8-1 8 0 8 0 8 1 8 0 8 0 8 0 8-1 8 0 8 0 8-1 8 0 8 1 8 1 8 2 8 1 8 0 8-1 8-2 8-1 8 1 10 1"/>
</g>
<g stroke="#199bd1" stroke-width="3">
<path d="M878 1668l6 1 6-2 6-4 6 3 6 4 6-2 6 0 6 1 6-4 6-3 6-2 6-8 6-9 6-6 6-10 6-14 6-13 6-18 6-18 6-15 6-17 6-17 6-9 6-7 6-8 6-2 6 0 6-1 6 5 6 7 6 3 6 6 6 11 6 10 6 10 6 14 6 12 6 15 6 17 6 13 6 16 6 20 6 17 6 13 6 14 6 9 6 3 6 3 6-8 6-34 6-60 6-69 6-37 6 27 6 67 6 56 6 31 6 12 6 0 6-2 6 0 6-4 6-2 6 1 6-3 6 0 6 0 6 3 6-9 6 8 6-2 6-7 6 15 6-20 6 20 6-15 6 4 6 12 6-30 6 36 6-31 6 15 6 6 6-19 6 22 6-20 6 12 6-5 6 1 6 7 6-11 6 5 6-2 6-1 6 4 6 0 6 0 6 3 6 2 6-8 6-11 6-13 6-10 6 6 10 21"/>
<path d="M878 1657l6 7 6-4 6 2 6-2 6-8 6 8 6-10 6-11 6-9 6 3 6-15 6-26 6 18 6-23 6-23 6 3 6-22 6-9 6-21 6-2 6 2 6-20 6 5 6 6 6 0 6-3 6 6 6 18 6-3 6-15 6-41 6-75 6-32 6 78 6 117 6 65 6 20 6 16 6 19 6 8 6 3 6 10 6 8 6-5 6-5 6 5 6-2 6-14 6-3 6 5 6-5 6-12 6 0 6 6 6-6 6-9 6 1 6 2 6-7 6-2 6 9 6 1 6-8 6-1 6 7 6-3 6-9 6 4 6 6 6-5 6-3 6 7 6 2 6-10 6-1 6 11 6 0 6-9 6 3 6 7 6-5 6-6 6 8 6 7 6-8 6-6 6 7 6 2 6-7 6 2 6 8 6-3 6-7 6 4 6 5 6-9 6-5 6 7 6 3 6-7 6-1 6 9 6 0 6-5 10 9"/>
<path d="M878 1661l6 0 6 1 6 0 6-2 6-1 6 0 6-3 6-5 6 0 6 0 6-6 6-11 6-7 6-6 6-9 6-10 6-4 6-5 6-9 6-10 6-6 6-3 6-6 6-3 6 4 6 4 6 2 6 4 6 7 6 7 6 5 6 7 6 14 6 15 6 11 6 13 6 16 6 12 6 7 6 9 6 11 6 7 6 3 6 5 6 4 6 0 6-5 6-3 6-3 6-18 6-51 6-94 6-107 6-44 6 59 6 109 6 80 6 34 6 9 6 2 6-1 6-5 6-3 6 3 6 5 6-1 6-3 6 1 6 1 6-1 6 1 6 1 6-2 6-5 6-11 6-23 6-34 6-30 6-3 6 28 6 36 6 24 6 13 6 5 6 1 6-2 6-1 6 2 6 0 6-1 6 3 6 2 6-3 6-2 6 3 6 2 6-2 6-1 6 1 6 0 6-3 6-1 6 2 6 1 10 0"/>
<path d="M878 1661l6 4 6-3 6-3 6 4 6-1 6-7 6-1 6 1 6-5 6-6 6-4 6-8 6-8 6-4 6-9 6-13 6-9 6-9 6-11 6-6 6-4 6-12 6-7 6 1 6-2 6-3 6 6 6 4 6 3 6 9 6 7 6 2 6 10 6 5 6-25 6-70 6-99 6-66 6 41 6 126 6 119 6 66 6 30 6 12 6 0 6 2 6 2 6-7 6-4 6 2 6-5 6-7 6-3 6-4 6-8 6-1 6-1 6-9 6-4 6 0 6-4 6-1 6 7 6-1 6-6 6 1 6 0 6-6 6 3 6 4 6-4 6 0 6 5 6-1 6-3 6 4 6 0 6-6 6 2 6 2 6-4 6 2 6 4 6-4 6-1 6 5 6-2 6-15 6-32 6-29 6 14 6 40 6 19 6 1 6 1 6 2 6-3 6 0 6 5 6-3 6-3 6 3 6 0 6-6 10 4"/>
<path d="M878 1667l6-3 6-2 6 3 6-6 6-4 6 5 6-5 6-7 6 0 6-8 6-10 6-3 6-11 6-12 6-4 6-10 6-13 6-5 6-10 6-14 6-3 6-5 6-7 6 2 6-1 6-4 6 6 6 4 6 2 6 10 6 8 6-4 6-15 6-45 6-77 6-43 6 35 6 91 6 98 6 61 6 23 6 19 6 21 6 6 6 6 6 6 6-3 6 2 6 3 6-9 6-5 6-2 6-11 6-5 6-1 6-8 6-6 6-1 6-7 6-4 6 1 6-4 6-4 6 2 6-5 6-2 6 7 6-1 6-4 6 4 6-1 6-4 6 4 6-2 6-4 6 5 6 0 6-4 6 4 6-1 6-5 6 1 6-8 6-26 6-23 6-14 6 8 6 33 6 23 6 4 6 6 6 3 6-4 6 4 6 4 6-7 6 0 6 3 6-5 6 1 6 5 6-3 6 2 6 4 10-6"/>
</g>
<g stroke="#1a1a1a" stroke-width="2.8">
<path d="M878 1661l8 0 8-1 8 0 8 2 8 1 8 1 8-1 8-2 8-1 8-3 8-4 8-6 8-9 8-14 8-21 8-30 8-38 8-42 8-42 8-36 8-24 8-8 8 12 8 34 8 49 8 52 8 49 8 40 8 32 8 24 8 19 8 16 8 13 8 10 8 4 8-1 8-2 8-2 8-4 8-3 8-3 8-3 8-3 8-4 8-4 8-5 8-2 8-2 8-1 8-1 8 0 8 0 8 1 8 0 8 1 8 0 8 0 8 1 8-1 8-1 8-1 8-1 8 0 8 0 8 0 8 0 8 0 8 1 8 0 8 1 8 2 8 0 8 0 8-1 8-1 8-1 8 0 8 0 10-1"/>
</g>
<g stroke="#199bd1" stroke-width="3">
<path d="M878 1665l6-6 6-3 6 8 6-1 6-5 6 5 6 1 6-9 6 1 6 4 6-9 6-6 6 3 6-6 6-15 6-5 6-9 6-18 6-9 6-7 6-17 6-12 6-3 6-12 6-15 6 0 6-3 6-9 6 3 6 9 6-2 6 3 6 13 6 6 6 2 6 15 6 10 6 0 6 12 6 21 6 12 6 16 6 26 6 17 6 8 6 19 6 16 6 4 6 9 6 7 6-16 6-31 6-53 6-91 6-93 6-22 6 52 6 77 6 72 6 43 6 8 6-4 6 4 6-3 6-9 6 1 6 0 6-8 6 1 6 8 6-5 6-3 6 7 6 0 6-5 6 5 6 3 6-8 6-5 6-14 6-44 6-32 6 21 6 38 6 21 6 15 6 8 6-7 6-1 6 8 6-3 6-4 6 6 6-3 6-10 6 3 6 5 6-6 6 1 6 7 6-6 6-3 6 9 6-1 10-5"/>
</g>
<g stroke="#1a1a1a" stroke-width="2.8">
<path d="M878 1661l8 0 8 1 8 1 8 1 8 0 8 0 8 0 8-2 8-4 8-6 8-10 8-15 8-23 8-33 8-42 8-49 8-54 8-53 8-44 8-28 8-5 8 23 8 48 8 65 8 67 8 60 8 50 8 39 8 30 8 23 8 17 8 11 8 5 8 2 8 0 8-2 8-4 8-6 8-7 8-7 8-7 8-7 8-6 8-4 8-3 8-1 8-1 8-1 8-1 8-1 8 0 8 0 8 0 8 0 8 1 8-1 8 0 8-2 8 0 8 0 8 1 8 1 8 1 8 0 8 0 8 0 8-1 8-1 8-1 8 0 8 0 8 0 8-1 8 0 8 0 8 0 8 1 8 0 10 0"/>
</g>
<g stroke="#199bd1" stroke-width="3">
<path d="M878 1663l6-4 6-1 6-1 6-4 6-2 6-2 6-6 6-6 6-4 6-15 6-12 6-8 6-18 6-4 6-13 6-14 6 5 6-25 6 6 6 0 6-22 6 28 6-21 6 0 6 27 6-28 6 29 6 10 6-11 6 31 6-1 6 14 6 23 6 3 6 12 6-14 6-50 6-88 6-91 6-13 6 77 6 109 6 86 6 39 6 8 6 3 6-3 6-8 6-4 6-3 6-5 6-2 6-4 6-4 6 0 6 1 6-4 6-2 6 0 6-2 6 0 6 3 6-1 6-2 6 2 6 0 6-2 6-2 6-6 6-15 6-28 6-25 6 5 6 34 6 25 6 6 6 2 6 3 6-3 6-2 6 2 6 0 6 1 6 4 6-1 6-1 6 2 6-1 6-2 6 2 6-1 6-4 6 1 6 1 6 0 6 2 6 0 6-4 6-1 6 2 6 0 6 4 6 1 6-5 10 0"/>
<path d="M878 1659l6 0 6-1 6 0 6 3 6-2 6-7 6-4 6-5 6-6 6-10 6-12 6-1 6-22 6-12 6 4 6-38 6 2 6-8 6-38 6 14 6-22 6-11 6 11 6-19 6 6 6 4 6-7 6 8 6 6 6 0 6-14 6-39 6-38 6 14 6 67 6 66 6 39 6 24 6 19 6 16 6 15 6 18 6 15 6 7 6 5 6 5 6 0 6-2 6-1 6-3 6-7 6-6 6-4 6-3 6-9 6-7 6 0 6-12 6 3 6 13 6-20 6 1 6 14 6-27 6 12 6 12 6-33 6 22 6 7 6-28 6 18 6-27 6-59 6-8 6-1 6 30 6 52 6 6 6-1 6 12 6-4 6-2 6 4 6 1 6-2 6 0 6 1 6 0 6-3 6 0 6 2 6-2 6 0 6 3 6 0 6 0 6 1 6-1 6-2 6 1 6 2 6-3 6-2 6 1 10-1"/>
<path d="M878 1668l6-10 6 20 6-6 6-13 6 25 6-24 6 2 6 11 6-20 6 6 6-3 6-12 6-2 6-10 6-11 6-6 6-11 6-14 6-10 6-11 6-16 6-9 6-3 6-5 6-1 6 0 6-1 6 5 6 8 6 0 6 4 6 9 6 6 6 6 6 13 6 12 6 11 6 15 6 10 6-4 6-24 6-63 6-94 6-50 6 31 6 78 6 93 6 54 6 10 6 14 6-5 6-6 6 8 6-14 6 0 6 2 6-14 6 14 6-8 6-7 6 15 6-23 6 8 6 14 6-24 6 21 6-1 6-20 6 23 6-11 6-4 6 17 6-15 6 2 6 5 6-9 6 5 6-2 6 2 6 5 6-6 6 5 6-1 6-4 6 6 6-2 6-4 6 7 6-2 6-4 6 3 6-2 6-3 6 3 6 1 6-3 6 2 6 0 6-4 6 2 6 3 6-2 6 2 6 2 10-5"/>
<path d="M878 1660l6 2 6 3 6-2 6-4 6 1 6-1 6-9 6-4 6 1 6-7 6-9 6-3 6-7 6-12 6-1 6-15 6-19 6 4 6-19 6-19 6 12 6-14 6-13 6 5 6-9 6 1 6 10 6-2 6 1 6 10 6 8 6 4 6 5 6-6 6-50 6-87 6-49 6 53 6 110 6 85 6 42 6 16 6 12 6 15 6 8 6 0 6 2 6 3 6-2 6-1 6 1 6-4 6-6 6-3 6-2 6-7 6-4 6-2 6-5 6-7 6-1 6 2 6-4 6-2 6 4 6-1 6-6 6 0 6 5 6 0 6-2 6 2 6-1 6-4 6 1 6 3 6-1 6-4 6 2 6 0 6-3 6 0 6 2 6-2 6 0 6 4 6 1 6-3 6 2 6 6 6-1 6-2 6 1 6-2 6-6 6 2 6 5 6 0 6-5 6 2 6 2 6-1 6 1 6 2 10-4"/>
<path d="M878 1663l6 3 6-6 6 3 6 5 6-6 6 0 6 3 6-11 6-6 6 3 6-10 6-8 6 5 6-6 6-10 6-3 6-12 6-13 6 0 6-7 6-12 6 0 6-6 6-11 6 4 6 3 6-8 6 4 6 6 6-4 6 5 6 10 6-1 6 6 6 11 6-7 6-27 6-69 6-118 6-78 6 49 6 130 6 125 6 82 6 28 6 5 6 11 6 3 6-5 6 7 6 0 6-10 6-2 6-6 6-14 6 0 6-1 6-12 6-3 6 3 6-9 6-2 6 4 6-7 6-2 6 7 6-6 6-4 6 6 6-1 6-3 6 6 6-1 6-3 6 6 6-2 6-9 6 4 6 2 6-6 6 3 6 1 6-7 6 6 6 6 6-6 6 2 6 4 6-8 6 0 6 6 6-5 6 0 6 7 6-5 6-8 6-8 6-28 6-18 6 19 6 23 6 11 6 11 6 2 10-4"/>
<path d="M878 1654l6 13 6 4 6-12 6 21 6-23 6 20 6-19 6-1 6 3 6-21 6 9 6-16 6-9 6-2 6-18 6-14 6-12 6-20 6-17 6-18 6-10 6-15 6-17 6 6 6-16 6 2 6 16 6-19 6 24 6 8 6-12 6 37 6-6 6 15 6 30 6 0 6 39 6 13 6 19 6 31 6-13 6 4 6-56 6-104 6-54 6-32 6 53 6 122 6 58 6 34 6 38 6-18 6-13 6 23 6-19 6-16 6 17 6-13 6-9 6 13 6-5 6-6 6 4 6-3 6-6 6 4 6 1 6-5 6 5 6 4 6-4 6 1 6-2 6-3 6 6 6 3 6-6 6 3 6 2 6-7 6 1 6 3 6-5 6 3 6 4 6-6 6 0 6 6 6-2 6-1 6 4 6-5 6 0 6 6 6-5 6-3 6 4 6-4 6-4 6 5 6-2 6-8 6-7 6-17 10-1"/>
<path d="M878 1664l6 0 6 4 6-4 6-4 6 5 6-4 6-8 6 2 6 0 6-12 6-7 6-1 6-13 6-11 6-4 6-12 6-18 6-8 6-10 6-16 6-9 6-6 6-15 6-6 6 3 6-4 6-3 6 7 6 6 6 0 6 6 6 9 6 4 6 12 6 17 6 8 6 8 6 21 6 17 6 8 6 7 6-29 6-100 6-127 6-53 6 68 6 136 6 111 6 43 6 3 6 1 6-6 6-33 6-55 6-42 6 9 6 48 6 40 6 9 6-7 6 3 6 3 6-7 6 0 6 6 6-3 6 0 6 7 6-2 6-5 6 4 6 0 6-7 6 4 6 7 6-5 6-1 6 6 6-4 6-5 6 6 6 1 6-7 6 2 6 4 6-5 6-1 6 4 6-4 6-3 6 7 6-1 6-7 6 4 6 5 6-5 6 0 6 6 6-3 6-2 6 6 6-2 6-7 6 4 10 0"/>
</g>
<g stroke="#1a1a1a" stroke-width="2.8">
<path d="M878 1663l8 0 8 1 8 0 8 0 8 0 8 0 8 1 8 1 8 0 8-4 8-7 8-11 8-16 8-20 8-26 8-31 8-34 8-34 8-27 8-16 8-2 8 16 8 33 8 42 8 44 8 40 8 33 8 27 8 22 8 19 8 16 8 10 8 5 8 1 8-3 8-4 8-5 8-5 8-5 8-6 8-5 8-5 8-4 8-4 8-2 8-2 8 0 8 0 8 0 8-1 8-1 8-1 8-2 8 0 8 0 8 0 8-1 8 0 8 0 8 1 8 0 8 1 8 1 8 1 8 0 8 0 8 0 8 0 8 0 8 0 8-1 8 0 8 0 8-1 8 0 8 1 8 0 8-1 10 0"/>
</g>
<g stroke="#199bd1" stroke-width="3">
<path d="M878 1663l6 0 6-1 6 2 6 1 6-2 6 0 6-2 6-3 6-2 6-5 6-5 6-6 6-7 6-5 6-8 6-7 6-9 6-14 6-11 6-12 6-13 6-9 6-9 6-3 6-1 6-2 6 2 6 5 6 5 6 4 6 2 6 7 6 9 6 13 6 13 6 10 6 13 6 14 6 15 6 20 6 17 6 15 6 13 6 10 6 2 6-24 6-72 6-97 6-35 6 68 6 92 6 47 6 13 6 0 6-1 6-5 6-4 6 0 6-5 6-5 6 2 6 0 6-7 6-2 6 11 6 0 6-15 6 6 6 15 6-15 6-10 6 19 6 5 6-24 6 0 6 27 6-9 6-25 6 16 6 16 6-16 6-7 6 16 6-5 6-37 6-25 6-6 6 5 6 26 6 27 6 10 6-2 6-3 6 5 6 1 6-3 6 1 6 0 6 1 6 1 6 1 6 1 6-4 6-2 10-2"/>
<path d="M878 1664l6 3 6 4 6-6 6-6 6 0 6-5 6-7 6-2 6-5 6-7 6-1 6-5 6-19 6-10 6 0 6-20 6-27 6 3 6 4 6-30 6-23 6 10 6-4 6-29 6-2 6 21 6-3 6-14 6 9 6 14 6-4 6 2 6 15 6 8 6 7 6 16 6 13 6 10 6 17 6 20 6 12 6 18 6 22 6 11 6 4 6 1 6-40 6-95 6-69 6 37 6 92 6 66 6 30 6 3 6-11 6-3 6 0 6-9 6-4 6 6 6-2 6-10 6 0 6 4 6-3 6-2 6 3 6-2 6-4 6 5 6 1 6-6 6-1 6 6 6-1 6-3 6 3 6-1 6-6 6 3 6 7 6-5 6-3 6 6 6 0 6-4 6 5 6 5 6-8 6-6 6 5 6-8 6-20 6-30 6-17 6 20 6 14 6 48 6-15 6 1 6 14 6-15 6 17 6-15 10 14"/>
<path d="M878 1654l6 3 6-1 6 1 6-1 6-6 6-1 6 1 6-4 6-4 6-3 6-6 6-6 6-7 6-9 6-7 6-5 6-16 6-16 6-3 6-9 6-24 6-9 6 8 6-11 6-20 6 13 6 21 6-13 6-11 6 28 6 20 6-12 6 5 6 38 6 17 6-6 6 16 6 35 6 11 6-3 6 16 6 21 6-1 6-7 6 7 6 8 6-4 6-8 6-3 6-10 6-40 6-66 6-64 6-35 6 11 6 61 6 70 6 31 6 13 6 18 6-2 6-11 6 9 6 3 6-12 6 2 6 8 6-12 6-19 6-18 6-13 6 15 6 30 6 12 6-3 6 1 6 4 6-3 6-2 6 2 6 2 6-2 6 0 6 1 6-2 6-1 6 4 6-2 6-4 6 1 6 4 6-1 6 0 6 1 6-1 6-1 6 0 6-2 6-1 6 4 6 1 6-3 6 3 6 0 10-4"/>
<path d="M878 1660l6 3 6 2 6-3 6 2 6 1 6-3 6 0 6 1 6-7 6-5 6-1 6-9 6-11 6-7 6-13 6-16 6-11 6-14 6-18 6-12 6-11 6-16 6-10 6-4 6-7 6 0 6 5 6-1 6 2 6 8 6 0 6-10 6-27 6-66 6-90 6-57 6 18 6 91 6 123 6 103 6 59 6 36 6 27 6 16 6 14 6 12 6 3 6 1 6 2 6-7 6-8 6-1 6-7 6-12 6-5 6-3 6-10 6-8 6-4 6-8 6-3 6-2 6-6 6-3 6 1 6-5 6-5 6 3 6 3 6 0 6 2 6-1 6-6 6 2 6 3 6-4 6 1 6 6 6-2 6-2 6 2 6-3 6-1 6 3 6-2 6-3 6 3 6 2 6-3 6 3 6 2 6-4 6 4 6 3 6-5 6 5 6 2 6-15 6 6 6 12 6-20 6 2 6 19 6-17 10 15"/>
</g>
<g stroke="#1a1a1a" stroke-width="2.8">
<path d="M878 1662l8 1 8-1 8 0 8 0 8 0 8-1 8 0 8-1 8-3 8-3 8-4 8-8 8-13 8-19 8-24 8-28 8-29 8-26 8-20 8-10 8 2 8 18 8 30 8 36 8 38 8 34 8 29 8 23 8 21 8 17 8 16 8 11 8 6 8 1 8-3 8-5 8-6 8-7 8-9 8-9 8-9 8-7 8-7 8-6 8-3 8-2 8-1 8 0 8 0 8-1 8-1 8 0 8 0 8 1 8-1 8-1 8-1 8-1 8 0 8 0 8 1 8 0 8-1 8-2 8-1 8-1 8 1 8 2 8 2 8 1 8 0 8-1 8-1 8 0 8 0 8 1 8 0 8 0 10 0"/>
</g>
<g stroke="#199bd1" stroke-width="3">
<path d="M878 1663l6 1 6 2 6-5 6 5 6 3 6-11 6 1 6 8 6-10 6-7 6 7 6-6 6-14 6-1 6-2 6-17 6-12 6-3 6-9 6-16 6-7 6-3 6-12 6-7 6 5 6 0 6-2 6 6 6 2 6-6 6 7 6 11 6 0 6 7 6 15 6 5 6 10 6 23 6 15 6 8 6 19 6 17 6 8 6 18 6 18 6 2 6 4 6 5 6-23 6-51 6-71 6-91 6-70 6-5 6 47 6 71 6 78 6 53 6 13 6 4 6 6 6-7 6-8 6 4 6-1 6-8 6 3 6 2 6-7 6 1 6 3 6-5 6 1 6 10 6-1 6-4 6 4 6-2 6-7 6 5 6 4 6-7 6 2 6 5 6-8 6-1 6 9 6-1 6-5 6 6 6 1 6-6 6 4 6 1 6-9 6 2 6 7 6-4 6 0 6 7 6-6 6-6 6 8 6 0 10-5"/>
<path d="M878 1664l6-5 6-6 6 5 6 6 6-5 6-9 6 2 6 3 6-9 6-11 6-3 6-5 6-16 6-16 6-7 6-3 6-11 6-19 6-8 6 6 6-13 6-20 6 12 6 12 6-11 6-3 6 14 6 7 6 0 6 7 6 18 6 13 6 3 6 9 6 22 6 17 6 8 6 13 6 20 6 13 6 4 6 10 6 13 6 1 6-8 6-1 6 3 6-18 6-57 6-102 6-107 6-35 6 61 6 66 6-19 6-49 6 35 6 94 6 60 6 10 6-5 6 4 6 5 6-5 6-5 6 5 6 3 6-7 6-4 6 6 6 6 6-5 6-5 6 6 6 5 6-5 6-4 6 5 6 3 6-8 6-6 6 7 6 4 6-6 6-1 6 9 6 1 6-9 6-3 6 7 6 2 6-8 6-2 6 8 6 1 6-8 6 0 6 7 6 0 6-7 6 2 6 9 6-3 6-8 10 7"/>
<path d="M878 1660l6 8 6-6 6 1 6 6 6-7 6-3 6 6 6-8 6-10 6 5 6-3 6-15 6-4 6-5 6-22 6-12 6-3 6-20 6-21 6-6 6-13 6-18 6 0 6 1 6-8 6 6 6 10 6-6 6 1 6 13 6 2 6 3 6 17 6 8 6 2 6 11 6-12 6-66 6-98 6-82 6-9 6 97 6 141 6 88 6 34 6 21 6 3 6-7 6 4 6 2 6-12 6-2 6 6 6-12 6-13 6-14 6-39 6-39 6 4 6 27 6 23 6 24 6 11 6-8 6 0 6 10 6-4 6-6 6 7 6-1 6-7 6 5 6 3 6-8 6 4 6 6 6-8 6-1 6 7 6-5 6-4 6 9 6 0 6-4 6 6 6 0 6-7 6 2 6 2 6-6 6 7 6 2 6-12 6 8 6 15 6-21 6-6 6 25 6-9 6-22 6 21 6 11 6-26 6 2 10 17"/>
<path d="M878 1666l6-7 6 5 6-3 6-5 6 11 6-7 6-13 6 17 6-3 6-20 6 13 6 2 6-26 6 4 6 5 6-22 6-3 6-3 6-19 6-3 6-8 6-22 6 2 6 3 6-16 6 5 6 11 6-6 6 1 6 12 6 6 6 4 6 9 6 11 6 8 6-7 6-28 6-50 6-63 6-43 6 23 6 86 6 94 6 53 6 24 6 25 6 7 6-21 6-5 6 12 6-9 6-17 6 1 6 3 6-10 6-7 6 2 6-2 6-9 6-2 6 4 6-4 6-7 6 1 6 6 6-2 6-4 6 4 6 4 6-6 6-7 6 3 6 5 6-4 6-2 6 5 6 2 6-5 6-3 6 5 6 1 6-3 6 1 6 3 6-2 6-5 6 3 6 5 6-4 6-4 6 5 6 3 6-5 6-2 6 4 6 1 6-7 6-1 6 4 6-8 6-17 6-5 6 11 6 11 10 7"/>
<path d="M878 1674l6-6 6 4 6 4 6-8 6-3 6 7 6-1 6-11 6-2 6 4 6-5 6-11 6-4 6-5 6-17 6-16 6-4 6-9 6-21 6-15 6-4 6-10 6-13 6 0 6 10 6 0 6-6 6 7 6 11 6 1 6 4 6 17 6 14 6 3 6 9 6 19 6 13 6 6 6 18 6 25 6 11 6 2 6 11 6 13 6-1 6-4 6 7 6 2 6-19 6-39 6-67 6-89 6-42 6 52 6 88 6 51 6 9 6 6 6 4 6-7 6-4 6 8 6 2 6-11 6-13 6-18 6-45 6-55 6-11 6 43 6 48 6 28 6 18 6 9 6-4 6-4 6 6 6 5 6-7 6-3 6 5 6 1 6-6 6 1 6 8 6-2 6-6 6 4 6 5 6-6 6-6 6 7 6 4 6-7 6-2 6 10 6 2 6-9 6-1 6 8 6-3 6-11 6 4 6 9 10-10"/>
<path d="M878 1664l6 6 6-5 6-6 6 6 6-3 6-8 6 3 6-4 6-12 6 0 6-3 6-14 6-5 6-3 6-17 6-10 6-6 6-18 6-13 6-2 6-13 6-12 6-1 6-6 6-7 6 6 6 1 6-2 6 13 6 8 6-1 6 7 6 9 6 1 6 14 6 19 6 6 6 11 6 19 6 6 6 6 6 13 6 3 6 0 6-1 6-38 6-93 6-114 6-76 6 25 6 112 6 96 6 16 6-36 6-41 6-10 6 46 6 62 6 31 6 13 6 11 6-3 6-1 6 9 6-4 6-7 6 6 6 0 6-5 6 5 6 0 6-8 6 5 6 4 6-8 6 4 6 7 6-7 6 0 6 8 6-4 6-3 6 4 6-5 6-4 6 7 6-2 6-5 6 8 6 1 6-8 6 4 6 4 6-6 6 6 6 5 6-7 6 0 6 4 6-7 6-2 6 6 6-4 6-4 10 7"/>
<path d="M878 1664l6-2 6 4 6-5 6-7 6 4 6 2 6-5 6 0 6-1 6-8 6-4 6-4 6-12 6-9 6-2 6-12 6-15 6-6 6-14 6-21 6-12 6-10 6-14 6-10 6-6 6-11 6-4 6 5 6-1 6-3 6 10 6 7 6 2 6 11 6 12 6 6 6 13 6 19 6 12 6 15 6 22 6 16 6 14 6 19 6 13 6 4 6 3 6-22 6-74 6-109 6-74 6 19 6 97 6 97 6 36 6-16 6-45 6-49 6-15 6 39 6 50 6 27 6 13 6 5 6-2 6 3 6 2 6-6 6-2 6 3 6-3 6-4 6 6 6 3 6-5 6 2 6 3 6-6 6-2 6 6 6-3 6-8 6 5 6 5 6-5 6-1 6 7 6 4 6-5 6-3 6 7 6 4 6-10 6-5 6 12 6 4 6-15 6-1 6 15 6-4 6-13 6 9 6 9 6-10 10 4"/>
<path d="M878 1672l6-3 6 4 6-5 6-1 6-1 6-8 6-1 6-6 6-10 6-3 6-10 6-8 6-6 6-17 6-8 6-11 6-16 6-9 6-19 6-10 6-7 6-10 6 3 6-9 6 2 6 8 6-8 6 18 6 0 6 7 6 24 6-8 6 26 6 14 6 2 6 40 6-4 6 22 6 29 6-10 6 30 6-20 6-55 6-72 6-125 6-24 6 64 6 94 6 103 6 29 6 11 6 7 6-15 6 5 6-8 6-5 6 7 6-6 6 4 6-5 6-6 6 5 6-6 6 3 6 3 6-4 6 3 6-5 6-4 6 6 6-3 6 1 6 2 6-4 6 4 6-1 6-2 6 4 6-3 6 2 6 4 6-4 6 2 6-1 6-4 6 3 6-1 6 0 6 2 6-6 6 1 6 3 6-3 6 6 6-1 6-4 6-2 6-19 6-14 6 7 6 13 6 15 6 5 6-5 10 2"/>
<path d="M878 1660l6 4 6 10 6-7 6-11 6 10 6 9 6-20 6-10 6 10 6-10 6-24 6-8 6-7 6-20 6-15 6-10 6-19 6-17 6-12 6-16 6-15 6-4 6-2 6-6 6 2 6 9 6 1 6-3 6 9 6 14 6 6 6 10 6 16 6 13 6 9 6 19 6 23 6 15 6 14 6 24 6 19 6 9 6 8 6 7 6-16 6-45 6-59 6-62 6-38 6 19 6 66 6 64 6 34 6 18 6 7 6-5 6-7 6 2 6-1 6-7 6-1 6 7 6-4 6-7 6 5 6 4 6-5 6-1 6 6 6 0 6-6 6 2 6 3 6-8 6-3 6 11 6 4 6-9 6-2 6 6 6-3 6-5 6 4 6 4 6-7 6-4 6-1 6-15 6-19 6 6 6 20 6 8 6 2 6 7 6 2 6-6 6 1 6 5 6-3 6-3 6 6 6 5 6-7 6-3 10 4"/>
<path d="M878 1663l6 2 6-9 6 0 6 7 6-5 6-6 6 5 6-1 6-13 6 1 6 6 6-13 6-13 6 0 6-5 6-18 6-8 6-5 6-17 6-15 6 1 6-6 6-14 6-3 6 2 6-10 6-3 6 10 6 4 6-2 6 9 6 3 6-38 6-81 6-79 6-19 6 74 6 121 6 90 6 35 6 20 6 20 6 8 6 1 6 13 6 10 6-7 6-4 6 8 6-3 6-11 6-5 6 1 6-1 6-7 6-15 6-21 6-48 6-76 6-23 6 69 6 77 6 16 6-14 6 3 6 14 6-1 6-7 6 3 6 6 6-8 6-4 6 9 6 5 6-10 6-2 6 6 6-6 6-7 6 8 6 4 6-9 6 1 6 8 6-3 6-4 6 8 6 2 6-10 6 0 6 8 6-5 6-5 6 9 6 2 6-10 6 2 6 7 6-5 6-5 6 6 6 2 6-5 6 4 10 2"/>
<path d="M878 1663l6-1 6 1 6 0 6 1 6-1 6-1 6 0 6-5 6-3 6-3 6-4 6-5 6-10 6-8 6-11 6-16 6-11 6-14 6-13 6-11 6-14 6-9 6-6 6-2 6 0 6-4 6 4 6 8 6 4 6 5 6 5 6 11 6 13 6 10 6 13 6 13 6 15 6 17 6 10 6 9 6 9 6-2 6-36 6-85 6-82 6-6 6 77 6 84 6 20 6-44 6-59 6-5 6 59 6 53 6 21 6 5 6-4 6 0 6-1 6-3 6-1 6-2 6 1 6 1 6-1 6 2 6-4 6-1 6 2 6-1 6 1 6-2 6 0 6 2 6-1 6 2 6 0 6-2 6 0 6-5 6 0 6 1 6 0 6 2 6-1 6 0 6 1 6-1 6 3 6-1 6-1 6 2 6-1 6 0 6 0 6 0 6 2 6-1 6-1 6 1 6 0 6 3 6-2 6 0 10 3"/>
<path d="M878 1669l6 0 6-2 6-2 6-3 6 0 6 2 6-5 6-8 6 2 6 5 6-17 6-18 6 5 6-1 6-26 6-21 6-5 6-11 6-19 6-15 6-8 6-6 6-3 6-2 6-1 6 0 6 3 6 6 6 3 6-3 6-23 6-58 6-93 6-86 6-14 6 80 6 128 6 114 6 70 6 34 6 16 6 9 6 4 6 3 6 2 6-1 6-3 6-3 6-4 6-4 6-3 6-5 6-5 6-1 6-1 6-2 6 0 6 0 6-2 6-1 6-1 6-2 6-1 6 2 6 2 6 0 6-2 6-1 6 0 6 1 6 1 6-1 6 0 6 0 6-1 6 0 6 2 6 1 6-2 6-13 6-34 6-34 6 4 6 36 6 29 6 10 6 3 6-1 6-1 6 2 6 0 6-2 6 1 6 1 6 0 6-2 6-2 6-1 6-1 6 1 6 1 6 1 6 1 6 0 10-1"/>
<path d="M878 1663l6 5 6-3 6-1 6 6 6-8 6-1 6 2 6-10 6-4 6-1 6-8 6-1 6-5 6-15 6-5 6-6 6-12 6-8 6-11 6-11 6-11 6-14 6-3 6-7 6-14 6 13 6 3 6-18 6 19 6 9 6-21 6 20 6 17 6-16 6 19 6 22 6-8 6 16 6 22 6 3 6 17 6 21 6 11 6 14 6-4 6-44 6-96 6-112 6-17 6 102 6 111 6 64 6 19 6-5 6 1 6 0 6-7 6 0 6-5 6-9 6 2 6-5 6-5 6 5 6-3 6-5 6 4 6-2 6 0 6 5 6-3 6 1 6 3 6-7 6 0 6 3 6-3 6 3 6 0 6-7 6 4 6 2 6-2 6 5 6-4 6-4 6 6 6-2 6-3 6 6 6-3 6-1 6 6 6-4 6 0 6 1 6-7 6 4 6 4 6-5 6 5 6 2 6-4 6 4 10-5"/>
<path d="M878 1665l6 3 6-1 6 0 6 0 6-2 6 1 6-6 6 3 6-6 6 0 6 0 6-18 6 6 6-14 6-1 6-3 6-23 6 10 6-22 6-6 6-4 6-17 6 8 6-16 6 1 6-1 6-6 6 8 6-2 6 3 6 4 6 7 6 8 6 6 6 9 6 10 6 9 6 10 6 13 6 12 6 13 6 15 6 12 6 9 6 6 6 5 6 2 6-4 6-21 6-64 6-109 6-80 6 25 6 102 6 89 6 39 6 8 6-5 6-8 6-3 6-1 6-2 6-3 6 0 6 1 6-2 6-1 6 2 6 1 6 0 6 1 6 0 6-3 6-2 6 1 6 0 6 0 6 0 6 0 6 1 6 0 6 2 6-2 6-3 6 0 6 1 6-1 6 0 6 4 6 0 6-4 6-2 6 2 6 2 6 1 6 1 6-2 6-3 6 0 6 2 6 1 6 0 6 3 6-1 10-4"/>
</g>
<g stroke="#1a1a1a" stroke-width="2.8">
<path d="M878 1659l8-1 8 0 8-1 8 0 8 0 8 0 8 0 8-1 8-3 8-5 8-8 8-15 8-26 8-38 8-50 8-60 8-63 8-57 8-41 8-18 8 11 8 42 8 62 8 71 8 66 8 56 8 42 8 32 8 25 8 22 8 19 8 17 8 14 8 8 8 2 8-2 8-4 8-7 8-8 8-9 8-10 8-9 8-7 8-7 8-7 8-5 8-5 8-3 8-2 8-2 8 0 8 1 8 0 8 1 8 0 8 0 8 0 8 1 8 0 8 0 8 0 8 0 8 0 8 0 8-1 8-1 8-1 8 0 8-1 8 0 8 0 8 0 8 1 8 1 8 1 8 0 8-1 8-1 10 0"/>
</g>
<g stroke="#199bd1" stroke-width="3">
<path d="M878 1660l6 11 6 1 6-7 6-1 6 3 6-7 6-7 6 2 6 1 6-9 6-7 6-1 6-7 6-14 6-7 6-3 6-13 6-17 6-13 6-9 6-7 6-18 6-19 6 6 6-4 6-28 6 13 6 26 6-19 6-4 6 28 6 4 6-7 6 15 6 19 6 8 6 10 6 20 6 16 6 1 6-17 6-52 6-93 6-68 6 40 6 126 6 109 6 50 6 22 6 10 6-4 6-8 6 0 6-1 6-13 6-11 6-1 6 0 6-11 6-11 6-1 6-3 6-8 6-1 6 5 6-4 6-9 6 0 6 6 6-3 6-5 6 3 6 4 6-5 6-2 6 6 6 4 6-6 6-3 6 6 6 0 6-7 6 1 6 8 6-2 6-7 6 3 6 5 6-5 6-4 6 5 6 1 6-16 6-20 6-5 6 12 6 12 6 10 6 10 6-2 6-6 6 2 6 4 6-4 10-3"/>
<path d="M878 1670l6-5 6 8 6 2 6-12 6 0 6 1 6-11 6 2 6 1 6-14 6 0 6 1 6-14 6-5 6-2 6-19 6-8 6-2 6-16 6-6 6 0 6-13 6-3 6 5 6-7 6 2 6 9 6-7 6-1 6 9 6-4 6 2 6 1 6-37 6-64 6-71 6-57 6 16 6 91 6 98 6 79 6 56 6 19 6 7 6 14 6 0 6-2 6 9 6-7 6-8 6 5 6-7 6-10 6 4 6-8 6-11 6 5 6-5 6-8 6 7 6-3 6-6 6 6 6-5 6-7 6 8 6 0 6-5 6 8 6-1 6-8 6 6 6-1 6-7 6 9 6 2 6-9 6 7 6 3 6-6 6 6 6 0 6-9 6 7 6 4 6-8 6 5 6 2 6-8 6 4 6 5 6-7 6 4 6 2 6-13 6-8 6-16 6-24 6 8 6 25 6 7 6 10 6 9 6-10 10 7"/>
<path d="M878 1680l6-8 6-5 6 6 6-14 6 20 6-21 6-5 6 14 6-21 6 6 6-14 6-3 6 0 6-30 6-5 6-12 6-14 6-13 6-12 6 2 6-10 6-15 6-4 6 4 6 0 6-2 6 8 6 14 6 5 6-1 6 7 6 15 6 9 6 4 6 12 6 20 6 13 6 8 6 14 6 18 6 11 6 5 6 7 6 16 6 5 6-11 6-8 6-19 6-87 6-114 6-19 6 74 6 69 6 50 6 39 6-3 6-19 6 9 6 5 6-13 6 2 6 5 6-8 6 0 6 4 6-6 6-1 6 6 6-1 6-7 6 4 6 5 6-6 6-5 6 5 6 3 6-5 6-3 6 8 6 5 6-7 6-5 6 4 6 4 6-5 6-3 6 5 6 3 6-6 6-1 6 6 6 2 6-6 6-2 6 6 6 0 6-5 6 0 6 5 6 0 6-7 6-4 6 8 6 3 10-8"/>
<path d="M878 1668l6-6 6 5 6 7 6-14 6-8 6 10 6 1 6-13 6-7 6 3 6-2 6-16 6-13 6-2 6-12 6-14 6-5 6-11 6-16 6-8 6-9 6-6 6 0 6-3 6-2 6 5 6 1 6 5 6 9 6 5 6 5 6 19 6-9 6 25 6 8 6 1 6 35 6-36 6 5 6-71 6-56 6-25 6 25 6 87 6 70 6 57 6 23 6 6 6 3 6-9 6-18 6-36 6-77 6-92 6-46 6 27 6 78 6 73 6 33 6 13 6 5 6-6 6-2 6-1 6-4 6 2 6 3 6-4 6 0 6 0 6-2 6 3 6 2 6-1 6 2 6-2 6-2 6 3 6-2 6-2 6 3 6-2 6-3 6 4 6-2 6-1 6 3 6-2 6 1 6 2 6-2 6 2 6 1 6-4 6 1 6 2 6-2 6 3 6 1 6-3 6 1 6 0 6-3 6 4 10-2"/>
</g></g>
<g transform="scale(.25)" fill="none" stroke-linejoin="round">
<g stroke="#1a1a1a" stroke-width="2.8">
<path d="M878 2119l8-1 8-2 8 0 8 1 8 1 8 0 8 1 8-1 8-1 8-2 8-3 8-6 8-12 8-20 8-30 8-36 8-40 8-36 8-23 8-5 8 19 8 38 8 45 8 43 8 32 8 23 8 16 8 12 8 11 8 12 8 10 8 8 8 6 8 4 8 1 8-1 8-3 8-5 8-6 8-5 8-5 8-5 8-4 8-4 8-2 8-1 8-1 8-2 8-1 8-1 8-1 8 1 8 0 8 1 8 0 8-1 8-1 8 0 8 0 8-1 8-1 8-1 8 1 8 1 8 2 8 0 8 0 8-1 8-1 8 0 8-1 8 0 8-1 8 0 8 0 8 2 8 1 8 2 10 1"/>
<path d="M878 2119l8 0 8 0 8-1 8 0 8-1 8 0 8-1 8 0 8-1 8-2 8-2 8-4 8-7 8-14 8-23 8-32 8-40 8-42 8-35 8-21 8-2 8 22 8 39 8 47 8 44 8 36 8 27 8 21 8 16 8 14 8 14 8 12 8 10 8 7 8 2 8-2 8-5 8-6 8-6 8-6 8-7 8-7 8-6 8-4 8-3 8-3 8-2 8-3 8-1 8-1 8 1 8 1 8 0 8-1 8 0 8 0 8-1 8-1 8-1 8 0 8 2 8 2 8 0 8 0 8-2 8-1 8 0 8 1 8 0 8 0 8 1 8 0 8-1 8-1 8-1 8 0 8 1 8 0 10 0"/>
<path d="M878 2118l8 1 8 0 8 0 8-1 8-1 8-1 8 0 8 1 8 1 8 0 8-2 8-3 8-4 8-8 8-12 8-21 8-28 8-31 8-28 8-19 8-5 8 11 8 22 8 29 8 29 8 26 8 22 8 15 8 12 8 10 8 9 8 8 8 7 8 6 8 3 8 0 8 0 8-3 8-3 8-4 8-3 8-2 8-3 8-3 8-3 8-4 8-2 8-2 8 0 8 0 8 1 8-1 8-1 8 0 8 0 8 0 8 0 8-1 8 0 8-1 8 1 8 0 8 0 8 0 8 0 8 1 8 1 8 1 8 0 8-1 8-1 8-1 8 0 8 0 8 0 8-1 8-1 8-1 10 1"/>
<path d="M878 2115l8 0 8-1 8 0 8 0 8 2 8 1 8 0 8 1 8 0 8-1 8-3 8-8 8-14 8-24 8-37 8-48 8-53 8-49 8-32 8-5 8 24 8 45 8 56 8 53 8 44 8 33 8 22 8 14 8 10 8 9 8 7 8 6 8 4 8 1 8 0 8-1 8-1 8-4 8-4 8-5 8-5 8-3 8-3 8-3 8-2 8-2 8-2 8-1 8 1 8-1 8 0 8-1 8 1 8 1 8 1 8 0 8-2 8-1 8 0 8 0 8 1 8 1 8 1 8 1 8 0 8 0 8-1 8-1 8 0 8-1 8 0 8-1 8 0 8-1 8 0 8 0 8 1 8-1 10-1"/>
<path d="M878 2119l8 1 8 0 8 0 8 0 8-1 8 0 8 0 8 1 8-1 8-2 8-7 8-13 8-23 8-33 8-45 8-51 8-48 8-33 8-11 8 13 8 32 8 44 8 50 8 47 8 40 8 31 8 24 8 18 8 16 8 12 8 8 8 4 8 0 8-1 8-2 8-4 8-4 8-5 8-5 8-4 8-3 8-3 8-3 8-2 8-3 8-1 8 0 8 0 8 1 8 1 8 1 8 0 8-1 8 0 8-1 8 0 8 1 8 0 8 0 8-1 8 0 8 1 8 1 8 0 8-1 8 0 8 0 8 0 8 0 8 0 8-1 8-1 8-1 8 0 8 1 8 2 8 1 8 0 10-1"/>
<path d="M878 2117l8 0 8 0 8 1 8 0 8-1 8 0 8 0 8 1 8 1 8 0 8 0 8-4 8-8 8-16 8-24 8-35 8-44 8-49 8-40 8-22 8 4 8 23 8 37 8 43 8 43 8 37 8 28 8 21 8 15 8 13 8 10 8 9 8 6 8 4 8 2 8 0 8-1 8-3 8-4 8-5 8-5 8-3 8-3 8-2 8-1 8 0 8-1 8-1 8-2 8-1 8 0 8-1 8-1 8 0 8 1 8 0 8 0 8 0 8 0 8 0 8-1 8 0 8-1 8 0 8-1 8 0 8 1 8 1 8 0 8 0 8 0 8 0 8 1 8 0 8 0 8 1 8-1 8-1 10-1"/>
<path d="M878 2118l8 0 8 1 8-1 8 0 8-1 8-1 8 0 8 0 8 0 8-1 8-2 8-1 8-1 8-4 8-8 8-13 8-20 8-22 8-19 8-12 8-1 8 7 8 13 8 19 8 19 8 18 8 15 8 13 8 12 8 12 8 12 8 11 8 8 8 4 8 1 8-2 8-2 8-2 8-2 8-3 8-3 8-5 8-4 8-3 8-1 8-2 8-2 8-1 8-1 8 0 8-1 8-1 8 0 8 0 8 0 8-1 8-2 8 0 8 0 8 0 8 0 8 1 8 0 8 1 8-1 8-1 8-1 8-1 8 0 8 0 8 1 8 2 8 1 8 0 8 0 8-1 8-1 8 0 10 1"/>
<path d="M878 2116l8 0 8 1 8 0 8 1 8 0 8 1 8 1 8 0 8-1 8-1 8-3 8-6 8-10 8-14 8-19 8-24 8-27 8-27 8-21 8-10 8 5 8 22 8 33 8 35 8 30 8 24 8 17 8 14 8 10 8 10 8 7 8 6 8 2 8 0 8-2 8-2 8-3 8-3 8-3 8-3 8-3 8-3 8-4 8-3 8-2 8-1 8-1 8-1 8-1 8 0 8 0 8 1 8 0 8 0 8 0 8 0 8 0 8 0 8 1 8 1 8 0 8-1 8 0 8-1 8 0 8 1 8 0 8 0 8 1 8 0 8-1 8-1 8 0 8 1 8 1 8-1 8-1 8-1 10 1"/>
<path d="M878 2123l8 0 8 0 8 0 8 1 8 0 8-1 8 0 8 0 8 1 8 0 8-1 8-3 8-5 8-9 8-14 8-21 8-26 8-28 8-25 8-17 8-3 8 12 8 23 8 29 8 29 8 25 8 22 8 17 8 14 8 12 8 10 8 10 8 7 8 3 8 1 8-1 8-3 8-4 8-4 8-5 8-4 8-4 8-4 8-2 8-1 8-2 8-1 8-2 8-1 8 0 8-1 8 0 8 1 8 1 8 1 8-1 8-1 8-2 8-1 8 0 8 0 8 1 8 0 8-1 8 0 8-2 8-1 8 0 8 0 8 1 8 0 8 0 8 0 8 0 8 0 8-1 8 1 8 1 10 2"/>
<path d="M878 2115l8 2 8 1 8 1 8 0 8-1 8 0 8-1 8-1 8-1 8 0 8-2 8-2 8-7 8-13 8-22 8-33 8-43 8-48 8-44 8-33 8-11 8 16 8 42 8 55 8 52 8 42 8 28 8 18 8 13 8 11 8 12 8 12 8 12 8 10 8 7 8 4 8 0 8-1 8-3 8-4 8-5 8-5 8-6 8-6 8-5 8-5 8-4 8-2 8-2 8-1 8-1 8 1 8 2 8 1 8 0 8-2 8-2 8-1 8-1 8 1 8 1 8 0 8-1 8 0 8 1 8 1 8 0 8-1 8 0 8 0 8 1 8 0 8-1 8-1 8 0 8 1 8 1 8 0 10-1"/>
<path d="M878 2118l8 0 8 0 8 0 8 0 8 0 8 1 8 0 8-1 8-1 8-2 8-3 8-6 8-8 8-12 8-15 8-19 8-20 8-14 8-7 8 5 8 17 8 23 8 24 8 22 8 16 8 12 8 10 8 10 8 11 8 10 8 9 8 6 8 1 8-2 8-3 8-5 8-5 8-6 8-7 8-7 8-6 8-5 8-4 8-3 8-3 8-1 8-1 8-1 8 0 8 0 8-1 8 0 8 0 8 0 8 0 8 0 8 0 8 1 8 0 8 1 8-1 8-2 8-2 8-2 8-1 8 1 8 1 8 2 8 0 8 0 8 1 8 1 8 1 8 0 8 0 8-1 8-1 8-1 10-1"/>
<path d="M878 2116l8 0 8 0 8 0 8 0 8 0 8 1 8 2 8 1 8-1 8-2 8-2 8-3 8-4 8-7 8-13 8-20 8-25 8-27 8-22 8-12 8 0 8 12 8 19 8 24 8 25 8 22 8 18 8 13 8 11 8 11 8 11 8 11 8 9 8 7 8 4 8 0 8-2 8-3 8-4 8-3 8-5 8-5 8-6 8-5 8-4 8-3 8-2 8-1 8-1 8-1 8-1 8-2 8-1 8 0 8 0 8 1 8 0 8 0 8 0 8 0 8 0 8 1 8 1 8 0 8-1 8-1 8-1 8 0 8 0 8 1 8 0 8 0 8 0 8-1 8-1 8 0 8 0 8 1 10 1"/>
<path d="M878 2119l8 0 8-1 8-2 8-1 8 0 8 0 8 1 8 0 8 0 8 0 8 0 8-2 8-4 8-7 8-9 8-13 8-16 8-17 8-15 8-10 8-2 8 9 8 16 8 20 8 19 8 15 8 11 8 10 8 9 8 9 8 10 8 10 8 10 8 8 8 3 8-1 8-2 8-3 8-5 8-6 8-6 8-6 8-6 8-4 8-4 8-3 8-3 8-2 8-2 8-1 8 0 8-1 8 0 8 0 8 2 8 0 8 0 8-1 8 0 8-1 8 0 8 1 8 0 8 1 8 0 8-1 8-1 8-1 8 0 8 1 8 1 8-1 8-1 8 0 8 0 8 0 8 1 8 0 10 0"/>
<path d="M878 2119l8 0 8 0 8-2 8-1 8 0 8 0 8 1 8 1 8 0 8-1 8-3 8-6 8-11 8-16 8-25 8-31 8-32 8-28 8-17 8-1 8 14 8 26 8 31 8 31 8 28 8 23 8 18 8 13 8 10 8 9 8 10 8 9 8 8 8 5 8 0 8-1 8-2 8-4 8-6 8-7 8-6 8-5 8-3 8-3 8-2 8-2 8-3 8-3 8-3 8-1 8 0 8 1 8 1 8 0 8 0 8-1 8-1 8-2 8-1 8 0 8 0 8 0 8 0 8 1 8 0 8 0 8 0 8-1 8 1 8 1 8 1 8 0 8 0 8 1 8 0 8 0 8 0 8 0 10-1"/>
<path d="M878 2118l8 0 8 1 8 1 8 0 8 0 8-1 8 0 8-1 8-2 8-1 8-3 8-4 8-11 8-19 8-28 8-34 8-38 8-35 8-26 8-11 8 7 8 24 8 35 8 39 8 38 8 31 8 24 8 18 8 13 8 11 8 9 8 9 8 6 8 3 8 0 8-1 8-2 8-1 8-3 8-4 8-5 8-5 8-4 8-4 8-2 8-2 8-1 8 0 8 0 8 0 8-1 8-2 8-1 8-1 8-1 8 1 8 1 8 2 8 1 8 0 8 0 8 0 8 0 8 1 8 0 8-1 8-3 8-2 8 0 8 0 8 1 8 1 8 1 8 0 8 0 8-1 8 0 8 0 10 0"/>
<path d="M878 2120l8-1 8-1 8-2 8 0 8 0 8 1 8 0 8 0 8-1 8-2 8-2 8-6 8-10 8-16 8-26 8-35 8-39 8-37 8-25 8-9 8 8 8 23 8 32 8 36 8 36 8 31 8 23 8 17 8 12 8 10 8 9 8 8 8 8 8 5 8 3 8-1 8-2 8-3 8-3 8-3 8-3 8-3 8-3 8-3 8-2 8-3 8-2 8-2 8-1 8-1 8 0 8-1 8 1 8 0 8 1 8 1 8 0 8 0 8 1 8 0 8-1 8 0 8-1 8 0 8 0 8-1 8 0 8 0 8 0 8-1 8-1 8 0 8 0 8 0 8-1 8 0 8 0 8 0 10 0"/>
<path d="M878 2118l8 0 8-2 8 0 8 0 8 2 8 1 8 1 8 0 8 0 8 0 8-1 8-2 8-4 8-8 8-13 8-20 8-23 8-23 8-18 8-9 8 3 8 13 8 22 8 25 8 24 8 19 8 15 8 12 8 11 8 8 8 7 8 4 8 3 8 0 8-1 8 0 8-1 8-2 8-3 8-3 8-2 8-2 8-2 8-2 8-3 8-1 8 0 8 1 8 1 8 1 8 0 8-1 8-1 8-1 8-1 8-1 8 0 8 0 8 1 8 2 8 1 8 1 8 0 8-1 8-1 8 0 8 0 8 1 8 0 8 0 8-2 8-1 8 0 8 1 8 1 8 1 8 0 8 0 10-1"/>
<path d="M878 2120l8 1 8 1 8 0 8 0 8-1 8-1 8-2 8 0 8 0 8-1 8-3 8-8 8-15 8-25 8-36 8-47 8-54 8-51 8-38 8-16 8 9 8 30 8 44 8 51 8 50 8 45 8 37 8 30 8 24 8 20 8 17 8 13 8 9 8 4 8 0 8-2 8-4 8-7 8-7 8-7 8-6 8-6 8-5 8-5 8-4 8-3 8-1 8-1 8-1 8 0 8-1 8-1 8 0 8 0 8 0 8 0 8-1 8-1 8 0 8 0 8 1 8 0 8-1 8 0 8 1 8 0 8 0 8 0 8 1 8 0 8 0 8 0 8-1 8 0 8 0 8 1 8 0 8 0 10-1"/>
<path d="M878 2116l8 1 8 0 8 0 8-1 8-1 8 1 8 0 8 1 8 0 8 0 8-2 8-5 8-10 8-20 8-33 8-45 8-56 8-57 8-44 8-20 8 11 8 39 8 56 8 58 8 50 8 39 8 27 8 18 8 15 8 12 8 13 8 12 8 10 8 7 8 3 8 0 8-3 8-4 8-6 8-7 8-8 8-8 8-6 8-5 8-4 8-4 8-2 8-3 8-1 8-2 8-2 8-2 8-1 8 1 8 1 8 1 8 1 8-1 8-1 8 0 8 0 8 0 8-1 8 0 8 0 8 0 8 0 8 0 8 1 8 0 8 0 8 0 8 0 8-1 8 0 8 0 8 0 8 0 10-2"/>
<path d="M878 2116l8-1 8 1 8 2 8 1 8 0 8-1 8 0 8 1 8 0 8-1 8-2 8-5 8-11 8-22 8-35 8-49 8-54 8-51 8-35 8-7 8 20 8 44 8 55 8 53 8 45 8 33 8 23 8 16 8 11 8 11 8 10 8 10 8 8 8 5 8 1 8-1 8-3 8-5 8-6 8-8 8-7 8-7 8-6 8-4 8-5 8-4 8-2 8-2 8-1 8 0 8 0 8-1 8 0 8-2 8-1 8-1 8 0 8 1 8 1 8 2 8 1 8 0 8 1 8 0 8-1 8-2 8-2 8 0 8 0 8 1 8 0 8-1 8 0 8-1 8 0 8 1 8 1 8 1 10-1"/>
<path d="M878 2116l8 0 8-1 8 0 8 1 8 1 8 2 8 1 8-1 8-1 8-2 8-2 8-4 8-6 8-14 8-20 8-30 8-35 8-36 8-26 8-9 8 7 8 19 8 28 8 31 8 31 8 26 8 22 8 16 8 12 8 9 8 7 8 6 8 5 8 4 8 1 8 0 8-1 8-3 8-3 8-3 8-3 8-4 8-3 8-3 8-1 8-1 8-2 8-2 8-1 8 0 8 0 8 0 8-1 8 0 8 0 8 0 8 1 8 0 8-1 8-1 8-1 8 0 8 0 8 0 8 1 8 1 8 2 8 2 8 0 8-1 8-1 8-1 8 0 8-1 8 0 8 0 8 0 8-1 10-1"/>
<path d="M878 2116l8-1 8-1 8 0 8 1 8 2 8 1 8 0 8 0 8-2 8-3 8-5 8-10 8-17 8-26 8-36 8-41 8-42 8-34 8-18 8 2 8 24 8 42 8 47 8 45 8 36 8 26 8 20 8 17 8 14 8 12 8 8 8 4 8 0 8-2 8-3 8-5 8-6 8-6 8-5 8-3 8-4 8-3 8-3 8-3 8-2 8-1 8 0 8-1 8-1 8-1 8-1 8 0 8 0 8 0 8 0 8 0 8-1 8-1 8 1 8 1 8 1 8 2 8 1 8 0 8-1 8-1 8-1 8-1 8 0 8-1 8 0 8 0 8-1 8 1 8 1 8 1 8 1 8 0 10-1"/>
<path d="M878 2118l8-1 8-1 8-1 8-1 8 0 8 0 8 1 8 0 8-1 8-1 8-1 8-2 8-7 8-12 8-21 8-28 8-32 8-31 8-23 8-9 8 8 8 24 8 34 8 34 8 31 8 25 8 20 8 15 8 13 8 12 8 12 8 9 8 5 8 1 8-3 8-4 8-6 8-6 8-7 8-5 8-5 8-4 8-3 8-4 8-4 8-3 8-2 8-1 8-1 8 1 8 0 8 0 8 0 8-1 8-1 8 0 8-1 8 0 8 0 8 1 8 1 8 0 8 1 8 0 8 1 8 0 8-1 8-1 8 0 8 0 8 0 8-1 8-1 8 1 8 1 8 1 8 1 8 0 10-1"/>
<path d="M878 2117l8 1 8-1 8-1 8 0 8-1 8-1 8 0 8 1 8-1 8-2 8-4 8-9 8-18 8-28 8-38 8-47 8-49 8-42 8-27 8-4 8 16 8 34 8 45 8 47 8 45 8 39 8 33 8 28 8 22 8 18 8 14 8 10 8 4 8 0 8-2 8-4 8-5 8-7 8-7 8-7 8-8 8-6 8-6 8-4 8-3 8-3 8-3 8-1 8-1 8 0 8 0 8-2 8 0 8 0 8 1 8 1 8-1 8 0 8-2 8-1 8 0 8 0 8 1 8 0 8 1 8 0 8 0 8 1 8 0 8 0 8 0 8-1 8-1 8 1 8 0 8-1 8 0 8-1 10 0"/>
<path d="M878 2114l8 0 8 0 8 1 8 1 8 1 8-1 8-1 8-1 8 0 8 1 8-1 8-7 8-13 8-19 8-26 8-30 8-30 8-21 8-8 8 7 8 18 8 25 8 30 8 29 8 26 8 21 8 18 8 15 8 14 8 11 8 7 8 4 8 0 8-3 8-4 8-5 8-4 8-5 8-6 8-8 8-7 8-6 8-4 8-2 8-4 8-3 8-2 8 1 8 2 8 1 8 1 8 0 8 0 8 0 8 0 8 0 8 1 8 0 8-1 8 0 8-1 8 1 8 0 8 1 8-1 8-1 8-2 8-1 8 0 8 1 8 1 8 1 8-1 8 0 8 0 8 2 8 1 8 1 10 0"/>
<path d="M878 2120l8 1 8 1 8 0 8 0 8-2 8-1 8 0 8 0 8 0 8 0 8 0 8-1 8-4 8-12 8-22 8-36 8-48 8-52 8-45 8-24 8 2 8 22 8 37 8 45 8 44 8 38 8 31 8 24 8 20 8 15 8 13 8 10 8 5 8 2 8-2 8-3 8-5 8-6 8-7 8-6 8-5 8-4 8-4 8-4 8-4 8-3 8-2 8-1 8 0 8 1 8 0 8 0 8 0 8-1 8-1 8-2 8 0 8 1 8 1 8 0 8 0 8-1 8 0 8 0 8 1 8 0 8 1 8 1 8 1 8 2 8 1 8 0 8-2 8-3 8-2 8 0 8 0 8 1 10-1"/>
<path d="M878 2123l8 1 8 1 8 1 8 0 8 0 8 0 8-1 8 0 8 0 8-2 8-4 8-6 8-10 8-16 8-25 8-33 8-38 8-37 8-27 8-14 8 2 8 22 8 36 8 42 8 41 8 34 8 25 8 18 8 14 8 11 8 10 8 9 8 5 8 2 8-1 8-1 8-3 8-4 8-5 8-4 8-3 8-3 8-3 8-3 8-3 8-2 8-2 8 0 8 0 8 0 8 0 8 0 8 1 8 1 8 0 8 0 8 0 8 1 8 0 8 0 8 0 8 0 8 0 8 0 8 0 8-1 8-2 8-1 8-1 8 0 8 0 8 1 8 0 8 1 8 1 8 1 8 2 8 0 10-1"/>
</g>
<g stroke="#199bd1" stroke-width="3">
<path d="M878 2115l6-2 6 5 6 1 6-6 6 0 6 6 6 0 6-3 6 2 6 1 6 1 6 0 6-6 6-4 6 9 6-3 6-19 6-4 6 0 6-24 6-26 6-10 6-22 6-36 6-24 6-16 6-21 6-16 6 0 6 7 6 5 6 12 6 25 6 30 6 24 6 25 6 30 6 24 6 15 6 19 6 23 6 16 6 0 6-11 6-29 6-51 6-43 6 4 6 48 6 49 6 27 6 18 6 7 6-9 6-14 6-3 6 2 6-6 6-8 6 0 6 0 6-8 6-7 6 4 6 3 6-7 6-6 6 4 6 3 6-3 6-1 6 4 6 1 6-6 6 1 6 8 6 2 6-6 6 1 6 5 6-3 6-6 6 2 6 6 6-4 6-5 6 3 6 7 6-2 6-5 6 3 6 5 6-6 6-7 6 4 6 4 6-5 6-3 6 6 6 2 6-9 6-17 6-22 6-32 10-32"/>
<path d="M878 2127l6-1 6-3 6 4 6 0 6-6 6 0 6 4 6-1 6-2 6 5 6 3 6-5 6-3 6 1 6-5 6-6 6 1 6 4 6-6 6-10 6-4 6-5 6-14 6-12 6-6 6-10 6-10 6-1 6 3 6-1 6 3 6 10 6 8 6 4 6 11 6 13 6 5 6 6 6 13 6 13 6 5 6 6 6 9 6 3 6-9 6-19 6-37 6-55 6-41 6-1 6 34 6 49 6 47 6 31 6 6 6-6 6 0 6 1 6-5 6-4 6 0 6-4 6-9 6-1 6 2 6-5 6-6 6 0 6 0 6-6 6 0 6 3 6-10 6-28 6-28 6-13 6 4 6 21 6 30 6 18 6 3 6 1 6 4 6-1 6-3 6 4 6 3 6-3 6 0 6 4 6-2 6-6 6 1 6 4 6-3 6-4 6 3 6 3 6-2 6 0 6 2 6-3 6-4 6 4 10 1"/>
</g>
<g stroke="#1a1a1a" stroke-width="2.8">
<path d="M878 2117l8-2 8-2 8-2 8-1 8 1 8 1 8 2 8 1 8 0 8-1 8-1 8-3 8-6 8-14 8-24 8-37 8-48 8-51 8-41 8-21 8 6 8 25 8 39 8 46 8 44 8 37 8 28 8 20 8 15 8 13 8 12 8 12 8 9 8 6 8 1 8 0 8-2 8-3 8-4 8-5 8-6 8-5 8-4 8-2 8-2 8 0 8 0 8-1 8-1 8-2 8-1 8-1 8-1 8-1 8 1 8 1 8 0 8-1 8 0 8 0 8 1 8 1 8 0 8 0 8 1 8 0 8 0 8 0 8-1 8 0 8 0 8 0 8 0 8-1 8-1 8-1 8 0 8 1 10 1"/>
</g>
<g stroke="#199bd1" stroke-width="3">
<path d="M878 2106l6 5 6 5 6-6 6-2 6 14 6-8 6-10 6 20 6-7 6-13 6 21 6-7 6-15 6 16 6-10 6-10 6 8 6-19 6-14 6-2 6-29 6-25 6-12 6-28 6-30 6-17 6-14 6-13 6 0 6 9 6 8 6 11 6 25 6 28 6 19 6 19 6 28 6 22 6 15 6 18 6 21 6 13 6 8 6 13 6 8 6 1 6 2 6 8 6-1 6-14 6-19 6-33 6-48 6-30 6 13 6 34 6 26 6 18 6 10 6-3 6-5 6 2 6 1 6-6 6-2 6 3 6-1 6-7 6 1 6 6 6-1 6-3 6 4 6 2 6-5 6-2 6 3 6 2 6-4 6 2 6 8 6-8 6-7 6 13 6-3 6-14 6 12 6 0 6-21 6-5 6-20 6-24 6 16 6 15 6 9 6 29 6 3 6-12 6 18 6 0 6-17 6 12 6 2 6-16 10 16"/>
</g>
<g stroke="#1a1a1a" stroke-width="2.8">
<path d="M878 2114l8 0 8 2 8 1 8 0 8 0 8-1 8 0 8-1 8-2 8-1 8-2 8-2 8-5 8-10 8-19 8-28 8-36 8-39 8-38 8-29 8-13 8 5 8 26 8 39 8 43 8 40 8 34 8 27 8 19 8 14 8 10 8 9 8 6 8 3 8 0 8 0 8-1 8-2 8-3 8-3 8-3 8-4 8-2 8-2 8-1 8 0 8 0 8 0 8-1 8-1 8-1 8-1 8 0 8-1 8 0 8-1 8 1 8 1 8 0 8 0 8 0 8 0 8 0 8-1 8 1 8 0 8 1 8 1 8 1 8 1 8 0 8 0 8 0 8 0 8-2 8-1 8-1 8-2 10 0"/>
</g>
<g stroke="#199bd1" stroke-width="3">
<path d="M878 2122l6-4 6 0 6 7 6-12 6 6 6 8 6-15 6 17 6-2 6-14 6 22 6-13 6-6 6 17 6-21 6 1 6 6 6-24 6 3 6-11 6-22 6-3 6-27 6-10 6-22 6-28 6-3 6-29 6 6 6-2 6-5 6 26 6 4 6 20 6 27 6 18 6 26 6 23 6 17 6 14 6 16 6 10 6 10 6 10 6 3 6-3 6-12 6-36 6-43 6-25 6 3 6 26 6 37 6 23 6 6 6 2 6-4 6-4 6 0 6-6 6-7 6-1 6-2 6-5 6 0 6 0 6-2 6 1 6-4 6-3 6 4 6 1 6-3 6 1 6 0 6 0 6 4 6-1 6-3 6 3 6-1 6-3 6 2 6-2 6-1 6 5 6 1 6-4 6 2 6 1 6-3 6 3 6 1 6-2 6 2 6-3 6-4 6 3 6 1 6-2 6 3 6 2 6-3 6 3 10 0"/>
</g>
<g stroke="#1a1a1a" stroke-width="2.8">
<path d="M878 2119l8 1 8 1 8 0 8 0 8-2 8-3 8-1 8 0 8 1 8 0 8 0 8-2 8-4 8-8 8-13 8-19 8-21 8-20 8-15 8-6 8 6 8 16 8 21 8 22 8 19 8 15 8 12 8 9 8 8 8 8 8 8 8 7 8 5 8 1 8-1 8-2 8-2 8-2 8-2 8-3 8-3 8-4 8-2 8-2 8-1 8-1 8-2 8-1 8-1 8 0 8 1 8 1 8 0 8 0 8 0 8 0 8 0 8 0 8 0 8 0 8-1 8-1 8-1 8 0 8 0 8 1 8 1 8 1 8 0 8 0 8-1 8-1 8 0 8 1 8 0 8 2 8 1 8 0 10-1"/>
</g>
<g stroke="#199bd1" stroke-width="3">
<path d="M878 2120l6 0 6 8 6-7 6-3 6 10 6-2 6-6 6 1 6 0 6-2 6 2 6 2 6 0 6-2 6-4 6-3 6 2 6-3 6-4 6 5 6-5 6-12 6 6 6-5 6-21 6 7 6 3 6-28 6 1 6 17 6-22 6-6 6 26 6-7 6-9 6 29 6 7 6-13 6 21 6 16 6-9 6 10 6 21 6 0 6 3 6 20 6 6 6-5 6 12 6 11 6-11 6 5 6 14 6-20 6-8 6 20 6-18 6-17 6 23 6-15 6-27 6 24 6-3 6-32 6 19 6 6 6-29 6 9 6 13 6-19 6 4 6 14 6-13 6-5 6 8 6-9 6-13 6-8 6-20 6-17 6 3 6 14 6 14 6 15 6 10 6 2 6 4 6 4 6 0 6-1 6-1 6-1 6 2 6-1 6-2 6 0 6-2 6-1 6 1 6 1 6 2 6 0 6 1 6 2 10-2"/>
<path d="M878 2121l6 4 6-2 6-3 6 1 6 1 6-1 6 1 6 2 6-1 6-3 6 1 6 3 6 0 6-1 6 0 6 2 6-3 6-7 6-4 6-3 6-10 6-11 6-10 6-14 6-17 6-18 6-15 6-8 6-6 6-18 6-2 6 19 6 1 6-17 6-11 6-31 6-34 6 10 6 43 6 73 6 72 6 24 6 23 6 34 6-6 6 1 6 26 6-9 6-8 6 15 6-13 6-14 6 7 6-10 6-9 6 3 6-15 6-10 6 6 6-5 6-9 6 0 6-2 6-6 6-2 6 1 6 2 6-1 6-5 6-1 6 1 6-3 6-3 6 2 6 4 6 0 6-2 6 3 6 3 6-2 6-5 6 0 6 2 6-2 6-2 6 3 6 3 6 0 6-1 6 2 6 0 6-5 6-3 6 3 6 2 6-2 6-1 6 2 6 0 6 0 6 3 6 3 6-2 6-2 10-1"/>
<path d="M878 2123l6 3 6-9 6 4 6 4 6-6 6 4 6 3 6-10 6 2 6 6 6-6 6 0 6 8 6-7 6-6 6 2 6-10 6-11 6 1 6-11 6-18 6-7 6-14 6-24 6-14 6-18 6-24 6-7 6-5 6-16 6 1 6 10 6 5 6 18 6 26 6 10 6 14 6 21 6-1 6-11 6-11 6-25 6-21 6 13 6 29 6 38 6 52 6 35 6 11 6 16 6 10 6-6 6 1 6 3 6-11 6-3 6 4 6-9 6-7 6-1 6-9 6-5 6 6 6-6 6-5 6 7 6-5 6-9 6 6 6 0 6-8 6 7 6 2 6-8 6 5 6 5 6-10 6-1 6 6 6-5 6-4 6 0 6 0 6 11 6 1 6-19 6 7 6 27 6-18 6-25 6 23 6 16 6-21 6-7 6 13 6 2 6-3 6-4 6-4 6 8 6 5 6-7 6 2 6 5 10-11"/>
</g>
<g stroke="#1a1a1a" stroke-width="2.8">
<path d="M878 2116l8 0 8-1 8 0 8 0 8-1 8 0 8 0 8 1 8-1 8-1 8-4 8-5 8-10 8-19 8-31 8-45 8-54 8-50 8-35 8-8 8 14 8 33 8 43 8 47 8 43 8 39 8 31 8 26 8 20 8 17 8 12 8 9 8 7 8 2 8-1 8-3 8-5 8-5 8-4 8-4 8-6 8-6 8-5 8-4 8-3 8-1 8 1 8 1 8 0 8 0 8 0 8-1 8-1 8 0 8-1 8 0 8 1 8 0 8 1 8 1 8-1 8-1 8-2 8 0 8 0 8 1 8 1 8 0 8-1 8-1 8 0 8 0 8 1 8 2 8 1 8 0 8-1 8-1 10 0"/>
</g>
<g stroke="#199bd1" stroke-width="3">
<path d="M878 2109l6 3 6 4 6-3 6-5 6 1 6 4 6-2 6-3 6 4 6 3 6-8 6-3 6 5 6-1 6-9 6-3 6 0 6-9 6-18 6-17 6-16 6-24 6-27 6-22 6-21 6-26 6-18 6-4 6 0 6 2 6 15 6 26 6 25 6 24 6 30 6 29 6 16 6 15 6 19 6 14 6 0 6-7 6-16 6-30 6-32 6-6 6 25 6 36 6 33 6 28 6 16 6 1 6-5 6 0 6-3 6-12 6-8 6 0 6-4 6-10 6-3 6 2 6-5 6-9 6 2 6 4 6-10 6-2 6 9 6-6 6-3 6 12 6-5 6-7 6 12 6-7 6-9 6 14 6-5 6-11 6 16 6 2 6-17 6 6 6 9 6-9 6-2 6 9 6 0 6-6 6 1 6 4 6-2 6-6 6 2 6 5 6-2 6-2 6 4 6 3 6-2 6-2 6 2 6-2 10-7"/>
<path d="M878 2116l6 2 6 4 6-5 6-1 6 6 6-1 6-6 6 3 6 1 6-6 6 1 6 6 6-3 6-4 6 6 6 0 6-7 6-1 6 0 6-14 6-13 6-7 6-18 6-23 6-17 6-18 6-28 6-22 6-12 6-19 6-15 6 2 6 5 6 4 6 17 6 24 6 18 6 20 6 31 6 22 6 12 6 18 6 11 6-13 6-25 6-28 6-37 6-28 6 9 6 36 6 38 6 43 6 40 6 16 6 1 6 3 6 0 6-8 6-4 6-1 6-6 6-4 6 1 6-1 6-7 6 0 6 2 6-5 6 0 6 6 6-1 6-6 6 3 6 1 6-3 6 4 6 4 6-7 6-1 6 8 6-4 6-7 6 8 6 2 6-15 6 3 6 18 6-8 6-17 6 13 6 13 6-19 6-7 6 23 6 1 6-22 6 5 6 17 6-11 6-11 6 15 6 8 6-12 6 0 10 7"/>
</g>
<g stroke="#1a1a1a" stroke-width="2.8">
<path d="M878 2118l8 0 8-1 8-1 8-1 8 0 8 0 8 0 8 0 8 0 8-1 8-3 8-6 8-13 8-24 8-34 8-45 8-50 8-49 8-36 8-13 8 13 8 38 8 51 8 52 8 46 8 35 8 26 8 17 8 13 8 10 8 10 8 9 8 8 8 5 8 2 8-1 8-3 8-4 8-5 8-5 8-5 8-5 8-5 8-4 8-3 8-2 8-2 8-1 8-2 8-1 8 0 8 2 8 1 8 1 8 0 8-1 8 0 8-1 8 0 8-1 8-1 8-1 8 0 8 1 8 0 8-1 8 0 8 0 8 0 8 1 8 0 8 0 8 1 8 1 8 1 8-1 8-1 8-1 10 0"/>
</g>
<g stroke="#199bd1" stroke-width="3">
<path d="M878 2115l6 5 6-7 6 4 6 0 6-3 6 7 6-7 6 0 6 3 6-6 6 3 6-3 6 1 6-2 6-4 6-7 6-5 6 1 6-25 6 11 6-39 6-11 6-11 6-39 6 7 6-40 6-6 6-20 6-16 6 0 6-9 6 19 6 12 6 24 6 27 6 14 6 18 6-7 6-20 6-16 6-16 6 19 6 39 6 45 6 46 6 23 6 22 6 15 6 3 6 11 6-1 6 0 6 4 6-8 6 0 6-6 6-8 6 3 6-9 6-3 6-1 6-9 6 0 6-11 6-6 6 2 6-10 6-11 6-34 6-53 6-36 6-13 6 35 6 50 6 31 6 24 6 2 6 2 6 6 6-6 6 6 6-2 6-4 6 7 6-5 6 5 6 2 6-7 6 5 6-4 6-2 6 5 6-4 6 6 6-2 6-4 6 6 6-5 6 5 6 4 6-6 6 3 6-6 6 1 10-1"/>
<path d="M878 2118l6 5 6-3 6-3 6 6 6 1 6-4 6 3 6-2 6-3 6 5 6 0 6-5 6 4 6-1 6-6 6 3 6-4 6-11 6-5 6-10 6-19 6-12 6-17 6-25 6-19 6-19 6-27 6-15 6-8 6-9 6 2 6 11 6 9 6 21 6 26 6 19 6 22 6 23 6 14 6 18 6 20 6 9 6 11 6 14 6 4 6 2 6-2 6-26 6-47 6-50 6-32 6 15 6 56 6 46 6 24 6 14 6-2 6-7 6 0 6-6 6-6 6 4 6-2 6-6 6 2 6-2 6-5 6 4 6 1 6-2 6 4 6-1 6-7 6 2 6-2 6-5 6 4 6 2 6-5 6 1 6 1 6-6 6 3 6 5 6-4 6 3 6 4 6-4 6 2 6 4 6-5 6-1 6 5 6-6 6-3 6 2 6-3 6 1 6 7 6-2 6-3 6 5 6-2 6 1 10 5"/>
<path d="M878 2108l6 8 6 32 6-21 6-25 6 35 6 11 6-40 6 7 6 32 6-28 6-21 6 32 6-1 6-28 6 13 6 13 6-18 6-5 6 0 6-13 6-14 6-14 6-17 6-14 6-23 6-22 6-13 6-21 6-18 6-4 6-7 6-5 6 13 6 13 6 16 6 29 6 23 6 20 6 23 6 1 6-18 6-26 6-33 6-10 6 33 6 49 6 51 6 45 6 17 6 3 6 6 6-4 6-5 6 2 6-8 6-7 6 2 6-6 6-7 6 0 6-7 6-5 6 3 6-6 6-4 6 5 6-2 6-2 6 6 6-6 6-3 6 4 6-4 6-3 6 5 6-4 6 0 6 7 6-3 6-1 6 5 6-5 6-1 6 4 6-6 6-6 6-9 6-31 6-27 6 1 6 15 6 26 6 25 6 4 6 0 6 6 6-3 6 3 6 5 6-7 6-3 6 6 6-3 6 2 10 2"/>
<path d="M878 2115l6 2 6-5 6-2 6 4 6-2 6 1 6 3 6-4 6 0 6 2 6-3 6 1 6 2 6-2 6 1 6 2 6-5 6-2 6 1 6-7 6-4 6-5 6-12 6-8 6-9 6-13 6-8 6-5 6-8 6-2 6 1 6-1 6 7 6 12 6 8 6 14 6 16 6 12 6 15 6 10 6-1 6-8 6-28 6-64 6-66 6-31 6 26 6 70 6 69 6 40 6 18 6 5 6-4 6-2 6-4 6-9 6-3 6-3 6-7 6-3 6-2 6-5 6 2 6 0 6-3 6 2 6 2 6-5 6-1 6-1 6-3 6 2 6 1 6-3 6 2 6 0 6-2 6 4 6 1 6-6 6 2 6 4 6-2 6 3 6 0 6-4 6 2 6 1 6-4 6 1 6 2 6-3 6 4 6 3 6-4 6 1 6-2 6-3 6 2 6-3 6-10 6-20 6-39 6-27 10 51"/>
<path d="M878 2127l6-5 6-1 6 8 6-8 6-4 6 10 6-4 6-4 6 9 6-4 6-5 6 10 6-3 6-8 6 7 6-3 6-8 6 4 6-9 6-16 6-1 6-12 6-24 6-10 6-15 6-25 6-11 6-15 6-23 6-2 6 1 6-7 6 14 6 18 6 11 6 28 6 27 6 13 6 25 6 24 6 6 6 17 6 20 6 3 6 13 6 12 6-6 6 2 6 3 6-26 6-31 6-29 6-34 6-4 6 27 6 24 6 26 6 22 6-5 6-6 6 5 6-8 6-3 6 9 6-9 6-7 6 6 6-5 6-4 6 10 6-4 6-8 6 7 6-3 6-7 6 8 6 0 6-5 6 10 6-1 6-9 6 5 6-2 6-9 6 8 6 3 6-9 6 6 6 3 6-7 6 7 6 3 6-10 6 6 6 3 6-8 6 3 6 4 6-9 6 5 6 6 6-7 6 4 6 5 10-11"/>
<path d="M878 2123l6-8 6 4 6 8 6-8 6-1 6 5 6-8 6 0 6 7 6-4 6-1 6 10 6-5 6-8 6 6 6-1 6-8 6 5 6 1 6-11 6 0 6-1 6-13 6-4 6 1 6-13 6-6 6 2 6-10 6-6 6 6 6-3 6-5 6 12 6 6 6-1 6 12 6 7 6-1 6 13 6 14 6-3 6 0 6-13 6-53 6-59 6-27 6 12 6 55 6 71 6 37 6 8 6 9 6 0 6-7 6 6 6 2 6-11 6 1 6 2 6-10 6-3 6 1 6-6 6-3 6 1 6-2 6-1 6 2 6 1 6-1 6-6 6-2 6 6 6-1 6-2 6 7 6-3 6-9 6 8 6 3 6-10 6 4 6 5 6-9 6 0 6 7 6-3 6-2 6 4 6 0 6-2 6 2 6 3 6-4 6-7 6 5 6 3 6-7 6 2 6 6 6-8 6-7 6-7 10-41"/>
<path d="M878 2126l6 0 6-5 6 0 6 1 6-3 6 2 6-1 6-1 6 1 6-3 6 3 6 1 6-1 6 0 6-5 6-1 6-1 6-4 6-3 6-11 6-10 6-10 6-14 6-11 6-19 6-19 6-13 6-15 6-10 6-9 6-7 6 3 6 4 6 11 6 15 6 11 6 7 6-10 6-16 6-8 6 1 6 25 6 38 6 41 6 36 6 21 6 17 6 9 6 1 6 4 6-3 6-2 6-4 6-7 6-1 6-4 6-4 6-3 6-8 6-3 6-6 6-6 6 1 6-3 6 0 6-2 6-3 6 3 6-3 6-1 6 1 6-5 6 1 6-1 6-1 6 2 6-1 6 2 6 1 6 1 6 0 6-5 6 6 6-4 6-2 6 10 6-13 6 4 6 8 6-18 6 16 6 2 6-18 6 22 6-11 6-10 6 21 6-13 6-1 6 11 6-14 6 5 6 5 6-5 10 5"/>
</g>
<g stroke="#1a1a1a" stroke-width="2.8">
<path d="M878 2115l8 1 8 3 8 1 8 0 8-1 8-1 8-1 8 1 8 0 8-1 8-2 8-4 8-7 8-11 8-18 8-25 8-31 8-33 8-30 8-22 8-8 8 10 8 28 8 36 8 37 8 32 8 25 8 18 8 13 8 10 8 10 8 9 8 7 8 5 8 2 8 0 8-1 8-3 8-3 8-2 8-2 8-1 8-2 8-2 8-1 8-1 8-2 8-2 8-1 8-1 8 0 8 0 8 1 8 1 8-1 8-2 8-1 8 0 8 1 8 1 8 1 8 0 8 1 8 1 8 0 8 0 8 0 8-1 8-2 8-1 8 0 8 1 8 0 8 0 8 0 8-1 8 0 8 0 10 1"/>
</g>
<g stroke="#199bd1" stroke-width="3">
<path d="M878 2109l6 3 6 10 6-6 6-6 6 16 6 5 6-19 6 6 6 13 6-19 6-4 6 21 6-11 6-15 6 19 6-1 6-22 6 7 6 5 6-21 6-9 6 0 6-23 6-23 6-6 6-12 6-18 6-7 6-3 6-6 6 0 6-3 6-25 6-38 6-32 6-12 6 19 6 58 6 66 6 50 6 37 6 28 6 12 6 8 6 12 6 7 6 1 6 7 6 7 6-2 6-2 6 2 6-7 6-9 6-1 6-2 6-9 6-4 6-4 6-11 6-6 6 2 6-5 6-8 6 1 6 1 6-5 6 1 6 2 6-4 6-2 6 5 6-3 6-6 6 3 6 1 6-6 6 2 6 6 6-3 6-2 6 7 6 0 6-5 6 2 6 1 6-4 6 0 6 3 6-3 6-2 6 5 6-1 6-5 6 3 6 2 6-5 6-5 6-12 6-36 6-31 6 14 6 36 6 21 10 17"/>
<path d="M878 2121l6-6 6 3 6 2 6-5 6 4 6 3 6-7 6 1 6 2 6-5 6 4 6 4 6-6 6 1 6 4 6-9 6-4 6 0 6-10 6-7 6-4 6-16 6-17 6-11 6-21 6-20 6-11 6-19 6-16 6 0 6-2 6-2 6 11 6 10 6 11 6 26 6 22 6 16 6 24 6 14 6 2 6 4 6-14 6-38 6-42 6-45 6-35 6 6 6 40 6 52 6 56 6 45 6 18 6 12 6 6 6-6 6 0 6 3 6-10 6-5 6 3 6-5 6-5 6 2 6-5 6-4 6 3 6-5 6-3 6 7 6-3 6-6 6 6 6-2 6-3 6 4 6-3 6-4 6 8 6 1 6-4 6 4 6-2 6-6 6 4 6-1 6-8 6 2 6 3 6-3 6 6 6 4 6-8 6 1 6 5 6-4 6 0 6 3 6-5 6 2 6 6 6-7 6 0 6 6 10-5"/>
<path d="M878 2117l6-7 6 6 6 2 6-8 6 2 6 10 6-1 6-9 6 4 6 5 6-7 6-4 6 7 6 3 6-9 6-1 6 6 6-7 6-8 6 4 6 0 6-15 6-9 6 1 6-11 6-23 6-11 6-6 6-16 6-14 6 6 6 4 6-6 6 5 6 14 6 2 6-11 6-7 6-9 6-17 6-2 6 23 6 32 6 30 6 33 6 30 6 12 6 4 6 14 6 11 6-1 6-1 6 5 6-2 6-8 6 0 6 3 6-10 6-11 6 2 6-1 6-13 6-9 6 1 6-8 6-11 6 4 6 6 6-6 6-6 6 4 6-1 6-9 6 2 6 8 6-3 6-9 6 6 6 8 6-6 6-2 6 5 6-3 6-8 6 3 6 5 6-6 6-3 6 8 6 2 6-7 6 1 6 8 6-2 6-8 6 4 6 6 6-6 6-4 6 6 6-3 6-16 6-6 6 9 10 3"/>
</g>
<g stroke="#1a1a1a" stroke-width="2.8">
<path d="M878 2122l8 1 8 0 8-1 8 1 8-1 8-1 8-1 8-1 8 0 8-1 8-2 8-6 8-9 8-14 8-19 8-24 8-23 8-19 8-9 8 0 8 9 8 18 8 23 8 25 8 26 8 23 8 19 8 16 8 14 8 12 8 9 8 4 8 0 8-1 8-4 8-5 8-7 8-8 8-7 8-6 8-5 8-3 8-3 8-3 8-3 8-1 8 0 8 0 8 1 8-1 8-1 8-2 8 0 8 0 8 1 8 1 8-1 8 0 8-1 8 1 8 1 8 1 8-1 8-1 8-1 8-1 8 1 8 0 8 0 8 0 8 0 8 0 8 0 8 1 8 0 8 0 8 1 8-1 10 0"/>
</g>
<g stroke="#199bd1" stroke-width="3">
<path d="M878 2118l6-2 6 0 6 3 6-6 6 8 6 2 6-14 6 14 6-1 6-6 6 17 6-19 6-2 6 17 6-17 6-8 6 7 6 2 6-9 6-16 6-1 6 0 6-20 6-17 6 0 6-6 6-19 6-13 6-1 6 0 6-3 6 4 6 10 6 3 6-23 6-48 6-46 6-22 6 19 6 70 6 81 6 50 6 31 6 23 6 1 6-1 6 14 6-1 6-9 6 10 6-2 6-14 6 7 6 4 6-18 6-3 6 3 6-14 6-2 6 11 6-8 6-6 6 7 6-3 6-7 6 2 6 0 6-4 6 1 6 2 6-2 6 0 6 0 6-1 6-3 6 0 6 0 6 0 6 2 6 3 6-3 6-9 6-16 6-19 6-4 6 16 6 19 6 11 6 5 6 0 6-3 6 1 6 3 6-1 6-1 6 2 6 0 6-1 6 1 6-1 6 0 6 2 6-1 6-2 10 1"/>
</g>
<g stroke="#1a1a1a" stroke-width="2.8">
<path d="M878 2113l8-1 8 1 8 2 8 1 8 0 8-1 8-1 8-1 8 1 8-1 8-2 8-5 8-9 8-13 8-21 8-28 8-35 8-35 8-32 8-21 8-5 8 14 8 29 8 38 8 40 8 34 8 26 8 19 8 12 8 9 8 7 8 6 8 7 8 6 8 5 8 2 8 0 8 0 8-2 8-2 8-4 8-3 8-2 8-2 8-2 8-3 8-2 8-1 8-1 8-1 8-1 8-1 8 0 8 1 8 1 8 1 8 0 8 0 8-1 8 0 8 0 8 0 8 0 8 0 8 1 8 0 8-1 8 0 8 0 8 1 8 2 8 0 8-1 8-1 8 0 8 2 8 1 8 1 10 0"/>
</g>
<g stroke="#199bd1" stroke-width="3">
<path d="M878 2117l6 22 6-22 6 8 6 15 6-27 6 29 6-14 6-8 6 20 6-28 6 16 6-2 6-16 6 13 6-20 6-6 6-3 6-26 6-3 6-17 6-32 6-3 6-36 6-28 6 3 6-43 6 1 6 5 6-25 6 36 6 13 6 17 6 47 6 19 6 33 6 30 6 17 6 22 6 12 6 13 6 10 6 4 6-2 6-21 6-36 6-42 6-30 6 6 6 31 6 41 6 35 6 13 6 3 6-2 6-7 6-3 6-6 6-7 6-3 6-4 6-3 6-4 6-4 6 2 6-3 6-1 6 2 6-3 6 1 6-1 6-1 6 2 6-3 6 0 6 3 6-2 6 2 6-2 6-4 6 1 6-2 6 5 6 4 6-2 6-2 6-4 6 0 6 6 6 0 6 2 6 0 6-2 6 2 6-3 6-1 6 2 6-2 6 2 6-1 6-2 6 2 6 0 6 2 6 2 10 0"/>
<path d="M878 2122l6 5 6-4 6-3 6 5 6 2 6-8 6-1 6 9 6 1 6-6 6 3 6 2 6-7 6-2 6 7 6-1 6-8 6 0 6 0 6-12 6-12 6-6 6-16 6-26 6-19 6-16 6-27 6-24 6-9 6-8 6-9 6 7 6 17 6 12 6 18 6 31 6 27 6 15 6 21 6 26 6 13 6 5 6 10 6 2 6-20 6-30 6-36 6-42 6-17 6 33 6 59 6 48 6 33 6 23 6 2 6-10 6-2 6-2 6-13 6-10 6 1 6-5 6-10 6-2 6 1 6-8 6-7 6 6 6-1 6-9 6 1 6 6 6-4 6-6 6 5 6 2 6-7 6 0 6 5 6-3 6-2 6 7 6 4 6-6 6 0 6 3 6-6 6-7 6 8 6 7 6-7 6-3 6 7 6 0 6-4 6 3 6 3 6-6 6-2 6 7 6 0 6-7 6 3 6 5 10-10"/>
<path d="M878 2127l6 0 6-9 6 6 6 14 6-13 6-13 6 17 6 6 6-18 6 2 6 11 6-10 6-5 6 7 6-8 6-5 6 3 6-11 6-13 6-7 6-17 6-19 6-13 6-27 6-26 6-10 6-15 6-15 6 3 6 1 6 2 6 19 6 16 6 1 6-3 6-23 6-26 6 22 6 58 6 58 6 56 6 37 6 11 6 13 6 10 6-3 6 1 6 4 6-11 6-5 6 0 6-12 6-8 6 1 6-9 6-7 6 0 6-10 6-8 6 4 6-6 6-8 6 3 6-4 6-6 6 6 6-1 6-6 6 6 6 0 6-9 6 5 6 1 6-7 6 5 6 4 6-8 6 4 6 4 6-7 6 3 6 6 6-6 6 5 6 7 6-6 6-2 6 6 6-5 6-2 6 6 6-5 6-2 6 7 6-4 6-3 6 6 6-5 6-6 6 7 6-1 6-4 6 8 6 0 10-3"/>
<path d="M878 2115l6-5 6 2 6 5 6 1 6-3 6 4 6 2 6-9 6 5 6 2 6-7 6 3 6-3 6 3 6-6 6-15 6 9 6-20 6-13 6 4 6-29 6-6 6-21 6-29 6-4 6-38 6-9 6-4 6-31 6 5 6-4 6 2 6 19 6 9 6 27 6 18 6 16 6 32 6 14 6 10 6 12 6-8 6-22 6-30 6-6 6 25 6 35 6 39 6 37 6 22 6 0 6-7 6 6 6 8 6-9 6-11 6 5 6 6 6-11 6-13 6 1 6 4 6-7 6-9 6 0 6 2 6-6 6-7 6 1 6 2 6-4 6-2 6 6 6 3 6-4 6 1 6 3 6-4 6-5 6 0 6-13 6-32 6-27 6 3 6 25 6 27 6 18 6 4 6-4 6 0 6 5 6 1 6-3 6 5 6 2 6-7 6-1 6 3 6-1 6-2 6 4 6 1 6-5 6-2 10 4"/>
</g>
<g stroke="#1a1a1a" stroke-width="2.8">
<path d="M878 2116l8 0 8 0 8-1 8-1 8 0 8 0 8 2 8 2 8 1 8-1 8-5 8-9 8-15 8-27 8-43 8-57 8-63 8-54 8-28 8 4 8 31 8 49 8 55 8 53 8 44 8 33 8 25 8 19 8 15 8 11 8 9 8 6 8 4 8 0 8-1 8-2 8-3 8-3 8-4 8-5 8-4 8-5 8-5 8-3 8-1 8 0 8-1 8-1 8-1 8-2 8-1 8 0 8 0 8 0 8 0 8 1 8 2 8 1 8 0 8 0 8 0 8-1 8-1 8-1 8 1 8 1 8 0 8 0 8-1 8 0 8 0 8 0 8-2 8-2 8-1 8 0 8 0 8 0 10 0"/>
</g>
<g stroke="#199bd1" stroke-width="3">
<path d="M878 2115l6-4 6 2 6 4 6-4 6-3 6 5 6 4 6-7 6-1 6 9 6-3 6-9 6 7 6 9 6-12 6-10 6 9 6-1 6-22 6-13 6-6 6-25 6-32 6-19 6-21 6-31 6-22 6-10 6-10 6-8 6 7 6 18 6 13 6 11 6 18 6 17 6 17 6 29 6 36 6 30 6 19 6 20 6 19 6 12 6 9 6 12 6 9 6 0 6 1 6 2 6-6 6-9 6-3 6-2 6-9 6-8 6-3 6-4 6-9 6-6 6-1 6-5 6-9 6-4 6 1 6-4 6-2 6 4 6 0 6-6 6 1 6 6 6 0 6-5 6 0 6 1 6-4 6-2 6 5 6 1 6-3 6 1 6 3 6-1 6-3 6 3 6 2 6-4 6-2 6 5 6 2 6-5 6-1 6 3 6-2 6 2 6-5 6 7 6-1 6-14 6 24 6-18 6 2 6 13 10-5"/>
<path d="M878 2112l6 4 6 6 6-5 6-3 6 8 6 2 6-10 6-2 6 10 6 1 6-8 6 2 6 6 6-5 6-9 6 1 6-1 6-12 6-12 6-4 6-11 6-22 6-16 6-13 6-23 6-26 6-10 6-4 6-12 6-7 6 10 6 13 6 9 6 19 6 23 6 7 6-10 6-9 6-10 6-18 6 1 6 36 6 49 6 40 6 33 6 30 6 14 6 1 6 6 6 10 6-4 6-9 6 4 6 2 6-11 6-9 6 3 6-4 6-14 6-6 6 1 6-5 6-10 6-1 6 1 6-6 6-4 6 4 6 1 6-8 6-1 6 8 6-1 6-7 6 0 6 6 6-4 6-5 6 7 6 5 6-6 6-2 6 5 6 1 6-6 6-2 6 7 6-1 6-11 6 9 6 5 6-9 6 5 6 0 6 2 6 3 6-14 6 13 6 4 6-20 6 17 6 2 6-18 6 9 10-6"/>
<path d="M878 2114l6 2 6-2 6-3 6 3 6 3 6-2 6 0 6 1 6-3 6 0 6 3 6-2 6-1 6 4 6-2 6-4 6 0 6-3 6-9 6-4 6-6 6-14 6-14 6-17 6-23 6-22 6-17 6-22 6-20 6-9 6-2 6 1 6 14 6 22 6 22 6 28 6 26 6 17 6 16 6 17 6 9 6 7 6 10 6 6 6 3 6 10 6 5 6-7 6-12 6-26 6-42 6-37 6-17 6 8 6 38 6 41 6 34 6 9 6 7 6 12 6-22 6 14 6-12 6-12 6 9 6-17 6 6 6-5 6-1 6 1 6-7 6 4 6-2 6-3 6 2 6-1 6-5 6 4 6 5 6-2 6 1 6 2 6-2 6-1 6 1 6-3 6-1 6 4 6 1 6-3 6 4 6 1 6-3 6 0 6 1 6-2 6 2 6 3 6-3 6-3 6 2 6-2 6-3 6 2 10-4"/>
</g>
<g stroke="#1a1a1a" stroke-width="2.8">
<path d="M878 2120l8-1 8 0 8 0 8 0 8 0 8 0 8-1 8-1 8-1 8 0 8-1 8-3 8-6 8-15 8-26 8-41 8-54 8-58 8-50 8-28 8 4 8 35 8 55 8 61 8 54 8 43 8 31 8 23 8 18 8 15 8 13 8 9 8 5 8 1 8-2 8-4 8-6 8-7 8-8 8-8 8-8 8-8 8-7 8-5 8-3 8-3 8-2 8-1 8-1 8 1 8 0 8 0 8 0 8-1 8-1 8 0 8 1 8 0 8 0 8 0 8 0 8 1 8 1 8 0 8 0 8 0 8-1 8-1 8 0 8 0 8 1 8 0 8 1 8 0 8 0 8-1 8 0 8 0 10 0"/>
</g>
<g stroke="#199bd1" stroke-width="3">
<path d="M878 2132l6 4 6-24 6 19 6-3 6-13 6 14 6-11 6-3 6 6 6-2 6 3 6-3 6 1 6 1 6-5 6 2 6-6 6-7 6 2 6-10 6-10 6-6 6-20 6-15 6-13 6-25 6-16 6-13 6-21 6-7 6-8 6-9 6 7 6 6 6 9 6 23 6 14 6 18 6 26 6 13 6 16 6 20 6 10 6 17 6 16 6 7 6 15 6 4 6-20 6-37 6-65 6-52 6 14 6 55 6 65 6 49 6 13 6 4 6 2 6-11 6-5 6-4 6-14 6-1 6-2 6-10 6 3 6-3 6-6 6 5 6-5 6-5 6 5 6-5 6-2 6 4 6-8 6 2 6 4 6-5 6 5 6 4 6-8 6 2 6 1 6-4 6 8 6-2 6-6 6 7 6-2 6-2 6 6 6-6 6 1 6 4 6-8 6 2 6 4 6-14 6-12 6-27 6-36 6-10 10 24"/>
<path d="M878 2115l6-3 6 14 6-14 6 6 6 6 6-11 6 13 6-2 6-4 6 6 6-6 6-5 6 2 6-4 6-6 6 2 6-1 6-4 6-2 6-6 6-12 6-9 6-7 6-13 6-12 6-5 6-13 6-15 6 3 6-10 6-16 6 15 6-3 6-14 6 19 6-18 6-38 6 11 6-16 6-2 6 72 6 29 6 21 6 65 6 3 6 3 6 44 6-13 6-1 6 32 6-16 6 1 6 21 6-18 6-3 6 6 6-15 6-1 6 1 6-13 6-3 6-6 6-9 6-1 6-7 6-4 6 1 6-4 6-2 6 3 6-5 6-2 6 4 6-3 6-3 6 3 6-1 6-3 6 5 6 2 6-2 6 1 6-3 6-4 6 3 6 2 6-3 6 1 6 2 6-5 6 0 6 6 6-2 6-1 6 2 6-3 6-3 6 4 6 0 6-3 6 5 6 2 6-3 6 3 10-1"/>
<path d="M878 2125l6-9 6-5 6 7 6 5 6-1 6-4 6-4 6 4 6 7 6-6 6-13 6 9 6 14 6-9 6-15 6 9 6 10 6-14 6-11 6 7 6 1 6-13 6-7 6-5 6-12 6-13 6-3 6-5 6-9 6 0 6 5 6 1 6 6 6 18 6 15 6 7 6 12 6 14 6 5 6 5 6 10 6 5 6-1 6 2 6 0 6-16 6-32 6-34 6-25 6 0 6 32 6 43 6 25 6 6 6 6 6 2 6-7 6-4 6 3 6-4 6-5 6 1 6-1 6-7 6-2 6 1 6-4 6-5 6 3 6 3 6-4 6 2 6 6 6-2 6-6 6 3 6 2 6-5 6 0 6 5 6-3 6-3 6 6 6 4 6-5 6-2 6 3 6-2 6-4 6 3 6 2 6-11 6-17 6-22 6-29 6-20 6 11 6 27 6 23 6 20 6 16 6 3 6-3 6 3 10-3"/>
<path d="M878 2114l6 25 6-5 6-11 6 1 6 2 6 3 6-15 6 5 6 8 6-7 6 6 6-4 6 3 6 4 6-9 6 7 6-3 6-4 6-1 6-15 6-3 6-16 6-15 6-8 6-26 6-14 6-23 6-24 6-9 6-17 6 0 6 0 6 1 6 17 6-1 6 4 6-13 6-30 6-11 6-1 6 40 6 58 6 51 6 56 6 26 6 20 6 14 6-3 6 7 6-6 6 0 6 4 6-11 6 3 6-8 6-7 6 3 6-12 6 0 6-6 6-6 6 3 6-13 6 1 6-4 6-3 6 8 6-10 6 2 6-5 6-5 6 11 6-7 6 10 6-1 6-10 6 14 6-17 6 5 6 6 6-17 6 26 6-15 6-3 6 21 6-31 6 28 6-6 6-21 6 38 6-34 6 10 6 14 6-37 6 37 6-14 6-9 6 29 6-31 6 18 6 0 6-19 6 22 6-16 10 11"/>
<path d="M878 2126l6 2 6-5 6-1 6 0 6 0 6 0 6-2 6 5 6 1 6-9 6 6 6 5 6-15 6 5 6 12 6-18 6-2 6 12 6-17 6-13 6 4 6-10 6-11 6-4 6-10 6-14 6-10 6-4 6-3 6-4 6 0 6 8 6 8 6 8 6 13 6 14 6 9 6 9 6 11 6 4 6-10 6-24 6-44 6-46 6-12 6 38 6 60 6 50 6 33 6 18 6 3 6-2 6 2 6 1 6-5 6-3 6-4 6-10 6-6 6 0 6-2 6-8 6-2 6 1 6-2 6-3 6 1 6-2 6-4 6 1 6 2 6-3 6-2 6 2 6 0 6-3 6 1 6 5 6-2 6-4 6 0 6 0 6-2 6 1 6 4 6-2 6-2 6 2 6 3 6-2 6 0 6 0 6-3 6-1 6 4 6 2 6-3 6 0 6 2 6-1 6-2 6 1 6 4 6-1 10 2"/>
<path d="M878 2113l6 1 6 4 6-1 6-1 6 2 6 1 6-1 6 1 6 0 6-1 6-1 6-1 6-2 6 2 6 4 6 1 6-2 6-5 6-8 6-7 6-8 6-12 6-12 6-16 6-18 6-19 6-18 6-17 6-12 6-7 6-1 6 7 6 13 6 18 6 22 6 23 6 21 6 18 6 16 6 13 6 13 6 13 6 8 6 1 6-10 6-29 6-49 6-52 6-29 6 14 6 52 6 61 6 42 6 21 6 7 6-2 6-5 6-5 6-6 6-4 6-3 6-4 6-4 6-3 6-4 6-1 6 2 6-3 6-5 6-2 6 1 6-1 6 0 6-1 6 1 6 4 6-2 6-4 6-2 6 1 6 2 6 3 6 0 6-4 6-1 6 1 6 2 6 1 6 1 6 0 6 1 6 0 6-2 6 0 6 2 6-1 6 1 6 2 6-1 6-1 6 1 6-1 6-4 6 0 10-1"/>
<path d="M878 2122l6 2 6 0 6-1 6 0 6 0 6-2 6 0 6 0 6 2 6 0 6-1 6 2 6 0 6-4 6-3 6 3 6 2 6-6 6-9 6-6 6-9 6-16 6-21 6-19 6-20 6-26 6-27 6-22 6-18 6-16 6-7 6 5 6 12 6 14 6 18 6 22 6 25 6 24 6 23 6 24 6 22 6 15 6 13 6 13 6 11 6 2 6-14 6-35 6-42 6-20 6 23 6 47 6 38 6 15 6 1 6-1 6-2 6-7 6-6 6-1 6-2 6-5 6-4 6-1 6 0 6-4 6-2 6 0 6-2 6-3 6 1 6 2 6 0 6-2 6-2 6 1 6 1 6-3 6-1 6 2 6 0 6 0 6 0 6 2 6 0 6-1 6-1 6 2 6 0 6 0 6 0 6 2 6 0 6-1 6 0 6 2 6 0 6-2 6 0 6 3 6-3 6-6 6-1 6 3 10-1"/>
</g>
<g stroke="#1a1a1a" stroke-width="2.8">
<path d="M878 2113l8-1 8 0 8 0 8 2 8 2 8 1 8 0 8-1 8 0 8-1 8-1 8-3 8-6 8-15 8-25 8-37 8-49 8-55 8-50 8-32 8-6 8 24 8 48 8 58 8 55 8 43 8 29 8 19 8 13 8 12 8 10 8 10 8 9 8 8 8 4 8 1 8 0 8-2 8-2 8-4 8-5 8-6 8-6 8-4 8-5 8-4 8-5 8-3 8-3 8 0 8 0 8 1 8 0 8-1 8-1 8 0 8 0 8 0 8 0 8 1 8 1 8 0 8-1 8-2 8-1 8 0 8 2 8 1 8 0 8 0 8 0 8 0 8 1 8 0 8 0 8-1 8 0 8 0 10 0"/>
</g>
<g stroke="#199bd1" stroke-width="3">
<path d="M878 2116l6 4 6-2 6-2 6 4 6-4 6 4 6 2 6-2 6 1 6-4 6 2 6-3 6-4 6 1 6-7 6-3 6-3 6-8 6-6 6-13 6-14 6-15 6-20 6-13 6-17 6-13 6-7 6-13 6-4 6-2 6 7 6 15 6 12 6 20 6 17 6 18 6 22 6 10 6 5 6-15 6-38 6-43 6-40 6 0 6 41 6 63 6 68 6 40 6 23 6 9 6-3 6 0 6-8 6-6 6-4 6-11 6 0 6-6 6-3 6-2 6-11 6 2 6-8 6 2 6 2 6-9 6 13 6-14 6 7 6 2 6-11 6 18 6-23 6 16 6-7 6-9 6 27 6-31 6 28 6-15 6-9 6 24 6-30 6 34 6-17 6-2 6 16 6-26 6 27 6-15 6 2 6 6 6-15 6 16 6-8 6 4 6 1 6-6 6 5 6-3 6 4 6-2 6-1 6-1 10 3"/>
</g>
<g stroke="#1a1a1a" stroke-width="2.8">
<path d="M878 2115l8-1 8-1 8-1 8 0 8-1 8 1 8 0 8 1 8 1 8 0 8-1 8-5 8-11 8-19 8-29 8-39 8-48 8-52 8-45 8-30 8-9 8 15 8 36 8 48 8 53 8 50 8 42 8 34 8 25 8 20 8 16 8 13 8 8 8 4 8 0 8-2 8-4 8-5 8-6 8-6 8-6 8-5 8-3 8-2 8-1 8-1 8-3 8-3 8-2 8-2 8-1 8-1 8-1 8 0 8 0 8 1 8 0 8 2 8 1 8 1 8 1 8 0 8 0 8-1 8 0 8-1 8-1 8 0 8 0 8-1 8 0 8 0 8 0 8 0 8 0 8 0 8-1 8 0 10 1"/>
</g>
<g stroke="#199bd1" stroke-width="3">
<path d="M878 2113l6 2 6 0 6 5 6 2 6-2 6 3 6 0 6-3 6 2 6-2 6-1 6 2 6-2 6-3 6-3 6-5 6-2 6-3 6-9 6-7 6-13 6-17 6-15 6-20 6-19 6-15 6-19 6-12 6-3 6-3 6 6 6 11 6 9 6 18 6 20 6 19 6 20 6 10 6 0 6-12 6-33 6-37 6-17 6 13 6 47 6 63 6 50 6 33 6 16 6 2 6 4 6-2 6-8 6-6 6-8 6-6 6-3 6-6 6-5 6-4 6-8 6-1 6 0 6-4 6-3 6-5 6-5 6 1 6-1 6-4 6 2 6 0 6 1 6 2 6-3 6 0 6 2 6-2 6 3 6-3 6-5 6 3 6 2 6 0 6 5 6 0 6-1 6 1 6-4 6 0 6 2 6-4 6-1 6 1 6-2 6 3 6 1 6-1 6 2 6-1 6-1 6 5 6 0 6-2 10 0"/>
</g>
<g stroke="#1a1a1a" stroke-width="2.8">
<path d="M878 2121l8 0 8 0 8 0 8 0 8 0 8-1 8 0 8 0 8 0 8-1 8-2 8-4 8-10 8-17 8-26 8-36 8-46 8-47 8-42 8-27 8-6 8 15 8 32 8 43 8 46 8 44 8 36 8 28 8 22 8 16 8 13 8 10 8 8 8 5 8 3 8 0 8-1 8-3 8-3 8-3 8-4 8-4 8-2 8-2 8-2 8-3 8-2 8-2 8 0 8 1 8 0 8-1 8-1 8-1 8 0 8 0 8 1 8-1 8 0 8 1 8 1 8 1 8 0 8 0 8-1 8 1 8 0 8 0 8-1 8-1 8 1 8 1 8 2 8 0 8 0 8-1 8-1 8 0 10 0"/>
</g>
<g stroke="#199bd1" stroke-width="3">
<path d="M878 2123l6 1 6 2 6-2 6-2 6 1 6 0 6-1 6-1 6 2 6-1 6-4 6-1 6 3 6 1 6-6 6-6 6-4 6-6 6-10 6-10 6-10 6-15 6-21 6-20 6-20 6-20 6-20 6-15 6-7 6-4 6-2 6 7 6 18 6 22 6 23 6 28 6 30 6 24 6 19 6 15 6 12 6 6 6 3 6-5 6-20 6-40 6-50 6-35 6 1 6 34 6 50 6 50 6 35 6 15 6 5 6 1 6-3 6-5 6-5 6-3 6-3 6-5 6-3 6 0 6-1 6-6 6-7 6-12 6-28 6-42 6-34 6-10 6 18 6 36 6 37 6 25 6 10 6 0 6-2 6 2 6-3 6-4 6 4 6 5 6-2 6-1 6 3 6 1 6-2 6-3 6 3 6 4 6 0 6-3 6-1 6 0 6-1 6-2 6 0 6 1 6 0 6 1 6 2 6 0 10-4"/>
<path d="M878 2135l6-18 6 6 6 9 6-18 6 16 6-9 6-8 6 12 6-13 6 4 6 3 6-6 6 5 6-3 6-1 6 2 6-5 6-1 6 0 6-4 6-5 6-9 6-12 6-15 6-17 6-19 6-18 6-15 6-13 6-10 6-8 6-3 6 5 6 10 6 15 6 22 6 24 6 22 6 20 6 18 6 15 6 10 6 9 6 8 6 4 6-4 6-13 6-25 6-34 6-31 6-16 6 6 6 27 6 35 6 32 6 20 6 7 6 0 6-2 6-4 6-4 6-9 6-8 6-4 6 0 6 1 6-1 6-3 6-2 6-1 6 0 6 1 6-2 6-3 6 2 6 0 6-2 6 0 6 2 6 0 6-2 6-1 6 1 6 1 6 2 6 0 6-1 6-1 6 2 6 1 6 0 6 0 6-1 6-1 6 2 6 1 6 0 6-1 6-1 6 1 6 0 6-2 6-2 6-1 10 0"/>
<path d="M878 2119l6 4 6-7 6-4 6 5 6-3 6-7 6 6 6 9 6-1 6-3 6 3 6 1 6-8 6-4 6 1 6-4 6-9 6 0 6 0 6-14 6-14 6-6 6-9 6-17 6-8 6-4 6-11 6-9 6 1 6 1 6-3 6 8 6 19 6 14 6 11 6 20 6 19 6 10 6 9 6 19 6 14 6 5 6 10 6 13 6 3 6-2 6 2 6 1 6-8 6-9 6-10 6-25 6-41 6-37 6-23 6-12 6 11 6 35 6 32 6 15 6 11 6 13 6-1 6-7 6 3 6 4 6-5 6-3 6 4 6 0 6-4 6 2 6 5 6-2 6-6 6 3 6 3 6-6 6-2 6 6 6-1 6-6 6 5 6 5 6-6 6-4 6 6 6 3 6-6 6 0 6 5 6-3 6-5 6 6 6 4 6-8 6-5 6 6 6 2 6-3 6 1 6 3 6-4 6-5 10 8"/>
<path d="M878 2130l6-1 6-4 6 4 6 0 6-4 6 4 6 3 6-6 6 1 6 4 6-5 6 0 6 7 6-3 6-6 6 3 6-2 6-7 6-1 6-2 6-10 6-15 6-13 6-6 6-23 6-31 6 2 6-9 6-38 6-8 6 10 6-2 6 5 6 11 6 15 6 17 6 13 6 19 6 24 6 10 6 8 6 10 6-7 6-21 6-20 6-16 6 0 6 29 6 39 6 30 6 27 6 19 6-1 6-3 6 2 6-6 6-9 6 0 6-8 6-10 6 1 6-3 6-10 6-2 6 2 6-7 6 0 6 5 6-4 6-3 6 1 6-6 6-4 6 6 6 2 6-6 6 3 6 5 6-3 6 0 6 3 6-4 6-3 6 5 6 0 6-4 6 4 6-1 6-9 6-9 6-23 6-38 6-15 6 20 6 29 6 26 6 19 6 0 6-2 6 7 6 0 6-5 6 2 6-1 10-8"/>
<path d="M878 2125l6 9 6-9 6-9 6 9 6 5 6-15 6-1 6 16 6-9 6-12 6 18 6 6 6-18 6-1 6 13 6-2 6-8 6-1 6 1 6-11 6-10 6 0 6-8 6-18 6-10 6-6 6-10 6-7 6-7 6-5 6 1 6-1 6 3 6 11 6 8 6 13 6 14 6 11 6 13 6 12 6-4 6-14 6-28 6-44 6-33 6-7 6 25 6 53 6 50 6 34 6 21 6 5 6 0 6 0 6-5 6-3 6 0 6-7 6-7 6-2 6-4 6-1 6-1 6-5 6 0 6-1 6-5 6-1 6 2 6 3 6 5 6-3 6-4 6 2 6-2 6-2 6 2 6-1 6 1 6 3 6-4 6 1 6 3 6-2 6 1 6 2 6-2 6 0 6 0 6-2 6 0 6-3 6-3 6 2 6 1 6 0 6 3 6-1 6 1 6 2 6-1 6 0 6 1 6-1 10 3"/>
<path d="M878 2123l6 6 6-5 6 1 6-2 6-5 6 6 6-2 6 0 6 3 6-4 6 6 6-3 6-3 6 1 6-8 6-1 6-6 6-9 6-5 6-15 6-10 6-15 6-21 6-10 6-22 6-18 6-17 6-20 6-3 6-4 6 1 6 12 6 10 6 22 6 26 6 19 6 27 6 17 6 11 6 24 6 2 6 16 6 15 6-10 6 22 6-2 6 2 6 13 6-5 6 0 6-2 6-10 6-28 6-27 6-53 6-31 6 1 6 6 6 44 6 32 6 19 6 18 6-3 6-3 6 3 6-5 6 1 6 1 6-7 6 4 6-3 6-3 6 3 6-5 6 5 6 1 6-2 6 5 6-6 6 0 6 3 6-3 6 4 6-6 6-2 6 3 6-4 6 8 6 1 6-1 6 3 6-8 6 2 6 1 6-3 6 7 6-4 6 1 6 1 6-5 6 6 6-3 6 0 6 3 10-3"/>
<path d="M878 2111l6 2 6 5 6-2 6-3 6 5 6 4 6-5 6-6 6 5 6 3 6-5 6-2 6 6 6 4 6-5 6-3 6 3 6-2 6-9 6-6 6-3 6-10 6-17 6-11 6-8 6-17 6-21 6-12 6-7 6-11 6-8 6 6 6 10 6 7 6 9 6 18 6 13 6-2 6-11 6-13 6-19 6-21 6 3 6 33 6 42 6 36 6 32 6 30 6 15 6-1 6 2 6 6 6 0 6-8 6-2 6 2 6-6 6-10 6-2 6 0 6-7 6-7 6 2 6 2 6-6 6-6 6 2 6 3 6-6 6-6 6 6 6 4 6-6 6-4 6 5 6 3 6-6 6-3 6 5 6 1 6-6 6 0 6 7 6 1 6-5 6 0 6 3 6-2 6-5 6 0 6 3 6 0 6-2 6 5 6 5 6-3 6-4 6 5 6 3 6-8 6-6 6 3 6 5 6-3 10 0"/>
</g>
<g stroke="#1a1a1a" stroke-width="2.8">
<path d="M878 2120l8 1 8 0 8 1 8-1 8-2 8-2 8-1 8 1 8 2 8-1 8-3 8-6 8-13 8-21 8-33 8-46 8-56 8-56 8-43 8-19 8 9 8 32 8 47 8 53 8 49 8 42 8 34 8 26 8 22 8 18 8 17 8 15 8 12 8 7 8 1 8-2 8-4 8-5 8-6 8-8 8-8 8-8 8-7 8-6 8-6 8-4 8-2 8-2 8 0 8-1 8 0 8-1 8 0 8 0 8-1 8 1 8 0 8 0 8-1 8 0 8 0 8 1 8-1 8 0 8 0 8 1 8 1 8 1 8 0 8 1 8 0 8 0 8-2 8-1 8 0 8 0 8 0 8 0 10 0"/>
</g>
<g stroke="#199bd1" stroke-width="3">
<path d="M878 2117l6 5 6 2 6-2 6 0 6 3 6 1 6-6 6-6 6 10 6 5 6-12 6 1 6 17 6-5 6-19 6 3 6 14 6-9 6-23 6 2 6 13 6-16 6-31 6 2 6 15 6-22 6-32 6 12 6 13 6-29 6-9 6 32 6 3 6-12 6 21 6 17 6 0 6 16 6 12 6 5 6 19 6 11 6-1 6 13 6 7 6-17 6-17 6-25 6-29 6 0 6 27 6 30 6 22 6 10 6-2 6-2 6-4 6-4 6-1 6-3 6-2 6-4 6-4 6-1 6 0 6-3 6 0 6 1 6-1 6 2 6-2 6-2 6 0 6-2 6 0 6 2 6-2 6-1 6 3 6 1 6 1 6 0 6-2 6 0 6 2 6 0 6 1 6 0 6-4 6 1 6-1 6-3 6 1 6 3 6-1 6 1 6 1 6-1 6-1 6-4 6 0 6 4 6-1 6-1 10 1"/>
<path d="M878 2121l6-2 6-5 6 6 6-3 6 0 6 8 6-6 6-2 6 4 6-6 6 3 6 4 6-7 6 3 6-3 6-10 6 2 6-5 6-9 6-1 6-14 6-16 6-8 6-21 6-17 6-6 6-13 6-2 6 7 6-1 6 10 6 12 6 5 6 20 6 16 6 8 6 14 6-4 6-26 6-38 6-51 6-19 6 42 6 58 6 55 6 39 6 8 6 5 6 6 6-6 6 3 6-2 6-11 6 4 6 0 6-10 6 2 6-8 6-9 6 5 6-5 6-5 6 3 6-7 6 1 6 5 6-7 6 2 6 3 6-9 6 5 6 3 6-6 6 4 6-3 6-6 6 8 6 0 6-3 6 5 6-7 6-2 6 6 6-5 6 2 6 4 6-5 6 4 6 1 6-15 6-10 6-22 6-26 6 8 6 21 6 18 6 19 6 0 6-1 6 9 6-5 6 0 6 8 6-7 10 6"/>
<path d="M878 2117l6 1 6 7 6-5 6-8 6 7 6 8 6-9 6 0 6 5 6-5 6 3 6-3 6-3 6 7 6-4 6 0 6 2 6-6 6 1 6-7 6-5 6-4 6-17 6-9 6-14 6-17 6-9 6-17 6-10 6-4 6-5 6 10 6 6 6 8 6 16 6 9 6 16 6 12 6 8 6 18 6 6 6 12 6 12 6 3 6 13 6 8 6 6 6 11 6-2 6 4 6-2 6-15 6-17 6-43 6-53 6-44 6-20 6 26 6 41 6 35 6 28 6 11 6 8 6 2 6-6 6 0 6-4 6-6 6 4 6-14 6-27 6-23 6-23 6 23 6 35 6 5 6 24 6-7 6-4 6 17 6-23 6 17 6 0 6-20 6 29 6-26 6 11 6 15 6-29 6 30 6-20 6-4 6 23 6-29 6 20 6-4 6-11 6 23 6-19 6 9 6 2 6-10 6 14 6-11 10 10"/>
<path d="M878 2118l6-3 6-2 6 2 6-4 6 2 6 0 6-3 6 4 6-1 6 4 6 1 6-5 6 1 6-3 6 2 6 1 6-8 6-3 6-7 6-6 6-4 6-9 6-4 6-12 6-14 6-8 6-13 6-6 6-5 6-7 6 2 6-1 6 8 6 13 6 10 6 17 6 13 6 16 6 17 6 9 6 14 6 9 6 8 6 12 6 1 6-2 6-20 6-36 6-36 6-35 6-9 6 15 6 29 6 38 6 27 6 16 6 6 6-5 6 0 6-3 6-4 6-1 6-8 6-1 6-3 6-4 6 3 6-3 6 1 6 0 6-3 6 2 6-3 6-2 6-15 6-41 6-43 6-19 6 29 6 49 6 26 6 14 6 0 6-2 6 4 6-2 6 4 6 1 6-1 6 2 6-5 6 2 6 2 6-4 6 3 6-1 6 0 6 1 6-3 6 5 6 0 6-2 6 4 6-4 10 1"/>
<path d="M878 2119l6 2 6 2 6 0 6 0 6 0 6 0 6-2 6 1 6-1 6-3 6-2 6 0 6 0 6-2 6-2 6-3 6-6 6-8 6-11 6-15 6-18 6-18 6-20 6-21 6-22 6-20 6-20 6-17 6-9 6 0 6 5 6 13 6 17 6 19 6 23 6 27 6 30 6 22 6 6 6-17 6-48 6-47 6 3 6 59 6 74 6 53 6 25 6 9 6 0 6-5 6-2 6-3 6-6 6-3 6-5 6-1 6-4 6-8 6 1 6-6 6-5 6 6 6-14 6 3 6 4 6-14 6 1 6-29 6-25 6 5 6-6 6 32 6 22 6-8 6 20 6-6 6-2 6 14 6-15 6 8 6 1 6-11 6 12 6-4 6-3 6 5 6-6 6 5 6 1 6-3 6 3 6-3 6-2 6 2 6-1 6 2 6 0 6-1 6 0 6 1 6 3 6 1 6-3 6-2 10 0"/>
<path d="M878 2127l6-13 6 4 6 10 6-7 6-11 6 10 6 12 6-10 6-5 6 17 6-2 6-21 6 8 6 10 6-17 6-1 6 12 6-11 6-10 6 2 6-11 6-10 6-4 6-14 6-8 6-1 6-9 6-3 6-1 6-9 6 4 6 10 6 4 6 12 6 16 6 3 6 11 6 12 6 2 6 9 6 11 6-2 6 3 6 7 6-1 6 6 6 8 6-1 6 4 6 2 6-9 6 1 6 3 6-5 6 3 6 0 6-12 6-1 6 1 6-11 6 1 6 5 6-14 6-4 6 13 6-1 6-16 6 1 6 18 6-7 6-23 6 13 6 24 6-25 6-13 6 33 6-2 6-28 6 16 6 16 6-20 6-4 6 10 6-4 6-1 6 3 6-3 6 0 6-3 6-4 6 7 6 3 6-3 6 5 6-1 6-4 6 6 6 0 6-6 6 3 6-2 6-4 6 7 6 3 10-1"/>
<path d="M878 2122l6-1 6-2 6-2 6 1 6 1 6 1 6 2 6 0 6-3 6-1 6 0 6-2 6-1 6-1 6-2 6-2 6-3 6-7 6-9 6-8 6-9 6-12 6-13 6-15 6-15 6-12 6-12 6-12 6-9 6-4 6 0 6 4 6 11 6 15 6 17 6 15 6 10 6-5 6-21 6-29 6-17 6 15 6 45 6 51 6 41 6 27 6 14 6 9 6 8 6 4 6 0 6-2 6-1 6-2 6-2 6-5 6-6 6-5 6-5 6-7 6-6 6-3 6-6 6-6 6-4 6-1 6-1 6-1 6-4 6-4 6-2 6 1 6 1 6 1 6 1 6-3 6-3 6 1 6 0 6-1 6 0 6 1 6 1 6 3 6 0 6-3 6 0 6 1 6-1 6 0 6 1 6-2 6-2 6-3 6-9 6-14 6-12 6-1 6 9 6 16 6 13 6 5 6 0 6 1 10 0"/>
<path d="M878 2119l6-2 6-2 6 0 6 1 6 3 6 2 6 0 6-1 6 0 6-1 6-1 6 0 6-1 6-3 6-5 6-5 6-6 6-10 6-13 6-14 6-14 6-16 6-22 6-23 6-22 6-20 6-17 6-12 6-9 6-4 6 4 6 12 6 16 6 14 6 10 6 5 6 4 6 8 6 23 6 36 6 40 6 39 6 31 6 22 6 13 6 6 6 2 6 1 6-1 6-1 6-3 6-7 6-8 6-8 6-8 6-8 6-5 6-3 6-5 6-4 6-2 6-3 6-5 6-12 6-26 6-30 6-3 6 24 6 24 6 11 6 4 6 2 6 1 6 1 6-4 6-3 6 1 6 2 6 0 6-1 6-2 6-2 6 1 6 0 6-1 6 0 6 2 6-1 6 0 6 3 6 1 6-3 6-2 6 1 6 1 6 0 6 1 6 5 6 2 6 0 6-1 6-1 6 0 6-1 10-2"/>
<path d="M878 2107l6 6 6 21 6-29 6 18 6 9 6-29 6 24 6 6 6-20 6 10 6-1 6-12 6 5 6 2 6-11 6-2 6-4 6-15 6-7 6-13 6-27 6-17 6-18 6-31 6-19 6-20 6-24 6-5 6-2 6-2 6 16 6 13 6 6 6 17 6 5 6-3 6 17 6 21 6 27 6 44 6 33 6 20 6 23 6 8 6 1 6 12 6 2 6-2 6 4 6-7 6-6 6 4 6-8 6-5 6 5 6-7 6-9 6 1 6-7 6-3 6 9 6-5 6-9 6 7 6-32 6-15 6-19 6-16 6 55 6-8 6 30 6-5 6 1 6 11 6-15 6 17 6-9 6 1 6 4 6-10 6 4 6 4 6-7 6 2 6 4 6-6 6 4 6 1 6-8 6 5 6 3 6-7 6 6 6 2 6-8 6 3 6 0 6-6 6 9 6 2 6-6 6 6 6 0 6-7 10 6"/>
<path d="M878 2122l6-9 6 4 6-1 6-5 6 6 6-7 6 0 6 6 6-5 6 7 6-2 6-6 6 4 6-10 6-3 6-2 6-14 6-4 6-14 6-18 6-9 6-25 6-17 6-15 6-25 6-11 6-18 6-15 6 3 6-6 6 13 6 24 6 21 6 35 6 25 6 24 6 27 6 9 6 21 6 7 6 8 6 10 6 0 6 2 6-33 6-7 6-39 6 18 6 25 6 20 6 58 6-15 6 34 6-16 6-7 6 7 6-25 6 9 6-14 6-7 6 1 6-12 6 3 6-4 6-7 6 6 6-7 6-2 6 3 6-8 6 3 6-3 6-6 6 8 6-6 6 1 6 6 6-7 6 6 6 0 6-1 6 8 6-8 6-2 6 2 6-8 6 6 6-1 6-1 6 9 6-6 6 1 6 2 6-8 6 7 6-1 6-1 6 6 6-9 6 2 6 2 6-8 6 7 6-2 10 4"/>
<path d="M878 2112l6 1 6 4 6-9 6 5 6 2 6-6 6 8 6-2 6-4 6 10 6-6 6-2 6 8 6-9 6-1 6 2 6-15 6-2 6-6 6-18 6-10 6-22 6-25 6-14 6-29 6-21 6-12 6-23 6-6 6 0 6-5 6 18 6 21 6 22 6 37 6 15 6-3 6-15 6-47 6-38 6-6 6 20 6 63 6 67 6 45 6 41 6 16 6 2 6 12 6-2 6-1 6 7 6-10 6-2 6 1 6-12 6-1 6-2 6-13 6 0 6-8 6-8 6 7 6-8 6-7 6 4 6-10 6 0 6 3 6-8 6 5 6 2 6-9 6 8 6 6 6-6 6-7 6 0 6 13 6-10 6-16 6 25 6 5 6-26 6 14 6 13 6-18 6 2 6 4 6-3 6 4 6-4 6 3 6 5 6-11 6 4 6 3 6-7 6 11 6-2 6-10 6 7 6-2 6-3 10 2"/>
<path d="M878 2120l6-2 6-2 6 6 6 0 6-2 6 6 6-3 6-6 6 6 6 2 6-6 6 3 6-2 6-11 6 8 6-2 6-13 6 7 6-17 6-5 6 0 6-25 6-5 6-21 6-24 6-11 6-22 6-7 6-3 6-10 6 5 6 9 6 5 6 5 6-5 6-21 6-6 6 25 6 40 6 46 6 39 6 16 6 10 6 16 6 8 6 5 6 13 6 7 6 2 6 8 6 2 6-3 6 4 6 1 6-8 6-3 6-1 6-9 6-7 6-2 6-10 6-7 6 3 6-6 6-10 6 7 6-1 6-14 6 7 6 4 6-15 6 11 6 8 6-21 6 10 6 12 6-25 6 11 6 18 6-27 6 8 6 18 6-29 6 6 6 22 6-24 6 3 6 21 6-22 6 1 6 20 6-16 6-4 6 13 6-14 6-17 6-14 6-25 6-1 6 31 6 22 6 5 6 3 6 4 10-3"/>
<path d="M878 2117l6 2 6 1 6-1 6-1 6-2 6-1 6 0 6 2 6 1 6 2 6-2 6-3 6 0 6-2 6-5 6-5 6-3 6-8 6-10 6-13 6-15 6-16 6-19 6-21 6-19 6-17 6-16 6-14 6-8 6-3 6 5 6 10 6 14 6 22 6 27 6 26 6 23 6 14 6-1 6-13 6-28 6-34 6-19 6 12 6 39 6 55 6 52 6 34 6 19 6 8 6 0 6-2 6-3 6-6 6-6 6-3 6-6 6-6 6-5 6-7 6-6 6-3 6-2 6-1 6-2 6-2 6 0 6 1 6-4 6-4 6-3 6-1 6 2 6 2 6 1 6 2 6-1 6-3 6-2 6 1 6-1 6-5 6-12 6-20 6-16 6 2 6 16 6 19 6 12 6 2 6 0 6 3 6 1 6-1 6-1 6 0 6 0 6 0 6 0 6 0 6 1 6 1 6-1 6 1 10 0"/>
<path d="M878 2120l6 4 6-4 6 0 6 2 6-5 6-3 6 1 6-1 6 1 6 1 6-6 6 1 6 6 6-1 6-3 6 0 6-3 6-5 6-1 6-7 6-16 6-12 6-14 6-20 6-16 6-19 6-27 6-19 6-11 6-11 6-2 6 6 6 5 6 12 6 22 6 18 6 20 6 25 6 19 6 18 6 20 6 17 6 13 6 16 6 10 6 6 6 11 6 9 6 2 6 5 6 1 6-6 6-7 6-17 6-38 6-39 6-20 6 5 6 27 6 29 6 9 6 1 6 1 6-5 6-3 6 2 6-6 6-7 6 2 6-1 6-4 6 3 6 5 6 0 6 4 6 1 6-7 6-1 6 7 6 0 6-2 6-1 6-4 6-3 6 3 6-1 6 1 6 4 6-1 6-2 6 4 6-1 6-3 6 0 6-2 6-4 6 5 6 2 6-2 6 1 6-1 6-6 6 1 6 5 10-2"/>
<path d="M878 2113l6 7 6 7 6-7 6-13 6 30 6-18 6 1 6 7 6-11 6 16 6-20 6 7 6 8 6-10 6-4 6 1 6 0 6-13 6-10 6 2 6-6 6-20 6-19 6-14 6-24 6-28 6-19 6-12 6-18 6-17 6 2 6 12 6 9 6 18 6 34 6 35 6 22 6 22 6 29 6 20 6 8 6 12 6 16 6 4 6-5 6-1 6-11 6-40 6-54 6-40 6-20 6-2 6 26 6 47 6 40 6 18 6 12 6 12 6-1 6-12 6-2 6 8 6-2 6-9 6 1 6 2 6-8 6-5 6 9 6 4 6-8 6-4 6 4 6-9 6-30 6-33 6-19 6-3 6 16 6 37 6 35 6 8 6-5 6 6 6 6 6-5 6-6 6 7 6 2 6-8 6-4 6 7 6 3 6-6 6 0 6 8 6-3 6-8 6 3 6 5 6-5 6-6 6 6 6 5 10-9"/>
<path d="M878 2120l6-1 6-1 6 0 6 0 6 1 6 0 6-2 6 1 6 4 6 1 6-4 6-2 6 2 6-2 6-3 6 4 6-7 6-1 6-7 6-18 6 15 6-40 6 13 6-17 6-26 6 13 6-42 6 14 6-16 6-8 6 7 6-3 6 9 6 6 6 13 6 10 6-1 6-12 6-19 6-21 6-8 6 15 6 35 6 40 6 38 6 29 6 14 6 3 6 1 6 2 6-1 6-2 6 0 6-2 6-6 6-5 6-1 6-3 6-5 6-4 6-1 6-2 6-1 6-1 6-1 6-2 6-1 6 2 6 1 6-3 6-3 6 3 6 1 6-2 6 1 6 1 6-3 6-2 6 2 6 1 6-2 6 2 6 3 6 2 6 0 6 0 6-2 6-4 6-2 6 1 6 3 6 0 6-2 6 2 6 0 6-1 6 0 6 3 6-2 6-3 6 3 6 3 6-3 6-3 10 2"/>
</g>
<g stroke="#1a1a1a" stroke-width="2.8">
<path d="M878 2116l8 1 8 1 8 0 8 0 8-1 8 0 8 0 8 0 8-2 8-5 8-8 8-14 8-22 8-30 8-41 8-49 8-50 8-41 8-24 8 0 8 28 8 48 8 58 8 56 8 47 8 35 8 27 8 20 8 16 8 13 8 10 8 6 8 2 8-1 8-4 8-6 8-7 8-8 8-8 8-7 8-8 8-6 8-5 8-4 8-2 8-2 8-1 8-1 8-1 8 0 8 0 8 1 8 0 8-1 8 0 8-1 8-1 8 0 8 1 8 1 8 0 8 0 8 1 8 1 8 0 8-2 8-1 8-1 8 0 8 1 8 0 8 1 8 0 8 0 8-1 8-1 8-1 8 0 10 0"/>
</g>
<g stroke="#199bd1" stroke-width="3">
<path d="M878 2125l6-5 6-5 6 9 6-4 6-1 6 1 6-4 6 3 6 1 6 4 6-3 6-2 6 11 6-15 6 3 6 15 6-30 6 8 6 8 6-46 6 7 6-11 6-57 6 3 6-27 6-50 6 4 6-27 6-22 6 19 6-2 6 16 6 28 6 17 6 33 6 26 6 19 6 9 6-26 6-42 6-49 6-7 6 63 6 73 6 62 6 40 6 8 6 15 6 3 6-7 6 6 6-7 6-2 6 3 6-15 6-1 6-5 6-12 6 4 6-9 6-5 6 2 6-12 6 3 6 0 6-7 6 6 6-6 6-1 6 6 6-11 6 5 6 3 6-8 6 7 6-5 6 0 6 8 6-9 6 5 6 2 6-8 6 9 6-4 6-1 6 10 6-9 6 2 6 1 6-9 6 7 6-3 6-1 6 8 6-8 6 3 6 6 6-6 6 6 6-4 6-4 6 7 6-8 6 2 10-5"/>
</g></g>
<g transform="scale(.25)" fill="none" stroke-linejoin="round">
<g stroke="#1a1a1a" stroke-width="2.8">
<path d="M878 2569l8-1 8-1 8-1 8 1 8 1 8 1 8 1 8-2 8-3 8-3 8-3 8-4 8-7 8-13 8-20 8-26 8-30 8-33 8-31 8-26 8-17 8-5 8 14 8 32 8 41 8 42 8 36 8 28 8 22 8 17 8 13 8 10 8 9 8 6 8 2 8-1 8-3 8-4 8-4 8-5 8-4 8-3 8-3 8-3 8-1 8-1 8-2 8-2 8-2 8-2 8 0 8 0 8-2 8 0 8-1 8 0 8 0 8 1 8 1 8 1 8 1 8 0 8 0 8 1 8 0 8 1 8 0 8 0 8 0 8 0 8-1 8-1 8-1 8 0 8 1 8 1 8 1 8 0 10 0"/>
<path d="M878 2573l8 1 8 0 8-1 8 0 8-1 8-1 8 0 8-2 8-1 8-2 8-4 8-5 8-9 8-13 8-19 8-24 8-27 8-27 8-25 8-17 8-7 8 6 8 19 8 27 8 33 8 31 8 29 8 25 8 20 8 16 8 12 8 10 8 6 8 2 8-1 8-2 8-3 8-5 8-4 8-5 8-4 8-3 8-2 8-1 8-2 8-1 8-1 8 0 8 1 8 1 8 1 8 0 8-1 8-1 8-1 8-1 8-1 8-1 8-1 8 0 8 1 8 1 8 1 8 2 8 1 8 1 8 0 8 0 8-1 8-2 8-1 8-1 8 1 8 0 8-1 8-1 8 1 8 0 10 0"/>
<path d="M878 2569l8-1 8-1 8 0 8 0 8 0 8 1 8 0 8 0 8 0 8-1 8-2 8-3 8-4 8-6 8-10 8-12 8-15 8-14 8-13 8-8 8-1 8 7 8 14 8 16 8 16 8 15 8 12 8 9 8 9 8 8 8 8 8 7 8 4 8 0 8-1 8-1 8 0 8-1 8-1 8-1 8-2 8-3 8-3 8-2 8-1 8 1 8 1 8 1 8 1 8 0 8 0 8-1 8-2 8-2 8 0 8 0 8 0 8 0 8-1 8-1 8-1 8-1 8 0 8 1 8 0 8 1 8 1 8 1 8-1 8 0 8-1 8-1 8 1 8 1 8 1 8-1 8-2 8-1 10 0"/>
<path d="M878 2567l8 0 8 1 8-1 8 1 8 1 8 1 8 1 8 0 8-1 8-1 8-2 8-1 8-2 8-7 8-10 8-14 8-16 8-19 8-18 8-16 8-11 8-4 8 5 8 12 8 17 8 20 8 20 8 18 8 17 8 16 8 13 8 9 8 7 8 4 8 2 8 0 8-1 8-4 8-4 8-5 8-4 8-4 8-1 8 0 8 0 8 0 8-1 8-2 8-1 8 0 8 1 8 1 8 0 8 1 8-1 8-2 8-2 8-1 8 0 8 1 8 2 8 1 8 1 8 0 8 0 8-2 8-1 8 0 8-1 8 0 8 0 8 0 8 1 8 0 8 0 8 0 8 0 8 0 10 1"/>
<path d="M878 2565l8 1 8 1 8 1 8 0 8-1 8 0 8 0 8-1 8 0 8 0 8-1 8-4 8-8 8-12 8-19 8-25 8-32 8-36 8-35 8-29 8-15 8 1 8 15 8 24 8 30 8 32 8 33 8 32 8 27 8 22 8 17 8 15 8 11 8 9 8 3 8 1 8-3 8-4 8-5 8-5 8-4 8-4 8-3 8-2 8-2 8-1 8-1 8-1 8-1 8-2 8-2 8 0 8 0 8 0 8 1 8 1 8 1 8 1 8 0 8 0 8 0 8-1 8-1 8-1 8-1 8 0 8 0 8 1 8 1 8 0 8 1 8 0 8 0 8 0 8-2 8-1 8 0 8 0 10 1"/>
<path d="M878 2568l8 2 8 1 8 1 8 0 8-1 8 0 8 0 8 1 8-1 8-1 8-2 8-4 8-3 8-5 8-7 8-10 8-15 8-17 8-18 8-17 8-13 8-7 8 0 8 9 8 15 8 21 8 22 8 22 8 18 8 15 8 11 8 11 8 7 8 5 8 2 8 0 8 0 8-1 8-3 8-3 8-3 8-2 8-2 8-2 8-2 8-1 8-1 8 0 8 0 8 0 8 1 8 0 8 0 8 1 8 1 8 0 8 0 8 0 8-1 8 0 8 0 8 0 8-1 8-1 8-1 8-1 8 0 8-1 8 1 8 1 8 1 8 1 8-1 8 0 8 0 8 1 8 0 8 0 10-1"/>
<path d="M878 2565l8 0 8 0 8 0 8 1 8 1 8-1 8-1 8-1 8-1 8-1 8-3 8-5 8-9 8-13 8-17 8-19 8-23 8-23 8-23 8-19 8-12 8-2 8 10 8 20 8 26 8 28 8 26 8 25 8 21 8 19 8 14 8 10 8 7 8 4 8 0 8-1 8-3 8-4 8-3 8-3 8-2 8-3 8-3 8-2 8-2 8-1 8 0 8-1 8-1 8-1 8 1 8 0 8 0 8 0 8-1 8 0 8 1 8 0 8 1 8 1 8 0 8 0 8 0 8 1 8 0 8 0 8-1 8-1 8 0 8 0 8 1 8 0 8 0 8 0 8-1 8-1 8-1 8 1 10 1"/>
<path d="M878 2568l8 0 8 1 8 2 8 1 8 0 8-1 8-1 8-1 8-2 8-2 8-2 8-4 8-6 8-10 8-15 8-23 8-29 8-34 8-34 8-27 8-14 8 1 8 13 8 23 8 31 8 33 8 31 8 26 8 22 8 19 8 15 8 14 8 12 8 8 8 6 8 1 8-1 8-4 8-4 8-5 8-4 8-4 8-5 8-4 8-3 8-1 8-1 8-1 8 0 8-1 8 0 8 0 8 1 8-1 8-1 8 0 8 0 8 1 8-1 8 0 8 0 8 0 8 0 8 0 8 0 8 0 8 0 8 0 8 2 8 1 8 1 8-1 8-1 8-2 8-1 8 0 8 1 8 1 10 1"/>
<path d="M878 2568l8 1 8 0 8-1 8 0 8-1 8-1 8 1 8 1 8 0 8 0 8-2 8-3 8-5 8-8 8-11 8-17 8-19 8-21 8-20 8-17 8-11 8-3 8 7 8 16 8 22 8 24 8 25 8 22 8 21 8 18 8 15 8 11 8 7 8 2 8-1 8-2 8-3 8-3 8-4 8-3 8-4 8-3 8-4 8-3 8-2 8-2 8-1 8 0 8 0 8 2 8 2 8 1 8 0 8-2 8-2 8 0 8 1 8 1 8 0 8-1 8-1 8 0 8 0 8 0 8 1 8 2 8 1 8 0 8 0 8-1 8 0 8-1 8 0 8-1 8-1 8 0 8 0 8 0 10 0"/>
<path d="M878 2574l8 0 8-1 8 0 8 0 8 1 8 0 8 0 8 0 8-1 8-1 8-1 8-1 8-4 8-6 8-8 8-12 8-14 8-14 8-14 8-11 8-5 8 1 8 9 8 15 8 18 8 16 8 14 8 10 8 9 8 9 8 8 8 8 8 6 8 5 8 2 8 0 8-1 8-2 8-3 8-4 8-4 8-4 8-3 8-2 8-2 8-3 8-2 8-2 8 0 8 1 8 0 8 1 8 2 8 1 8 1 8 0 8-1 8-1 8-1 8-1 8 0 8 0 8 0 8 0 8 0 8 0 8 0 8 0 8 1 8 1 8 0 8-1 8 0 8 0 8-1 8-1 8 0 8 0 10 1"/>
<path d="M878 2568l8 0 8 0 8-1 8 0 8 1 8 0 8 0 8 0 8-2 8-2 8-4 8-7 8-10 8-14 8-18 8-21 8-25 8-26 8-25 8-19 8-11 8 2 8 18 8 31 8 36 8 36 8 29 8 24 8 17 8 14 8 10 8 8 8 3 8 1 8 0 8-2 8-2 8-3 8-3 8-4 8-3 8-1 8 0 8 0 8-1 8-1 8-1 8 0 8 0 8 1 8 0 8-1 8-1 8-1 8 0 8 1 8 0 8-1 8-2 8-1 8 0 8 1 8 1 8 0 8 0 8 1 8 1 8 1 8 1 8 0 8-1 8 0 8-1 8 0 8 1 8 0 8 0 8 1 10 0"/>
<path d="M878 2571l8-1 8 0 8 0 8 0 8 0 8 1 8 1 8 0 8-2 8-3 8-4 8-8 8-12 8-17 8-22 8-27 8-32 8-33 8-27 8-17 8-4 8 12 8 27 8 37 8 37 8 35 8 28 8 22 8 15 8 13 8 14 8 14 8 12 8 7 8 2 8-3 8-5 8-6 8-7 8-7 8-7 8-6 8-6 8-4 8-4 8-3 8-2 8-1 8-1 8 0 8-1 8-1 8 1 8 1 8 2 8 0 8 0 8-1 8 0 8 1 8 0 8 0 8-1 8-1 8 0 8-1 8-1 8 0 8 0 8 1 8 0 8 0 8 0 8-1 8 0 8 1 8 2 8 0 10 1"/>
<path d="M878 2571l8 0 8 1 8 0 8 0 8 0 8 0 8 1 8 1 8 0 8-1 8-2 8-2 8-3 8-6 8-9 8-16 8-22 8-27 8-31 8-31 8-26 8-16 8-2 8 14 8 26 8 33 8 34 8 31 8 26 8 19 8 15 8 12 8 11 8 9 8 6 8 3 8-1 8-2 8-4 8-4 8-4 8-5 8-4 8-4 8-3 8-2 8-3 8-3 8-2 8-2 8-1 8 1 8 1 8 2 8 1 8-1 8 0 8 0 8 0 8-1 8 0 8 0 8-1 8-1 8 0 8 0 8 1 8 1 8 1 8 1 8-1 8-1 8-1 8 0 8 0 8 0 8 1 8 0 10 0"/>
<path d="M878 2564l8-1 8-1 8 1 8 2 8 1 8-1 8-1 8 0 8 0 8-3 8-4 8-8 8-9 8-11 8-13 8-14 8-15 8-12 8-9 8-2 8 5 8 11 8 15 8 16 8 18 8 18 8 17 8 16 8 13 8 12 8 8 8 5 8 2 8-1 8-2 8-4 8-5 8-5 8-4 8-3 8-3 8-1 8-2 8-2 8-2 8-2 8 0 8 0 8 1 8 1 8 0 8-1 8-1 8 0 8 0 8 0 8 0 8-1 8 1 8 0 8 0 8 0 8-1 8 0 8 0 8 0 8 0 8-1 8 0 8 0 8-1 8 0 8-1 8 1 8 1 8 0 8 0 8 0 10 1"/>
<path d="M878 2565l8 1 8 0 8 1 8 0 8 0 8 0 8-1 8-1 8-2 8-4 8-4 8-8 8-13 8-19 8-27 8-32 8-35 8-34 8-29 8-19 8-4 8 11 8 27 8 37 8 41 8 39 8 36 8 30 8 26 8 23 8 18 8 12 8 4 8 0 8-3 8-6 8-7 8-8 8-7 8-7 8-5 8-4 8-3 8-3 8-1 8-1 8-1 8-1 8-2 8 0 8 1 8 0 8 0 8-1 8-1 8 1 8 1 8 2 8 0 8 0 8-1 8-1 8 0 8 1 8 1 8-1 8-1 8 0 8 1 8 2 8 1 8 0 8-1 8-1 8-1 8-1 8 0 8 0 10 1"/>
<path d="M878 2567l8-1 8 0 8 0 8 1 8 1 8 1 8 1 8-1 8-1 8-1 8 0 8-2 8-5 8-7 8-8 8-10 8-10 8-11 8-11 8-9 8-6 8-1 8 5 8 9 8 12 8 13 8 14 8 13 8 14 8 13 8 13 8 12 8 11 8 6 8 2 8-1 8-3 8-4 8-5 8-6 8-5 8-4 8-3 8-2 8-2 8-3 8-2 8-1 8-1 8-1 8 1 8 0 8 2 8 0 8 0 8 0 8-1 8-1 8-1 8-1 8 0 8 1 8 0 8 1 8 0 8-1 8 1 8 0 8 1 8 0 8-1 8 0 8 0 8 0 8 0 8 0 8 1 8 1 10 0"/>
<path d="M878 2569l8 0 8 0 8-1 8 0 8 0 8 0 8-1 8 0 8-1 8-2 8-3 8-4 8-6 8-9 8-13 8-17 8-21 8-21 8-18 8-11 8-2 8 7 8 13 8 19 8 21 8 22 8 20 8 18 8 16 8 12 8 10 8 7 8 4 8 0 8-2 8-3 8-2 8-2 8-2 8-2 8-2 8-1 8-2 8-1 8 0 8 0 8 1 8 1 8 0 8-2 8 0 8-1 8 0 8 0 8 0 8 0 8-2 8-1 8-1 8 1 8 1 8 1 8 0 8-1 8-1 8 0 8 0 8 1 8 0 8 0 8 0 8 1 8 1 8 0 8 1 8-1 8 0 8-1 10-1"/>
</g>
<g stroke="#199bd1" stroke-width="3">
<path d="M878 2570l6 4 6-3 6-3 6 0 6 1 6 1 6-1 6 3 6 2 6-6 6 3 6 6 6-10 6 6 6 12 6-16 6 0 6 13 6-22 6-7 6 11 6-27 6-23 6-2 6-35 6-38 6-13 6-32 6-38 6-15 6-13 6-15 6 5 6 12 6 6 6 17 6 29 6 21 6 19 6 29 6 27 6 16 6 22 6 26 6 11 6 19 6 19 6 11 6 5 6 2 6 7 6-13 6 9 6-3 6-12 6 6 6-14 6 9 6-23 6 2 6 10 6-20 6 14 6-29 6 27 6 0 6-22 6 14 6-18 6 31 6-29 6 3 6 21 6-20 6 14 6-16 6 18 6-8 6-9 6 17 6-17 6 7 6 0 6 1 6-2 6-5 6-3 6-26 6-3 6 16 6 10 6 7 6 6 6 2 6-3 6 3 6 1 6-7 6 2 6 3 6-5 6 0 6 6 6-4 10 1"/>
</g>
<g stroke="#1a1a1a" stroke-width="2.8">
<path d="M878 2566l8 1 8-1 8 0 8-1 8 0 8 0 8 0 8 0 8 0 8-2 8-3 8-7 8-12 8-17 8-24 8-29 8-34 8-34 8-30 8-20 8-4 8 13 8 28 8 39 8 41 8 38 8 30 8 24 8 19 8 15 8 12 8 9 8 3 8 0 8-3 8-3 8-4 8-3 8-4 8-4 8-2 8-2 8-1 8-2 8-1 8-1 8 1 8 0 8 0 8-2 8-1 8-2 8 0 8 0 8 1 8 0 8 0 8 1 8 0 8 1 8 0 8 0 8-1 8 0 8 0 8 0 8 0 8 0 8 0 8 1 8 0 8 0 8 0 8 1 8 1 8-1 8 0 8-1 10 1"/>
</g>
<g stroke="#199bd1" stroke-width="3">
<path d="M878 2561l6 10 6 2 6-8 6 2 6 8 6-6 6-7 6 9 6 4 6-9 6 1 6 3 6-7 6 0 6-3 6-5 6-5 6-28 6-4 6-5 6-55 6-15 6-6 6-61 6-12 6-5 6-36 6 6 6 6 6 4 6 22 6 5 6 26 6 36 6 0 6 23 6 47 6 4 6 7 6 46 6 9 6-14 6 36 6 22 6-22 6 13 6 22 6-20 6-6 6 15 6-8 6-9 6 5 6-7 6-6 6 2 6-5 6-2 6 1 6-8 6-8 6 7 6 0 6-7 6 1 6 4 6-5 6-2 6 9 6-1 6-10 6 3 6 10 6-4 6-6 6 5 6 3 6-7 6 0 6 6 6-3 6-7 6 4 6 6 6-5 6-1 6 7 6-1 6-9 6 1 6 8 6-4 6-5 6 8 6 3 6-6 6-1 6 7 6-3 6-6 6 4 6 1 6-8 6-2 10 11"/>
<path d="M878 2577l6-9 6 8 6-4 6-10 6 14 6 0 6-14 6 12 6 4 6-16 6 6 6 11 6-5 6-4 6 6 6 5 6-13 6-5 6 22 6-8 6-30 6 20 6 4 6-41 6 9 6 13 6-38 6 0 6 13 6-33 6-5 6 16 6-15 6 0 6 15 6-3 6 7 6 11 6 6 6 15 6 5 6 7 6 22 6 5 6 5 6 19 6 2 6 1 6 13 6-6 6-4 6 6 6-10 6-2 6 6 6-14 6-2 6 5 6-15 6-3 6 2 6-9 6 4 6 2 6-13 6 6 6 3 6-10 6 8 6 0 6-9 6 11 6 1 6-7 6 10 6-5 6-9 6 10 6-4 6-4 6 10 6-7 6-4 6 8 6-6 6 0 6 10 6-7 6-1 6 6 6-11 6 3 6 7 6-9 6 3 6 5 6-11 6 5 6 5 6-8 6 7 6 0 6-10 6 7 10-6"/>
<path d="M878 2567l6-8 6 11 6 0 6-11 6 13 6-5 6-10 6 18 6-14 6-3 6 23 6-23 6 6 6 20 6-34 6 21 6 8 6-33 6 27 6-16 6-28 6 22 6-29 6-20 6 8 6-33 6-10 6 6 6-19 6 4 6 7 6-7 6 15 6 13 6 0 6 17 6 12 6 6 6 21 6 10 6 7 6 18 6 8 6 7 6 13 6 5 6-10 6 11 6-9 6-10 6 13 6-22 6 12 6-14 6 8 6-14 6-7 6 21 6-48 6 47 6-31 6-10 6 35 6-45 6 25 6 0 6-16 6 16 6-4 6-4 6 9 6-7 6-1 6 8 6-9 6 5 6-1 6-5 6 9 6-6 6-4 6 7 6-7 6 6 6 7 6-11 6 5 6 3 6-8 6 9 6-1 6-9 6 8 6-4 6-4 6 10 6-8 6-3 6 8 6-7 6 3 6 7 6-9 6 4 10-4"/>
<path d="M878 2567l6 6 6-4 6-2 6 4 6-7 6-4 6 8 6 0 6-6 6 7 6 0 6-7 6 4 6 0 6-13 6-3 6-1 6-16 6-13 6-9 6-23 6-26 6-19 6-32 6-32 6-18 6-23 6-24 6-3 6 1 6-2 6 16 6 24 6 21 6 36 6 38 6 27 6 29 6 32 6 18 6 17 6 23 6 10 6 3 6 13 6 4 6-7 6 5 6 0 6-17 6 2 6 1 6-17 6 4 6 3 6-17 6 7 6 2 6-16 6 8 6 2 6-12 6 7 6-1 6-5 6 9 6-2 6-3 6 1 6-8 6 4 6 2 6-18 6-15 6-21 6-13 6 23 6 21 6 9 6 15 6 3 6-8 6 5 6 1 6-8 6 3 6 3 6-7 6 3 6 6 6-8 6-1 6 9 6-1 6-2 6 6 6-3 6-6 6 5 6-1 6-6 6 5 6 3 6-7 10 7"/>
<path d="M878 2563l6 3 6-2 6 1 6 1 6-6 6 2 6 1 6-1 6 5 6 1 6-2 6 1 6-1 6 4 6-2 6-8 6 6 6 1 6-20 6-5 6 3 6-22 6-23 6-9 6-16 6-25 6-23 6-15 6-13 6-15 6-4 6 3 6 2 6 16 6 19 6 15 6 24 6 23 6 18 6 22 6 16 6 13 6 17 6 12 6 12 6 13 6 4 6 5 6 6 6-1 6 1 6-3 6-7 6 2 6-1 6-7 6 0 6-4 6-7 6 1 6-6 6-7 6 0 6 1 6-2 6-7 6 5 6 8 6-17 6-7 6 21 6-6 6-21 6 17 6 15 6-14 6-8 6 12 6 10 6-16 6-10 6 21 6 0 6-22 6 13 6 15 6-16 6-1 6 12 6-4 6-5 6 0 6 1 6 0 6-4 6 4 6 3 6-6 6 0 6 2 6-3 6 3 6 1 6-2 10 5"/>
<path d="M878 2569l6 5 6 2 6-3 6 2 6 1 6-6 6-1 6 5 6-2 6-1 6 5 6-2 6-3 6 3 6-3 6-8 6 3 6 5 6-9 6-4 6 9 6-5 6-22 6-10 6 3 6-15 6-26 6-9 6-1 6-16 6-22 6-1 6 11 6-7 6-13 6 18 6 29 6-1 6-2 6 31 6 26 6-4 6 9 6 34 6 16 6-2 6 14 6 19 6-1 6 0 6 7 6 0 6-5 6-1 6-5 6-7 6-2 6-6 6-9 6-1 6-1 6-10 6-5 6 1 6-4 6-4 6 4 6-1 6-8 6 2 6 3 6-3 6 3 6 7 6-2 6-4 6 4 6-4 6-7 6 3 6 3 6-3 6 1 6 2 6-4 6-1 6 6 6-1 6-4 6 4 6 2 6-3 6 1 6 2 6-6 6-1 6 5 6-2 6-2 6 6 6 0 6-5 6 2 6 1 10-7"/>
<path d="M878 2571l6-8 6 4 6 2 6-9 6 1 6 8 6-7 6-2 6 8 6-4 6-3 6 8 6-2 6-7 6 6 6 1 6-8 6 2 6-1 6-15 6-7 6-5 6-22 6-17 6-6 6-18 6-17 6-5 6-9 6-5 6 10 6 5 6 1 6 14 6 17 6 4 6 15 6 22 6-3 6 21 6 11 6 5 6 16 6-4 6 33 6-25 6 26 6 9 6-29 6 41 6-32 6 15 6-5 6-5 6 9 6-22 6 16 6-17 6-3 6 9 6-11 6-5 6 4 6 1 6-8 6 3 6 1 6-7 6 6 6 8 6-6 6 1 6 3 6-9 6-3 6 8 6-4 6-4 6 7 6 0 6-6 6 6 6 2 6-8 6 4 6 5 6-10 6 0 6 7 6-4 6 1 6 7 6-4 6-5 6 6 6-1 6-6 6 7 6 2 6-8 6 4 6 5 6-7 6 1 10 2"/>
</g>
<g stroke="#1a1a1a" stroke-width="2.8">
<path d="M878 2563l8-1 8 0 8 2 8 2 8 1 8 1 8 0 8 0 8 0 8-1 8 0 8-1 8-2 8-4 8-8 8-11 8-16 8-19 8-21 8-22 8-16 8-9 8 3 8 10 8 17 8 19 8 20 8 19 8 16 8 14 8 14 8 12 8 13 8 11 8 8 8 5 8 2 8-2 8-3 8-5 8-6 8-5 8-5 8-4 8-4 8-3 8-3 8-2 8-1 8-1 8-1 8-1 8 0 8 0 8 0 8 0 8 1 8-1 8-1 8-2 8 0 8 0 8 0 8 1 8 0 8 1 8 1 8-1 8-1 8-1 8 0 8 1 8 1 8 1 8 0 8 0 8 0 8 0 10 0"/>
</g>
<g stroke="#199bd1" stroke-width="3">
<path d="M878 2566l6 1 6-4 6 2 6 4 6-4 6-3 6 5 6 0 6-6 6 5 6 8 6-3 6-3 6 4 6 0 6-8 6-1 6 3 6-7 6-12 6-5 6-14 6-23 6-18 6-15 6-30 6-32 6-20 6-13 6-14 6-4 6 12 6 12 6 11 6 23 6 29 6 20 6 19 6 26 6 20 6 11 6 15 6 14 6 4 6 6 6 14 6 7 6-2 6 3 6 7 6-2 6-9 6 0 6 9 6-20 6 0 6 19 6-31 6 9 6 15 6-30 6 15 6-2 6-13 6 17 6-13 6-4 6 13 6-8 6-3 6 7 6-2 6-5 6 4 6 4 6-6 6-3 6 8 6-1 6-8 6-1 6 5 6-5 6-5 6 6 6 4 6-4 6 3 6 7 6-4 6-6 6 3 6 2 6-4 6 2 6 6 6-4 6-8 6 4 6 4 6-5 6-2 6 5 6-1 10-3"/>
<path d="M878 2561l6 4 6 2 6-9 6 7 6-1 6-2 6 8 6-7 6 1 6 6 6-10 6 4 6-1 6-9 6 9 6-4 6-7 6 5 6-12 6-6 6-3 6-23 6-12 6-18 6-29 6-13 6-27 6-28 6-12 6-21 6-9 6-1 6-7 6 19 6 18 6 14 6 31 6 20 6 20 6 33 6 15 6 22 6 24 6 8 6 22 6 16 6 6 6 18 6 1 6-1 6 9 6-8 6-2 6 1 6-13 6 1 6-7 6-13 6 4 6-10 6-8 6 2 6-14 6 0 6 6 6-11 6 3 6 7 6-16 6 15 6-4 6-16 6 37 6-38 6 14 6 14 6-38 6 36 6-19 6-4 6 16 6-16 6 5 6 6 6-7 6 7 6 4 6-10 6 6 6-1 6-6 6 10 6-4 6-1 6 6 6-9 6 4 6 6 6-8 6 7 6-3 6-9 6 11 6-3 10 7"/>
<path d="M878 2567l6 9 6-9 6 3 6 5 6-8 6 5 6 1 6-6 6 8 6-4 6-6 6 8 6-6 6-3 6 7 6-11 6-4 6 0 6-12 6-2 6-9 6-12 6 0 6-20 6-2 6-3 6-27 6 8 6 1 6-15 6 17 6 7 6-4 6 19 6 12 6 2 6 19 6 9 6 2 6 20 6 8 6 2 6 15 6 2 6 4 6 8 6-4 6 10 6 1 6-14 6 12 6-3 6-22 6 16 6 2 6-26 6 10 6 13 6-15 6-5 6 4 6 3 6-5 6-4 6 8 6-6 6-12 6 12 6 1 6-8 6 11 6-2 6-4 6 8 6-8 6-1 6 7 6-6 6 2 6 3 6-8 6 8 6 0 6-8 6 7 6-2 6-5 6 7 6-5 6-1 6 9 6-9 6-4 6-8 6-20 6 10 6 17 6 1 6 9 6-1 6-7 6 8 6-5 6-3 10 5"/>
</g>
<g stroke="#1a1a1a" stroke-width="2.8">
<path d="M878 2567l8 0 8 0 8 2 8 0 8-1 8-1 8-1 8 0 8 1 8 0 8-1 8-2 8-4 8-6 8-9 8-11 8-14 8-16 8-13 8-9 8-3 8 4 8 9 8 14 8 17 8 17 8 15 8 13 8 12 8 10 8 8 8 6 8 3 8 0 8-2 8-3 8-3 8-4 8-4 8-3 8-3 8-3 8-2 8-2 8-1 8 0 8 0 8 0 8-1 8-1 8 0 8 0 8 0 8 0 8 0 8 1 8 1 8-1 8-1 8-1 8 0 8 0 8 0 8 0 8 0 8-1 8 0 8 1 8 1 8 2 8 0 8 0 8-1 8-1 8-1 8-1 8 0 8-1 10 0"/>
<path d="M878 2570l8 0 8 0 8-1 8-2 8-1 8 0 8 0 8-2 8-3 8-6 8-7 8-9 8-13 8-17 8-20 8-20 8-17 8-10 8-3 8 6 8 13 8 20 8 23 8 23 8 20 8 16 8 11 8 10 8 10 8 10 8 9 8 6 8 3 8 0 8-1 8-3 8-5 8-6 8-6 8-5 8-4 8-2 8-3 8-2 8-1 8-1 8 0 8-1 8-2 8-2 8-1 8 1 8 1 8 1 8 0 8 1 8 1 8 1 8 1 8 0 8 0 8-1 8-2 8-1 8 0 8 0 8-1 8-1 8 0 8 1 8 1 8 1 8 1 8 0 8 1 8 0 8-1 8-1 10-1"/>
</g>
<g stroke="#199bd1" stroke-width="3">
<path d="M878 2568l6 0 6 7 6-6 6 6 6 0 6-9 6 9 6-2 6-4 6 8 6-8 6-1 6 3 6-6 6 2 6-6 6 3 6-14 6-9 6 2 6-32 6-1 6-13 6-27 6-11 6-22 6-10 6-11 6 2 6 5 6-2 6 16 6 10 6 9 6 25 6 8 6 13 6 22 6 7 6 19 6 18 6 4 6 19 6 8 6 0 6 14 6-3 6-3 6 8 6-11 6 0 6 1 6-14 6 4 6 0 6-12 6 6 6-7 6-8 6 9 6-8 6-2 6 7 6-10 6 3 6 2 6-10 6 6 6 0 6-5 6 11 6-5 6-1 6 8 6-9 6 1 6 4 6-12 6 6 6 1 6-11 6 3 6-10 6-6 6 16 6 1 6 5 6 8 6-10 6 4 6 5 6-7 6 6 6-3 6-7 6 11 6-5 6-1 6 7 6-11 6 3 6 6 6-8 6 8 10-5"/>
<path d="M878 2571l6-8 6 19 6-9 6-2 6 10 6-16 6 10 6 4 6-9 6 7 6-1 6-8 6 4 6-2 6-1 6 5 6-9 6-7 6 0 6-15 6-14 6-14 6-27 6-19 6-18 6-23 6-10 6-10 6-9 6 8 6 7 6 12 6 21 6 10 6 18 6 25 6 12 6 20 6 20 6 5 6 14 6 15 6 8 6 11 6 1 6 6 6 12 6-15 6-8 6 16 6-3 6-20 6-4 6 8 6-2 6-16 6-9 6 19 6-6 6-37 6 6 6-12 6-17 6-13 6 3 6 40 6-7 6 10 6 0 6 13 6 2 6-24 6 32 6-23 6 12 6 0 6-16 6 27 6-26 6 11 6 2 6-5 6 8 6-9 6 5 6-5 6 8 6-3 6-2 6 4 6-8 6 7 6-3 6-6 6 10 6-4 6-1 6 5 6-4 6 2 6 6 6-6 6 2 6 1 10-5"/>
</g>
<g stroke="#1a1a1a" stroke-width="2.8">
<path d="M878 2572l8-1 8 0 8-1 8 0 8 0 8-1 8-1 8-1 8-2 8-2 8-5 8-7 8-11 8-15 8-17 8-21 8-20 8-18 8-12 8-4 8 5 8 13 8 18 8 22 8 21 8 20 8 18 8 17 8 15 8 13 8 11 8 8 8 4 8 1 8-1 8-3 8-3 8-3 8-2 8-3 8-3 8-2 8-1 8 1 8 1 8-1 8-2 8-2 8 1 8 1 8 1 8 1 8 0 8 0 8-1 8-2 8 0 8 0 8 0 8 0 8 0 8 0 8 0 8 1 8 0 8 1 8-1 8-1 8-1 8-2 8 0 8 0 8 1 8 0 8 0 8 0 8 1 8 1 10 1"/>
<path d="M878 2566l8 0 8-1 8 1 8 1 8 1 8 1 8-1 8-1 8-3 8-5 8-6 8-9 8-13 8-18 8-21 8-25 8-25 8-22 8-16 8-8 8 5 8 18 8 28 8 32 8 31 8 26 8 21 8 18 8 14 8 11 8 9 8 7 8 3 8 0 8-2 8-3 8-4 8-3 8-3 8-2 8-2 8-2 8-1 8-2 8-1 8 0 8-1 8 0 8-1 8 1 8 2 8 0 8-1 8-1 8 1 8 1 8 0 8-1 8-1 8 0 8 1 8 0 8 0 8 1 8 1 8 1 8-1 8-2 8-2 8-2 8 0 8 1 8 1 8 0 8 0 8 0 8 0 8 0 10 0"/>
</g>
<g stroke="#199bd1" stroke-width="3">
<path d="M878 2554l6 0 6 5 6 3 6-3 6-2 6 2 6 2 6-1 6 1 6 3 6-2 6-5 6 0 6 3 6-2 6-6 6-2 6 2 6-3 6-11 6-11 6-10 6-14 6-20 6-19 6-15 6-15 6-18 6-18 6-7 6-2 6-2 6 2 6 13 6 15 6 7 6 8 6 24 6 23 6 7 6 9 6 27 6 24 6 2 6 4 6 18 6 7 6-9 6 10 6 26 6 8 6-5 6 1 6 2 6 0 6-9 6-18 6 3 6 13 6-19 6-18 6 21 6 5 6-26 6 2 6 18 6-10 6-13 6 10 6 6 6-8 6-5 6 4 6 3 6-2 6-1 6 2 6 2 6-4 6-5 6 4 6 7 6-2 6-5 6 1 6 1 6-4 6-1 6 4 6 1 6-5 6-2 6 6 6 3 6-4 6-5 6 2 6 5 6-1 6-1 6 2 6 2 6-2 6-1 10 4"/>
<path d="M878 2588l6-23 6 5 6 16 6-12 6-12 6 7 6 3 6-5 6-1 6 3 6 1 6-1 6 0 6 0 6-1 6-2 6 1 6 1 6-2 6-1 6-4 6-10 6-13 6-12 6-13 6-16 6-13 6-12 6-16 6-14 6-1 6 3 6-1 6 7 6 14 6 1 6 6 6 28 6 6 6-8 6 28 6 19 6-17 6 19 6 35 6-13 6-2 6 32 6-4 6-15 6 19 6 6 6-14 6 3 6 5 6-9 6-6 6 2 6-3 6-6 6-6 6-2 6-4 6-1 6 6 6-6 6-3 6 7 6-14 6 5 6 4 6-28 6 11 6-9 6-17 6 38 6-4 6-1 6 23 6-15 6 1 6 7 6-8 6 3 6-2 6-2 6 3 6-2 6-2 6 4 6 2 6 0 6 0 6-1 6-1 6 0 6 1 6 0 6 0 6 0 6-1 6-1 6 1 6 0 10-2"/>
<path d="M878 2576l6-9 6-1 6 9 6-3 6-10 6 7 6 5 6-8 6 2 6 6 6-5 6-2 6 9 6-2 6-11 6 4 6 5 6-12 6-11 6-3 6-12 6-17 6-16 6-22 6-21 6-16 6-24 6-23 6 3 6 9 6-12 6 6 6 41 6 17 6-11 6 29 6 51 6 4 6-9 6 37 6 38 6-5 6 1 6 28 6 10 6-14 6 0 6 10 6-3 6-5 6-4 6-9 6-4 6-1 6-10 6-7 6 4 6-3 6-12 6 0 6 2 6-7 6-1 6 8 6-4 6-8 6 6 6 3 6-6 6 2 6 7 6-7 6-5 6 11 6 2 6-9 6 1 6 4 6-6 6 0 6 7 6-4 6-9 6 7 6 4 6-9 6 1 6 7 6-5 6-5 6 8 6 1 6-8 6 5 6 7 6-5 6-1 6 7 6-6 6-8 6 7 6 3 6-7 6 1 10 4"/>
<path d="M878 2558l6 2 6 6 6-2 6-3 6 5 6 3 6-7 6-3 6 4 6 2 6-3 6-8 6 7 6-1 6-6 6 6 6-13 6 9 6-18 6-4 6 1 6-20 6 7 6-42 6-2 6-8 6-26 6 4 6-12 6 2 6-7 6 8 6 19 6 5 6 14 6 22 6 22 6 9 6 8 6 17 6 15 6 3 6 6 6 18 6 13 6 0 6 0 6 8 6 3 6-9 6-5 6 3 6-4 6-12 6-5 6 1 6-5 6-11 6-3 6 2 6-2 6-7 6 2 6 1 6-8 6-7 6 5 6 7 6-5 6-6 6 5 6 5 6-4 6-3 6 5 6 1 6-6 6-2 6 5 6-2 6-6 6 2 6 9 6-1 6-7 6 0 6 7 6-3 6-7 6 4 6 6 6-2 6-6 6 3 6 3 6-6 6-5 6 7 6 8 6-3 6-6 6 4 6 4 6-5 10 3"/>
<path d="M878 2569l6-1 6-1 6 1 6 0 6 0 6 1 6 0 6 1 6 0 6-1 6-1 6-1 6 0 6 0 6-2 6-2 6-2 6-3 6-6 6-9 6-10 6-12 6-18 6-20 6-23 6-21 6-19 6-15 6-12 6-7 6 2 6 4 6 5 6 12 6 17 6 16 6 17 6 20 6 19 6 18 6 18 6 16 6 17 6 13 6 10 6 7 6 4 6 3 6 1 6-4 6-3 6 0 6-3 6-6 6 0 6 0 6-11 6-6 6 9 6 2 6-15 6 2 6 12 6-15 6-13 6 23 6 7 6-30 6 6 6 31 6-16 6-26 6 22 6 14 6-28 6-2 6 27 6-5 6-19 6 10 6 11 6-13 6-4 6 10 6-2 6-8 6 5 6 5 6-4 6 0 6 5 6 1 6-5 6-3 6 0 6-1 6 1 6 2 6 0 6 0 6 2 6 4 6-2 6-2 10-1"/>
<path d="M878 2573l6 1 6-4 6 1 6 5 6-2 6-4 6 2 6 2 6-4 6-3 6 4 6 2 6-4 6 0 6 6 6 1 6-7 6-2 6 2 6-5 6-9 6-6 6-5 6-12 6-17 6-13 6-13 6-20 6-13 6 0 6-1 6-2 6 7 6 9 6 13 6 15 6 4 6 18 6 22 6-5 6 18 6 27 6-5 6 8 6 18 6 2 6 2 6 6 6 4 6 0 6-4 6-2 6 0 6-3 6-7 6-3 6-3 6-8 6-6 6 1 6 0 6-6 6-2 6 4 6-1 6-6 6-2 6 4 6 0 6-3 6 1 6 5 6-3 6-5 6 3 6 3 6-3 6-2 6 5 6 1 6-6 6-1 6 6 6 1 6-6 6 1 6 4 6-4 6-6 6 3 6 5 6-3 6-3 6 6 6 3 6-3 6 0 6 4 6-1 6-7 6 1 6 8 6-1 6-7 10 3"/>
<path d="M878 2568l6 0 6-1 6-1 6 0 6 0 6 0 6 0 6 0 6 0 6 0 6 1 6 1 6 0 6-3 6-4 6-1 6-1 6-2 6-2 6-4 6-9 6-12 6-14 6-16 6-21 6-22 6-22 6-22 6-22 6-16 6-9 6-6 6-2 6 9 6 15 6 16 6 27 6 28 6 10 6 23 6 40 6 7 6-1 6 39 6 21 6-17 6 17 6 31 6-10 6-5 6 18 6-3 6-16 6 5 6 1 6-18 6-5 6 8 6-8 6-10 6 6 6-5 6-12 6 7 6 4 6-15 6 1 6 13 6-15 6-10 6 19 6-4 6-16 6 14 6 8 6-18 6 4 6 13 6-19 6-20 6-7 6-20 6-6 6 29 6 23 6 1 6 8 6 7 6-4 6 0 6 4 6-1 6-3 6 2 6 0 6-2 6 2 6 2 6-1 6-1 6-2 6-2 6 1 6 2 10 2"/>
</g>
<g stroke="#1a1a1a" stroke-width="2.8">
<path d="M878 2571l8-1 8 0 8 0 8-1 8-1 8 0 8 1 8 1 8 0 8 1 8-1 8-2 8-4 8-6 8-10 8-14 8-20 8-23 8-24 8-21 8-14 8-5 8 4 8 14 8 20 8 24 8 25 8 24 8 22 8 19 8 15 8 13 8 10 8 5 8 1 8-1 8-2 8-3 8-3 8-3 8-2 8-3 8-3 8-3 8-3 8-1 8-1 8-1 8-2 8-2 8 0 8 1 8 2 8 1 8 0 8-1 8-2 8-1 8 1 8 1 8 0 8 1 8 2 8 1 8 0 8 0 8 0 8-1 8-1 8 0 8-1 8 0 8-1 8 0 8-1 8-1 8 0 8 1 10 1"/>
</g>
<g stroke="#199bd1" stroke-width="3">
<path d="M878 2571l6 0 6-2 6 1 6 1 6 0 6 1 6 0 6-1 6 0 6 0 6 1 6 2 6 1 6 0 6-2 6-3 6-1 6-4 6-6 6-6 6-9 6-13 6-13 6-19 6-22 6-21 6-24 6-21 6-16 6-10 6-1 6 4 6 7 6 13 6 14 6 14 6 15 6 17 6 19 6 21 6 15 6 17 6 22 6 14 6 5 6 11 6 13 6 1 6-14 6-1 6 18 6-3 6-24 6 3 6 19 6-11 6-29 6 3 6 22 6-11 6-26 6 12 6 24 6-14 6-21 6 13 6 15 6-11 6-12 6 9 6 10 6-8 6-8 6 5 6 4 6-4 6-3 6 1 6 1 6 0 6 0 6 3 6 0 6-2 6 0 6-1 6-2 6 0 6 1 6 2 6 1 6-1 6-1 6 1 6 0 6 2 6 0 6 0 6-1 6-2 6-1 6 3 6-2 6-2 10 2"/>
<path d="M878 2569l6 3 6 2 6-2 6-1 6 2 6-1 6-3 6 2 6 2 6 0 6-3 6-2 6 2 6-1 6-2 6 1 6-5 6-11 6-12 6-11 6-9 6-29 6-34 6-23 6-42 6-30 6-17 6-31 6 6 6 4 6-9 6 42 6 18 6 9 6 49 6 9 6 24 6 43 6 0 6 37 6 31 6-5 6 31 6 12 6-6 6 16 6-4 6 2 6 8 6-12 6 0 6 2 6-10 6-3 6-3 6-5 6-6 6-7 6-2 6 2 6-2 6-4 6 0 6 1 6-1 6-1 6 2 6 1 6-3 6-3 6 1 6 2 6-1 6-1 6 3 6 1 6-4 6-2 6 4 6 1 6-2 6 0 6 3 6 0 6-3 6-1 6 4 6 0 6-3 6 0 6 4 6 0 6-3 6 1 6 2 6-3 6-4 6 2 6 4 6-2 6-3 6 2 6 0 6-2 10 1"/>
<path d="M878 2567l6 2 6-10 6 6 6 7 6-9 6 4 6 8 6-10 6 1 6 9 6-9 6-4 6 8 6-5 6-4 6 5 6-8 6-7 6-2 6-10 6-8 6-7 6-18 6-18 6-14 6-16 6-10 6-9 6-10 6 4 6 5 6 4 6 11 6 12 6 11 6 17 6 15 6 15 6 22 6 12 6 15 6 18 6 2 6 17 6 5 6 1 6 8 6-11 6 12 6-13 6-3 6 5 6-26 6 23 6-26 6-3 6 15 6-36 6 32 6-21 6-3 6 20 6-32 6 23 6-10 6-3 6 13 6-14 6 10 6-5 6 0 6 2 6-4 6 6 6-5 6 2 6 3 6-3 6 4 6-2 6-4 6 2 6-2 6 0 6 4 6-3 6 0 6 5 6-4 6-2 6 1 6-2 6 2 6 0 6-3 6 2 6 2 6-2 6 1 6-2 6-2 6 4 6-1 6-3 10 2"/>
</g>
<g stroke="#1a1a1a" stroke-width="2.8">
<path d="M878 2569l8 0 8-1 8-1 8 0 8-1 8 0 8 0 8-1 8 0 8 1 8 0 8-1 8-3 8-6 8-11 8-14 8-19 8-22 8-22 8-18 8-10 8-1 8 8 8 16 8 22 8 23 8 22 8 20 8 17 8 16 8 14 8 13 8 10 8 6 8 2 8-1 8-3 8-3 8-3 8-4 8-3 8-3 8-4 8-4 8-3 8-2 8-2 8-2 8 0 8 0 8-1 8 0 8 0 8 2 8 2 8 1 8 0 8-1 8-1 8-1 8 0 8 0 8 0 8-1 8-1 8-1 8-1 8 2 8 1 8 1 8 1 8 0 8 0 8-1 8-1 8-1 8 0 8 0 10 1"/>
</g>
<g stroke="#199bd1" stroke-width="3">
<path d="M878 2573l6 0 6 5 6-2 6-1 6 4 6-2 6 0 6 3 6-3 6-2 6 2 6-1 6 0 6 3 6-6 6-5 6 2 6-8 6-9 6-7 6-15 6-19 6-17 6-30 6-31 6-24 6-27 6-22 6-11 6-10 6-1 6 11 6 12 6 17 6 27 6 26 6 24 6 30 6 26 6 18 6 26 6 17 6 18 6 25 6 8 6 11 6 3 6 0 6 0 6-6 6 7 6-13 6-1 6-1 6-24 6 11 6-17 6-6 6 6 6-18 6 8 6-10 6 1 6 3 6-9 6 13 6-14 6 4 6 5 6-12 6 12 6-7 6-1 6 8 6-2 6 2 6-1 6 1 6-3 6 0 6 2 6-4 6 5 6 2 6-5 6 3 6-1 6-6 6 2 6 1 6-2 6 4 6 3 6-4 6 2 6 0 6-4 6 4 6 2 6-6 6 0 6 2 6-2 6 3 10 1"/>
<path d="M878 2568l6 1 6 1 6-2 6 5 6-4 6-7 6 17 6-7 6-12 6 24 6-14 6-12 6 31 6-19 6-7 6 28 6-30 6-7 6 17 6-31 6-6 6 2 6-29 6-8 6-14 6-24 6-3 6-10 6-12 6 1 6-4 6 4 6 17 6 8 6 11 6 19 6 7 6 15 6 17 6 9 6 11 6 12 6 16 6 3 6 16 6 10 6-2 6 25 6-16 6 13 6 10 6-33 6 31 6-19 6-16 6 18 6-28 6 4 6-8 6 4 6-11 6-10 6 25 6-31 6 13 6 7 6-24 6 23 6-12 6-1 6 4 6-5 6 10 6-12 6 5 6-5 6-20 6-2 6 0 6 6 6 9 6 10 6 2 6-4 6 4 6 1 6-3 6 5 6 3 6-5 6-1 6 2 6-2 6-1 6 6 6 0 6-4 6 1 6-1 6-3 6 3 6 3 6-5 6-3 10 3"/>
<path d="M878 2571l6 0 6 1 6-2 6-3 6-1 6 2 6 1 6 0 6 2 6 0 6-2 6 0 6 1 6-2 6-4 6-1 6-3 6-8 6-10 6-11 6-20 6-26 6-27 6-29 6-32 6-27 6-23 6-18 6 2 6 5 6-1 6 28 6 31 6 7 6 37 6 41 6-3 6 32 6 43 6-9 6 22 6 36 6-17 6 8 6 31 6-10 6 1 6 17 6-14 6-8 6 8 6-9 6-10 6 0 6-3 6-5 6-4 6-4 6-3 6-3 6-4 6-2 6 0 6-2 6 0 6 2 6 2 6-2 6-3 6 1 6 0 6-2 6 1 6 2 6 0 6-1 6 0 6 1 6-3 6-1 6 3 6 2 6-1 6-2 6 0 6 1 6-1 6 1 6 2 6-1 6-3 6-1 6 2 6 2 6-1 6 0 6 2 6-1 6-1 6 1 6 2 6 0 6-3 6-1 10 0"/>
</g>
<g stroke="#1a1a1a" stroke-width="2.8">
<path d="M878 2567l8 0 8-1 8 0 8 0 8 0 8 0 8 0 8-1 8-1 8-1 8-4 8-7 8-12 8-17 8-21 8-26 8-29 8-28 8-23 8-14 8-4 8 10 8 24 8 32 8 35 8 33 8 29 8 24 8 20 8 16 8 11 8 6 8 2 8-1 8-2 8-4 8-4 8-4 8-4 8-4 8-3 8-3 8-3 8-2 8-1 8-1 8-1 8 1 8 1 8-1 8 0 8-1 8 1 8 1 8 1 8 1 8 0 8-1 8 0 8-1 8-1 8 1 8 1 8 1 8-1 8 0 8-1 8 0 8 1 8 0 8-1 8-1 8-1 8-1 8 0 8-1 8-1 8 0 10 2"/>
</g>
<g stroke="#199bd1" stroke-width="3">
<path d="M878 2566l6 16 6-18 6 3 6 14 6-16 6 16 6-9 6 0 6 16 6-31 6 24 6 2 6-27 6 28 6-15 6-13 6 7 6-7 6-1 6-16 6-10 6-7 6-24 6-15 6-6 6-17 6-12 6 1 6-2 6-4 6 11 6 12 6 1 6 9 6 21 6 11 6 6 6 20 6 17 6 4 6 10 6 17 6 5 6-1 6 10 6 4 6-5 6 2 6 0 6-7 6-6 6 6 6-2 6-16 6 7 6-6 6-4 6-3 6-4 6 13 6-26 6 20 6 0 6-17 6 27 6-25 6 24 6-18 6-1 6 28 6-48 6 36 6-13 6-5 6 16 6-22 6 26 6-29 6 11 6 17 6-23 6 16 6-8 6-4 6-15 6-16 6-1 6-13 6 15 6 24 6 6 6 1 6 6 6 2 6-8 6 2 6 6 6-6 6-4 6 8 6 0 6-6 6 5 6 7 10-9"/>
<path d="M878 2566l6 1 6 5 6-5 6 1 6 2 6-4 6 7 6 3 6-11 6 4 6 9 6-12 6-6 6 14 6 1 6-10 6-2 6 2 6-7 6-18 6-15 6-4 6-17 6-25 6-13 6-20 6-24 6-5 6-8 6-15 6 14 6 10 6-12 6 18 6 33 6-4 6 6 6 41 6 16 6-4 6 29 6 32 6-4 6 2 6 30 6 8 6-19 6 9 6 21 6-19 6-15 6 18 6-6 6-22 6 12 6 4 6-17 6 2 6 7 6-12 6-5 6 2 6-4 6 2 6 3 6-4 6 3 6 0 6-6 6 4 6 0 6-5 6 6 6 2 6-4 6 4 6-2 6-6 6 8 6 2 6-6 6 2 6-2 6-6 6 5 6 0 6-5 6 8 6 2 6-6 6 4 6 0 6-6 6 5 6 3 6-4 6 6 6-1 6-5 6 6 6-2 6-4 6 6 6-1 10-2"/>
<path d="M878 2574l6-3 6 5 6 0 6-5 6 3 6 2 6-5 6-2 6 2 6-2 6 1 6 2 6-6 6 3 6 6 6-12 6 0 6 19 6-13 6-17 6 18 6-2 6-27 6 2 6 0 6-28 6-15 6-4 6-16 6-11 6-3 6-7 6-1 6 8 6 5 6 12 6 16 6 10 6 11 6 21 6 18 6 4 6 14 6 16 6-2 6 6 6 8 6-1 6 0 6-8 6 9 6-1 6-18 6 17 6-11 6-17 6 17 6-18 6 1 6 5 6-18 6 21 6-14 6-6 6 23 6-28 6 8 6 14 6-21 6 17 6-6 6-6 6 10 6-14 6 12 6 1 6-15 6 16 6 1 6-9 6 4 6 0 6-1 6-1 6 3 6 3 6-8 6 0 6 6 6-6 6-3 6 7 6 2 6-5 6 3 6 6 6-5 6-4 6 5 6 1 6-5 6 2 6 4 6-5 10 1"/>
<path d="M878 2563l6 10 6-8 6-1 6 11 6-7 6-2 6 13 6-6 6-18 6 23 6 8 6-33 6 28 6 5 6-18 6 0 6 11 6 14 6-44 6 29 6-11 6-15 6 12 6-34 6 25 6-46 6-4 6-1 6-39 6 6 6-27 6 11 6-14 6 0 6 24 6-7 6 16 6 15 6 14 6 6 6 14 6 21 6 3 6 10 6 18 6 7 6 1 6 12 6 9 6-3 6 4 6 8 6-6 6-6 6 6 6-5 6-13 6 2 6 3 6-11 6-3 6 7 6-4 6-9 6 5 6 2 6-11 6 0 6 9 6-5 6-8 6 8 6 2 6-7 6 6 6 7 6-9 6-3 6 6 6-6 6-12 6 1 6-3 6-12 6 5 6 15 6 1 6-2 6 9 6 2 6-8 6 3 6 5 6-7 6-3 6 7 6-1 6-4 6 8 6 3 6-8 6 2 6 9 6-7 10-1"/>
<path d="M878 2570l6 2 6-3 6 2 6 1 6-4 6 7 6-6 6 8 6-4 6-4 6 12 6-16 6 16 6-11 6-2 6 9 6-21 6 8 6-15 6-10 6-10 6-22 6-14 6-24 6-20 6-21 6-17 6-11 6-8 6 1 6 4 6 7 6 14 6 16 6 17 6 16 6 16 6 16 6 12 6 18 6 12 6 15 6 18 6-7 6 28 6 19 6-27 6 16 6 1 6 11 6 4 6-45 6 41 6 1 6-38 6 19 6-16 6 1 6-1 6-19 6 15 6-5 6-3 6 5 6-7 6 3 6-3 6-4 6 0 6 1 6 3 6-1 6-2 6 1 6 0 6-1 6 1 6 0 6-2 6 1 6 1 6-1 6 2 6 0 6-2 6 1 6 1 6 0 6 1 6 0 6 1 6 0 6-2 6 0 6 1 6-3 6 0 6 3 6-2 6-2 6 1 6-2 6 0 6 2 10 0"/>
<path d="M878 2575l6-13 6 17 6-7 6-10 6 16 6-11 6 0 6 17 6-14 6 0 6 6 6-13 6 8 6 2 6-7 6 5 6-3 6-2 6-2 6-3 6-2 6-14 6-8 6-14 6-20 6-6 6-21 6-20 6-8 6-16 6 0 6 7 6 0 6 20 6 13 6 15 6 24 6 12 6 20 6 11 6 13 6 23 6-14 6 14 6 21 6-23 6 18 6 12 6-25 6 14 6 1 6-17 6 7 6-6 6-4 6 3 6-7 6 3 6-10 6-2 6 17 6-19 6-2 6 24 6-23 6-9 6 26 6-14 6-16 6 22 6 6 6-24 6 3 6 25 6-22 6-13 6 33 6-13 6-15 6 30 6-7 6-15 6 11 6-6 6-3 6 3 6 1 6 3 6-9 6 3 6 6 6-8 6 8 6-2 6-9 6 10 6-3 6-1 6 6 6-9 6 6 6 2 6-8 6 9 10-7"/>
</g>
<g stroke="#1a1a1a" stroke-width="2.8">
<path d="M878 2569l8-2 8-1 8-1 8 1 8 0 8 0 8 0 8-2 8-1 8-1 8-2 8-2 8-5 8-8 8-13 8-17 8-19 8-22 8-21 8-17 8-11 8-2 8 9 8 17 8 24 8 26 8 25 8 21 8 17 8 14 8 13 8 12 8 9 8 7 8 1 8-1 8-3 8-4 8-3 8-3 8-2 8-3 8-3 8-3 8-2 8 0 8 0 8 1 8 1 8 0 8 0 8-1 8 1 8 0 8 1 8-1 8-2 8-1 8-1 8-1 8 1 8 1 8 2 8 0 8 0 8-1 8-2 8-2 8-1 8 0 8 1 8 1 8 1 8 2 8 1 8 1 8 1 8 0 10 0"/>
</g>
<g stroke="#199bd1" stroke-width="3">
<path d="M878 2575l6 2 6-3 6 2 6 5 6-2 6-7 6 0 6 3 6-3 6-5 6 2 6 1 6-9 6-6 6 1 6-9 6-18 6-10 6-9 6-18 6-12 6-8 6-12 6-4 6-6 6-4 6 17 6 4 6-12 6 31 6 24 6-18 6 24 6 33 6-22 6 9 6 40 6-8 6 0 6 26 6-5 6-3 6 15 6-6 6-1 6 13 6-7 6-7 6 5 6-7 6-12 6 2 6-1 6-11 6 0 6 5 6-4 6-6 6 1 6 3 6-5 6-4 6 5 6 1 6-8 6 0 6 10 6-5 6-8 6 10 6 6 6-16 6-4 6 19 6 0 6-21 6 4 6 21 6-8 6-17 6 9 6 12 6-10 6-9 6 11 6 9 6-6 6-5 6 5 6 0 6-8 6 1 6 9 6 1 6-6 6 1 6 6 6-1 6-5 6 3 6 3 6-6 6-3 6 5 10-2"/>
<path d="M878 2571l6-4 6 6 6-5 6-2 6 7 6-3 6 3 6 5 6-6 6 4 6-1 6-7 6 5 6-1 6-5 6 5 6-5 6-5 6 0 6-10 6-1 6-3 6-17 6-2 6-8 6-18 6 1 6-14 6-5 6 14 6-30 6 1 6 46 6-33 6-6 6 68 6-20 6-21 6 57 6-4 6-9 6 39 6-1 6 1 6 20 6-3 6 6 6 12 6-3 6 1 6-3 6-2 6 3 6-7 6-4 6-6 6-10 6 2 6-3 6-8 6 2 6-6 6-7 6 4 6-5 6-2 6 5 6-6 6 2 6 4 6-7 6 2 6 0 6-5 6 6 6-3 6-6 6 7 6 0 6 0 6 5 6-7 6 0 6 6 6-5 6 3 6 3 6-6 6 3 6-1 6-6 6 7 6-2 6-3 6 5 6-6 6 0 6 6 6-5 6 4 6 4 6-6 6 2 6 1 10 0"/>
<path d="M878 2574l6-3 6 1 6 3 6 0 6 1 6 2 6 0 6-2 6 0 6-1 6-3 6 0 6 4 6-1 6-4 6 0 6 1 6-1 6-1 6 1 6-3 6-5 6-4 6-8 6-12 6-10 6-10 6-16 6-18 6-12 6-8 6-4 6 4 6 5 6 0 6 5 6 13 6 13 6 12 6 18 6 17 6 11 6 13 6 16 6 11 6 6 6 11 6 8 6-6 6-5 6 7 6 2 6-10 6-3 6 7 6-2 6-14 6-3 6 9 6-6 6-16 6 2 6 8 6-8 6-11 6 9 6 8 6-11 6-13 6-7 6-16 6-6 6 19 6 22 6 6 6-5 6 2 6 4 6-3 6-4 6 4 6 2 6-3 6-1 6 2 6 1 6-2 6 2 6 3 6-1 6-1 6 1 6-2 6-4 6-1 6 2 6 1 6 0 6-3 6-2 6 2 6 6 6 1 6-1 10 1"/>
<path d="M878 2577l6-5 6-1 6 11 6-5 6-10 6 8 6 4 6-7 6 1 6 5 6-2 6-6 6 0 6 3 6-6 6-6 6 4 6-1 6-11 6-4 6-3 6-12 6-14 6-9 6-15 6-19 6-9 6-6 6-13 6-7 6 2 6-1 6 0 6 15 6 13 6 5 6 14 6 19 6 11 6 12 6 20 6 13 6 5 6 13 6 14 6 2 6 2 6 8 6-2 6-7 6 3 6 2 6-11 6-5 6 1 6-7 6-6 6 6 6-1 6-11 6 4 6 0 6-10 6 5 6 0 6-5 6 8 6-8 6 0 6 13 6-15 6 1 6 17 6-22 6 3 6 25 6-24 6-3 6 25 6-19 6-10 6 9 6-16 6-3 6 18 6 4 6-2 6 1 6 2 6 2 6-5 6 0 6 6 6-3 6-1 6 9 6-1 6-7 6 3 6 2 6-8 6 0 6 8 6-6 10-2"/>
</g>
<g stroke="#1a1a1a" stroke-width="2.8">
<path d="M878 2568l8 0 8-1 8 0 8-1 8-1 8 0 8 0 8 0 8 0 8 0 8 0 8-2 8-4 8-9 8-13 8-18 8-22 8-26 8-28 8-25 8-18 8-6 8 6 8 17 8 25 8 29 8 27 8 25 8 22 8 20 8 18 8 15 8 11 8 7 8 1 8-1 8-4 8-5 8-5 8-5 8-4 8-4 8-3 8-4 8-2 8-2 8-1 8-1 8-1 8 0 8 0 8 0 8 1 8-1 8 0 8 0 8-1 8-1 8-1 8 0 8 1 8 1 8 1 8 1 8 1 8 0 8 0 8-1 8-1 8 1 8 0 8-1 8 0 8 0 8 0 8 1 8 1 8 0 10 0"/>
<path d="M878 2569l8-1 8-1 8-1 8 1 8 1 8 1 8 0 8 0 8-2 8-3 8-5 8-9 8-15 8-21 8-30 8-36 8-42 8-41 8-35 8-21 8-4 8 19 8 39 8 48 8 48 8 41 8 32 8 26 8 19 8 16 8 13 8 10 8 6 8 2 8-1 8-3 8-4 8-5 8-5 8-5 8-4 8-5 8-4 8-5 8-3 8-2 8-2 8-1 8-1 8 0 8 0 8 0 8 1 8 1 8 1 8-1 8 0 8-1 8-1 8-1 8-1 8 0 8 1 8 1 8 0 8 0 8 1 8 1 8 1 8-1 8 0 8-1 8-1 8 0 8 0 8-1 8 0 8-1 10 0"/>
</g>
<g stroke="#199bd1" stroke-width="3">
<path d="M878 2575l6 2 6-1 6-2 6-1 6 0 6 0 6 0 6 0 6-2 6 0 6 0 6 1 6 0 6-1 6-1 6-3 6-3 6-2 6-5 6-2 6-10 6-9 6-15 6-20 6-15 6-29 6-13 6-20 6-11 6 2 6-14 6 22 6 0 6 26 6 18 6 8 6 41 6-3 6 36 6 7 6 13 6 24 6-6 6 30 6-5 6 14 6 7 6-5 6 9 6-15 6 5 6-5 6-6 6-2 6-8 6-2 6-9 6-4 6-5 6-3 6 1 6-1 6-5 6-4 6-1 6 1 6 0 6 0 6 1 6 1 6-2 6-1 6 2 6 1 6-2 6-1 6 2 6 0 6-3 6 0 6 0 6 0 6-1 6 1 6 1 6-1 6 0 6 0 6 0 6 0 6 0 6 1 6 2 6 2 6 1 6-1 6-1 6-1 6-2 6-1 6 1 6 0 6 0 6 0 10 1"/>
<path d="M878 2570l6-7 6 10 6-5 6 1 6 5 6-8 6 8 6-4 6-1 6 7 6-14 6 9 6 5 6-17 6 15 6 4 6-17 6 5 6 4 6-17 6-13 6 10 6-23 6-12 6 2 6-31 6 7 6-19 6-8 6 16 6-26 6 29 6-2 6-5 6 25 6-12 6 15 6 16 6 1 6 21 6 9 6 1 6 17 6 4 6 5 6 10 6-10 6-3 6-14 6-8 6 18 6 3 6 10 6 1 6-11 6 5 6-9 6-3 6 2 6-13 6 5 6-5 6-1 6 8 6-11 6 5 6-2 6-8 6 7 6-10 6 7 6 4 6-7 6 8 6-6 6 1 6 3 6-8 6 10 6-3 6-1 6 7 6-10 6 6 6-2 6-4 6 8 6-9 6 4 6 3 6-6 6 9 6-8 6-1 6 4 6-9 6 10 6-1 6 0 6 6 6-11 6 8 6-1 6-5 10 3"/>
<path d="M878 2566l6 4 6-3 6-1 6 1 6-5 6 4 6-1 6-3 6 4 6-3 6 2 6-2 6-2 6 7 6-3 6 1 6-2 6-6 6 3 6-7 6-2 6-3 6-12 6-6 6-13 6-10 6-7 6-15 6-4 6-8 6-6 6 3 6-4 6 6 6 4 6 5 6 15 6 6 6 10 6 13 6 7 6 17 6 14 6 7 6 15 6 12 6 1 6 9 6 11 6-8 6 5 6 2 6-22 6-3 6-14 6-5 6 30 6-14 6-7 6 19 6-23 6-4 6 16 6-12 6-9 6 7 6 8 6-13 6-6 6 22 6-12 6-14 6 18 6-2 6-12 6 6 6 11 6-10 6-8 6 16 6-4 6-10 6 13 6-3 6-7 6 2 6 4 6 0 6-6 6 3 6 1 6-5 6 5 6-3 6 2 6 3 6-4 6 2 6-4 6-1 6 3 6-2 6 6 6-1 10 1"/>
<path d="M878 2568l6-3 6 7 6 4 6-18 6 12 6 15 6-16 6-4 6 7 6 6 6-12 6-5 6 21 6-8 6-17 6 10 6-2 6-7 6-12 6-8 6-8 6-28 6-18 6-17 6-28 6-16 6-22 6-9 6 0 6-6 6 9 6 6 6 10 6 23 6 15 6 28 6 23 6 13 6 23 6 9 6 14 6 15 6 5 6 18 6 7 6 7 6 12 6-2 6 7 6 0 6-6 6 5 6-5 6 0 6-9 6-14 6 8 6-8 6-14 6-1 6 4 6 7 6-18 6-13 6 10 6 1 6 6 6-12 6-13 6 22 6 7 6-17 6-8 6 16 6 18 6-25 6-11 6 21 6-2 6-8 6-3 6 3 6 5 6-11 6 6 6 6 6-7 6 1 6-11 6-7 6 0 6-2 6 14 6 3 6 1 6 8 6-6 6 2 6 0 6-2 6 9 6-6 6 1 6 3 10-5"/>
<path d="M878 2569l6 0 6 0 6-2 6-1 6 2 6 0 6-3 6 0 6 2 6 2 6 0 6-2 6 0 6-2 6-2 6-5 6-5 6-6 6-7 6-12 6-16 6-17 6-19 6-19 6-17 6-13 6-8 6-1 6 4 6 8 6 11 6 12 6 13 6 15 6 16 6 15 6 15 6 16 6 15 6 11 6 5 6 16 6 7 6-5 6 20 6-7 6-9 6 15 6-18 6-6 6 11 6-7 6-13 6 7 6 4 6-21 6 6 6 13 6-24 6-3 6 21 6-19 6-11 6 27 6-12 6-18 6 28 6-4 6-25 6 25 6 10 6-28 6 11 6 15 6-21 6 4 6 14 6-15 6-3 6 14 6-7 6-6 6 10 6-3 6-7 6 7 6 1 6-4 6 2 6 0 6-2 6 1 6 4 6 0 6-1 6-1 6 0 6 2 6 0 6-2 6-2 6 0 6 1 6 1 10-1"/>
<path d="M878 2572l6-10 6 2 6 2 6-6 6 10 6-4 6 0 6 4 6-8 6 9 6-1 6-5 6 5 6-7 6 5 6-3 6-11 6 3 6-15 6-11 6-11 6-27 6-17 6-29 6-29 6-21 6-31 6-10 6-4 6-1 6 17 6 7 6 22 6 24 6 17 6 30 6 20 6 25 6 25 6 7 6 19 6 11 6 8 6 16 6 0 6 12 6 6 6-6 6 8 6-1 6-1 6-6 6-8 6 15 6-12 6-20 6 10 6 1 6-11 6-17 6 9 6 18 6-28 6-8 6 22 6-3 6-13 6-5 6 17 6 4 6-23 6 9 6 9 6-6 6 2 6-5 6 6 6 1 6-9 6 4 6-18 6-20 6-7 6-5 6 22 6 14 6 6 6 11 6-3 6 7 6 1 6-9 6 6 6-6 6 3 6 7 6-5 6 6 6-5 6-4 6 6 6-7 6 4 6-1 10 1"/>
</g>
<g stroke="#1a1a1a" stroke-width="2.8">
<path d="M878 2568l8 0 8 0 8-1 8 0 8-1 8 0 8 1 8 0 8-1 8-3 8-6 8-8 8-13 8-17 8-22 8-24 8-24 8-21 8-16 8-8 8 1 8 15 8 25 8 30 8 29 8 25 8 18 8 14 8 10 8 9 8 9 8 9 8 8 8 5 8 1 8 0 8-2 8-4 8-4 8-5 8-3 8-3 8-3 8-5 8-4 8-3 8-1 8-1 8 0 8 0 8 0 8 0 8-1 8 0 8 0 8 0 8 1 8 0 8 0 8 0 8 0 8 2 8 1 8 0 8-2 8-1 8 0 8 0 8 1 8 0 8 0 8 0 8-1 8 0 8-1 8 0 8 1 8 1 10 1"/>
</g>
<g stroke="#199bd1" stroke-width="3">
<path d="M878 2565l6 0 6 2 6-2 6-3 6 1 6 0 6-1 6 4 6-1 6-2 6 5 6-3 6-9 6 12 6 6 6-22 6 4 6 17 6-26 6-8 6 24 6-24 6-28 6 18 6-10 6-32 6 6 6 3 6-19 6-5 6 9 6 5 6-4 6-1 6 20 6 11 6-12 6 15 6 29 6-7 6-3 6 27 6 10 6-3 6 15 6 14 6 2 6 6 6 7 6 2 6-2 6-3 6-4 6-3 6-4 6-6 6-5 6-3 6-4 6-6 6-2 6 1 6 0 6-1 6-3 6-6 6-2 6 1 6 0 6-1 6-4 6-10 6-11 6-1 6 9 6 9 6 7 6 2 6 0 6 1 6 2 6 1 6 0 6 2 6-1 6-2 6-1 6 0 6 1 6 1 6-1 6-4 6-1 6 4 6 1 6-3 6-1 6 0 6 1 6 2 6 1 6-3 6-1 6 1 10-1"/>
<path d="M878 2559l6 17 6 8 6-22 6-3 6 16 6 0 6-11 6-2 6 11 6 5 6-12 6 1 6 9 6-8 6-5 6 2 6-2 6 1 6-5 6-9 6-3 6-11 6-11 6-9 6-19 6-15 6-11 6-17 6-7 6-5 6-6 6 5 6 5 6 7 6 16 6 11 6 12 6 20 6 11 6 13 6 15 6 5 6 10 6 9 6 5 6 10 6 6 6 2 6 9 6 4 6 2 6 5 6-6 6-1 6-1 6-6 6 0 6-7 6-6 6 7 6-10 6-8 6 12 6-15 6-8 6 19 6-11 6-7 6 16 6-12 6-7 6 13 6-8 6-4 6 9 6-3 6-1 6 1 6-3 6 3 6-1 6-7 6-16 6-16 6 12 6 18 6 4 6 5 6-1 6-4 6 5 6-1 6-1 6 4 6-3 6-2 6 4 6-3 6 2 6 0 6-5 6 2 6 2 6 0 10 6"/>
<path d="M878 2577l6-9 6 4 6 9 6-6 6 3 6 8 6-12 6-3 6 9 6-5 6-3 6 7 6-5 6-4 6 2 6-5 6-5 6 1 6-3 6-5 6-3 6-6 6-10 6-9 6-8 6-12 6-8 6-10 6-10 6 3 6-8 6 7 6 7 6-6 6 25 6 0 6 6 6 29 6-15 6 28 6 11 6-15 6 42 6-16 6 9 6 33 6-23 6 32 6-3 6-15 6 24 6-27 6-10 6-8 6-19 6 22 6 5 6 0 6 5 6-11 6 0 6-2 6-5 6-1 6-2 6-2 6-2 6-1 6 0 6-2 6 0 6 2 6 1 6 1 6 0 6 0 6 1 6-2 6-2 6-2 6 1 6 2 6 0 6 1 6 1 6 1 6 1 6-1 6-1 6-1 6 1 6-2 6-2 6 0 6 3 6 2 6-1 6-2 6 0 6 1 6-1 6-1 6-1 6 0 10 2"/>
<path d="M878 2574l6 3 6 0 6-4 6-3 6 0 6 3 6 1 6 0 6-1 6-2 6-1 6 1 6 1 6 2 6-1 6-4 6-2 6-3 6-5 6-7 6-7 6-8 6-11 6-13 6-13 6-16 6-18 6-13 6-10 6-7 6-2 6 3 6 7 6 12 6 13 6 15 6 21 6 14 6 14 6 21 6 9 6 13 6 22 6 4 6 9 6 16 6-7 6 4 6 11 6-16 6 1 6 7 6-19 6 1 6 4 6-18 6 2 6-1 6-13 6 2 6-1 6-2 6-8 6 9 6-8 6-3 6 12 6-21 6 23 6-10 6-5 6 15 6-18 6 13 6-10 6-1 6 6 6-6 6 5 6-2 6 1 6 0 6-1 6 0 6-1 6-1 6 2 6 1 6 0 6 0 6 2 6 1 6 0 6 0 6-2 6 0 6-1 6 0 6 0 6 1 6 0 6-2 6-2 6-1 10 0"/>
<path d="M878 2562l6-1 6-1 6 2 6-1 6-3 6 1 6 3 6-1 6-3 6 1 6 3 6-3 6-5 6 0 6 0 6-4 6-3 6-3 6-11 6-17 6-16 6-15 6-20 6-24 6-22 6-20 6-22 6-18 6-7 6-4 6 2 6 5 6 11 6 30 6 22 6 9 6 44 6 31 6 3 6 38 6 27 6-6 6 23 6 20 6-2 6 10 6 5 6-2 6 2 6-6 6-5 6 1 6-6 6-13 6-5 6-1 6-5 6-8 6-3 6 0 6-2 6-3 6 2 6 3 6-3 6-5 6 1 6 2 6-2 6 0 6 2 6-1 6-4 6 0 6 4 6 0 6-4 6 2 6 4 6 0 6-4 6 0 6 3 6-1 6-3 6 2 6 3 6-2 6-2 6 0 6 0 6-2 6 1 6 3 6 1 6-2 6 0 6 3 6-2 6-3 6 2 6 4 6-2 6-6 10 4"/>
<path d="M878 2570l6 3 6-2 6-2 6 2 6 2 6-1 6-1 6 1 6-1 6-3 6 2 6 5 6-1 6-3 6 0 6-1 6-5 6-5 6-3 6-7 6-9 6-7 6-7 6-11 6-12 6-7 6-7 6-9 6-4 6 2 6 3 6 3 6 8 6 8 6 5 6 6 6 12 6 9 6 5 6 10 6 10 6 3 6 4 6 13 6 7 6-4 6 7 6 13 6-5 6-8 6 9 6 5 6-12 6-7 6 7 6-4 6-13 6 2 6 7 6-8 6-8 6 5 6 3 6-7 6-1 6 6 6-2 6-7 6 0 6 5 6 2 6 0 6 0 6-2 6-2 6-1 6 0 6 1 6-1 6-2 6-2 6 0 6 1 6 0 6 3 6 3 6 0 6-2 6-1 6-3 6-1 6 1 6 1 6 1 6 2 6 3 6 0 6-4 6-3 6 1 6 1 6 0 6 1 6 2 10-1"/>
<path d="M878 2563l6 6 6-1 6-2 6 2 6-4 6-1 6 7 6-2 6-2 6 4 6-4 6-5 6 5 6-3 6-1 6 5 6-5 6-5 6-1 6-13 6-14 6-15 6-27 6-28 6-27 6-36 6-30 6-21 6-19 6-6 6 3 6 6 6 23 6 13 6 3 6 42 6 33 6-3 6 33 6 46 6 10 6 18 6 31 6 13 6 12 6 12 6 0 6 4 6 7 6-5 6-1 6-1 6-10 6-2 6-2 6-12 6-3 6 0 6-10 6-4 6 0 6-5 6 1 6 2 6-7 6 1 6 3 6-7 6 1 6 3 6-6 6 1 6 5 6-1 6 3 6 1 6-7 6 3 6 3 6-6 6 4 6 5 6-4 6 0 6 0 6-5 6 4 6 2 6-7 6 2 6 3 6-5 6 3 6 2 6-2 6 4 6 1 6-4 6 5 6 2 6-7 6 3 6 1 6-5 10 4"/>
<path d="M878 2566l6 4 6-4 6 3 6 2 6-3 6 4 6-3 6 0 6 1 6-5 6 5 6-1 6 0 6 4 6-4 6 1 6-4 6-5 6 2 6-8 6-4 6-9 6-16 6-14 6-27 6-22 6-23 6-29 6-17 6-17 6-11 6-2 6 0 6 16 6 14 6 17 6 25 6 19 6 27 6 23 6 18 6 22 6 14 6 20 6 14 6 6 6 10 6-1 6 3 6-1 6-8 6 1 6-6 6-11 6-21 6-33 6-13 6 0 6 13 6 22 6 10 6 4 6-4 6 6 6 4 6-17 6 4 6 12 6-12 6-1 6 12 6 0 6-16 6 8 6 21 6-22 6-7 6 22 6-7 6-13 6 10 6 8 6-16 6-6 6 21 6-7 6-14 6 11 6 2 6-4 6 0 6 4 6 0 6-9 6 6 6 2 6-5 6 6 6-1 6-1 6 2 6-3 6 5 6-2 10 3"/>
<path d="M878 2562l6 2 6 2 6-3 6 4 6-2 6-3 6 4 6-2 6 3 6 0 6-4 6 6 6-1 6-1 6 0 6-7 6 1 6-3 6-5 6-4 6-14 6-9 6-9 6-19 6-19 6-20 6-14 6-17 6-24 6-3 6 0 6-8 6-3 6 12 6 22 6 3 6 3 6 37 6 21 6-2 6 13 6 33 6 20 6-8 6 15 6 39 6 3 6-10 6 11 6 14 6-3 6-14 6 9 6 7 6-16 6-6 6 2 6-3 6-6 6-10 6 3 6-1 6-6 6 3 6-2 6-1 6-3 6-6 6 3 6-1 6 1 6 5 6-4 6 0 6-2 6-3 6 6 6-1 6 1 6 0 6-4 6 4 6 2 6 0 6 1 6-5 6 3 6 0 6-3 6 2 6-11 6-18 6-14 6 2 6 23 6 13 6 4 6 4 6-3 6 3 6-2 6-3 6 5 6-1 10 3"/>
<path d="M878 2565l6 1 6-3 6-1 6 3 6-2 6-4 6 2 6 3 6-3 6-3 6 1 6-1 6-4 6 3 6 5 6-2 6-5 6 0 6-5 6-10 6-8 6-5 6-13 6-15 6-6 6-2 6-7 6-3 6 5 6 3 6 2 6 7 6 10 6 4 6 6 6 16 6 8 6 10 6 19 6 9 6 4 6 15 6 0 6-6 6 12 6-4 6-11 6 14 6-5 6-18 6 12 6 1 6-20 6 5 6 2 6-17 6 0 6 10 6-8 6-5 6 6 6-1 6-6 6-2 6 1 6-1 6-1 6 1 6 3 6-2 6-2 6 3 6 0 6-2 6 3 6 5 6-4 6-5 6 4 6 3 6-4 6-4 6 2 6 0 6-2 6 4 6 4 6-4 6-2 6 5 6 1 6-6 6-2 6 3 6 0 6-2 6 3 6 2 6-2 6 0 6 2 6-1 6-3 6 3 10 1"/>
<path d="M878 2566l6 0 6-3 6-1 6 3 6-1 6 0 6 0 6-2 6 3 6 0 6 0 6-1 6-5 6-2 6-7 6-7 6-3 6-11 6-13 6-14 6-17 6-12 6-13 6-13 6-7 6-11 6-3 6 3 6 6 6 11 6 11 6 8 6 12 6 17 6 13 6 7 6 19 6 23 6-1 6 9 6 27 6 4 6 0 6 18 6 4 6-15 6 3 6 11 6-18 6-8 6 22 6-9 6-28 6 6 6 14 6-9 6-12 6 2 6 6 6-9 6-6 6 3 6-1 6 1 6 2 6-2 6-1 6-3 6 2 6 4 6-2 6 0 6-1 6-2 6 0 6-3 6 0 6 2 6-2 6 2 6 1 6 0 6 2 6-1 6 3 6 2 6-2 6 2 6 0 6-1 6 1 6-1 6 1 6-1 6-1 6 2 6-1 6 0 6-1 6-3 6 2 6 1 6 0 6-2 10-3"/>
<path d="M878 2562l6 10 6-6 6-1 6 8 6-4 6-5 6 8 6-1 6-10 6 3 6 7 6-6 6-3 6 8 6-3 6-7 6 8 6-1 6-10 6 4 6-3 6-16 6 0 6 0 6-22 6 0 6 2 6-31 6-6 6 7 6-30 6 3 6 22 6-21 6 5 6 26 6-13 6 7 6 27 6-3 6 8 6 18 6 6 6 11 6 13 6 10 6 13 6 7 6 6 6 2 6-2 6 6 6 1 6-7 6-1 6-5 6-7 6 1 6-7 6-9 6 3 6-5 6-6 6 2 6-6 6-1 6 5 6-5 6-1 6 3 6-5 6 1 6 2 6-6 6 2 6 4 6-3 6 4 6 0 6-5 6 6 6 0 6-5 6 4 6-3 6-6 6 7 6 1 6-1 6 6 6-5 6-5 6 5 6-3 6 1 6 4 6-5 6 3 6 6 6-7 6-2 6 0 6-5 6 5 10-1"/>
<path d="M878 2561l6 4 6-2 6-3 6 6 6 3 6-6 6-1 6 3 6-2 6 1 6 5 6 0 6-6 6 1 6 1 6-11 6-6 6-5 6-12 6-14 6-19 6-9 6-26 6-29 6-4 6-39 6-10 6-1 6-26 6 20 6-7 6 10 6 20 6-9 6 36 6 13 6 8 6 32 6 13 6 15 6 17 6 17 6 11 6-7 6-5 6 1 6 11 6 27 6 23 6 5 6-1 6 4 6-1 6-6 6-2 6-1 6-6 6-5 6 2 6-2 6-6 6 2 6 0 6-5 6-1 6 3 6-2 6-3 6 3 6 0 6-4 6 3 6 4 6-5 6-3 6 3 6-3 6-3 6 4 6 3 6-4 6 0 6 5 6 0 6-3 6 1 6 0 6-3 6 3 6 3 6-4 6-3 6 6 6 3 6-4 6 0 6 2 6-4 6-1 6 4 6-1 6-3 6 2 6 0 10-6"/>
<path d="M878 2570l6 1 6 2 6 0 6 0 6 2 6 2 6 0 6 1 6-2 6-2 6 1 6 1 6-3 6-3 6 1 6 0 6-5 6-7 6-6 6-9 6-15 6-17 6-20 6-24 6-26 6-21 6-15 6-10 6-3 6 4 6 6 6 9 6 14 6 16 6 18 6 20 6 22 6 20 6 18 6 17 6 16 6 11 6 9 6 12 6 6 6 1 6 1 6 2 6-2 6-3 6-2 6-4 6-5 6-5 6-2 6 1 6-3 6-8 6-1 6 8 6-3 6-14 6 9 6 9 6-25 6 0 6 30 6-14 6-24 6 22 6 13 6-18 6-2 6 15 6 4 6-13 6-11 6 12 6 6 6-17 6-1 6 18 6-3 6-11 6 8 6 8 6-9 6-6 6 5 6 2 6-3 6 0 6 2 6 2 6-1 6-3 6-2 6 0 6-1 6 1 6 4 6 3 6 0 6-1 10 1"/>
</g></g>
<text transform="translate(98.4 352.8) scale(1.116 1)" font-size="14.3">RH (1.01)</text>
<text transform="translate(99.4 479.4) scale(1.139 1)" font-size="14.2">RA (0.96)</text>
<text transform="translate(99.4 605.4) scale(1.128 1)" font-size="14.2">RP (0.78)</text>
<text transform="translate(312.2 352.5) scale(1.111 1)" font-size="14.2">LH (0.61)</text>
<line x1="313" y1="354.6" x2="377.6" y2="354.6" stroke="#111" stroke-width="1.3"/>
<text transform="translate(314.1 478.7) scale(1.126 1)" font-size="14.2">LA (0.63)</text>
<line x1="314.9" y1="481" x2="378.4" y2="481" stroke="#111" stroke-width="1.3"/>
<text transform="translate(314.1 605.4) scale(1.108 1)" font-size="14.2">LP (0.88)</text>
<line x1="98.3" y1="671.3" x2="165.3" y2="671.3" stroke="#222" stroke-width="1.2"/>
<line x1="98.3" y1="667.1" x2="98.3" y2="671.9" stroke="#222" stroke-width="1.2"/>
<line x1="165.3" y1="667.1" x2="165.3" y2="671.9" stroke="#222" stroke-width="1.2"/>
<text transform="translate(112.5 686.2) scale(1.030 1)" font-size="12">250ms</text>
<text transform="translate(71.9 707.8) scale(1.098 1)" font-size="13.8" font-weight="bold">SVH</text>
<text transform="translate(7.3 723.9) scale(1.038 1)" font-size="11.8">clockwise</text>
<line x1="7.1" y1="737.4" x2="7.1" y2="880.8" stroke="#111" stroke-width="1.4"/>
<line x1="6.4" y1="737.4" x2="14.2" y2="737.4" stroke="#111" stroke-width="1.4"/>
<line x1="6.4" y1="773.6" x2="14.2" y2="773.6" stroke="#111" stroke-width="1.4"/>
<line x1="6.4" y1="845.7" x2="14.2" y2="845.7" stroke="#111" stroke-width="1.4"/>
<line x1="6.4" y1="880.8" x2="14.2" y2="880.8" stroke="#111" stroke-width="1.4"/>
<text x="23" y="741.8" font-size="12" text-anchor="start" fill="#000">30</text>
<text x="23" y="778" font-size="12" text-anchor="start" fill="#000">15</text>
<text x="18.5" y="850" font-size="12" text-anchor="start" fill="#000">-15</text>
<text x="18.5" y="885.2" font-size="12" text-anchor="start" fill="#000">-30</text>
<line x1="7.1" y1="809.7" x2="166.1" y2="809.7" stroke="#111" stroke-width="1.4"/>
<polyline points="10.7,852.3 28,859.9 45,871 62.1,867.7 78.9,868.9 96,872 112.9,873.4 129.9,860.4 147.4,868.7 164.3,846.8" fill="none" stroke="#111" stroke-width="1.5"/>
<rect x="6.7" y="848.3" width="8" height="8" fill="#111"/>
<rect x="24" y="855.9" width="8" height="8" fill="#111"/>
<rect x="41" y="867" width="8" height="8" fill="#111"/>
<rect x="58.1" y="863.7" width="8" height="8" fill="#111"/>
<rect x="74.9" y="864.9" width="8" height="8" fill="#111"/>
<rect x="92" y="868" width="8" height="8" fill="#111"/>
<rect x="108.9" y="869.4" width="8" height="8" fill="#111"/>
<rect x="125.9" y="856.4" width="8" height="8" fill="#111"/>
<rect x="143.4" y="864.7" width="8" height="8" fill="#111"/>
<rect x="160.3" y="842.8" width="8" height="8" fill="#111"/>
<text transform="translate(6.6 900.9) scale(1.026 1)" font-size="11.8">counterclockwise</text>
<text transform="translate(266.4 707.8) scale(1.073 1)" font-size="13.8" font-weight="bold">audiogram</text>
<g stroke="#1c1c1c" stroke-width="1.05">
<line x1="221.5" y1="714" x2="221.5" y2="902"/>
<line x1="236.5" y1="714" x2="236.5" y2="902"/>
<line x1="252.5" y1="714" x2="252.5" y2="902"/>
<line x1="267.5" y1="714" x2="267.5" y2="902"/>
<line x1="283.5" y1="714" x2="283.5" y2="902"/>
<line x1="299.5" y1="714" x2="299.5" y2="902"/>
<line x1="314.5" y1="714" x2="314.5" y2="902"/>
<line x1="330.5" y1="714" x2="330.5" y2="902"/>
<line x1="345.5" y1="714" x2="345.5" y2="902"/>
<line x1="361.5" y1="714" x2="361.5" y2="902"/>
<line x1="377.5" y1="714" x2="377.5" y2="902"/>
<line x1="221" y1="714.5" x2="378" y2="714.5"/>
<line x1="221" y1="730.5" x2="378" y2="730.5"/>
<line x1="221" y1="745.5" x2="378" y2="745.5"/>
<line x1="221" y1="761.5" x2="378" y2="761.5"/>
<line x1="221" y1="776.5" x2="378" y2="776.5"/>
<line x1="221" y1="792.5" x2="378" y2="792.5"/>
<line x1="221" y1="808.5" x2="378" y2="808.5"/>
<line x1="221" y1="823.5" x2="378" y2="823.5"/>
<line x1="221" y1="839.5" x2="378" y2="839.5"/>
<line x1="221" y1="854.5" x2="378" y2="854.5"/>
<line x1="221" y1="870.5" x2="378" y2="870.5"/>
<line x1="221" y1="886.5" x2="378" y2="886.5"/>
<line x1="221" y1="901.5" x2="378" y2="901.5"/>
</g>
<text transform="translate(217.4 717) scale(0.8 0.95)" font-size="7.6" font-weight="bold" fill="#222" text-anchor="end">0</text>
<text transform="translate(217.4 748.2) scale(0.8 0.95)" font-size="7.6" font-weight="bold" fill="#222" text-anchor="end">20</text>
<text transform="translate(217.4 779.4) scale(0.8 0.95)" font-size="7.6" font-weight="bold" fill="#222" text-anchor="end">40</text>
<text transform="translate(217.4 810.6) scale(0.8 0.95)" font-size="7.6" font-weight="bold" fill="#222" text-anchor="end">60</text>
<text transform="translate(217.4 841.8) scale(0.8 0.95)" font-size="7.6" font-weight="bold" fill="#222" text-anchor="end">80</text>
<text transform="translate(217.4 873) scale(0.8 0.95)" font-size="7.6" font-weight="bold" fill="#222" text-anchor="end">100</text>
<text transform="translate(217.4 904.2) scale(0.8 0.95)" font-size="7.6" font-weight="bold" fill="#222" text-anchor="end">120</text>
<text transform="translate(220.8 910.9) scale(0.8 0.95)" font-size="7.6" font-weight="bold" fill="#222" text-anchor="middle">250</text>
<text transform="translate(252 910.9) scale(0.8 0.95)" font-size="7.6" font-weight="bold" fill="#222" text-anchor="middle">500</text>
<text transform="translate(283.2 910.9) scale(0.8 0.95)" font-size="7.6" font-weight="bold" fill="#222" text-anchor="middle">1k</text>
<text transform="translate(314.4 910.9) scale(0.8 0.95)" font-size="7.6" font-weight="bold" fill="#222" text-anchor="middle">2k</text>
<text transform="translate(345.6 910.9) scale(0.8 0.95)" font-size="7.6" font-weight="bold" fill="#222" text-anchor="middle">4k</text>
<text transform="translate(376.8 910.9) scale(0.8 0.95)" font-size="7.6" font-weight="bold" fill="#222" text-anchor="middle">8k</text>
<text transform="translate(204.6 808.3) rotate(-90)" font-size="13.2" text-anchor="middle">dB HL</text>
<polyline points="221.3,722.2 252.5,722.2 283.7,722.2 314.9,730 346.1,745.6 361.7,753.4 377.3,753.4" fill="none" stroke="#dc1812" stroke-width="1.8"/>
<polyline points="221.3,722.2 252.5,722.2 283.7,722.2 314.9,753.4 346.1,761.2 361.7,769 377.3,776.8" fill="none" stroke="#199bd1" stroke-width="1.8"/>
<circle cx="221.3" cy="722.2" r="4.3" fill="none" stroke="#dc1812" stroke-width="1.6"/>
<circle cx="252.5" cy="722.2" r="4.3" fill="none" stroke="#dc1812" stroke-width="1.6"/>
<circle cx="283.7" cy="722.2" r="4.3" fill="none" stroke="#dc1812" stroke-width="1.6"/>
<circle cx="314.9" cy="730" r="4.3" fill="none" stroke="#dc1812" stroke-width="1.6"/>
<circle cx="346.1" cy="745.6" r="4.3" fill="none" stroke="#dc1812" stroke-width="1.6"/>
<circle cx="361.7" cy="753.4" r="4.3" fill="none" stroke="#dc1812" stroke-width="1.6"/>
<circle cx="377.3" cy="753.4" r="4.3" fill="none" stroke="#dc1812" stroke-width="1.6"/>
<path d="M217 717.9L225.6 726.5M217 726.5L225.6 717.9" stroke="#199bd1" stroke-width="1.6"/>
<path d="M248.2 717.9L256.8 726.5M248.2 726.5L256.8 717.9" stroke="#199bd1" stroke-width="1.6"/>
<path d="M279.4 717.9L288 726.5M279.4 726.5L288 717.9" stroke="#199bd1" stroke-width="1.6"/>
<path d="M310.6 749.1L319.2 757.7M310.6 757.7L319.2 749.1" stroke="#199bd1" stroke-width="1.6"/>
<path d="M341.8 756.9L350.4 765.5M341.8 765.5L350.4 756.9" stroke="#199bd1" stroke-width="1.6"/>
<path d="M357.4 764.7L366 773.3M357.4 773.3L366 764.7" stroke="#199bd1" stroke-width="1.6"/>
<path d="M373 772.5L381.6 781.1M373 781.1L381.6 772.5" stroke="#199bd1" stroke-width="1.6"/>
<path d="M312.4 740.6L318.4 740.6L318.4 748.1L312.4 748.1" fill="none" stroke="#199bd1" stroke-width="1.4"/>
<path d="M343.6 748.4L349.6 748.4L349.6 755.9L343.6 755.9" fill="none" stroke="#199bd1" stroke-width="1.4"/>
<path d="M314.9 730.5L310.9 733.5L314.9 736.5" fill="none" stroke="#dc1812" stroke-width="1.3"/>
<path d="M347.6 739.6L343.6 742.6L347.6 745.6" fill="none" stroke="#dc1812" stroke-width="1.3"/>
</svg>
</body></html>
